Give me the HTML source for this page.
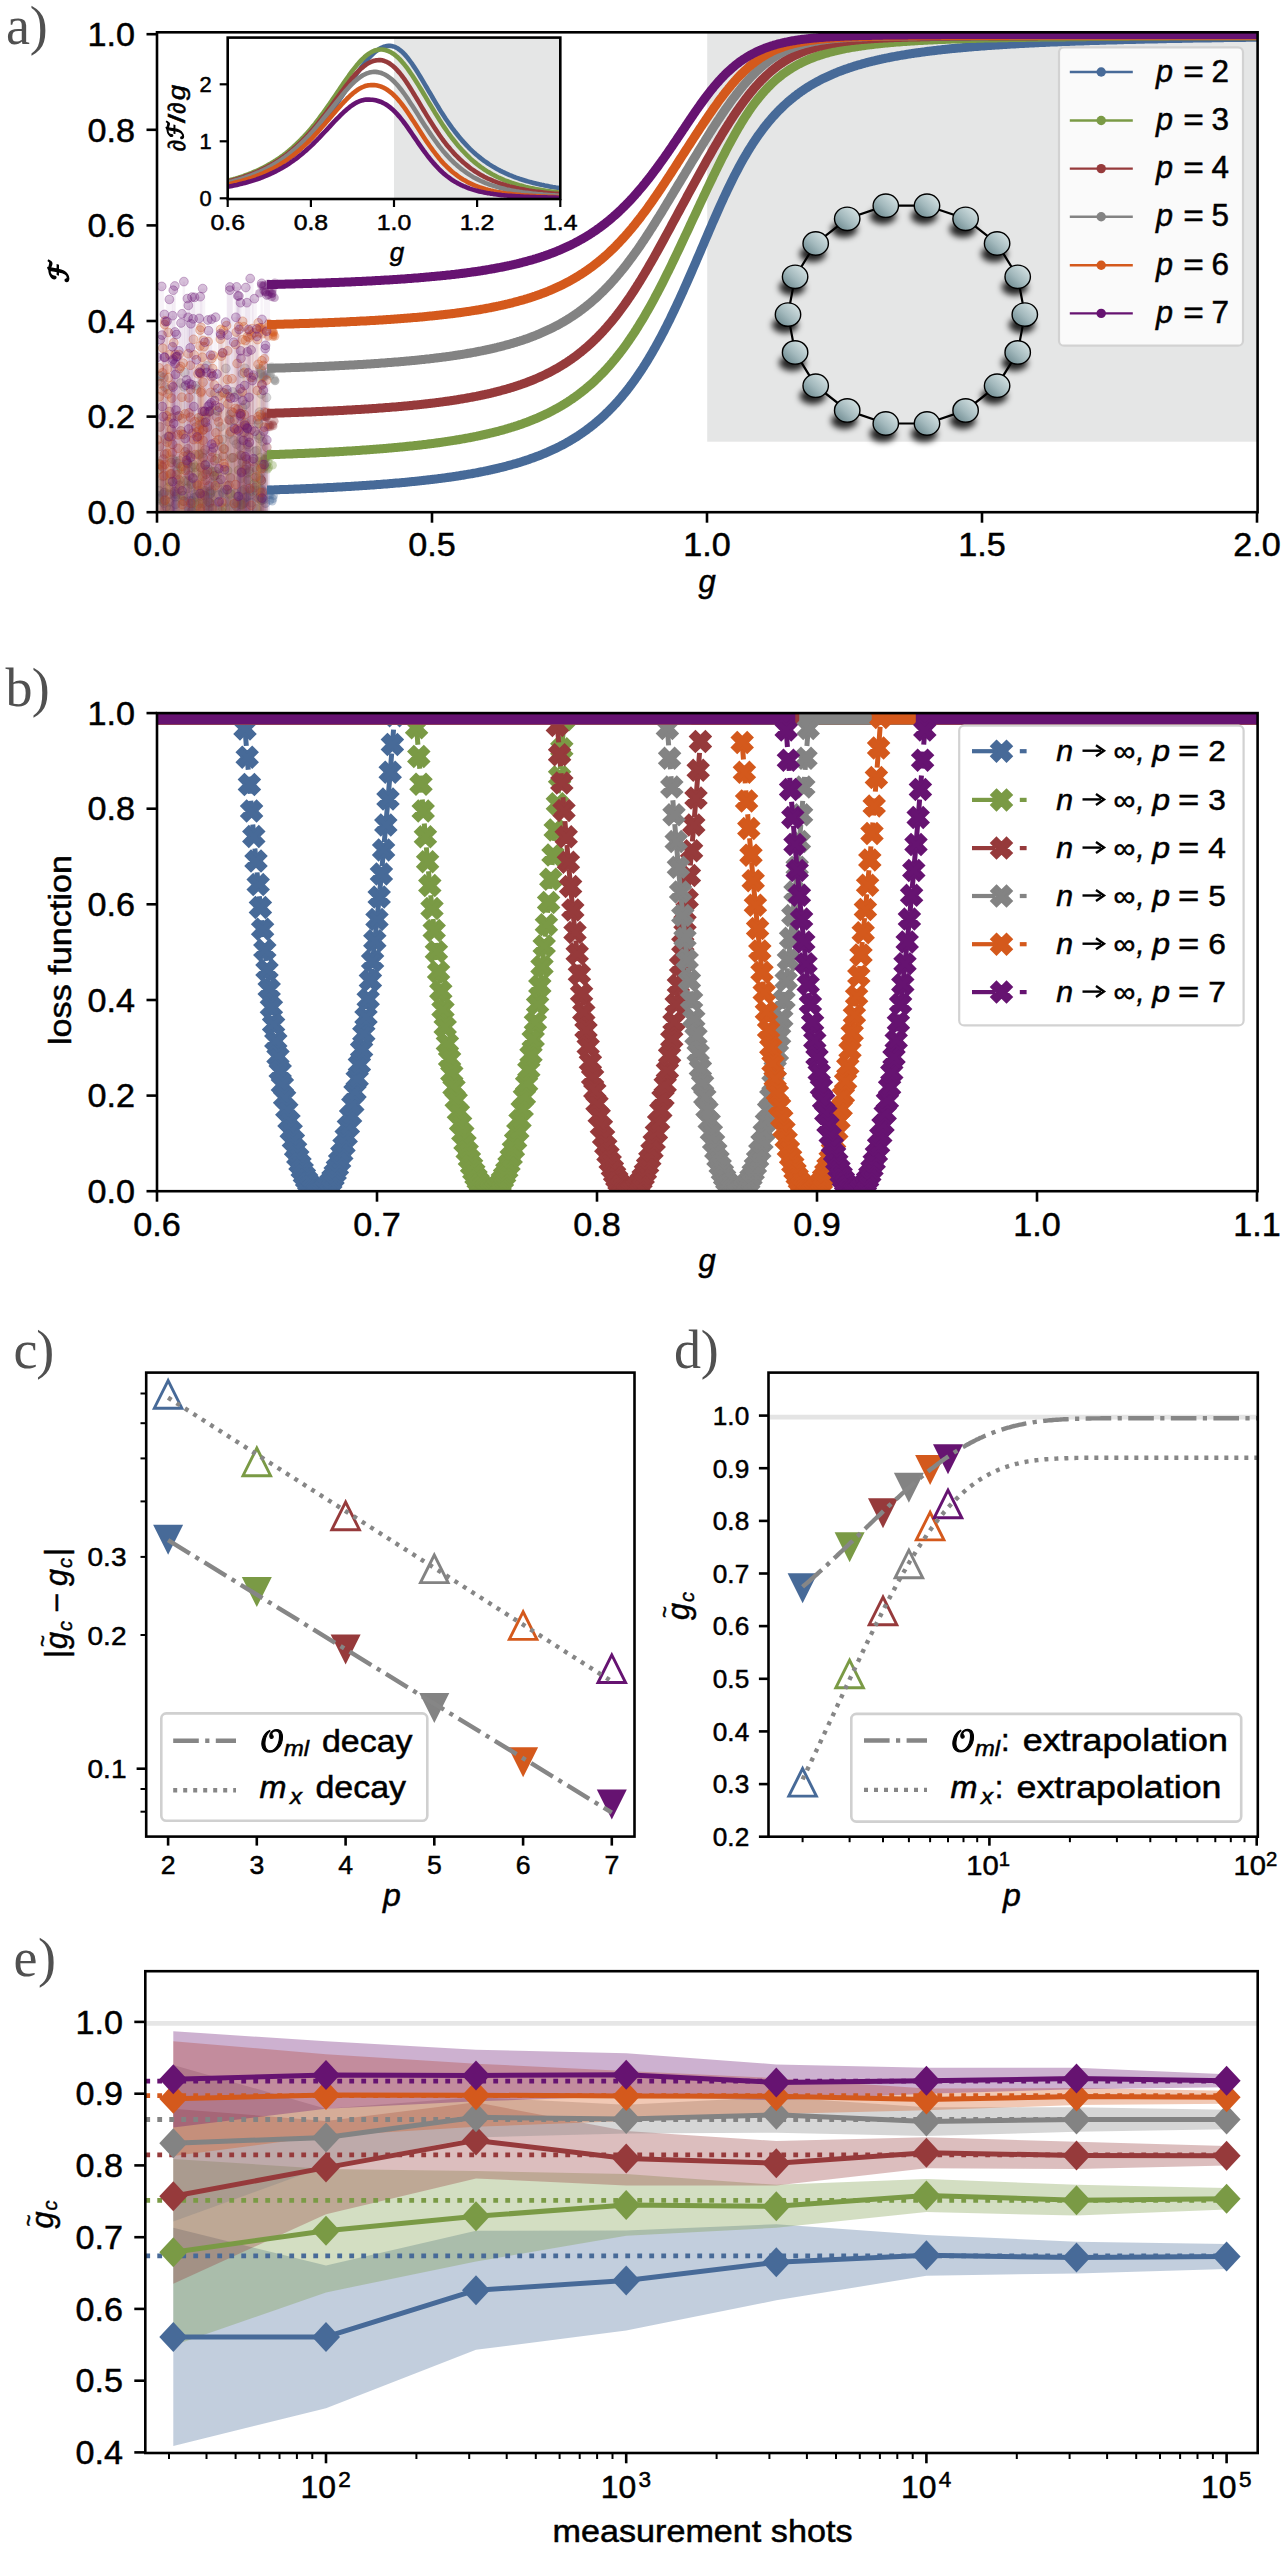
<!DOCTYPE html><html><head><meta charset="utf-8"><title>Figure</title><style>html,body{margin:0;padding:0;background:#fff;}svg{display:block;}</style></head><body><svg xmlns="http://www.w3.org/2000/svg" width="1288" height="2550" viewBox="0 0 1288 2550"><defs><clipPath id="clipA"><rect x="157" y="32.3" width="1100.6" height="479.9"/></clipPath><clipPath id="clipI"><rect x="227.7" y="37.6" width="332.6" height="161.4"/></clipPath><clipPath id="clipB"><rect x="157" y="713.1" width="1100.6" height="478.1"/></clipPath><clipPath id="clipC"><rect x="146" y="1372.6" width="488.5" height="463.9"/></clipPath><clipPath id="clipD"><rect x="768.5" y="1372.6" width="489.3" height="464.1"/></clipPath><clipPath id="clipE"><rect x="145" y="1971.2" width="1112.7" height="481.6"/></clipPath></defs><g id="panel-a"><rect x="707.2" y="32.3" width="550.4" height="409.4" fill="#e5e6e6" /><g clip-path="url(#clipA)"><rect x="174.5" y="494.4" width="4.6" height="18.6" fill="#476a98" fill-opacity="0.05"/><rect x="155.8" y="490.7" width="6.6" height="22.3" fill="#476a98" fill-opacity="0.05"/><rect x="205.1" y="501.3" width="5.6" height="11.7" fill="#476a98" fill-opacity="0.05"/><rect x="234.5" y="502.2" width="4.5" height="10.8" fill="#476a98" fill-opacity="0.05"/><rect x="201" y="493" width="4.5" height="20" fill="#476a98" fill-opacity="0.05"/><rect x="207.8" y="493.8" width="5.2" height="19.2" fill="#476a98" fill-opacity="0.05"/><rect x="156.3" y="496" width="4.2" height="17" fill="#476a98" fill-opacity="0.05"/><rect x="208.2" y="492.9" width="4.8" height="20.1" fill="#476a98" fill-opacity="0.05"/><rect x="257.2" y="496.2" width="6.9" height="16.8" fill="#476a98" fill-opacity="0.05"/><rect x="247.3" y="490.2" width="6.7" height="22.8" fill="#476a98" fill-opacity="0.05"/><rect x="234.2" y="502.7" width="6.2" height="10.3" fill="#476a98" fill-opacity="0.05"/><rect x="167.6" y="494.3" width="2.6" height="18.7" fill="#476a98" fill-opacity="0.05"/><rect x="252.9" y="490.4" width="4.8" height="22.6" fill="#476a98" fill-opacity="0.05"/><rect x="249.4" y="502.7" width="3.8" height="10.3" fill="#476a98" fill-opacity="0.05"/><rect x="171.9" y="496.8" width="6.6" height="16.2" fill="#476a98" fill-opacity="0.05"/><rect x="224.8" y="502" width="3.6" height="11" fill="#476a98" fill-opacity="0.05"/><rect x="155.9" y="499.9" width="6.7" height="13.1" fill="#476a98" fill-opacity="0.05"/><rect x="168.2" y="509.3" width="3.2" height="3.7" fill="#476a98" fill-opacity="0.05"/><rect x="189.7" y="511.2" width="4.1" height="1.8" fill="#476a98" fill-opacity="0.05"/><rect x="171" y="493.9" width="6.8" height="19.1" fill="#476a98" fill-opacity="0.05"/><rect x="238" y="500.1" width="5" height="12.9" fill="#476a98" fill-opacity="0.05"/><rect x="243.7" y="496.6" width="6.7" height="16.4" fill="#476a98" fill-opacity="0.05"/><rect x="192.6" y="494.3" width="4.7" height="18.7" fill="#476a98" fill-opacity="0.05"/><rect x="190.5" y="500.9" width="3.1" height="12.1" fill="#476a98" fill-opacity="0.05"/><rect x="166.5" y="502" width="5.6" height="11" fill="#476a98" fill-opacity="0.05"/><rect x="163.9" y="506.7" width="4.6" height="6.3" fill="#476a98" fill-opacity="0.05"/><rect x="233.1" y="493.3" width="4.5" height="19.7" fill="#476a98" fill-opacity="0.05"/><rect x="221.6" y="492.5" width="2.7" height="20.5" fill="#476a98" fill-opacity="0.05"/><rect x="161.8" y="494.4" width="2.7" height="18.6" fill="#476a98" fill-opacity="0.05"/><rect x="206.5" y="491.7" width="6.6" height="21.3" fill="#476a98" fill-opacity="0.05"/><rect x="197.8" y="496.1" width="6.8" height="16.9" fill="#476a98" fill-opacity="0.05"/><rect x="246.9" y="495.2" width="6.8" height="17.8" fill="#476a98" fill-opacity="0.05"/><rect x="234.1" y="506.1" width="3.8" height="6.9" fill="#476a98" fill-opacity="0.05"/><rect x="222.1" y="493.8" width="2.2" height="19.2" fill="#476a98" fill-opacity="0.05"/><rect x="215.4" y="502.7" width="4.8" height="10.3" fill="#476a98" fill-opacity="0.05"/><rect x="258.6" y="500.4" width="5.7" height="12.6" fill="#476a98" fill-opacity="0.05"/><rect x="262.9" y="503.1" width="5.2" height="9.9" fill="#476a98" fill-opacity="0.05"/><rect x="193.1" y="497.7" width="2.3" height="15.3" fill="#476a98" fill-opacity="0.05"/><rect x="181.8" y="495.9" width="3.2" height="17.1" fill="#476a98" fill-opacity="0.05"/><rect x="241.8" y="497.6" width="5.5" height="15.4" fill="#476a98" fill-opacity="0.05"/><rect x="162.9" y="503.1" width="2.3" height="9.9" fill="#476a98" fill-opacity="0.05"/><rect x="194" y="505.5" width="6.2" height="7.5" fill="#476a98" fill-opacity="0.05"/><rect x="161.2" y="492.3" width="6.9" height="20.7" fill="#476a98" fill-opacity="0.05"/><rect x="190.5" y="503.5" width="3.2" height="9.5" fill="#476a98" fill-opacity="0.05"/><rect x="163.6" y="500.4" width="2.3" height="12.6" fill="#476a98" fill-opacity="0.05"/><rect x="185.5" y="508.8" width="6.9" height="4.2" fill="#476a98" fill-opacity="0.05"/><rect x="241" y="503.5" width="5.8" height="9.5" fill="#476a98" fill-opacity="0.05"/><rect x="254.5" y="509" width="4.3" height="4" fill="#476a98" fill-opacity="0.05"/><rect x="242" y="502.5" width="4.4" height="10.5" fill="#476a98" fill-opacity="0.05"/><rect x="215.5" y="494.9" width="6.6" height="18.1" fill="#476a98" fill-opacity="0.05"/><rect x="222.9" y="489.9" width="3.8" height="23.1" fill="#476a98" fill-opacity="0.05"/><rect x="195.6" y="496.6" width="2.3" height="16.4" fill="#476a98" fill-opacity="0.05"/><rect x="173" y="504.2" width="5.1" height="8.8" fill="#476a98" fill-opacity="0.05"/><rect x="203.2" y="495.9" width="3.6" height="17.1" fill="#476a98" fill-opacity="0.05"/><rect x="234.9" y="496.5" width="5.4" height="16.5" fill="#476a98" fill-opacity="0.05"/><rect x="160.5" y="492.7" width="6.7" height="20.3" fill="#476a98" fill-opacity="0.05"/><rect x="157.4" y="498.4" width="3.8" height="14.6" fill="#476a98" fill-opacity="0.05"/><rect x="240.1" y="491.1" width="3.2" height="21.9" fill="#476a98" fill-opacity="0.05"/><rect x="188.9" y="500.9" width="2.3" height="12.1" fill="#476a98" fill-opacity="0.05"/><rect x="231" y="503.8" width="6.2" height="9.2" fill="#476a98" fill-opacity="0.05"/><circle cx="176.8" cy="494.4" r="4.4" fill="#476a98" fill-opacity="0.27" stroke="#476a98" stroke-opacity="0.3" stroke-width="1"/><circle cx="159.1" cy="490.7" r="4.4" fill="#476a98" fill-opacity="0.27" stroke="#476a98" stroke-opacity="0.3" stroke-width="1"/><circle cx="208" cy="501.3" r="4.4" fill="#476a98" fill-opacity="0.27" stroke="#476a98" stroke-opacity="0.3" stroke-width="1"/><circle cx="236.7" cy="502.2" r="4.4" fill="#476a98" fill-opacity="0.27" stroke="#476a98" stroke-opacity="0.3" stroke-width="1"/><circle cx="203.2" cy="493" r="4.4" fill="#476a98" fill-opacity="0.27" stroke="#476a98" stroke-opacity="0.3" stroke-width="1"/><circle cx="210.4" cy="493.8" r="4.4" fill="#476a98" fill-opacity="0.27" stroke="#476a98" stroke-opacity="0.3" stroke-width="1"/><circle cx="158.4" cy="496" r="4.4" fill="#476a98" fill-opacity="0.27" stroke="#476a98" stroke-opacity="0.3" stroke-width="1"/><circle cx="210.6" cy="492.9" r="4.4" fill="#476a98" fill-opacity="0.27" stroke="#476a98" stroke-opacity="0.3" stroke-width="1"/><circle cx="260.6" cy="496.2" r="4.4" fill="#476a98" fill-opacity="0.27" stroke="#476a98" stroke-opacity="0.3" stroke-width="1"/><circle cx="250.6" cy="490.2" r="4.4" fill="#476a98" fill-opacity="0.27" stroke="#476a98" stroke-opacity="0.3" stroke-width="1"/><circle cx="237.3" cy="502.7" r="4.4" fill="#476a98" fill-opacity="0.27" stroke="#476a98" stroke-opacity="0.3" stroke-width="1"/><circle cx="169" cy="494.3" r="4.4" fill="#476a98" fill-opacity="0.27" stroke="#476a98" stroke-opacity="0.3" stroke-width="1"/><circle cx="255.3" cy="490.4" r="4.4" fill="#476a98" fill-opacity="0.27" stroke="#476a98" stroke-opacity="0.3" stroke-width="1"/><circle cx="251.3" cy="502.7" r="4.4" fill="#476a98" fill-opacity="0.27" stroke="#476a98" stroke-opacity="0.3" stroke-width="1"/><circle cx="175.2" cy="496.8" r="4.4" fill="#476a98" fill-opacity="0.27" stroke="#476a98" stroke-opacity="0.3" stroke-width="1"/><circle cx="226.6" cy="502" r="4.4" fill="#476a98" fill-opacity="0.27" stroke="#476a98" stroke-opacity="0.3" stroke-width="1"/><circle cx="159.3" cy="499.9" r="4.4" fill="#476a98" fill-opacity="0.27" stroke="#476a98" stroke-opacity="0.3" stroke-width="1"/><circle cx="169.8" cy="509.3" r="4.4" fill="#476a98" fill-opacity="0.27" stroke="#476a98" stroke-opacity="0.3" stroke-width="1"/><circle cx="191.8" cy="511.2" r="4.4" fill="#476a98" fill-opacity="0.27" stroke="#476a98" stroke-opacity="0.3" stroke-width="1"/><circle cx="174.4" cy="493.9" r="4.4" fill="#476a98" fill-opacity="0.27" stroke="#476a98" stroke-opacity="0.3" stroke-width="1"/><circle cx="240.5" cy="500.1" r="4.4" fill="#476a98" fill-opacity="0.27" stroke="#476a98" stroke-opacity="0.3" stroke-width="1"/><circle cx="247" cy="496.6" r="4.4" fill="#476a98" fill-opacity="0.27" stroke="#476a98" stroke-opacity="0.3" stroke-width="1"/><circle cx="194.9" cy="494.3" r="4.4" fill="#476a98" fill-opacity="0.27" stroke="#476a98" stroke-opacity="0.3" stroke-width="1"/><circle cx="192.1" cy="500.9" r="4.4" fill="#476a98" fill-opacity="0.27" stroke="#476a98" stroke-opacity="0.3" stroke-width="1"/><circle cx="169.3" cy="502" r="4.4" fill="#476a98" fill-opacity="0.27" stroke="#476a98" stroke-opacity="0.3" stroke-width="1"/><circle cx="166.2" cy="506.7" r="4.4" fill="#476a98" fill-opacity="0.27" stroke="#476a98" stroke-opacity="0.3" stroke-width="1"/><circle cx="235.4" cy="493.3" r="4.4" fill="#476a98" fill-opacity="0.27" stroke="#476a98" stroke-opacity="0.3" stroke-width="1"/><circle cx="222.9" cy="492.5" r="4.4" fill="#476a98" fill-opacity="0.27" stroke="#476a98" stroke-opacity="0.3" stroke-width="1"/><circle cx="163.1" cy="494.4" r="4.4" fill="#476a98" fill-opacity="0.27" stroke="#476a98" stroke-opacity="0.3" stroke-width="1"/><circle cx="209.8" cy="491.7" r="4.4" fill="#476a98" fill-opacity="0.27" stroke="#476a98" stroke-opacity="0.3" stroke-width="1"/><circle cx="201.2" cy="496.1" r="4.4" fill="#476a98" fill-opacity="0.27" stroke="#476a98" stroke-opacity="0.3" stroke-width="1"/><circle cx="250.3" cy="495.2" r="4.4" fill="#476a98" fill-opacity="0.27" stroke="#476a98" stroke-opacity="0.3" stroke-width="1"/><circle cx="236" cy="506.1" r="4.4" fill="#476a98" fill-opacity="0.27" stroke="#476a98" stroke-opacity="0.3" stroke-width="1"/><circle cx="223.2" cy="493.8" r="4.4" fill="#476a98" fill-opacity="0.27" stroke="#476a98" stroke-opacity="0.3" stroke-width="1"/><circle cx="217.8" cy="502.7" r="4.4" fill="#476a98" fill-opacity="0.27" stroke="#476a98" stroke-opacity="0.3" stroke-width="1"/><circle cx="261.4" cy="500.4" r="4.4" fill="#476a98" fill-opacity="0.27" stroke="#476a98" stroke-opacity="0.3" stroke-width="1"/><circle cx="265.5" cy="503.1" r="4.4" fill="#476a98" fill-opacity="0.27" stroke="#476a98" stroke-opacity="0.3" stroke-width="1"/><circle cx="194.2" cy="497.7" r="4.4" fill="#476a98" fill-opacity="0.27" stroke="#476a98" stroke-opacity="0.3" stroke-width="1"/><circle cx="183.4" cy="495.9" r="4.4" fill="#476a98" fill-opacity="0.27" stroke="#476a98" stroke-opacity="0.3" stroke-width="1"/><circle cx="244.6" cy="497.6" r="4.4" fill="#476a98" fill-opacity="0.27" stroke="#476a98" stroke-opacity="0.3" stroke-width="1"/><circle cx="164" cy="503.1" r="4.4" fill="#476a98" fill-opacity="0.27" stroke="#476a98" stroke-opacity="0.3" stroke-width="1"/><circle cx="197.1" cy="505.5" r="4.4" fill="#476a98" fill-opacity="0.27" stroke="#476a98" stroke-opacity="0.3" stroke-width="1"/><circle cx="164.7" cy="492.3" r="4.4" fill="#476a98" fill-opacity="0.27" stroke="#476a98" stroke-opacity="0.3" stroke-width="1"/><circle cx="192.1" cy="503.5" r="4.4" fill="#476a98" fill-opacity="0.27" stroke="#476a98" stroke-opacity="0.3" stroke-width="1"/><circle cx="164.7" cy="500.4" r="4.4" fill="#476a98" fill-opacity="0.27" stroke="#476a98" stroke-opacity="0.3" stroke-width="1"/><circle cx="188.9" cy="508.8" r="4.4" fill="#476a98" fill-opacity="0.27" stroke="#476a98" stroke-opacity="0.3" stroke-width="1"/><circle cx="243.9" cy="503.5" r="4.4" fill="#476a98" fill-opacity="0.27" stroke="#476a98" stroke-opacity="0.3" stroke-width="1"/><circle cx="256.6" cy="509" r="4.4" fill="#476a98" fill-opacity="0.27" stroke="#476a98" stroke-opacity="0.3" stroke-width="1"/><circle cx="244.2" cy="502.5" r="4.4" fill="#476a98" fill-opacity="0.27" stroke="#476a98" stroke-opacity="0.3" stroke-width="1"/><circle cx="218.8" cy="494.9" r="4.4" fill="#476a98" fill-opacity="0.27" stroke="#476a98" stroke-opacity="0.3" stroke-width="1"/><circle cx="224.8" cy="489.9" r="4.4" fill="#476a98" fill-opacity="0.27" stroke="#476a98" stroke-opacity="0.3" stroke-width="1"/><circle cx="196.8" cy="496.6" r="4.4" fill="#476a98" fill-opacity="0.27" stroke="#476a98" stroke-opacity="0.3" stroke-width="1"/><circle cx="175.6" cy="504.2" r="4.4" fill="#476a98" fill-opacity="0.27" stroke="#476a98" stroke-opacity="0.3" stroke-width="1"/><circle cx="205" cy="495.9" r="4.4" fill="#476a98" fill-opacity="0.27" stroke="#476a98" stroke-opacity="0.3" stroke-width="1"/><circle cx="237.6" cy="496.5" r="4.4" fill="#476a98" fill-opacity="0.27" stroke="#476a98" stroke-opacity="0.3" stroke-width="1"/><circle cx="163.9" cy="492.7" r="4.4" fill="#476a98" fill-opacity="0.27" stroke="#476a98" stroke-opacity="0.3" stroke-width="1"/><circle cx="159.3" cy="498.4" r="4.4" fill="#476a98" fill-opacity="0.27" stroke="#476a98" stroke-opacity="0.3" stroke-width="1"/><circle cx="241.8" cy="491.1" r="4.4" fill="#476a98" fill-opacity="0.27" stroke="#476a98" stroke-opacity="0.3" stroke-width="1"/><circle cx="190" cy="500.9" r="4.4" fill="#476a98" fill-opacity="0.27" stroke="#476a98" stroke-opacity="0.3" stroke-width="1"/><circle cx="234.1" cy="503.8" r="4.4" fill="#476a98" fill-opacity="0.27" stroke="#476a98" stroke-opacity="0.3" stroke-width="1"/><circle cx="260" cy="489" r="4.3" fill="#476a98" fill-opacity="0.35"/><circle cx="270.4" cy="489.6" r="4.3" fill="#476a98" fill-opacity="0.35"/><circle cx="272.2" cy="501.3" r="4.3" fill="#476a98" fill-opacity="0.35"/><circle cx="261.7" cy="488.8" r="4.3" fill="#476a98" fill-opacity="0.35"/><circle cx="263.6" cy="491.6" r="4.3" fill="#476a98" fill-opacity="0.35"/><circle cx="261.6" cy="499.6" r="4.3" fill="#476a98" fill-opacity="0.35"/><circle cx="269.9" cy="500.4" r="4.3" fill="#476a98" fill-opacity="0.35"/><circle cx="271.2" cy="490.2" r="4.3" fill="#476a98" fill-opacity="0.35"/><circle cx="264" cy="499.6" r="4.3" fill="#476a98" fill-opacity="0.35"/><circle cx="259.2" cy="497.6" r="4.3" fill="#476a98" fill-opacity="0.35"/><circle cx="259.8" cy="495.1" r="4.3" fill="#476a98" fill-opacity="0.35"/><circle cx="270.1" cy="495.2" r="4.3" fill="#476a98" fill-opacity="0.35"/><circle cx="268.7" cy="494.7" r="4.3" fill="#476a98" fill-opacity="0.35"/><circle cx="273.6" cy="495.8" r="4.3" fill="#476a98" fill-opacity="0.35"/><circle cx="273" cy="498.7" r="4.3" fill="#476a98" fill-opacity="0.35"/><circle cx="261.1" cy="500.8" r="4.3" fill="#476a98" fill-opacity="0.35"/><rect x="242" y="489.5" width="4.6" height="23.5" fill="#7a9a45" fill-opacity="0.05"/><rect x="180.1" y="495.3" width="4.3" height="17.7" fill="#7a9a45" fill-opacity="0.05"/><rect x="240.7" y="504.9" width="2.6" height="8.1" fill="#7a9a45" fill-opacity="0.05"/><rect x="253" y="485.1" width="6.7" height="27.9" fill="#7a9a45" fill-opacity="0.05"/><rect x="215.6" y="474.9" width="2.6" height="38.1" fill="#7a9a45" fill-opacity="0.05"/><rect x="169.3" y="459.2" width="6.8" height="53.8" fill="#7a9a45" fill-opacity="0.05"/><rect x="223.8" y="508.3" width="3.6" height="4.7" fill="#7a9a45" fill-opacity="0.05"/><rect x="197" y="503.6" width="3.4" height="9.4" fill="#7a9a45" fill-opacity="0.05"/><rect x="253.6" y="470.2" width="6.7" height="42.8" fill="#7a9a45" fill-opacity="0.05"/><rect x="178.2" y="469.2" width="6.8" height="43.8" fill="#7a9a45" fill-opacity="0.05"/><rect x="180" y="501.1" width="5.5" height="11.9" fill="#7a9a45" fill-opacity="0.05"/><rect x="206.7" y="503.1" width="6.8" height="9.9" fill="#7a9a45" fill-opacity="0.05"/><rect x="209.9" y="508.8" width="2.9" height="4.2" fill="#7a9a45" fill-opacity="0.05"/><rect x="174.5" y="470.4" width="6.3" height="42.6" fill="#7a9a45" fill-opacity="0.05"/><rect x="195.6" y="490.9" width="5.1" height="22.1" fill="#7a9a45" fill-opacity="0.05"/><rect x="228.8" y="493.3" width="3.5" height="19.7" fill="#7a9a45" fill-opacity="0.05"/><rect x="206.3" y="469.6" width="5" height="43.4" fill="#7a9a45" fill-opacity="0.05"/><rect x="162.3" y="501.3" width="2.5" height="11.7" fill="#7a9a45" fill-opacity="0.05"/><rect x="199.7" y="476.3" width="6" height="36.7" fill="#7a9a45" fill-opacity="0.05"/><rect x="200.1" y="503.5" width="5.2" height="9.5" fill="#7a9a45" fill-opacity="0.05"/><rect x="205" y="505.5" width="2.5" height="7.5" fill="#7a9a45" fill-opacity="0.05"/><rect x="158.1" y="469.4" width="3.1" height="43.6" fill="#7a9a45" fill-opacity="0.05"/><rect x="185.4" y="463.2" width="3.5" height="49.8" fill="#7a9a45" fill-opacity="0.05"/><rect x="259.4" y="480.3" width="4.4" height="32.7" fill="#7a9a45" fill-opacity="0.05"/><rect x="252.6" y="483.7" width="3.2" height="29.3" fill="#7a9a45" fill-opacity="0.05"/><rect x="258.7" y="467.7" width="3.5" height="45.3" fill="#7a9a45" fill-opacity="0.05"/><rect x="238.1" y="504.7" width="4.8" height="8.3" fill="#7a9a45" fill-opacity="0.05"/><rect x="203.4" y="491" width="2.7" height="22" fill="#7a9a45" fill-opacity="0.05"/><rect x="257.2" y="457.6" width="5.8" height="55.4" fill="#7a9a45" fill-opacity="0.05"/><rect x="187.9" y="455.5" width="4.3" height="57.5" fill="#7a9a45" fill-opacity="0.05"/><rect x="220.2" y="507.8" width="4" height="5.2" fill="#7a9a45" fill-opacity="0.05"/><rect x="219.2" y="511.6" width="4.9" height="1.4" fill="#7a9a45" fill-opacity="0.05"/><rect x="204.1" y="464.3" width="2.8" height="48.7" fill="#7a9a45" fill-opacity="0.05"/><rect x="181.3" y="480.9" width="6.5" height="32.1" fill="#7a9a45" fill-opacity="0.05"/><rect x="192.1" y="464.6" width="2.6" height="48.4" fill="#7a9a45" fill-opacity="0.05"/><rect x="225.4" y="470.7" width="4.7" height="42.3" fill="#7a9a45" fill-opacity="0.05"/><rect x="184.8" y="481.1" width="6.8" height="31.9" fill="#7a9a45" fill-opacity="0.05"/><rect x="193.7" y="467.2" width="2.7" height="45.8" fill="#7a9a45" fill-opacity="0.05"/><rect x="193.2" y="472.7" width="5.5" height="40.3" fill="#7a9a45" fill-opacity="0.05"/><rect x="189.3" y="510.1" width="6.9" height="2.9" fill="#7a9a45" fill-opacity="0.05"/><rect x="244.6" y="480.1" width="7" height="32.9" fill="#7a9a45" fill-opacity="0.05"/><rect x="215.2" y="458.7" width="3.7" height="54.3" fill="#7a9a45" fill-opacity="0.05"/><rect x="156.5" y="463.7" width="5.1" height="49.3" fill="#7a9a45" fill-opacity="0.05"/><rect x="235.2" y="470.1" width="6.7" height="42.9" fill="#7a9a45" fill-opacity="0.05"/><rect x="209.7" y="471.8" width="5.1" height="41.2" fill="#7a9a45" fill-opacity="0.05"/><rect x="239.5" y="461.9" width="6.4" height="51.1" fill="#7a9a45" fill-opacity="0.05"/><rect x="208.7" y="490.2" width="5.5" height="22.8" fill="#7a9a45" fill-opacity="0.05"/><rect x="190.1" y="484.1" width="2.2" height="28.9" fill="#7a9a45" fill-opacity="0.05"/><rect x="247.5" y="471.3" width="3.7" height="41.7" fill="#7a9a45" fill-opacity="0.05"/><rect x="172.8" y="461.7" width="6.5" height="51.3" fill="#7a9a45" fill-opacity="0.05"/><rect x="185.4" y="488.4" width="4.3" height="24.6" fill="#7a9a45" fill-opacity="0.05"/><rect x="208.2" y="498" width="4.2" height="15" fill="#7a9a45" fill-opacity="0.05"/><rect x="249.8" y="491.3" width="3.5" height="21.7" fill="#7a9a45" fill-opacity="0.05"/><rect x="168.3" y="481.6" width="2.8" height="31.4" fill="#7a9a45" fill-opacity="0.05"/><rect x="191.6" y="502.9" width="5.3" height="10.1" fill="#7a9a45" fill-opacity="0.05"/><rect x="213.6" y="471.4" width="4" height="41.6" fill="#7a9a45" fill-opacity="0.05"/><rect x="228.4" y="458" width="6.4" height="55" fill="#7a9a45" fill-opacity="0.05"/><rect x="167.5" y="487.1" width="2.2" height="25.9" fill="#7a9a45" fill-opacity="0.05"/><rect x="236.9" y="455.2" width="6.4" height="57.8" fill="#7a9a45" fill-opacity="0.05"/><rect x="217" y="482.7" width="2.5" height="30.3" fill="#7a9a45" fill-opacity="0.05"/><rect x="210.8" y="476.3" width="6.1" height="36.7" fill="#7a9a45" fill-opacity="0.05"/><rect x="196.8" y="454.2" width="4.3" height="58.8" fill="#7a9a45" fill-opacity="0.05"/><rect x="188.8" y="467.2" width="5.7" height="45.8" fill="#7a9a45" fill-opacity="0.05"/><rect x="252.8" y="477.9" width="4.3" height="35.1" fill="#7a9a45" fill-opacity="0.05"/><rect x="264.9" y="465" width="2.8" height="48" fill="#7a9a45" fill-opacity="0.05"/><rect x="172.9" y="479.7" width="6.7" height="33.3" fill="#7a9a45" fill-opacity="0.05"/><rect x="177.7" y="466.7" width="5.2" height="46.3" fill="#7a9a45" fill-opacity="0.05"/><rect x="228.8" y="494.4" width="3.1" height="18.6" fill="#7a9a45" fill-opacity="0.05"/><rect x="238.6" y="504.6" width="5" height="8.4" fill="#7a9a45" fill-opacity="0.05"/><rect x="246" y="473" width="3" height="40" fill="#7a9a45" fill-opacity="0.05"/><circle cx="244.3" cy="489.5" r="4.4" fill="#7a9a45" fill-opacity="0.27" stroke="#7a9a45" stroke-opacity="0.3" stroke-width="1"/><circle cx="182.3" cy="495.3" r="4.4" fill="#7a9a45" fill-opacity="0.27" stroke="#7a9a45" stroke-opacity="0.3" stroke-width="1"/><circle cx="242" cy="504.9" r="4.4" fill="#7a9a45" fill-opacity="0.27" stroke="#7a9a45" stroke-opacity="0.3" stroke-width="1"/><circle cx="256.3" cy="485.1" r="4.4" fill="#7a9a45" fill-opacity="0.27" stroke="#7a9a45" stroke-opacity="0.3" stroke-width="1"/><circle cx="216.9" cy="474.9" r="4.4" fill="#7a9a45" fill-opacity="0.27" stroke="#7a9a45" stroke-opacity="0.3" stroke-width="1"/><circle cx="172.8" cy="459.2" r="4.4" fill="#7a9a45" fill-opacity="0.27" stroke="#7a9a45" stroke-opacity="0.3" stroke-width="1"/><circle cx="225.6" cy="508.3" r="4.4" fill="#7a9a45" fill-opacity="0.27" stroke="#7a9a45" stroke-opacity="0.3" stroke-width="1"/><circle cx="198.7" cy="503.6" r="4.4" fill="#7a9a45" fill-opacity="0.27" stroke="#7a9a45" stroke-opacity="0.3" stroke-width="1"/><circle cx="256.9" cy="470.2" r="4.4" fill="#7a9a45" fill-opacity="0.27" stroke="#7a9a45" stroke-opacity="0.3" stroke-width="1"/><circle cx="181.6" cy="469.2" r="4.4" fill="#7a9a45" fill-opacity="0.27" stroke="#7a9a45" stroke-opacity="0.3" stroke-width="1"/><circle cx="182.8" cy="501.1" r="4.4" fill="#7a9a45" fill-opacity="0.27" stroke="#7a9a45" stroke-opacity="0.3" stroke-width="1"/><circle cx="210.1" cy="503.1" r="4.4" fill="#7a9a45" fill-opacity="0.27" stroke="#7a9a45" stroke-opacity="0.3" stroke-width="1"/><circle cx="211.3" cy="508.8" r="4.4" fill="#7a9a45" fill-opacity="0.27" stroke="#7a9a45" stroke-opacity="0.3" stroke-width="1"/><circle cx="177.7" cy="470.4" r="4.4" fill="#7a9a45" fill-opacity="0.27" stroke="#7a9a45" stroke-opacity="0.3" stroke-width="1"/><circle cx="198.2" cy="490.9" r="4.4" fill="#7a9a45" fill-opacity="0.27" stroke="#7a9a45" stroke-opacity="0.3" stroke-width="1"/><circle cx="230.5" cy="493.3" r="4.4" fill="#7a9a45" fill-opacity="0.27" stroke="#7a9a45" stroke-opacity="0.3" stroke-width="1"/><circle cx="208.8" cy="469.6" r="4.4" fill="#7a9a45" fill-opacity="0.27" stroke="#7a9a45" stroke-opacity="0.3" stroke-width="1"/><circle cx="163.6" cy="501.3" r="4.4" fill="#7a9a45" fill-opacity="0.27" stroke="#7a9a45" stroke-opacity="0.3" stroke-width="1"/><circle cx="202.7" cy="476.3" r="4.4" fill="#7a9a45" fill-opacity="0.27" stroke="#7a9a45" stroke-opacity="0.3" stroke-width="1"/><circle cx="202.7" cy="503.5" r="4.4" fill="#7a9a45" fill-opacity="0.27" stroke="#7a9a45" stroke-opacity="0.3" stroke-width="1"/><circle cx="206.2" cy="505.5" r="4.4" fill="#7a9a45" fill-opacity="0.27" stroke="#7a9a45" stroke-opacity="0.3" stroke-width="1"/><circle cx="159.6" cy="469.4" r="4.4" fill="#7a9a45" fill-opacity="0.27" stroke="#7a9a45" stroke-opacity="0.3" stroke-width="1"/><circle cx="187.1" cy="463.2" r="4.4" fill="#7a9a45" fill-opacity="0.27" stroke="#7a9a45" stroke-opacity="0.3" stroke-width="1"/><circle cx="261.5" cy="480.3" r="4.4" fill="#7a9a45" fill-opacity="0.27" stroke="#7a9a45" stroke-opacity="0.3" stroke-width="1"/><circle cx="254.1" cy="483.7" r="4.4" fill="#7a9a45" fill-opacity="0.27" stroke="#7a9a45" stroke-opacity="0.3" stroke-width="1"/><circle cx="260.5" cy="467.7" r="4.4" fill="#7a9a45" fill-opacity="0.27" stroke="#7a9a45" stroke-opacity="0.3" stroke-width="1"/><circle cx="240.5" cy="504.7" r="4.4" fill="#7a9a45" fill-opacity="0.27" stroke="#7a9a45" stroke-opacity="0.3" stroke-width="1"/><circle cx="204.7" cy="491" r="4.4" fill="#7a9a45" fill-opacity="0.27" stroke="#7a9a45" stroke-opacity="0.3" stroke-width="1"/><circle cx="260.1" cy="457.6" r="4.4" fill="#7a9a45" fill-opacity="0.27" stroke="#7a9a45" stroke-opacity="0.3" stroke-width="1"/><circle cx="190.1" cy="455.5" r="4.4" fill="#7a9a45" fill-opacity="0.27" stroke="#7a9a45" stroke-opacity="0.3" stroke-width="1"/><circle cx="222.3" cy="507.8" r="4.4" fill="#7a9a45" fill-opacity="0.27" stroke="#7a9a45" stroke-opacity="0.3" stroke-width="1"/><circle cx="221.6" cy="511.6" r="4.4" fill="#7a9a45" fill-opacity="0.27" stroke="#7a9a45" stroke-opacity="0.3" stroke-width="1"/><circle cx="205.5" cy="464.3" r="4.4" fill="#7a9a45" fill-opacity="0.27" stroke="#7a9a45" stroke-opacity="0.3" stroke-width="1"/><circle cx="184.5" cy="480.9" r="4.4" fill="#7a9a45" fill-opacity="0.27" stroke="#7a9a45" stroke-opacity="0.3" stroke-width="1"/><circle cx="193.4" cy="464.6" r="4.4" fill="#7a9a45" fill-opacity="0.27" stroke="#7a9a45" stroke-opacity="0.3" stroke-width="1"/><circle cx="227.7" cy="470.7" r="4.4" fill="#7a9a45" fill-opacity="0.27" stroke="#7a9a45" stroke-opacity="0.3" stroke-width="1"/><circle cx="188.2" cy="481.1" r="4.4" fill="#7a9a45" fill-opacity="0.27" stroke="#7a9a45" stroke-opacity="0.3" stroke-width="1"/><circle cx="195.1" cy="467.2" r="4.4" fill="#7a9a45" fill-opacity="0.27" stroke="#7a9a45" stroke-opacity="0.3" stroke-width="1"/><circle cx="196" cy="472.7" r="4.4" fill="#7a9a45" fill-opacity="0.27" stroke="#7a9a45" stroke-opacity="0.3" stroke-width="1"/><circle cx="192.7" cy="510.1" r="4.4" fill="#7a9a45" fill-opacity="0.27" stroke="#7a9a45" stroke-opacity="0.3" stroke-width="1"/><circle cx="248.1" cy="480.1" r="4.4" fill="#7a9a45" fill-opacity="0.27" stroke="#7a9a45" stroke-opacity="0.3" stroke-width="1"/><circle cx="217" cy="458.7" r="4.4" fill="#7a9a45" fill-opacity="0.27" stroke="#7a9a45" stroke-opacity="0.3" stroke-width="1"/><circle cx="159" cy="463.7" r="4.4" fill="#7a9a45" fill-opacity="0.27" stroke="#7a9a45" stroke-opacity="0.3" stroke-width="1"/><circle cx="238.6" cy="470.1" r="4.4" fill="#7a9a45" fill-opacity="0.27" stroke="#7a9a45" stroke-opacity="0.3" stroke-width="1"/><circle cx="212.2" cy="471.8" r="4.4" fill="#7a9a45" fill-opacity="0.27" stroke="#7a9a45" stroke-opacity="0.3" stroke-width="1"/><circle cx="242.7" cy="461.9" r="4.4" fill="#7a9a45" fill-opacity="0.27" stroke="#7a9a45" stroke-opacity="0.3" stroke-width="1"/><circle cx="211.4" cy="490.2" r="4.4" fill="#7a9a45" fill-opacity="0.27" stroke="#7a9a45" stroke-opacity="0.3" stroke-width="1"/><circle cx="191.2" cy="484.1" r="4.4" fill="#7a9a45" fill-opacity="0.27" stroke="#7a9a45" stroke-opacity="0.3" stroke-width="1"/><circle cx="249.3" cy="471.3" r="4.4" fill="#7a9a45" fill-opacity="0.27" stroke="#7a9a45" stroke-opacity="0.3" stroke-width="1"/><circle cx="176.1" cy="461.7" r="4.4" fill="#7a9a45" fill-opacity="0.27" stroke="#7a9a45" stroke-opacity="0.3" stroke-width="1"/><circle cx="187.6" cy="488.4" r="4.4" fill="#7a9a45" fill-opacity="0.27" stroke="#7a9a45" stroke-opacity="0.3" stroke-width="1"/><circle cx="210.3" cy="498" r="4.4" fill="#7a9a45" fill-opacity="0.27" stroke="#7a9a45" stroke-opacity="0.3" stroke-width="1"/><circle cx="251.6" cy="491.3" r="4.4" fill="#7a9a45" fill-opacity="0.27" stroke="#7a9a45" stroke-opacity="0.3" stroke-width="1"/><circle cx="169.7" cy="481.6" r="4.4" fill="#7a9a45" fill-opacity="0.27" stroke="#7a9a45" stroke-opacity="0.3" stroke-width="1"/><circle cx="194.3" cy="502.9" r="4.4" fill="#7a9a45" fill-opacity="0.27" stroke="#7a9a45" stroke-opacity="0.3" stroke-width="1"/><circle cx="215.5" cy="471.4" r="4.4" fill="#7a9a45" fill-opacity="0.27" stroke="#7a9a45" stroke-opacity="0.3" stroke-width="1"/><circle cx="231.6" cy="458" r="4.4" fill="#7a9a45" fill-opacity="0.27" stroke="#7a9a45" stroke-opacity="0.3" stroke-width="1"/><circle cx="168.6" cy="487.1" r="4.4" fill="#7a9a45" fill-opacity="0.27" stroke="#7a9a45" stroke-opacity="0.3" stroke-width="1"/><circle cx="240.1" cy="455.2" r="4.4" fill="#7a9a45" fill-opacity="0.27" stroke="#7a9a45" stroke-opacity="0.3" stroke-width="1"/><circle cx="218.3" cy="482.7" r="4.4" fill="#7a9a45" fill-opacity="0.27" stroke="#7a9a45" stroke-opacity="0.3" stroke-width="1"/><circle cx="213.9" cy="476.3" r="4.4" fill="#7a9a45" fill-opacity="0.27" stroke="#7a9a45" stroke-opacity="0.3" stroke-width="1"/><circle cx="198.9" cy="454.2" r="4.4" fill="#7a9a45" fill-opacity="0.27" stroke="#7a9a45" stroke-opacity="0.3" stroke-width="1"/><circle cx="191.6" cy="467.2" r="4.4" fill="#7a9a45" fill-opacity="0.27" stroke="#7a9a45" stroke-opacity="0.3" stroke-width="1"/><circle cx="255" cy="477.9" r="4.4" fill="#7a9a45" fill-opacity="0.27" stroke="#7a9a45" stroke-opacity="0.3" stroke-width="1"/><circle cx="266.3" cy="465" r="4.4" fill="#7a9a45" fill-opacity="0.27" stroke="#7a9a45" stroke-opacity="0.3" stroke-width="1"/><circle cx="176.3" cy="479.7" r="4.4" fill="#7a9a45" fill-opacity="0.27" stroke="#7a9a45" stroke-opacity="0.3" stroke-width="1"/><circle cx="180.3" cy="466.7" r="4.4" fill="#7a9a45" fill-opacity="0.27" stroke="#7a9a45" stroke-opacity="0.3" stroke-width="1"/><circle cx="230.4" cy="494.4" r="4.4" fill="#7a9a45" fill-opacity="0.27" stroke="#7a9a45" stroke-opacity="0.3" stroke-width="1"/><circle cx="241.1" cy="504.6" r="4.4" fill="#7a9a45" fill-opacity="0.27" stroke="#7a9a45" stroke-opacity="0.3" stroke-width="1"/><circle cx="247.5" cy="473" r="4.4" fill="#7a9a45" fill-opacity="0.27" stroke="#7a9a45" stroke-opacity="0.3" stroke-width="1"/><circle cx="265.4" cy="459.5" r="4.3" fill="#7a9a45" fill-opacity="0.35"/><circle cx="268.8" cy="467.4" r="4.3" fill="#7a9a45" fill-opacity="0.35"/><circle cx="261.9" cy="461.7" r="4.3" fill="#7a9a45" fill-opacity="0.35"/><circle cx="267.3" cy="455.2" r="4.3" fill="#7a9a45" fill-opacity="0.35"/><circle cx="268.3" cy="456" r="4.3" fill="#7a9a45" fill-opacity="0.35"/><circle cx="264.9" cy="466.1" r="4.3" fill="#7a9a45" fill-opacity="0.35"/><circle cx="263.4" cy="468.7" r="4.3" fill="#7a9a45" fill-opacity="0.35"/><circle cx="264.8" cy="458.8" r="4.3" fill="#7a9a45" fill-opacity="0.35"/><circle cx="272.6" cy="465.3" r="4.3" fill="#7a9a45" fill-opacity="0.35"/><circle cx="270.4" cy="456.9" r="4.3" fill="#7a9a45" fill-opacity="0.35"/><circle cx="270.2" cy="453.5" r="4.3" fill="#7a9a45" fill-opacity="0.35"/><circle cx="268.3" cy="461.9" r="4.3" fill="#7a9a45" fill-opacity="0.35"/><circle cx="267.6" cy="469.1" r="4.3" fill="#7a9a45" fill-opacity="0.35"/><circle cx="258.9" cy="461.1" r="4.3" fill="#7a9a45" fill-opacity="0.35"/><circle cx="265" cy="466.9" r="4.3" fill="#7a9a45" fill-opacity="0.35"/><circle cx="264.6" cy="458.7" r="4.3" fill="#7a9a45" fill-opacity="0.35"/><rect x="211" y="460.7" width="6.9" height="52.3" fill="#963a3b" fill-opacity="0.05"/><rect x="197.6" y="467.4" width="6" height="45.6" fill="#963a3b" fill-opacity="0.05"/><rect x="238.5" y="471.7" width="6.4" height="41.3" fill="#963a3b" fill-opacity="0.05"/><rect x="159.5" y="476.5" width="6.7" height="36.5" fill="#963a3b" fill-opacity="0.05"/><rect x="252" y="467.2" width="5" height="45.8" fill="#963a3b" fill-opacity="0.05"/><rect x="228.7" y="411.9" width="6.1" height="101.1" fill="#963a3b" fill-opacity="0.05"/><rect x="199.7" y="457.7" width="6.9" height="55.3" fill="#963a3b" fill-opacity="0.05"/><rect x="230.9" y="457.7" width="4.4" height="55.3" fill="#963a3b" fill-opacity="0.05"/><rect x="258.8" y="478.6" width="3.1" height="34.4" fill="#963a3b" fill-opacity="0.05"/><rect x="226.4" y="485.3" width="5.3" height="27.7" fill="#963a3b" fill-opacity="0.05"/><rect x="229.4" y="477.8" width="2.3" height="35.2" fill="#963a3b" fill-opacity="0.05"/><rect x="232.5" y="419.9" width="3.5" height="93.1" fill="#963a3b" fill-opacity="0.05"/><rect x="255.8" y="419.8" width="3.9" height="93.2" fill="#963a3b" fill-opacity="0.05"/><rect x="251.8" y="487.5" width="6" height="25.5" fill="#963a3b" fill-opacity="0.05"/><rect x="186.7" y="463.6" width="2.1" height="49.4" fill="#963a3b" fill-opacity="0.05"/><rect x="157.7" y="446.3" width="3.6" height="66.7" fill="#963a3b" fill-opacity="0.05"/><rect x="185.8" y="448.8" width="3.5" height="64.2" fill="#963a3b" fill-opacity="0.05"/><rect x="194.4" y="484" width="5.3" height="29" fill="#963a3b" fill-opacity="0.05"/><rect x="181" y="501.2" width="6.4" height="11.8" fill="#963a3b" fill-opacity="0.05"/><rect x="205.1" y="427.4" width="4.4" height="85.6" fill="#963a3b" fill-opacity="0.05"/><rect x="257.1" y="492.3" width="6.2" height="20.7" fill="#963a3b" fill-opacity="0.05"/><rect x="175.8" y="463.6" width="4.1" height="49.4" fill="#963a3b" fill-opacity="0.05"/><rect x="196.7" y="430.3" width="4.5" height="82.7" fill="#963a3b" fill-opacity="0.05"/><rect x="246.8" y="437" width="3.6" height="76" fill="#963a3b" fill-opacity="0.05"/><rect x="169.9" y="462.5" width="3" height="50.5" fill="#963a3b" fill-opacity="0.05"/><rect x="192.5" y="427.1" width="6.5" height="85.9" fill="#963a3b" fill-opacity="0.05"/><rect x="215.1" y="411" width="5" height="102" fill="#963a3b" fill-opacity="0.05"/><rect x="240" y="455.6" width="3.3" height="57.4" fill="#963a3b" fill-opacity="0.05"/><rect x="249.5" y="419.9" width="4.7" height="93.1" fill="#963a3b" fill-opacity="0.05"/><rect x="183.1" y="451.8" width="4" height="61.2" fill="#963a3b" fill-opacity="0.05"/><rect x="260.7" y="464.5" width="2.2" height="48.5" fill="#963a3b" fill-opacity="0.05"/><rect x="202.1" y="411.3" width="5.5" height="101.7" fill="#963a3b" fill-opacity="0.05"/><rect x="168.2" y="429.5" width="6.3" height="83.5" fill="#963a3b" fill-opacity="0.05"/><rect x="172" y="491.6" width="5" height="21.4" fill="#963a3b" fill-opacity="0.05"/><rect x="203.7" y="449.9" width="2.7" height="63.1" fill="#963a3b" fill-opacity="0.05"/><rect x="244.3" y="465.4" width="4.1" height="47.6" fill="#963a3b" fill-opacity="0.05"/><rect x="163.1" y="454.2" width="3" height="58.8" fill="#963a3b" fill-opacity="0.05"/><rect x="179.5" y="430.9" width="2.9" height="82.1" fill="#963a3b" fill-opacity="0.05"/><rect x="243.5" y="469.5" width="3.5" height="43.5" fill="#963a3b" fill-opacity="0.05"/><rect x="244.3" y="444.5" width="6.5" height="68.5" fill="#963a3b" fill-opacity="0.05"/><rect x="175.9" y="479.9" width="6.2" height="33.1" fill="#963a3b" fill-opacity="0.05"/><rect x="160.2" y="459.1" width="6" height="53.9" fill="#963a3b" fill-opacity="0.05"/><rect x="225.6" y="419.6" width="6.6" height="93.4" fill="#963a3b" fill-opacity="0.05"/><rect x="243.1" y="432.5" width="2.5" height="80.5" fill="#963a3b" fill-opacity="0.05"/><rect x="160.9" y="467" width="3.1" height="46" fill="#963a3b" fill-opacity="0.05"/><rect x="213.4" y="475.6" width="2.2" height="37.4" fill="#963a3b" fill-opacity="0.05"/><rect x="171.6" y="444.3" width="2" height="68.7" fill="#963a3b" fill-opacity="0.05"/><rect x="220.5" y="456.1" width="5.2" height="56.9" fill="#963a3b" fill-opacity="0.05"/><rect x="167.3" y="411.5" width="4" height="101.5" fill="#963a3b" fill-opacity="0.05"/><rect x="169.1" y="473.8" width="4.8" height="39.2" fill="#963a3b" fill-opacity="0.05"/><rect x="213.3" y="416.9" width="6.3" height="96.1" fill="#963a3b" fill-opacity="0.05"/><rect x="259.5" y="480.3" width="3.4" height="32.7" fill="#963a3b" fill-opacity="0.05"/><rect x="158.5" y="427" width="3.2" height="86" fill="#963a3b" fill-opacity="0.05"/><rect x="164.9" y="421.6" width="6.1" height="91.4" fill="#963a3b" fill-opacity="0.05"/><rect x="178.2" y="485.4" width="2.1" height="27.6" fill="#963a3b" fill-opacity="0.05"/><rect x="243.3" y="459.1" width="6.6" height="53.9" fill="#963a3b" fill-opacity="0.05"/><rect x="181.6" y="434.7" width="3.7" height="78.3" fill="#963a3b" fill-opacity="0.05"/><rect x="185.8" y="462.1" width="2.2" height="50.9" fill="#963a3b" fill-opacity="0.05"/><rect x="202.7" y="495.1" width="3.1" height="17.9" fill="#963a3b" fill-opacity="0.05"/><rect x="250" y="429.8" width="2.4" height="83.2" fill="#963a3b" fill-opacity="0.05"/><rect x="184.7" y="455" width="6.2" height="58" fill="#963a3b" fill-opacity="0.05"/><rect x="207.8" y="485.9" width="2.3" height="27.1" fill="#963a3b" fill-opacity="0.05"/><rect x="208.1" y="502.7" width="2.3" height="10.3" fill="#963a3b" fill-opacity="0.05"/><rect x="209.4" y="451.8" width="5.1" height="61.2" fill="#963a3b" fill-opacity="0.05"/><rect x="204.5" y="474.2" width="3" height="38.8" fill="#963a3b" fill-opacity="0.05"/><rect x="243.7" y="425.9" width="3.7" height="87.1" fill="#963a3b" fill-opacity="0.05"/><rect x="176" y="489" width="5.9" height="24" fill="#963a3b" fill-opacity="0.05"/><rect x="210.4" y="508.4" width="4.1" height="4.6" fill="#963a3b" fill-opacity="0.05"/><rect x="168.6" y="418" width="5.6" height="95" fill="#963a3b" fill-opacity="0.05"/><rect x="251.1" y="461.6" width="3.4" height="51.4" fill="#963a3b" fill-opacity="0.05"/><rect x="202.4" y="422.5" width="2.7" height="90.5" fill="#963a3b" fill-opacity="0.05"/><rect x="265.6" y="447.3" width="2.3" height="65.7" fill="#963a3b" fill-opacity="0.05"/><rect x="226.9" y="420.3" width="6.2" height="92.7" fill="#963a3b" fill-opacity="0.05"/><rect x="178.1" y="415.5" width="2.6" height="97.5" fill="#963a3b" fill-opacity="0.05"/><rect x="257.5" y="498.1" width="2.4" height="14.9" fill="#963a3b" fill-opacity="0.05"/><rect x="187.9" y="475.5" width="2.8" height="37.5" fill="#963a3b" fill-opacity="0.05"/><rect x="224.9" y="486" width="4.6" height="27" fill="#963a3b" fill-opacity="0.05"/><rect x="238.4" y="414" width="5.4" height="99" fill="#963a3b" fill-opacity="0.05"/><rect x="166.1" y="436.2" width="4.5" height="76.8" fill="#963a3b" fill-opacity="0.05"/><rect x="174.7" y="416.5" width="5.1" height="96.5" fill="#963a3b" fill-opacity="0.05"/><circle cx="214.5" cy="460.7" r="4.4" fill="#963a3b" fill-opacity="0.27" stroke="#963a3b" stroke-opacity="0.3" stroke-width="1"/><circle cx="200.6" cy="467.4" r="4.4" fill="#963a3b" fill-opacity="0.27" stroke="#963a3b" stroke-opacity="0.3" stroke-width="1"/><circle cx="241.7" cy="471.7" r="4.4" fill="#963a3b" fill-opacity="0.27" stroke="#963a3b" stroke-opacity="0.3" stroke-width="1"/><circle cx="162.9" cy="476.5" r="4.4" fill="#963a3b" fill-opacity="0.27" stroke="#963a3b" stroke-opacity="0.3" stroke-width="1"/><circle cx="254.5" cy="467.2" r="4.4" fill="#963a3b" fill-opacity="0.27" stroke="#963a3b" stroke-opacity="0.3" stroke-width="1"/><circle cx="231.7" cy="411.9" r="4.4" fill="#963a3b" fill-opacity="0.27" stroke="#963a3b" stroke-opacity="0.3" stroke-width="1"/><circle cx="203.1" cy="457.7" r="4.4" fill="#963a3b" fill-opacity="0.27" stroke="#963a3b" stroke-opacity="0.3" stroke-width="1"/><circle cx="233.1" cy="457.7" r="4.4" fill="#963a3b" fill-opacity="0.27" stroke="#963a3b" stroke-opacity="0.3" stroke-width="1"/><circle cx="260.3" cy="478.6" r="4.4" fill="#963a3b" fill-opacity="0.27" stroke="#963a3b" stroke-opacity="0.3" stroke-width="1"/><circle cx="229" cy="485.3" r="4.4" fill="#963a3b" fill-opacity="0.27" stroke="#963a3b" stroke-opacity="0.3" stroke-width="1"/><circle cx="230.5" cy="477.8" r="4.4" fill="#963a3b" fill-opacity="0.27" stroke="#963a3b" stroke-opacity="0.3" stroke-width="1"/><circle cx="234.2" cy="419.9" r="4.4" fill="#963a3b" fill-opacity="0.27" stroke="#963a3b" stroke-opacity="0.3" stroke-width="1"/><circle cx="257.7" cy="419.8" r="4.4" fill="#963a3b" fill-opacity="0.27" stroke="#963a3b" stroke-opacity="0.3" stroke-width="1"/><circle cx="254.8" cy="487.5" r="4.4" fill="#963a3b" fill-opacity="0.27" stroke="#963a3b" stroke-opacity="0.3" stroke-width="1"/><circle cx="187.7" cy="463.6" r="4.4" fill="#963a3b" fill-opacity="0.27" stroke="#963a3b" stroke-opacity="0.3" stroke-width="1"/><circle cx="159.5" cy="446.3" r="4.4" fill="#963a3b" fill-opacity="0.27" stroke="#963a3b" stroke-opacity="0.3" stroke-width="1"/><circle cx="187.6" cy="448.8" r="4.4" fill="#963a3b" fill-opacity="0.27" stroke="#963a3b" stroke-opacity="0.3" stroke-width="1"/><circle cx="197" cy="484" r="4.4" fill="#963a3b" fill-opacity="0.27" stroke="#963a3b" stroke-opacity="0.3" stroke-width="1"/><circle cx="184.2" cy="501.2" r="4.4" fill="#963a3b" fill-opacity="0.27" stroke="#963a3b" stroke-opacity="0.3" stroke-width="1"/><circle cx="207.3" cy="427.4" r="4.4" fill="#963a3b" fill-opacity="0.27" stroke="#963a3b" stroke-opacity="0.3" stroke-width="1"/><circle cx="260.2" cy="492.3" r="4.4" fill="#963a3b" fill-opacity="0.27" stroke="#963a3b" stroke-opacity="0.3" stroke-width="1"/><circle cx="177.8" cy="463.6" r="4.4" fill="#963a3b" fill-opacity="0.27" stroke="#963a3b" stroke-opacity="0.3" stroke-width="1"/><circle cx="199" cy="430.3" r="4.4" fill="#963a3b" fill-opacity="0.27" stroke="#963a3b" stroke-opacity="0.3" stroke-width="1"/><circle cx="248.6" cy="437" r="4.4" fill="#963a3b" fill-opacity="0.27" stroke="#963a3b" stroke-opacity="0.3" stroke-width="1"/><circle cx="171.4" cy="462.5" r="4.4" fill="#963a3b" fill-opacity="0.27" stroke="#963a3b" stroke-opacity="0.3" stroke-width="1"/><circle cx="195.8" cy="427.1" r="4.4" fill="#963a3b" fill-opacity="0.27" stroke="#963a3b" stroke-opacity="0.3" stroke-width="1"/><circle cx="217.6" cy="411" r="4.4" fill="#963a3b" fill-opacity="0.27" stroke="#963a3b" stroke-opacity="0.3" stroke-width="1"/><circle cx="241.6" cy="455.6" r="4.4" fill="#963a3b" fill-opacity="0.27" stroke="#963a3b" stroke-opacity="0.3" stroke-width="1"/><circle cx="251.8" cy="419.9" r="4.4" fill="#963a3b" fill-opacity="0.27" stroke="#963a3b" stroke-opacity="0.3" stroke-width="1"/><circle cx="185.2" cy="451.8" r="4.4" fill="#963a3b" fill-opacity="0.27" stroke="#963a3b" stroke-opacity="0.3" stroke-width="1"/><circle cx="261.8" cy="464.5" r="4.4" fill="#963a3b" fill-opacity="0.27" stroke="#963a3b" stroke-opacity="0.3" stroke-width="1"/><circle cx="204.8" cy="411.3" r="4.4" fill="#963a3b" fill-opacity="0.27" stroke="#963a3b" stroke-opacity="0.3" stroke-width="1"/><circle cx="171.4" cy="429.5" r="4.4" fill="#963a3b" fill-opacity="0.27" stroke="#963a3b" stroke-opacity="0.3" stroke-width="1"/><circle cx="174.5" cy="491.6" r="4.4" fill="#963a3b" fill-opacity="0.27" stroke="#963a3b" stroke-opacity="0.3" stroke-width="1"/><circle cx="205.1" cy="449.9" r="4.4" fill="#963a3b" fill-opacity="0.27" stroke="#963a3b" stroke-opacity="0.3" stroke-width="1"/><circle cx="246.3" cy="465.4" r="4.4" fill="#963a3b" fill-opacity="0.27" stroke="#963a3b" stroke-opacity="0.3" stroke-width="1"/><circle cx="164.6" cy="454.2" r="4.4" fill="#963a3b" fill-opacity="0.27" stroke="#963a3b" stroke-opacity="0.3" stroke-width="1"/><circle cx="180.9" cy="430.9" r="4.4" fill="#963a3b" fill-opacity="0.27" stroke="#963a3b" stroke-opacity="0.3" stroke-width="1"/><circle cx="245.2" cy="469.5" r="4.4" fill="#963a3b" fill-opacity="0.27" stroke="#963a3b" stroke-opacity="0.3" stroke-width="1"/><circle cx="247.6" cy="444.5" r="4.4" fill="#963a3b" fill-opacity="0.27" stroke="#963a3b" stroke-opacity="0.3" stroke-width="1"/><circle cx="179" cy="479.9" r="4.4" fill="#963a3b" fill-opacity="0.27" stroke="#963a3b" stroke-opacity="0.3" stroke-width="1"/><circle cx="163.2" cy="459.1" r="4.4" fill="#963a3b" fill-opacity="0.27" stroke="#963a3b" stroke-opacity="0.3" stroke-width="1"/><circle cx="228.9" cy="419.6" r="4.4" fill="#963a3b" fill-opacity="0.27" stroke="#963a3b" stroke-opacity="0.3" stroke-width="1"/><circle cx="244.3" cy="432.5" r="4.4" fill="#963a3b" fill-opacity="0.27" stroke="#963a3b" stroke-opacity="0.3" stroke-width="1"/><circle cx="162.5" cy="467" r="4.4" fill="#963a3b" fill-opacity="0.27" stroke="#963a3b" stroke-opacity="0.3" stroke-width="1"/><circle cx="214.5" cy="475.6" r="4.4" fill="#963a3b" fill-opacity="0.27" stroke="#963a3b" stroke-opacity="0.3" stroke-width="1"/><circle cx="172.6" cy="444.3" r="4.4" fill="#963a3b" fill-opacity="0.27" stroke="#963a3b" stroke-opacity="0.3" stroke-width="1"/><circle cx="223.1" cy="456.1" r="4.4" fill="#963a3b" fill-opacity="0.27" stroke="#963a3b" stroke-opacity="0.3" stroke-width="1"/><circle cx="169.4" cy="411.5" r="4.4" fill="#963a3b" fill-opacity="0.27" stroke="#963a3b" stroke-opacity="0.3" stroke-width="1"/><circle cx="171.5" cy="473.8" r="4.4" fill="#963a3b" fill-opacity="0.27" stroke="#963a3b" stroke-opacity="0.3" stroke-width="1"/><circle cx="216.5" cy="416.9" r="4.4" fill="#963a3b" fill-opacity="0.27" stroke="#963a3b" stroke-opacity="0.3" stroke-width="1"/><circle cx="261.2" cy="480.3" r="4.4" fill="#963a3b" fill-opacity="0.27" stroke="#963a3b" stroke-opacity="0.3" stroke-width="1"/><circle cx="160.1" cy="427" r="4.4" fill="#963a3b" fill-opacity="0.27" stroke="#963a3b" stroke-opacity="0.3" stroke-width="1"/><circle cx="167.9" cy="421.6" r="4.4" fill="#963a3b" fill-opacity="0.27" stroke="#963a3b" stroke-opacity="0.3" stroke-width="1"/><circle cx="179.2" cy="485.4" r="4.4" fill="#963a3b" fill-opacity="0.27" stroke="#963a3b" stroke-opacity="0.3" stroke-width="1"/><circle cx="246.6" cy="459.1" r="4.4" fill="#963a3b" fill-opacity="0.27" stroke="#963a3b" stroke-opacity="0.3" stroke-width="1"/><circle cx="183.4" cy="434.7" r="4.4" fill="#963a3b" fill-opacity="0.27" stroke="#963a3b" stroke-opacity="0.3" stroke-width="1"/><circle cx="186.9" cy="462.1" r="4.4" fill="#963a3b" fill-opacity="0.27" stroke="#963a3b" stroke-opacity="0.3" stroke-width="1"/><circle cx="204.2" cy="495.1" r="4.4" fill="#963a3b" fill-opacity="0.27" stroke="#963a3b" stroke-opacity="0.3" stroke-width="1"/><circle cx="251.2" cy="429.8" r="4.4" fill="#963a3b" fill-opacity="0.27" stroke="#963a3b" stroke-opacity="0.3" stroke-width="1"/><circle cx="187.8" cy="455" r="4.4" fill="#963a3b" fill-opacity="0.27" stroke="#963a3b" stroke-opacity="0.3" stroke-width="1"/><circle cx="208.9" cy="485.9" r="4.4" fill="#963a3b" fill-opacity="0.27" stroke="#963a3b" stroke-opacity="0.3" stroke-width="1"/><circle cx="209.2" cy="502.7" r="4.4" fill="#963a3b" fill-opacity="0.27" stroke="#963a3b" stroke-opacity="0.3" stroke-width="1"/><circle cx="212" cy="451.8" r="4.4" fill="#963a3b" fill-opacity="0.27" stroke="#963a3b" stroke-opacity="0.3" stroke-width="1"/><circle cx="206" cy="474.2" r="4.4" fill="#963a3b" fill-opacity="0.27" stroke="#963a3b" stroke-opacity="0.3" stroke-width="1"/><circle cx="245.6" cy="425.9" r="4.4" fill="#963a3b" fill-opacity="0.27" stroke="#963a3b" stroke-opacity="0.3" stroke-width="1"/><circle cx="179" cy="489" r="4.4" fill="#963a3b" fill-opacity="0.27" stroke="#963a3b" stroke-opacity="0.3" stroke-width="1"/><circle cx="212.5" cy="508.4" r="4.4" fill="#963a3b" fill-opacity="0.27" stroke="#963a3b" stroke-opacity="0.3" stroke-width="1"/><circle cx="171.4" cy="418" r="4.4" fill="#963a3b" fill-opacity="0.27" stroke="#963a3b" stroke-opacity="0.3" stroke-width="1"/><circle cx="252.8" cy="461.6" r="4.4" fill="#963a3b" fill-opacity="0.27" stroke="#963a3b" stroke-opacity="0.3" stroke-width="1"/><circle cx="203.7" cy="422.5" r="4.4" fill="#963a3b" fill-opacity="0.27" stroke="#963a3b" stroke-opacity="0.3" stroke-width="1"/><circle cx="266.8" cy="447.3" r="4.4" fill="#963a3b" fill-opacity="0.27" stroke="#963a3b" stroke-opacity="0.3" stroke-width="1"/><circle cx="230" cy="420.3" r="4.4" fill="#963a3b" fill-opacity="0.27" stroke="#963a3b" stroke-opacity="0.3" stroke-width="1"/><circle cx="179.4" cy="415.5" r="4.4" fill="#963a3b" fill-opacity="0.27" stroke="#963a3b" stroke-opacity="0.3" stroke-width="1"/><circle cx="258.7" cy="498.1" r="4.4" fill="#963a3b" fill-opacity="0.27" stroke="#963a3b" stroke-opacity="0.3" stroke-width="1"/><circle cx="189.3" cy="475.5" r="4.4" fill="#963a3b" fill-opacity="0.27" stroke="#963a3b" stroke-opacity="0.3" stroke-width="1"/><circle cx="227.2" cy="486" r="4.4" fill="#963a3b" fill-opacity="0.27" stroke="#963a3b" stroke-opacity="0.3" stroke-width="1"/><circle cx="241.2" cy="414" r="4.4" fill="#963a3b" fill-opacity="0.27" stroke="#963a3b" stroke-opacity="0.3" stroke-width="1"/><circle cx="168.4" cy="436.2" r="4.4" fill="#963a3b" fill-opacity="0.27" stroke="#963a3b" stroke-opacity="0.3" stroke-width="1"/><circle cx="177.3" cy="416.5" r="4.4" fill="#963a3b" fill-opacity="0.27" stroke="#963a3b" stroke-opacity="0.3" stroke-width="1"/><circle cx="267" cy="415.6" r="4.3" fill="#963a3b" fill-opacity="0.35"/><circle cx="268.7" cy="424.9" r="4.3" fill="#963a3b" fill-opacity="0.35"/><circle cx="264.3" cy="411.6" r="4.3" fill="#963a3b" fill-opacity="0.35"/><circle cx="266.2" cy="416.7" r="4.3" fill="#963a3b" fill-opacity="0.35"/><circle cx="261.6" cy="416.8" r="4.3" fill="#963a3b" fill-opacity="0.35"/><circle cx="270.3" cy="425.1" r="4.3" fill="#963a3b" fill-opacity="0.35"/><circle cx="274.3" cy="421.3" r="4.3" fill="#963a3b" fill-opacity="0.35"/><circle cx="264.5" cy="416.7" r="4.3" fill="#963a3b" fill-opacity="0.35"/><circle cx="273.9" cy="414.1" r="4.3" fill="#963a3b" fill-opacity="0.35"/><circle cx="268" cy="426.9" r="4.3" fill="#963a3b" fill-opacity="0.35"/><circle cx="266.8" cy="417.7" r="4.3" fill="#963a3b" fill-opacity="0.35"/><circle cx="272.6" cy="424.5" r="4.3" fill="#963a3b" fill-opacity="0.35"/><circle cx="266.4" cy="417.3" r="4.3" fill="#963a3b" fill-opacity="0.35"/><circle cx="270.1" cy="427" r="4.3" fill="#963a3b" fill-opacity="0.35"/><circle cx="273.2" cy="425.9" r="4.3" fill="#963a3b" fill-opacity="0.35"/><circle cx="272.8" cy="413.7" r="4.3" fill="#963a3b" fill-opacity="0.35"/><rect x="222.1" y="449.1" width="4.6" height="63.9" fill="#838383" fill-opacity="0.05"/><rect x="214" y="410.2" width="5.1" height="102.8" fill="#838383" fill-opacity="0.05"/><rect x="192.6" y="385.7" width="5.7" height="127.3" fill="#838383" fill-opacity="0.05"/><rect x="198.6" y="372.4" width="2.3" height="140.6" fill="#838383" fill-opacity="0.05"/><rect x="255" y="423.5" width="6.7" height="89.5" fill="#838383" fill-opacity="0.05"/><rect x="226.2" y="434.2" width="6.4" height="78.8" fill="#838383" fill-opacity="0.05"/><rect x="206" y="508.6" width="4.3" height="4.4" fill="#838383" fill-opacity="0.05"/><rect x="194.6" y="486.3" width="3.7" height="26.7" fill="#838383" fill-opacity="0.05"/><rect x="264.1" y="397.5" width="4.7" height="115.5" fill="#838383" fill-opacity="0.05"/><rect x="257.7" y="474.1" width="4.5" height="38.9" fill="#838383" fill-opacity="0.05"/><rect x="256.9" y="423.5" width="3.6" height="89.5" fill="#838383" fill-opacity="0.05"/><rect x="257.5" y="476.9" width="2.6" height="36.1" fill="#838383" fill-opacity="0.05"/><rect x="193.4" y="389.1" width="5.6" height="123.9" fill="#838383" fill-opacity="0.05"/><rect x="245.5" y="469.7" width="6.4" height="43.3" fill="#838383" fill-opacity="0.05"/><rect x="230.1" y="391.9" width="5.3" height="121.1" fill="#838383" fill-opacity="0.05"/><rect x="255.7" y="434.8" width="3.5" height="78.2" fill="#838383" fill-opacity="0.05"/><rect x="235.8" y="394.6" width="4.2" height="118.4" fill="#838383" fill-opacity="0.05"/><rect x="247.2" y="446.9" width="2.9" height="66.1" fill="#838383" fill-opacity="0.05"/><rect x="241.7" y="368.3" width="6.7" height="144.7" fill="#838383" fill-opacity="0.05"/><rect x="219" y="426.8" width="3.3" height="86.2" fill="#838383" fill-opacity="0.05"/><rect x="231.7" y="440.2" width="3.8" height="72.8" fill="#838383" fill-opacity="0.05"/><rect x="162.7" y="438.9" width="5.2" height="74.1" fill="#838383" fill-opacity="0.05"/><rect x="196.5" y="455" width="5.7" height="58" fill="#838383" fill-opacity="0.05"/><rect x="243.4" y="404.4" width="4.3" height="108.6" fill="#838383" fill-opacity="0.05"/><rect x="165.9" y="475.7" width="2.7" height="37.3" fill="#838383" fill-opacity="0.05"/><rect x="191.3" y="479" width="4" height="34" fill="#838383" fill-opacity="0.05"/><rect x="222.9" y="368.4" width="6.1" height="144.6" fill="#838383" fill-opacity="0.05"/><rect x="204.8" y="469.7" width="3.4" height="43.3" fill="#838383" fill-opacity="0.05"/><rect x="162.9" y="387" width="4" height="126" fill="#838383" fill-opacity="0.05"/><rect x="174.1" y="492" width="3.4" height="21" fill="#838383" fill-opacity="0.05"/><rect x="228.3" y="414.5" width="3.8" height="98.5" fill="#838383" fill-opacity="0.05"/><rect x="215.4" y="487.7" width="3.7" height="25.3" fill="#838383" fill-opacity="0.05"/><rect x="219.5" y="446.7" width="4.4" height="66.3" fill="#838383" fill-opacity="0.05"/><rect x="253.7" y="450.5" width="6.1" height="62.5" fill="#838383" fill-opacity="0.05"/><rect x="256.6" y="412.1" width="6.1" height="100.9" fill="#838383" fill-opacity="0.05"/><rect x="187.9" y="510.4" width="2.9" height="2.6" fill="#838383" fill-opacity="0.05"/><rect x="252.8" y="459.2" width="3.2" height="53.8" fill="#838383" fill-opacity="0.05"/><rect x="212.7" y="393.1" width="3.7" height="119.9" fill="#838383" fill-opacity="0.05"/><rect x="225" y="393.4" width="5.4" height="119.6" fill="#838383" fill-opacity="0.05"/><rect x="165.3" y="389.6" width="5.7" height="123.4" fill="#838383" fill-opacity="0.05"/><rect x="198.3" y="416.8" width="5.7" height="96.2" fill="#838383" fill-opacity="0.05"/><rect x="259.8" y="394" width="3.1" height="119" fill="#838383" fill-opacity="0.05"/><rect x="258.8" y="436.1" width="3.1" height="76.9" fill="#838383" fill-opacity="0.05"/><rect x="199.2" y="453.4" width="6.9" height="59.6" fill="#838383" fill-opacity="0.05"/><rect x="181.6" y="386.8" width="4.9" height="126.2" fill="#838383" fill-opacity="0.05"/><rect x="259.7" y="441.5" width="5.8" height="71.5" fill="#838383" fill-opacity="0.05"/><rect x="210.7" y="482.8" width="3" height="30.2" fill="#838383" fill-opacity="0.05"/><rect x="258.7" y="369.4" width="5.1" height="143.6" fill="#838383" fill-opacity="0.05"/><rect x="159.1" y="483.5" width="3.5" height="29.5" fill="#838383" fill-opacity="0.05"/><rect x="220.1" y="392.4" width="4.4" height="120.6" fill="#838383" fill-opacity="0.05"/><rect x="185.9" y="469.9" width="4.2" height="43.1" fill="#838383" fill-opacity="0.05"/><rect x="154.3" y="381.1" width="6.3" height="131.9" fill="#838383" fill-opacity="0.05"/><rect x="208.8" y="410.6" width="3.8" height="102.4" fill="#838383" fill-opacity="0.05"/><rect x="258.5" y="370.8" width="5.7" height="142.2" fill="#838383" fill-opacity="0.05"/><rect x="205.7" y="413.3" width="3.5" height="99.7" fill="#838383" fill-opacity="0.05"/><rect x="178" y="383.1" width="5" height="129.9" fill="#838383" fill-opacity="0.05"/><rect x="230.8" y="427.7" width="6.3" height="85.3" fill="#838383" fill-opacity="0.05"/><rect x="251.7" y="377.2" width="3.2" height="135.8" fill="#838383" fill-opacity="0.05"/><rect x="238.5" y="439.8" width="4.1" height="73.2" fill="#838383" fill-opacity="0.05"/><rect x="181.1" y="372.6" width="6.9" height="140.4" fill="#838383" fill-opacity="0.05"/><rect x="239.5" y="407.7" width="6.1" height="105.3" fill="#838383" fill-opacity="0.05"/><rect x="239.3" y="373.6" width="6.4" height="139.4" fill="#838383" fill-opacity="0.05"/><rect x="205.1" y="500.3" width="5" height="12.7" fill="#838383" fill-opacity="0.05"/><rect x="238.1" y="446.1" width="3.9" height="66.9" fill="#838383" fill-opacity="0.05"/><rect x="159.7" y="375.9" width="2.7" height="137.1" fill="#838383" fill-opacity="0.05"/><rect x="176.4" y="460.6" width="6.3" height="52.4" fill="#838383" fill-opacity="0.05"/><rect x="198.3" y="421.2" width="2.6" height="91.8" fill="#838383" fill-opacity="0.05"/><rect x="255.6" y="438.3" width="6.7" height="74.7" fill="#838383" fill-opacity="0.05"/><rect x="230.2" y="508.5" width="6.6" height="4.5" fill="#838383" fill-opacity="0.05"/><rect x="227.2" y="500.6" width="6.7" height="12.4" fill="#838383" fill-opacity="0.05"/><rect x="244.6" y="428.5" width="5.9" height="84.5" fill="#838383" fill-opacity="0.05"/><rect x="233.8" y="444.1" width="5.3" height="68.9" fill="#838383" fill-opacity="0.05"/><rect x="161.9" y="377.6" width="3.9" height="135.4" fill="#838383" fill-opacity="0.05"/><rect x="252.1" y="451.6" width="6.2" height="61.4" fill="#838383" fill-opacity="0.05"/><rect x="238.4" y="478.4" width="4.9" height="34.6" fill="#838383" fill-opacity="0.05"/><rect x="178.4" y="485.1" width="4.6" height="27.9" fill="#838383" fill-opacity="0.05"/><rect x="221.1" y="439.4" width="2.7" height="73.6" fill="#838383" fill-opacity="0.05"/><rect x="205.4" y="365.9" width="2.6" height="147.1" fill="#838383" fill-opacity="0.05"/><rect x="157.5" y="376.4" width="5.4" height="136.6" fill="#838383" fill-opacity="0.05"/><rect x="243.9" y="422.4" width="2.7" height="90.6" fill="#838383" fill-opacity="0.05"/><circle cx="224.4" cy="449.1" r="4.4" fill="#838383" fill-opacity="0.27" stroke="#838383" stroke-opacity="0.3" stroke-width="1"/><circle cx="216.5" cy="410.2" r="4.4" fill="#838383" fill-opacity="0.27" stroke="#838383" stroke-opacity="0.3" stroke-width="1"/><circle cx="195.5" cy="385.7" r="4.4" fill="#838383" fill-opacity="0.27" stroke="#838383" stroke-opacity="0.3" stroke-width="1"/><circle cx="199.8" cy="372.4" r="4.4" fill="#838383" fill-opacity="0.27" stroke="#838383" stroke-opacity="0.3" stroke-width="1"/><circle cx="258.4" cy="423.5" r="4.4" fill="#838383" fill-opacity="0.27" stroke="#838383" stroke-opacity="0.3" stroke-width="1"/><circle cx="229.4" cy="434.2" r="4.4" fill="#838383" fill-opacity="0.27" stroke="#838383" stroke-opacity="0.3" stroke-width="1"/><circle cx="208.1" cy="508.6" r="4.4" fill="#838383" fill-opacity="0.27" stroke="#838383" stroke-opacity="0.3" stroke-width="1"/><circle cx="196.5" cy="486.3" r="4.4" fill="#838383" fill-opacity="0.27" stroke="#838383" stroke-opacity="0.3" stroke-width="1"/><circle cx="266.5" cy="397.5" r="4.4" fill="#838383" fill-opacity="0.27" stroke="#838383" stroke-opacity="0.3" stroke-width="1"/><circle cx="259.9" cy="474.1" r="4.4" fill="#838383" fill-opacity="0.27" stroke="#838383" stroke-opacity="0.3" stroke-width="1"/><circle cx="258.6" cy="423.5" r="4.4" fill="#838383" fill-opacity="0.27" stroke="#838383" stroke-opacity="0.3" stroke-width="1"/><circle cx="258.8" cy="476.9" r="4.4" fill="#838383" fill-opacity="0.27" stroke="#838383" stroke-opacity="0.3" stroke-width="1"/><circle cx="196.2" cy="389.1" r="4.4" fill="#838383" fill-opacity="0.27" stroke="#838383" stroke-opacity="0.3" stroke-width="1"/><circle cx="248.7" cy="469.7" r="4.4" fill="#838383" fill-opacity="0.27" stroke="#838383" stroke-opacity="0.3" stroke-width="1"/><circle cx="232.7" cy="391.9" r="4.4" fill="#838383" fill-opacity="0.27" stroke="#838383" stroke-opacity="0.3" stroke-width="1"/><circle cx="257.4" cy="434.8" r="4.4" fill="#838383" fill-opacity="0.27" stroke="#838383" stroke-opacity="0.3" stroke-width="1"/><circle cx="237.9" cy="394.6" r="4.4" fill="#838383" fill-opacity="0.27" stroke="#838383" stroke-opacity="0.3" stroke-width="1"/><circle cx="248.6" cy="446.9" r="4.4" fill="#838383" fill-opacity="0.27" stroke="#838383" stroke-opacity="0.3" stroke-width="1"/><circle cx="245" cy="368.3" r="4.4" fill="#838383" fill-opacity="0.27" stroke="#838383" stroke-opacity="0.3" stroke-width="1"/><circle cx="220.6" cy="426.8" r="4.4" fill="#838383" fill-opacity="0.27" stroke="#838383" stroke-opacity="0.3" stroke-width="1"/><circle cx="233.6" cy="440.2" r="4.4" fill="#838383" fill-opacity="0.27" stroke="#838383" stroke-opacity="0.3" stroke-width="1"/><circle cx="165.3" cy="438.9" r="4.4" fill="#838383" fill-opacity="0.27" stroke="#838383" stroke-opacity="0.3" stroke-width="1"/><circle cx="199.3" cy="455" r="4.4" fill="#838383" fill-opacity="0.27" stroke="#838383" stroke-opacity="0.3" stroke-width="1"/><circle cx="245.5" cy="404.4" r="4.4" fill="#838383" fill-opacity="0.27" stroke="#838383" stroke-opacity="0.3" stroke-width="1"/><circle cx="167.2" cy="475.7" r="4.4" fill="#838383" fill-opacity="0.27" stroke="#838383" stroke-opacity="0.3" stroke-width="1"/><circle cx="193.3" cy="479" r="4.4" fill="#838383" fill-opacity="0.27" stroke="#838383" stroke-opacity="0.3" stroke-width="1"/><circle cx="225.9" cy="368.4" r="4.4" fill="#838383" fill-opacity="0.27" stroke="#838383" stroke-opacity="0.3" stroke-width="1"/><circle cx="206.5" cy="469.7" r="4.4" fill="#838383" fill-opacity="0.27" stroke="#838383" stroke-opacity="0.3" stroke-width="1"/><circle cx="165" cy="387" r="4.4" fill="#838383" fill-opacity="0.27" stroke="#838383" stroke-opacity="0.3" stroke-width="1"/><circle cx="175.8" cy="492" r="4.4" fill="#838383" fill-opacity="0.27" stroke="#838383" stroke-opacity="0.3" stroke-width="1"/><circle cx="230.3" cy="414.5" r="4.4" fill="#838383" fill-opacity="0.27" stroke="#838383" stroke-opacity="0.3" stroke-width="1"/><circle cx="217.3" cy="487.7" r="4.4" fill="#838383" fill-opacity="0.27" stroke="#838383" stroke-opacity="0.3" stroke-width="1"/><circle cx="221.7" cy="446.7" r="4.4" fill="#838383" fill-opacity="0.27" stroke="#838383" stroke-opacity="0.3" stroke-width="1"/><circle cx="256.7" cy="450.5" r="4.4" fill="#838383" fill-opacity="0.27" stroke="#838383" stroke-opacity="0.3" stroke-width="1"/><circle cx="259.6" cy="412.1" r="4.4" fill="#838383" fill-opacity="0.27" stroke="#838383" stroke-opacity="0.3" stroke-width="1"/><circle cx="189.3" cy="510.4" r="4.4" fill="#838383" fill-opacity="0.27" stroke="#838383" stroke-opacity="0.3" stroke-width="1"/><circle cx="254.3" cy="459.2" r="4.4" fill="#838383" fill-opacity="0.27" stroke="#838383" stroke-opacity="0.3" stroke-width="1"/><circle cx="214.6" cy="393.1" r="4.4" fill="#838383" fill-opacity="0.27" stroke="#838383" stroke-opacity="0.3" stroke-width="1"/><circle cx="227.7" cy="393.4" r="4.4" fill="#838383" fill-opacity="0.27" stroke="#838383" stroke-opacity="0.3" stroke-width="1"/><circle cx="168.1" cy="389.6" r="4.4" fill="#838383" fill-opacity="0.27" stroke="#838383" stroke-opacity="0.3" stroke-width="1"/><circle cx="201.2" cy="416.8" r="4.4" fill="#838383" fill-opacity="0.27" stroke="#838383" stroke-opacity="0.3" stroke-width="1"/><circle cx="261.4" cy="394" r="4.4" fill="#838383" fill-opacity="0.27" stroke="#838383" stroke-opacity="0.3" stroke-width="1"/><circle cx="260.3" cy="436.1" r="4.4" fill="#838383" fill-opacity="0.27" stroke="#838383" stroke-opacity="0.3" stroke-width="1"/><circle cx="202.7" cy="453.4" r="4.4" fill="#838383" fill-opacity="0.27" stroke="#838383" stroke-opacity="0.3" stroke-width="1"/><circle cx="184.1" cy="386.8" r="4.4" fill="#838383" fill-opacity="0.27" stroke="#838383" stroke-opacity="0.3" stroke-width="1"/><circle cx="262.6" cy="441.5" r="4.4" fill="#838383" fill-opacity="0.27" stroke="#838383" stroke-opacity="0.3" stroke-width="1"/><circle cx="212.2" cy="482.8" r="4.4" fill="#838383" fill-opacity="0.27" stroke="#838383" stroke-opacity="0.3" stroke-width="1"/><circle cx="261.2" cy="369.4" r="4.4" fill="#838383" fill-opacity="0.27" stroke="#838383" stroke-opacity="0.3" stroke-width="1"/><circle cx="160.9" cy="483.5" r="4.4" fill="#838383" fill-opacity="0.27" stroke="#838383" stroke-opacity="0.3" stroke-width="1"/><circle cx="222.4" cy="392.4" r="4.4" fill="#838383" fill-opacity="0.27" stroke="#838383" stroke-opacity="0.3" stroke-width="1"/><circle cx="188" cy="469.9" r="4.4" fill="#838383" fill-opacity="0.27" stroke="#838383" stroke-opacity="0.3" stroke-width="1"/><circle cx="157.4" cy="381.1" r="4.4" fill="#838383" fill-opacity="0.27" stroke="#838383" stroke-opacity="0.3" stroke-width="1"/><circle cx="210.7" cy="410.6" r="4.4" fill="#838383" fill-opacity="0.27" stroke="#838383" stroke-opacity="0.3" stroke-width="1"/><circle cx="261.3" cy="370.8" r="4.4" fill="#838383" fill-opacity="0.27" stroke="#838383" stroke-opacity="0.3" stroke-width="1"/><circle cx="207.5" cy="413.3" r="4.4" fill="#838383" fill-opacity="0.27" stroke="#838383" stroke-opacity="0.3" stroke-width="1"/><circle cx="180.5" cy="383.1" r="4.4" fill="#838383" fill-opacity="0.27" stroke="#838383" stroke-opacity="0.3" stroke-width="1"/><circle cx="233.9" cy="427.7" r="4.4" fill="#838383" fill-opacity="0.27" stroke="#838383" stroke-opacity="0.3" stroke-width="1"/><circle cx="253.3" cy="377.2" r="4.4" fill="#838383" fill-opacity="0.27" stroke="#838383" stroke-opacity="0.3" stroke-width="1"/><circle cx="240.6" cy="439.8" r="4.4" fill="#838383" fill-opacity="0.27" stroke="#838383" stroke-opacity="0.3" stroke-width="1"/><circle cx="184.5" cy="372.6" r="4.4" fill="#838383" fill-opacity="0.27" stroke="#838383" stroke-opacity="0.3" stroke-width="1"/><circle cx="242.6" cy="407.7" r="4.4" fill="#838383" fill-opacity="0.27" stroke="#838383" stroke-opacity="0.3" stroke-width="1"/><circle cx="242.5" cy="373.6" r="4.4" fill="#838383" fill-opacity="0.27" stroke="#838383" stroke-opacity="0.3" stroke-width="1"/><circle cx="207.6" cy="500.3" r="4.4" fill="#838383" fill-opacity="0.27" stroke="#838383" stroke-opacity="0.3" stroke-width="1"/><circle cx="240" cy="446.1" r="4.4" fill="#838383" fill-opacity="0.27" stroke="#838383" stroke-opacity="0.3" stroke-width="1"/><circle cx="161" cy="375.9" r="4.4" fill="#838383" fill-opacity="0.27" stroke="#838383" stroke-opacity="0.3" stroke-width="1"/><circle cx="179.6" cy="460.6" r="4.4" fill="#838383" fill-opacity="0.27" stroke="#838383" stroke-opacity="0.3" stroke-width="1"/><circle cx="199.6" cy="421.2" r="4.4" fill="#838383" fill-opacity="0.27" stroke="#838383" stroke-opacity="0.3" stroke-width="1"/><circle cx="259" cy="438.3" r="4.4" fill="#838383" fill-opacity="0.27" stroke="#838383" stroke-opacity="0.3" stroke-width="1"/><circle cx="233.5" cy="508.5" r="4.4" fill="#838383" fill-opacity="0.27" stroke="#838383" stroke-opacity="0.3" stroke-width="1"/><circle cx="230.5" cy="500.6" r="4.4" fill="#838383" fill-opacity="0.27" stroke="#838383" stroke-opacity="0.3" stroke-width="1"/><circle cx="247.5" cy="428.5" r="4.4" fill="#838383" fill-opacity="0.27" stroke="#838383" stroke-opacity="0.3" stroke-width="1"/><circle cx="236.5" cy="444.1" r="4.4" fill="#838383" fill-opacity="0.27" stroke="#838383" stroke-opacity="0.3" stroke-width="1"/><circle cx="163.9" cy="377.6" r="4.4" fill="#838383" fill-opacity="0.27" stroke="#838383" stroke-opacity="0.3" stroke-width="1"/><circle cx="255.1" cy="451.6" r="4.4" fill="#838383" fill-opacity="0.27" stroke="#838383" stroke-opacity="0.3" stroke-width="1"/><circle cx="240.9" cy="478.4" r="4.4" fill="#838383" fill-opacity="0.27" stroke="#838383" stroke-opacity="0.3" stroke-width="1"/><circle cx="180.7" cy="485.1" r="4.4" fill="#838383" fill-opacity="0.27" stroke="#838383" stroke-opacity="0.3" stroke-width="1"/><circle cx="222.4" cy="439.4" r="4.4" fill="#838383" fill-opacity="0.27" stroke="#838383" stroke-opacity="0.3" stroke-width="1"/><circle cx="206.7" cy="365.9" r="4.4" fill="#838383" fill-opacity="0.27" stroke="#838383" stroke-opacity="0.3" stroke-width="1"/><circle cx="160.2" cy="376.4" r="4.4" fill="#838383" fill-opacity="0.27" stroke="#838383" stroke-opacity="0.3" stroke-width="1"/><circle cx="245.2" cy="422.4" r="4.4" fill="#838383" fill-opacity="0.27" stroke="#838383" stroke-opacity="0.3" stroke-width="1"/><circle cx="270.3" cy="375.7" r="4.3" fill="#838383" fill-opacity="0.35"/><circle cx="260.9" cy="373.6" r="4.3" fill="#838383" fill-opacity="0.35"/><circle cx="271.8" cy="366.7" r="4.3" fill="#838383" fill-opacity="0.35"/><circle cx="262.8" cy="376.4" r="4.3" fill="#838383" fill-opacity="0.35"/><circle cx="266.7" cy="374.8" r="4.3" fill="#838383" fill-opacity="0.35"/><circle cx="262.6" cy="377.4" r="4.3" fill="#838383" fill-opacity="0.35"/><circle cx="260.2" cy="373.4" r="4.3" fill="#838383" fill-opacity="0.35"/><circle cx="275.2" cy="380.7" r="4.3" fill="#838383" fill-opacity="0.35"/><circle cx="270.6" cy="374.2" r="4.3" fill="#838383" fill-opacity="0.35"/><circle cx="264.2" cy="377.3" r="4.3" fill="#838383" fill-opacity="0.35"/><circle cx="275" cy="381" r="4.3" fill="#838383" fill-opacity="0.35"/><circle cx="268.5" cy="374" r="4.3" fill="#838383" fill-opacity="0.35"/><circle cx="274.3" cy="379.4" r="4.3" fill="#838383" fill-opacity="0.35"/><circle cx="259.2" cy="368.3" r="4.3" fill="#838383" fill-opacity="0.35"/><circle cx="264.1" cy="376.1" r="4.3" fill="#838383" fill-opacity="0.35"/><circle cx="260.7" cy="379.1" r="4.3" fill="#838383" fill-opacity="0.35"/><rect x="178.7" y="397.2" width="6.4" height="115.8" fill="#d4591c" fill-opacity="0.05"/><rect x="229.4" y="378.8" width="5.1" height="134.2" fill="#d4591c" fill-opacity="0.05"/><rect x="169.9" y="398.2" width="3.8" height="114.8" fill="#d4591c" fill-opacity="0.05"/><rect x="175.5" y="448.3" width="4.9" height="64.7" fill="#d4591c" fill-opacity="0.05"/><rect x="199.6" y="391.2" width="3.2" height="121.8" fill="#d4591c" fill-opacity="0.05"/><rect x="199.9" y="327.4" width="2.6" height="185.6" fill="#d4591c" fill-opacity="0.05"/><rect x="161.3" y="391" width="2.1" height="122" fill="#d4591c" fill-opacity="0.05"/><rect x="265.7" y="412.5" width="2.2" height="100.5" fill="#d4591c" fill-opacity="0.05"/><rect x="246.3" y="488.5" width="6.6" height="24.5" fill="#d4591c" fill-opacity="0.05"/><rect x="240.2" y="321.3" width="4.9" height="191.7" fill="#d4591c" fill-opacity="0.05"/><rect x="232.2" y="503.3" width="4" height="9.7" fill="#d4591c" fill-opacity="0.05"/><rect x="197.6" y="508.5" width="6.1" height="4.5" fill="#d4591c" fill-opacity="0.05"/><rect x="228" y="431.8" width="4.9" height="81.2" fill="#d4591c" fill-opacity="0.05"/><rect x="248.1" y="331.1" width="2.7" height="181.9" fill="#d4591c" fill-opacity="0.05"/><rect x="233.3" y="429.7" width="5.5" height="83.3" fill="#d4591c" fill-opacity="0.05"/><rect x="252.1" y="332.7" width="4.2" height="180.3" fill="#d4591c" fill-opacity="0.05"/><rect x="240" y="339.7" width="5.1" height="173.3" fill="#d4591c" fill-opacity="0.05"/><rect x="234.1" y="428.8" width="6.8" height="84.2" fill="#d4591c" fill-opacity="0.05"/><rect x="256.1" y="390.5" width="2.3" height="122.5" fill="#d4591c" fill-opacity="0.05"/><rect x="241.1" y="423.8" width="6.7" height="89.2" fill="#d4591c" fill-opacity="0.05"/><rect x="192.1" y="339.3" width="2.9" height="173.7" fill="#d4591c" fill-opacity="0.05"/><rect x="211.3" y="368.5" width="2.5" height="144.5" fill="#d4591c" fill-opacity="0.05"/><rect x="165.5" y="369" width="3.6" height="144" fill="#d4591c" fill-opacity="0.05"/><rect x="200.1" y="382.2" width="6" height="130.8" fill="#d4591c" fill-opacity="0.05"/><rect x="225.6" y="379.5" width="3.6" height="133.5" fill="#d4591c" fill-opacity="0.05"/><rect x="179.7" y="366.4" width="2.3" height="146.6" fill="#d4591c" fill-opacity="0.05"/><rect x="217.6" y="339.1" width="5.7" height="173.9" fill="#d4591c" fill-opacity="0.05"/><rect x="191.1" y="439.6" width="5.1" height="73.4" fill="#d4591c" fill-opacity="0.05"/><rect x="179.7" y="466.5" width="5.7" height="46.5" fill="#d4591c" fill-opacity="0.05"/><rect x="193.7" y="432" width="5.8" height="81" fill="#d4591c" fill-opacity="0.05"/><rect x="219" y="353.2" width="6.7" height="159.8" fill="#d4591c" fill-opacity="0.05"/><rect x="206.3" y="341.5" width="3.6" height="171.5" fill="#d4591c" fill-opacity="0.05"/><rect x="202.9" y="418" width="6.2" height="95" fill="#d4591c" fill-opacity="0.05"/><rect x="240.1" y="391.9" width="4.3" height="121.1" fill="#d4591c" fill-opacity="0.05"/><rect x="225.4" y="350.8" width="4.4" height="162.2" fill="#d4591c" fill-opacity="0.05"/><rect x="220.3" y="356.1" width="2.2" height="156.9" fill="#d4591c" fill-opacity="0.05"/><rect x="166.4" y="354.6" width="6.4" height="158.4" fill="#d4591c" fill-opacity="0.05"/><rect x="156.6" y="396.8" width="5.2" height="116.2" fill="#d4591c" fill-opacity="0.05"/><rect x="196" y="373.7" width="3.9" height="139.3" fill="#d4591c" fill-opacity="0.05"/><rect x="169.2" y="474" width="2.4" height="39" fill="#d4591c" fill-opacity="0.05"/><rect x="227.2" y="396.8" width="3.3" height="116.2" fill="#d4591c" fill-opacity="0.05"/><rect x="249.3" y="505.3" width="3.8" height="7.7" fill="#d4591c" fill-opacity="0.05"/><rect x="235.5" y="409.2" width="5.2" height="103.8" fill="#d4591c" fill-opacity="0.05"/><rect x="202.8" y="480.3" width="6" height="32.7" fill="#d4591c" fill-opacity="0.05"/><rect x="247.1" y="337.5" width="3.9" height="175.5" fill="#d4591c" fill-opacity="0.05"/><rect x="233.9" y="344.5" width="3.5" height="168.5" fill="#d4591c" fill-opacity="0.05"/><rect x="213.2" y="384.9" width="2.3" height="128.1" fill="#d4591c" fill-opacity="0.05"/><rect x="220.4" y="330.5" width="6.3" height="182.5" fill="#d4591c" fill-opacity="0.05"/><rect x="175.4" y="474.8" width="3.1" height="38.2" fill="#d4591c" fill-opacity="0.05"/><rect x="156.2" y="367.8" width="6.1" height="145.2" fill="#d4591c" fill-opacity="0.05"/><rect x="255.4" y="416.6" width="5.5" height="96.4" fill="#d4591c" fill-opacity="0.05"/><rect x="261.5" y="365.4" width="3.7" height="147.6" fill="#d4591c" fill-opacity="0.05"/><rect x="211.4" y="355.4" width="3.1" height="157.6" fill="#d4591c" fill-opacity="0.05"/><rect x="219.4" y="329.4" width="2.6" height="183.6" fill="#d4591c" fill-opacity="0.05"/><rect x="242.4" y="326.8" width="3" height="186.2" fill="#d4591c" fill-opacity="0.05"/><rect x="165" y="393.9" width="5.9" height="119.1" fill="#d4591c" fill-opacity="0.05"/><rect x="232.9" y="332.1" width="6.8" height="180.9" fill="#d4591c" fill-opacity="0.05"/><rect x="241.8" y="414.7" width="5.3" height="98.3" fill="#d4591c" fill-opacity="0.05"/><rect x="181.5" y="363.1" width="3.2" height="149.9" fill="#d4591c" fill-opacity="0.05"/><rect x="216.1" y="396" width="5.9" height="117" fill="#d4591c" fill-opacity="0.05"/><rect x="242.9" y="340.5" width="5.1" height="172.5" fill="#d4591c" fill-opacity="0.05"/><rect x="258.2" y="468.8" width="6.2" height="44.2" fill="#d4591c" fill-opacity="0.05"/><rect x="200.1" y="357.2" width="4.6" height="155.8" fill="#d4591c" fill-opacity="0.05"/><rect x="171" y="342.7" width="5.5" height="170.3" fill="#d4591c" fill-opacity="0.05"/><rect x="235.6" y="363.5" width="2.9" height="149.5" fill="#d4591c" fill-opacity="0.05"/><rect x="223.1" y="466.8" width="2.9" height="46.2" fill="#d4591c" fill-opacity="0.05"/><rect x="210" y="376.5" width="2.4" height="136.5" fill="#d4591c" fill-opacity="0.05"/><rect x="196.9" y="346" width="6.4" height="167" fill="#d4591c" fill-opacity="0.05"/><rect x="157.8" y="464.4" width="4.6" height="48.6" fill="#d4591c" fill-opacity="0.05"/><rect x="256.9" y="322.8" width="2.7" height="190.2" fill="#d4591c" fill-opacity="0.05"/><rect x="195.7" y="436.3" width="6.5" height="76.7" fill="#d4591c" fill-opacity="0.05"/><rect x="159.7" y="465.6" width="4.4" height="47.4" fill="#d4591c" fill-opacity="0.05"/><rect x="166.9" y="377.7" width="2.9" height="135.3" fill="#d4591c" fill-opacity="0.05"/><rect x="220.7" y="502.3" width="2.3" height="10.7" fill="#d4591c" fill-opacity="0.05"/><rect x="159.7" y="383.7" width="2.4" height="129.3" fill="#d4591c" fill-opacity="0.05"/><rect x="238.6" y="414" width="4.8" height="99" fill="#d4591c" fill-opacity="0.05"/><rect x="236.8" y="326.5" width="3.8" height="186.5" fill="#d4591c" fill-opacity="0.05"/><rect x="154.4" y="439.9" width="6.2" height="73.1" fill="#d4591c" fill-opacity="0.05"/><rect x="224.9" y="403.9" width="5.9" height="109.1" fill="#d4591c" fill-opacity="0.05"/><rect x="188.3" y="503.3" width="4.8" height="9.7" fill="#d4591c" fill-opacity="0.05"/><rect x="187.1" y="412.9" width="3.8" height="100.1" fill="#d4591c" fill-opacity="0.05"/><rect x="248.3" y="377.4" width="5.8" height="135.6" fill="#d4591c" fill-opacity="0.05"/><rect x="161.8" y="464.3" width="6.1" height="48.7" fill="#d4591c" fill-opacity="0.05"/><rect x="200.7" y="430.4" width="4.4" height="82.6" fill="#d4591c" fill-opacity="0.05"/><rect x="259.3" y="360.7" width="5.4" height="152.3" fill="#d4591c" fill-opacity="0.05"/><rect x="163.5" y="415.8" width="6.1" height="97.2" fill="#d4591c" fill-opacity="0.05"/><rect x="221.9" y="449" width="3.9" height="64" fill="#d4591c" fill-opacity="0.05"/><rect x="183" y="470.3" width="4.7" height="42.7" fill="#d4591c" fill-opacity="0.05"/><rect x="180.7" y="504.5" width="3.1" height="8.5" fill="#d4591c" fill-opacity="0.05"/><rect x="192" y="354.9" width="4.2" height="158.1" fill="#d4591c" fill-opacity="0.05"/><rect x="233.7" y="408.4" width="3.4" height="104.6" fill="#d4591c" fill-opacity="0.05"/><rect x="201.7" y="440.5" width="2.6" height="72.5" fill="#d4591c" fill-opacity="0.05"/><rect x="232.6" y="484.6" width="6.1" height="28.4" fill="#d4591c" fill-opacity="0.05"/><rect x="255.5" y="364.3" width="5.1" height="148.7" fill="#d4591c" fill-opacity="0.05"/><rect x="254.8" y="339.6" width="5.2" height="173.4" fill="#d4591c" fill-opacity="0.05"/><rect x="212.7" y="432.8" width="6.5" height="80.2" fill="#d4591c" fill-opacity="0.05"/><rect x="182.2" y="413.9" width="6.1" height="99.1" fill="#d4591c" fill-opacity="0.05"/><rect x="224.5" y="325.6" width="4" height="187.4" fill="#d4591c" fill-opacity="0.05"/><rect x="165.5" y="442.1" width="3.4" height="70.9" fill="#d4591c" fill-opacity="0.05"/><rect x="192.3" y="421.7" width="4.6" height="91.3" fill="#d4591c" fill-opacity="0.05"/><rect x="187.1" y="417.2" width="6.4" height="95.8" fill="#d4591c" fill-opacity="0.05"/><rect x="258.5" y="384" width="6.8" height="129" fill="#d4591c" fill-opacity="0.05"/><rect x="215.2" y="421.9" width="6.8" height="91.1" fill="#d4591c" fill-opacity="0.05"/><rect x="198.1" y="330.1" width="4" height="182.9" fill="#d4591c" fill-opacity="0.05"/><rect x="185.7" y="353.7" width="4.8" height="159.3" fill="#d4591c" fill-opacity="0.05"/><rect x="213.9" y="442.6" width="2.6" height="70.4" fill="#d4591c" fill-opacity="0.05"/><rect x="213.3" y="485.7" width="4.2" height="27.3" fill="#d4591c" fill-opacity="0.05"/><rect x="248.5" y="335" width="5.9" height="178" fill="#d4591c" fill-opacity="0.05"/><rect x="210.5" y="358.4" width="2.8" height="154.6" fill="#d4591c" fill-opacity="0.05"/><rect x="262.9" y="427.1" width="2.7" height="85.9" fill="#d4591c" fill-opacity="0.05"/><rect x="160.8" y="372.8" width="3.7" height="140.2" fill="#d4591c" fill-opacity="0.05"/><rect x="222.4" y="463.6" width="2.9" height="49.4" fill="#d4591c" fill-opacity="0.05"/><rect x="202.2" y="429.3" width="2.9" height="83.7" fill="#d4591c" fill-opacity="0.05"/><rect x="189.2" y="365.3" width="2.5" height="147.7" fill="#d4591c" fill-opacity="0.05"/><rect x="208.7" y="392.4" width="3.9" height="120.6" fill="#d4591c" fill-opacity="0.05"/><rect x="265.3" y="380.1" width="2.8" height="132.9" fill="#d4591c" fill-opacity="0.05"/><rect x="197.5" y="392.7" width="6.6" height="120.3" fill="#d4591c" fill-opacity="0.05"/><rect x="259.4" y="414.8" width="2.1" height="98.2" fill="#d4591c" fill-opacity="0.05"/><rect x="214.5" y="405.4" width="2.1" height="107.6" fill="#d4591c" fill-opacity="0.05"/><rect x="198.5" y="368.6" width="3.3" height="144.4" fill="#d4591c" fill-opacity="0.05"/><rect x="161.8" y="320.9" width="6.4" height="192.1" fill="#d4591c" fill-opacity="0.05"/><rect x="163.6" y="453.6" width="6.3" height="59.4" fill="#d4591c" fill-opacity="0.05"/><rect x="250.5" y="328.6" width="3.3" height="184.4" fill="#d4591c" fill-opacity="0.05"/><rect x="170.5" y="436.2" width="2.3" height="76.8" fill="#d4591c" fill-opacity="0.05"/><rect x="185.9" y="397.8" width="5.7" height="115.2" fill="#d4591c" fill-opacity="0.05"/><rect x="196" y="439" width="3.3" height="74" fill="#d4591c" fill-opacity="0.05"/><rect x="161.5" y="324.5" width="6.6" height="188.5" fill="#d4591c" fill-opacity="0.05"/><rect x="177.5" y="368.6" width="4" height="144.4" fill="#d4591c" fill-opacity="0.05"/><rect x="179.5" y="434.2" width="4.4" height="78.8" fill="#d4591c" fill-opacity="0.05"/><rect x="202.5" y="346.7" width="2.9" height="166.3" fill="#d4591c" fill-opacity="0.05"/><rect x="169.1" y="385.3" width="6" height="127.7" fill="#d4591c" fill-opacity="0.05"/><rect x="220.8" y="393" width="6.6" height="120" fill="#d4591c" fill-opacity="0.05"/><rect x="205.4" y="411.7" width="6.2" height="101.3" fill="#d4591c" fill-opacity="0.05"/><rect x="230.3" y="412.6" width="5.8" height="100.4" fill="#d4591c" fill-opacity="0.05"/><rect x="177.2" y="354.6" width="4" height="158.4" fill="#d4591c" fill-opacity="0.05"/><rect x="182.4" y="456.4" width="2.4" height="56.6" fill="#d4591c" fill-opacity="0.05"/><rect x="206.3" y="471.4" width="2.1" height="41.6" fill="#d4591c" fill-opacity="0.05"/><rect x="198.6" y="373.5" width="4.7" height="139.5" fill="#d4591c" fill-opacity="0.05"/><rect x="189.7" y="433.2" width="6" height="79.8" fill="#d4591c" fill-opacity="0.05"/><rect x="170.9" y="452.7" width="2.8" height="60.3" fill="#d4591c" fill-opacity="0.05"/><rect x="209.8" y="457.5" width="3.9" height="55.5" fill="#d4591c" fill-opacity="0.05"/><rect x="195.9" y="485.4" width="4.1" height="27.6" fill="#d4591c" fill-opacity="0.05"/><rect x="196" y="417.7" width="5.3" height="95.3" fill="#d4591c" fill-opacity="0.05"/><rect x="243.3" y="372.4" width="2.4" height="140.6" fill="#d4591c" fill-opacity="0.05"/><rect x="161.7" y="348.2" width="2.3" height="164.8" fill="#d4591c" fill-opacity="0.05"/><rect x="176.6" y="434.8" width="2.9" height="78.2" fill="#d4591c" fill-opacity="0.05"/><rect x="259.9" y="492.5" width="4.7" height="20.5" fill="#d4591c" fill-opacity="0.05"/><rect x="193.1" y="454.6" width="4.1" height="58.4" fill="#d4591c" fill-opacity="0.05"/><rect x="160.5" y="475.6" width="6.8" height="37.4" fill="#d4591c" fill-opacity="0.05"/><rect x="180" y="418.7" width="4.6" height="94.3" fill="#d4591c" fill-opacity="0.05"/><rect x="162" y="500.1" width="6.4" height="12.9" fill="#d4591c" fill-opacity="0.05"/><rect x="262.9" y="358.8" width="2.9" height="154.2" fill="#d4591c" fill-opacity="0.05"/><rect x="189.7" y="389.4" width="2.1" height="123.6" fill="#d4591c" fill-opacity="0.05"/><rect x="172.2" y="354.5" width="6.2" height="158.5" fill="#d4591c" fill-opacity="0.05"/><rect x="166" y="332.4" width="4.3" height="180.6" fill="#d4591c" fill-opacity="0.05"/><rect x="246.2" y="336.5" width="2.5" height="176.5" fill="#d4591c" fill-opacity="0.05"/><rect x="216.1" y="439.7" width="4.9" height="73.3" fill="#d4591c" fill-opacity="0.05"/><rect x="253.6" y="476.8" width="4.9" height="36.2" fill="#d4591c" fill-opacity="0.05"/><rect x="198.1" y="424.8" width="3.3" height="88.2" fill="#d4591c" fill-opacity="0.05"/><rect x="200.2" y="340.4" width="6.4" height="172.6" fill="#d4591c" fill-opacity="0.05"/><circle cx="181.9" cy="397.2" r="4.4" fill="#d4591c" fill-opacity="0.27" stroke="#d4591c" stroke-opacity="0.3" stroke-width="1"/><circle cx="232" cy="378.8" r="4.4" fill="#d4591c" fill-opacity="0.27" stroke="#d4591c" stroke-opacity="0.3" stroke-width="1"/><circle cx="171.8" cy="398.2" r="4.4" fill="#d4591c" fill-opacity="0.27" stroke="#d4591c" stroke-opacity="0.3" stroke-width="1"/><circle cx="178" cy="448.3" r="4.4" fill="#d4591c" fill-opacity="0.27" stroke="#d4591c" stroke-opacity="0.3" stroke-width="1"/><circle cx="201.2" cy="391.2" r="4.4" fill="#d4591c" fill-opacity="0.27" stroke="#d4591c" stroke-opacity="0.3" stroke-width="1"/><circle cx="201.1" cy="327.4" r="4.4" fill="#d4591c" fill-opacity="0.27" stroke="#d4591c" stroke-opacity="0.3" stroke-width="1"/><circle cx="162.4" cy="391" r="4.4" fill="#d4591c" fill-opacity="0.27" stroke="#d4591c" stroke-opacity="0.3" stroke-width="1"/><circle cx="266.8" cy="412.5" r="4.4" fill="#d4591c" fill-opacity="0.27" stroke="#d4591c" stroke-opacity="0.3" stroke-width="1"/><circle cx="249.6" cy="488.5" r="4.4" fill="#d4591c" fill-opacity="0.27" stroke="#d4591c" stroke-opacity="0.3" stroke-width="1"/><circle cx="242.6" cy="321.3" r="4.4" fill="#d4591c" fill-opacity="0.27" stroke="#d4591c" stroke-opacity="0.3" stroke-width="1"/><circle cx="234.2" cy="503.3" r="4.4" fill="#d4591c" fill-opacity="0.27" stroke="#d4591c" stroke-opacity="0.3" stroke-width="1"/><circle cx="200.6" cy="508.5" r="4.4" fill="#d4591c" fill-opacity="0.27" stroke="#d4591c" stroke-opacity="0.3" stroke-width="1"/><circle cx="230.5" cy="431.8" r="4.4" fill="#d4591c" fill-opacity="0.27" stroke="#d4591c" stroke-opacity="0.3" stroke-width="1"/><circle cx="249.4" cy="331.1" r="4.4" fill="#d4591c" fill-opacity="0.27" stroke="#d4591c" stroke-opacity="0.3" stroke-width="1"/><circle cx="236" cy="429.7" r="4.4" fill="#d4591c" fill-opacity="0.27" stroke="#d4591c" stroke-opacity="0.3" stroke-width="1"/><circle cx="254.2" cy="332.7" r="4.4" fill="#d4591c" fill-opacity="0.27" stroke="#d4591c" stroke-opacity="0.3" stroke-width="1"/><circle cx="242.6" cy="339.7" r="4.4" fill="#d4591c" fill-opacity="0.27" stroke="#d4591c" stroke-opacity="0.3" stroke-width="1"/><circle cx="237.5" cy="428.8" r="4.4" fill="#d4591c" fill-opacity="0.27" stroke="#d4591c" stroke-opacity="0.3" stroke-width="1"/><circle cx="257.3" cy="390.5" r="4.4" fill="#d4591c" fill-opacity="0.27" stroke="#d4591c" stroke-opacity="0.3" stroke-width="1"/><circle cx="244.4" cy="423.8" r="4.4" fill="#d4591c" fill-opacity="0.27" stroke="#d4591c" stroke-opacity="0.3" stroke-width="1"/><circle cx="193.5" cy="339.3" r="4.4" fill="#d4591c" fill-opacity="0.27" stroke="#d4591c" stroke-opacity="0.3" stroke-width="1"/><circle cx="212.6" cy="368.5" r="4.4" fill="#d4591c" fill-opacity="0.27" stroke="#d4591c" stroke-opacity="0.3" stroke-width="1"/><circle cx="167.3" cy="369" r="4.4" fill="#d4591c" fill-opacity="0.27" stroke="#d4591c" stroke-opacity="0.3" stroke-width="1"/><circle cx="203.1" cy="382.2" r="4.4" fill="#d4591c" fill-opacity="0.27" stroke="#d4591c" stroke-opacity="0.3" stroke-width="1"/><circle cx="227.4" cy="379.5" r="4.4" fill="#d4591c" fill-opacity="0.27" stroke="#d4591c" stroke-opacity="0.3" stroke-width="1"/><circle cx="180.8" cy="366.4" r="4.4" fill="#d4591c" fill-opacity="0.27" stroke="#d4591c" stroke-opacity="0.3" stroke-width="1"/><circle cx="220.4" cy="339.1" r="4.4" fill="#d4591c" fill-opacity="0.27" stroke="#d4591c" stroke-opacity="0.3" stroke-width="1"/><circle cx="193.7" cy="439.6" r="4.4" fill="#d4591c" fill-opacity="0.27" stroke="#d4591c" stroke-opacity="0.3" stroke-width="1"/><circle cx="182.5" cy="466.5" r="4.4" fill="#d4591c" fill-opacity="0.27" stroke="#d4591c" stroke-opacity="0.3" stroke-width="1"/><circle cx="196.6" cy="432" r="4.4" fill="#d4591c" fill-opacity="0.27" stroke="#d4591c" stroke-opacity="0.3" stroke-width="1"/><circle cx="222.4" cy="353.2" r="4.4" fill="#d4591c" fill-opacity="0.27" stroke="#d4591c" stroke-opacity="0.3" stroke-width="1"/><circle cx="208.1" cy="341.5" r="4.4" fill="#d4591c" fill-opacity="0.27" stroke="#d4591c" stroke-opacity="0.3" stroke-width="1"/><circle cx="206" cy="418" r="4.4" fill="#d4591c" fill-opacity="0.27" stroke="#d4591c" stroke-opacity="0.3" stroke-width="1"/><circle cx="242.3" cy="391.9" r="4.4" fill="#d4591c" fill-opacity="0.27" stroke="#d4591c" stroke-opacity="0.3" stroke-width="1"/><circle cx="227.7" cy="350.8" r="4.4" fill="#d4591c" fill-opacity="0.27" stroke="#d4591c" stroke-opacity="0.3" stroke-width="1"/><circle cx="221.4" cy="356.1" r="4.4" fill="#d4591c" fill-opacity="0.27" stroke="#d4591c" stroke-opacity="0.3" stroke-width="1"/><circle cx="169.6" cy="354.6" r="4.4" fill="#d4591c" fill-opacity="0.27" stroke="#d4591c" stroke-opacity="0.3" stroke-width="1"/><circle cx="159.2" cy="396.8" r="4.4" fill="#d4591c" fill-opacity="0.27" stroke="#d4591c" stroke-opacity="0.3" stroke-width="1"/><circle cx="198" cy="373.7" r="4.4" fill="#d4591c" fill-opacity="0.27" stroke="#d4591c" stroke-opacity="0.3" stroke-width="1"/><circle cx="170.3" cy="474" r="4.4" fill="#d4591c" fill-opacity="0.27" stroke="#d4591c" stroke-opacity="0.3" stroke-width="1"/><circle cx="228.9" cy="396.8" r="4.4" fill="#d4591c" fill-opacity="0.27" stroke="#d4591c" stroke-opacity="0.3" stroke-width="1"/><circle cx="251.1" cy="505.3" r="4.4" fill="#d4591c" fill-opacity="0.27" stroke="#d4591c" stroke-opacity="0.3" stroke-width="1"/><circle cx="238.1" cy="409.2" r="4.4" fill="#d4591c" fill-opacity="0.27" stroke="#d4591c" stroke-opacity="0.3" stroke-width="1"/><circle cx="205.8" cy="480.3" r="4.4" fill="#d4591c" fill-opacity="0.27" stroke="#d4591c" stroke-opacity="0.3" stroke-width="1"/><circle cx="249" cy="337.5" r="4.4" fill="#d4591c" fill-opacity="0.27" stroke="#d4591c" stroke-opacity="0.3" stroke-width="1"/><circle cx="235.6" cy="344.5" r="4.4" fill="#d4591c" fill-opacity="0.27" stroke="#d4591c" stroke-opacity="0.3" stroke-width="1"/><circle cx="214.3" cy="384.9" r="4.4" fill="#d4591c" fill-opacity="0.27" stroke="#d4591c" stroke-opacity="0.3" stroke-width="1"/><circle cx="223.6" cy="330.5" r="4.4" fill="#d4591c" fill-opacity="0.27" stroke="#d4591c" stroke-opacity="0.3" stroke-width="1"/><circle cx="177" cy="474.8" r="4.4" fill="#d4591c" fill-opacity="0.27" stroke="#d4591c" stroke-opacity="0.3" stroke-width="1"/><circle cx="159.2" cy="367.8" r="4.4" fill="#d4591c" fill-opacity="0.27" stroke="#d4591c" stroke-opacity="0.3" stroke-width="1"/><circle cx="258.1" cy="416.6" r="4.4" fill="#d4591c" fill-opacity="0.27" stroke="#d4591c" stroke-opacity="0.3" stroke-width="1"/><circle cx="263.4" cy="365.4" r="4.4" fill="#d4591c" fill-opacity="0.27" stroke="#d4591c" stroke-opacity="0.3" stroke-width="1"/><circle cx="213" cy="355.4" r="4.4" fill="#d4591c" fill-opacity="0.27" stroke="#d4591c" stroke-opacity="0.3" stroke-width="1"/><circle cx="220.7" cy="329.4" r="4.4" fill="#d4591c" fill-opacity="0.27" stroke="#d4591c" stroke-opacity="0.3" stroke-width="1"/><circle cx="243.9" cy="326.8" r="4.4" fill="#d4591c" fill-opacity="0.27" stroke="#d4591c" stroke-opacity="0.3" stroke-width="1"/><circle cx="167.9" cy="393.9" r="4.4" fill="#d4591c" fill-opacity="0.27" stroke="#d4591c" stroke-opacity="0.3" stroke-width="1"/><circle cx="236.3" cy="332.1" r="4.4" fill="#d4591c" fill-opacity="0.27" stroke="#d4591c" stroke-opacity="0.3" stroke-width="1"/><circle cx="244.4" cy="414.7" r="4.4" fill="#d4591c" fill-opacity="0.27" stroke="#d4591c" stroke-opacity="0.3" stroke-width="1"/><circle cx="183.1" cy="363.1" r="4.4" fill="#d4591c" fill-opacity="0.27" stroke="#d4591c" stroke-opacity="0.3" stroke-width="1"/><circle cx="219.1" cy="396" r="4.4" fill="#d4591c" fill-opacity="0.27" stroke="#d4591c" stroke-opacity="0.3" stroke-width="1"/><circle cx="245.5" cy="340.5" r="4.4" fill="#d4591c" fill-opacity="0.27" stroke="#d4591c" stroke-opacity="0.3" stroke-width="1"/><circle cx="261.2" cy="468.8" r="4.4" fill="#d4591c" fill-opacity="0.27" stroke="#d4591c" stroke-opacity="0.3" stroke-width="1"/><circle cx="202.4" cy="357.2" r="4.4" fill="#d4591c" fill-opacity="0.27" stroke="#d4591c" stroke-opacity="0.3" stroke-width="1"/><circle cx="173.8" cy="342.7" r="4.4" fill="#d4591c" fill-opacity="0.27" stroke="#d4591c" stroke-opacity="0.3" stroke-width="1"/><circle cx="237.1" cy="363.5" r="4.4" fill="#d4591c" fill-opacity="0.27" stroke="#d4591c" stroke-opacity="0.3" stroke-width="1"/><circle cx="224.6" cy="466.8" r="4.4" fill="#d4591c" fill-opacity="0.27" stroke="#d4591c" stroke-opacity="0.3" stroke-width="1"/><circle cx="211.2" cy="376.5" r="4.4" fill="#d4591c" fill-opacity="0.27" stroke="#d4591c" stroke-opacity="0.3" stroke-width="1"/><circle cx="200" cy="346" r="4.4" fill="#d4591c" fill-opacity="0.27" stroke="#d4591c" stroke-opacity="0.3" stroke-width="1"/><circle cx="160.1" cy="464.4" r="4.4" fill="#d4591c" fill-opacity="0.27" stroke="#d4591c" stroke-opacity="0.3" stroke-width="1"/><circle cx="258.3" cy="322.8" r="4.4" fill="#d4591c" fill-opacity="0.27" stroke="#d4591c" stroke-opacity="0.3" stroke-width="1"/><circle cx="199" cy="436.3" r="4.4" fill="#d4591c" fill-opacity="0.27" stroke="#d4591c" stroke-opacity="0.3" stroke-width="1"/><circle cx="162" cy="465.6" r="4.4" fill="#d4591c" fill-opacity="0.27" stroke="#d4591c" stroke-opacity="0.3" stroke-width="1"/><circle cx="168.4" cy="377.7" r="4.4" fill="#d4591c" fill-opacity="0.27" stroke="#d4591c" stroke-opacity="0.3" stroke-width="1"/><circle cx="221.9" cy="502.3" r="4.4" fill="#d4591c" fill-opacity="0.27" stroke="#d4591c" stroke-opacity="0.3" stroke-width="1"/><circle cx="160.9" cy="383.7" r="4.4" fill="#d4591c" fill-opacity="0.27" stroke="#d4591c" stroke-opacity="0.3" stroke-width="1"/><circle cx="241" cy="414" r="4.4" fill="#d4591c" fill-opacity="0.27" stroke="#d4591c" stroke-opacity="0.3" stroke-width="1"/><circle cx="238.7" cy="326.5" r="4.4" fill="#d4591c" fill-opacity="0.27" stroke="#d4591c" stroke-opacity="0.3" stroke-width="1"/><circle cx="157.5" cy="439.9" r="4.4" fill="#d4591c" fill-opacity="0.27" stroke="#d4591c" stroke-opacity="0.3" stroke-width="1"/><circle cx="227.9" cy="403.9" r="4.4" fill="#d4591c" fill-opacity="0.27" stroke="#d4591c" stroke-opacity="0.3" stroke-width="1"/><circle cx="190.7" cy="503.3" r="4.4" fill="#d4591c" fill-opacity="0.27" stroke="#d4591c" stroke-opacity="0.3" stroke-width="1"/><circle cx="189" cy="412.9" r="4.4" fill="#d4591c" fill-opacity="0.27" stroke="#d4591c" stroke-opacity="0.3" stroke-width="1"/><circle cx="251.2" cy="377.4" r="4.4" fill="#d4591c" fill-opacity="0.27" stroke="#d4591c" stroke-opacity="0.3" stroke-width="1"/><circle cx="164.9" cy="464.3" r="4.4" fill="#d4591c" fill-opacity="0.27" stroke="#d4591c" stroke-opacity="0.3" stroke-width="1"/><circle cx="202.9" cy="430.4" r="4.4" fill="#d4591c" fill-opacity="0.27" stroke="#d4591c" stroke-opacity="0.3" stroke-width="1"/><circle cx="262" cy="360.7" r="4.4" fill="#d4591c" fill-opacity="0.27" stroke="#d4591c" stroke-opacity="0.3" stroke-width="1"/><circle cx="166.5" cy="415.8" r="4.4" fill="#d4591c" fill-opacity="0.27" stroke="#d4591c" stroke-opacity="0.3" stroke-width="1"/><circle cx="223.8" cy="449" r="4.4" fill="#d4591c" fill-opacity="0.27" stroke="#d4591c" stroke-opacity="0.3" stroke-width="1"/><circle cx="185.4" cy="470.3" r="4.4" fill="#d4591c" fill-opacity="0.27" stroke="#d4591c" stroke-opacity="0.3" stroke-width="1"/><circle cx="182.3" cy="504.5" r="4.4" fill="#d4591c" fill-opacity="0.27" stroke="#d4591c" stroke-opacity="0.3" stroke-width="1"/><circle cx="194.1" cy="354.9" r="4.4" fill="#d4591c" fill-opacity="0.27" stroke="#d4591c" stroke-opacity="0.3" stroke-width="1"/><circle cx="235.4" cy="408.4" r="4.4" fill="#d4591c" fill-opacity="0.27" stroke="#d4591c" stroke-opacity="0.3" stroke-width="1"/><circle cx="203.1" cy="440.5" r="4.4" fill="#d4591c" fill-opacity="0.27" stroke="#d4591c" stroke-opacity="0.3" stroke-width="1"/><circle cx="235.6" cy="484.6" r="4.4" fill="#d4591c" fill-opacity="0.27" stroke="#d4591c" stroke-opacity="0.3" stroke-width="1"/><circle cx="258.1" cy="364.3" r="4.4" fill="#d4591c" fill-opacity="0.27" stroke="#d4591c" stroke-opacity="0.3" stroke-width="1"/><circle cx="257.4" cy="339.6" r="4.4" fill="#d4591c" fill-opacity="0.27" stroke="#d4591c" stroke-opacity="0.3" stroke-width="1"/><circle cx="215.9" cy="432.8" r="4.4" fill="#d4591c" fill-opacity="0.27" stroke="#d4591c" stroke-opacity="0.3" stroke-width="1"/><circle cx="185.2" cy="413.9" r="4.4" fill="#d4591c" fill-opacity="0.27" stroke="#d4591c" stroke-opacity="0.3" stroke-width="1"/><circle cx="226.5" cy="325.6" r="4.4" fill="#d4591c" fill-opacity="0.27" stroke="#d4591c" stroke-opacity="0.3" stroke-width="1"/><circle cx="167.2" cy="442.1" r="4.4" fill="#d4591c" fill-opacity="0.27" stroke="#d4591c" stroke-opacity="0.3" stroke-width="1"/><circle cx="194.7" cy="421.7" r="4.4" fill="#d4591c" fill-opacity="0.27" stroke="#d4591c" stroke-opacity="0.3" stroke-width="1"/><circle cx="190.3" cy="417.2" r="4.4" fill="#d4591c" fill-opacity="0.27" stroke="#d4591c" stroke-opacity="0.3" stroke-width="1"/><circle cx="261.9" cy="384" r="4.4" fill="#d4591c" fill-opacity="0.27" stroke="#d4591c" stroke-opacity="0.3" stroke-width="1"/><circle cx="218.6" cy="421.9" r="4.4" fill="#d4591c" fill-opacity="0.27" stroke="#d4591c" stroke-opacity="0.3" stroke-width="1"/><circle cx="200.1" cy="330.1" r="4.4" fill="#d4591c" fill-opacity="0.27" stroke="#d4591c" stroke-opacity="0.3" stroke-width="1"/><circle cx="188.1" cy="353.7" r="4.4" fill="#d4591c" fill-opacity="0.27" stroke="#d4591c" stroke-opacity="0.3" stroke-width="1"/><circle cx="215.2" cy="442.6" r="4.4" fill="#d4591c" fill-opacity="0.27" stroke="#d4591c" stroke-opacity="0.3" stroke-width="1"/><circle cx="215.4" cy="485.7" r="4.4" fill="#d4591c" fill-opacity="0.27" stroke="#d4591c" stroke-opacity="0.3" stroke-width="1"/><circle cx="251.5" cy="335" r="4.4" fill="#d4591c" fill-opacity="0.27" stroke="#d4591c" stroke-opacity="0.3" stroke-width="1"/><circle cx="211.9" cy="358.4" r="4.4" fill="#d4591c" fill-opacity="0.27" stroke="#d4591c" stroke-opacity="0.3" stroke-width="1"/><circle cx="264.3" cy="427.1" r="4.4" fill="#d4591c" fill-opacity="0.27" stroke="#d4591c" stroke-opacity="0.3" stroke-width="1"/><circle cx="162.6" cy="372.8" r="4.4" fill="#d4591c" fill-opacity="0.27" stroke="#d4591c" stroke-opacity="0.3" stroke-width="1"/><circle cx="223.8" cy="463.6" r="4.4" fill="#d4591c" fill-opacity="0.27" stroke="#d4591c" stroke-opacity="0.3" stroke-width="1"/><circle cx="203.7" cy="429.3" r="4.4" fill="#d4591c" fill-opacity="0.27" stroke="#d4591c" stroke-opacity="0.3" stroke-width="1"/><circle cx="190.4" cy="365.3" r="4.4" fill="#d4591c" fill-opacity="0.27" stroke="#d4591c" stroke-opacity="0.3" stroke-width="1"/><circle cx="210.6" cy="392.4" r="4.4" fill="#d4591c" fill-opacity="0.27" stroke="#d4591c" stroke-opacity="0.3" stroke-width="1"/><circle cx="266.7" cy="380.1" r="4.4" fill="#d4591c" fill-opacity="0.27" stroke="#d4591c" stroke-opacity="0.3" stroke-width="1"/><circle cx="200.8" cy="392.7" r="4.4" fill="#d4591c" fill-opacity="0.27" stroke="#d4591c" stroke-opacity="0.3" stroke-width="1"/><circle cx="260.4" cy="414.8" r="4.4" fill="#d4591c" fill-opacity="0.27" stroke="#d4591c" stroke-opacity="0.3" stroke-width="1"/><circle cx="215.5" cy="405.4" r="4.4" fill="#d4591c" fill-opacity="0.27" stroke="#d4591c" stroke-opacity="0.3" stroke-width="1"/><circle cx="200.1" cy="368.6" r="4.4" fill="#d4591c" fill-opacity="0.27" stroke="#d4591c" stroke-opacity="0.3" stroke-width="1"/><circle cx="165" cy="320.9" r="4.4" fill="#d4591c" fill-opacity="0.27" stroke="#d4591c" stroke-opacity="0.3" stroke-width="1"/><circle cx="166.8" cy="453.6" r="4.4" fill="#d4591c" fill-opacity="0.27" stroke="#d4591c" stroke-opacity="0.3" stroke-width="1"/><circle cx="252.2" cy="328.6" r="4.4" fill="#d4591c" fill-opacity="0.27" stroke="#d4591c" stroke-opacity="0.3" stroke-width="1"/><circle cx="171.7" cy="436.2" r="4.4" fill="#d4591c" fill-opacity="0.27" stroke="#d4591c" stroke-opacity="0.3" stroke-width="1"/><circle cx="188.8" cy="397.8" r="4.4" fill="#d4591c" fill-opacity="0.27" stroke="#d4591c" stroke-opacity="0.3" stroke-width="1"/><circle cx="197.7" cy="439" r="4.4" fill="#d4591c" fill-opacity="0.27" stroke="#d4591c" stroke-opacity="0.3" stroke-width="1"/><circle cx="164.7" cy="324.5" r="4.4" fill="#d4591c" fill-opacity="0.27" stroke="#d4591c" stroke-opacity="0.3" stroke-width="1"/><circle cx="179.5" cy="368.6" r="4.4" fill="#d4591c" fill-opacity="0.27" stroke="#d4591c" stroke-opacity="0.3" stroke-width="1"/><circle cx="181.7" cy="434.2" r="4.4" fill="#d4591c" fill-opacity="0.27" stroke="#d4591c" stroke-opacity="0.3" stroke-width="1"/><circle cx="204" cy="346.7" r="4.4" fill="#d4591c" fill-opacity="0.27" stroke="#d4591c" stroke-opacity="0.3" stroke-width="1"/><circle cx="172.1" cy="385.3" r="4.4" fill="#d4591c" fill-opacity="0.27" stroke="#d4591c" stroke-opacity="0.3" stroke-width="1"/><circle cx="224.1" cy="393" r="4.4" fill="#d4591c" fill-opacity="0.27" stroke="#d4591c" stroke-opacity="0.3" stroke-width="1"/><circle cx="208.4" cy="411.7" r="4.4" fill="#d4591c" fill-opacity="0.27" stroke="#d4591c" stroke-opacity="0.3" stroke-width="1"/><circle cx="233.2" cy="412.6" r="4.4" fill="#d4591c" fill-opacity="0.27" stroke="#d4591c" stroke-opacity="0.3" stroke-width="1"/><circle cx="179.1" cy="354.6" r="4.4" fill="#d4591c" fill-opacity="0.27" stroke="#d4591c" stroke-opacity="0.3" stroke-width="1"/><circle cx="183.6" cy="456.4" r="4.4" fill="#d4591c" fill-opacity="0.27" stroke="#d4591c" stroke-opacity="0.3" stroke-width="1"/><circle cx="207.3" cy="471.4" r="4.4" fill="#d4591c" fill-opacity="0.27" stroke="#d4591c" stroke-opacity="0.3" stroke-width="1"/><circle cx="200.9" cy="373.5" r="4.4" fill="#d4591c" fill-opacity="0.27" stroke="#d4591c" stroke-opacity="0.3" stroke-width="1"/><circle cx="192.7" cy="433.2" r="4.4" fill="#d4591c" fill-opacity="0.27" stroke="#d4591c" stroke-opacity="0.3" stroke-width="1"/><circle cx="172.3" cy="452.7" r="4.4" fill="#d4591c" fill-opacity="0.27" stroke="#d4591c" stroke-opacity="0.3" stroke-width="1"/><circle cx="211.8" cy="457.5" r="4.4" fill="#d4591c" fill-opacity="0.27" stroke="#d4591c" stroke-opacity="0.3" stroke-width="1"/><circle cx="197.9" cy="485.4" r="4.4" fill="#d4591c" fill-opacity="0.27" stroke="#d4591c" stroke-opacity="0.3" stroke-width="1"/><circle cx="198.7" cy="417.7" r="4.4" fill="#d4591c" fill-opacity="0.27" stroke="#d4591c" stroke-opacity="0.3" stroke-width="1"/><circle cx="244.5" cy="372.4" r="4.4" fill="#d4591c" fill-opacity="0.27" stroke="#d4591c" stroke-opacity="0.3" stroke-width="1"/><circle cx="162.8" cy="348.2" r="4.4" fill="#d4591c" fill-opacity="0.27" stroke="#d4591c" stroke-opacity="0.3" stroke-width="1"/><circle cx="178" cy="434.8" r="4.4" fill="#d4591c" fill-opacity="0.27" stroke="#d4591c" stroke-opacity="0.3" stroke-width="1"/><circle cx="262.2" cy="492.5" r="4.4" fill="#d4591c" fill-opacity="0.27" stroke="#d4591c" stroke-opacity="0.3" stroke-width="1"/><circle cx="195.1" cy="454.6" r="4.4" fill="#d4591c" fill-opacity="0.27" stroke="#d4591c" stroke-opacity="0.3" stroke-width="1"/><circle cx="163.9" cy="475.6" r="4.4" fill="#d4591c" fill-opacity="0.27" stroke="#d4591c" stroke-opacity="0.3" stroke-width="1"/><circle cx="182.3" cy="418.7" r="4.4" fill="#d4591c" fill-opacity="0.27" stroke="#d4591c" stroke-opacity="0.3" stroke-width="1"/><circle cx="165.2" cy="500.1" r="4.4" fill="#d4591c" fill-opacity="0.27" stroke="#d4591c" stroke-opacity="0.3" stroke-width="1"/><circle cx="264.4" cy="358.8" r="4.4" fill="#d4591c" fill-opacity="0.27" stroke="#d4591c" stroke-opacity="0.3" stroke-width="1"/><circle cx="190.7" cy="389.4" r="4.4" fill="#d4591c" fill-opacity="0.27" stroke="#d4591c" stroke-opacity="0.3" stroke-width="1"/><circle cx="175.3" cy="354.5" r="4.4" fill="#d4591c" fill-opacity="0.27" stroke="#d4591c" stroke-opacity="0.3" stroke-width="1"/><circle cx="168.2" cy="332.4" r="4.4" fill="#d4591c" fill-opacity="0.27" stroke="#d4591c" stroke-opacity="0.3" stroke-width="1"/><circle cx="247.5" cy="336.5" r="4.4" fill="#d4591c" fill-opacity="0.27" stroke="#d4591c" stroke-opacity="0.3" stroke-width="1"/><circle cx="218.5" cy="439.7" r="4.4" fill="#d4591c" fill-opacity="0.27" stroke="#d4591c" stroke-opacity="0.3" stroke-width="1"/><circle cx="256" cy="476.8" r="4.4" fill="#d4591c" fill-opacity="0.27" stroke="#d4591c" stroke-opacity="0.3" stroke-width="1"/><circle cx="199.7" cy="424.8" r="4.4" fill="#d4591c" fill-opacity="0.27" stroke="#d4591c" stroke-opacity="0.3" stroke-width="1"/><circle cx="203.4" cy="340.4" r="4.4" fill="#d4591c" fill-opacity="0.27" stroke="#d4591c" stroke-opacity="0.3" stroke-width="1"/><circle cx="272.4" cy="331.5" r="4.3" fill="#d4591c" fill-opacity="0.35"/><circle cx="262.6" cy="334.1" r="4.3" fill="#d4591c" fill-opacity="0.35"/><circle cx="273.6" cy="332.4" r="4.3" fill="#d4591c" fill-opacity="0.35"/><circle cx="268.4" cy="336.4" r="4.3" fill="#d4591c" fill-opacity="0.35"/><circle cx="268.6" cy="323" r="4.3" fill="#d4591c" fill-opacity="0.35"/><circle cx="273.5" cy="332.5" r="4.3" fill="#d4591c" fill-opacity="0.35"/><circle cx="263" cy="329.5" r="4.3" fill="#d4591c" fill-opacity="0.35"/><circle cx="268" cy="326.6" r="4.3" fill="#d4591c" fill-opacity="0.35"/><circle cx="260.1" cy="327.4" r="4.3" fill="#d4591c" fill-opacity="0.35"/><circle cx="275.1" cy="336.1" r="4.3" fill="#d4591c" fill-opacity="0.35"/><circle cx="265.6" cy="331" r="4.3" fill="#d4591c" fill-opacity="0.35"/><circle cx="273.1" cy="336.7" r="4.3" fill="#d4591c" fill-opacity="0.35"/><circle cx="259.1" cy="333.5" r="4.3" fill="#d4591c" fill-opacity="0.35"/><circle cx="273.2" cy="335" r="4.3" fill="#d4591c" fill-opacity="0.35"/><circle cx="261.5" cy="327.3" r="4.3" fill="#d4591c" fill-opacity="0.35"/><circle cx="259.3" cy="327.6" r="4.3" fill="#d4591c" fill-opacity="0.35"/><rect x="205.1" y="330.7" width="6.9" height="182.3" fill="#661371" fill-opacity="0.05"/><rect x="202.5" y="465.1" width="5.2" height="47.9" fill="#661371" fill-opacity="0.05"/><rect x="244" y="427.7" width="5.8" height="85.3" fill="#661371" fill-opacity="0.05"/><rect x="198.1" y="318.4" width="2.3" height="194.6" fill="#661371" fill-opacity="0.05"/><rect x="207.6" y="355.1" width="6" height="157.9" fill="#661371" fill-opacity="0.05"/><rect x="183.7" y="379.9" width="5.8" height="133.1" fill="#661371" fill-opacity="0.05"/><rect x="245.4" y="428.7" width="4.2" height="84.3" fill="#661371" fill-opacity="0.05"/><rect x="243.8" y="456.5" width="2.8" height="56.5" fill="#661371" fill-opacity="0.05"/><rect x="239.1" y="415.9" width="2.6" height="97.1" fill="#661371" fill-opacity="0.05"/><rect x="160.5" y="406.5" width="3.4" height="106.5" fill="#661371" fill-opacity="0.05"/><rect x="202.8" y="422.2" width="5.6" height="90.8" fill="#661371" fill-opacity="0.05"/><rect x="209.3" y="319.2" width="4.5" height="193.8" fill="#661371" fill-opacity="0.05"/><rect x="211.2" y="447.9" width="4.7" height="65.1" fill="#661371" fill-opacity="0.05"/><rect x="260.5" y="431.1" width="6.5" height="81.9" fill="#661371" fill-opacity="0.05"/><rect x="172.4" y="374.4" width="5.9" height="138.6" fill="#661371" fill-opacity="0.05"/><rect x="224.4" y="389.6" width="4.8" height="123.4" fill="#661371" fill-opacity="0.05"/><rect x="239.1" y="388.8" width="2.1" height="124.2" fill="#661371" fill-opacity="0.05"/><rect x="199" y="493.5" width="2.3" height="19.5" fill="#661371" fill-opacity="0.05"/><rect x="183.3" y="385.3" width="5" height="127.7" fill="#661371" fill-opacity="0.05"/><rect x="162.9" y="314.4" width="2.9" height="198.6" fill="#661371" fill-opacity="0.05"/><rect x="236.5" y="295.9" width="4.9" height="217.1" fill="#661371" fill-opacity="0.05"/><rect x="190.7" y="318.9" width="4.9" height="194.1" fill="#661371" fill-opacity="0.05"/><rect x="201.6" y="411.4" width="5.5" height="101.6" fill="#661371" fill-opacity="0.05"/><rect x="187.1" y="347.9" width="6.1" height="165.1" fill="#661371" fill-opacity="0.05"/><rect x="191.8" y="406.6" width="4.2" height="106.4" fill="#661371" fill-opacity="0.05"/><rect x="260.2" y="385" width="3.6" height="128" fill="#661371" fill-opacity="0.05"/><rect x="226.5" y="287" width="6.9" height="226" fill="#661371" fill-opacity="0.05"/><rect x="251.6" y="375.1" width="4.1" height="137.9" fill="#661371" fill-opacity="0.05"/><rect x="202.9" y="342.2" width="3.9" height="170.8" fill="#661371" fill-opacity="0.05"/><rect x="242.3" y="385.5" width="4.6" height="127.5" fill="#661371" fill-opacity="0.05"/><rect x="248.3" y="350" width="5.4" height="163" fill="#661371" fill-opacity="0.05"/><rect x="173.8" y="363.6" width="2.4" height="149.4" fill="#661371" fill-opacity="0.05"/><rect x="260.1" y="498.1" width="3.9" height="14.9" fill="#661371" fill-opacity="0.05"/><rect x="167.7" y="436.7" width="2.5" height="76.3" fill="#661371" fill-opacity="0.05"/><rect x="217.7" y="333.6" width="5.7" height="179.4" fill="#661371" fill-opacity="0.05"/><rect x="197.1" y="373.2" width="6.5" height="139.8" fill="#661371" fill-opacity="0.05"/><rect x="232.6" y="317.3" width="6.6" height="195.7" fill="#661371" fill-opacity="0.05"/><rect x="188.1" y="457.3" width="5" height="55.7" fill="#661371" fill-opacity="0.05"/><rect x="225.1" y="489.7" width="4" height="23.3" fill="#661371" fill-opacity="0.05"/><rect x="230.6" y="342.2" width="6.2" height="170.8" fill="#661371" fill-opacity="0.05"/><rect x="162.8" y="357.5" width="3.6" height="155.5" fill="#661371" fill-opacity="0.05"/><rect x="221.2" y="352.7" width="3.1" height="160.3" fill="#661371" fill-opacity="0.05"/><rect x="214" y="317.2" width="3.1" height="195.8" fill="#661371" fill-opacity="0.05"/><rect x="196" y="436.9" width="2.3" height="76.1" fill="#661371" fill-opacity="0.05"/><rect x="171.9" y="290.2" width="2.7" height="222.8" fill="#661371" fill-opacity="0.05"/><rect x="166.2" y="299.4" width="6.5" height="213.6" fill="#661371" fill-opacity="0.05"/><rect x="235.7" y="296" width="4.2" height="217" fill="#661371" fill-opacity="0.05"/><rect x="206.7" y="320" width="2.2" height="193" fill="#661371" fill-opacity="0.05"/><rect x="252.7" y="431.2" width="4" height="81.8" fill="#661371" fill-opacity="0.05"/><rect x="186.6" y="305.4" width="3.4" height="207.6" fill="#661371" fill-opacity="0.05"/><rect x="244.8" y="287.5" width="2.1" height="225.5" fill="#661371" fill-opacity="0.05"/><rect x="173.6" y="286" width="2.4" height="227" fill="#661371" fill-opacity="0.05"/><rect x="184.4" y="298.6" width="6" height="214.4" fill="#661371" fill-opacity="0.05"/><rect x="163.6" y="321.8" width="4.2" height="191.2" fill="#661371" fill-opacity="0.05"/><rect x="246.1" y="442.4" width="6.5" height="70.6" fill="#661371" fill-opacity="0.05"/><rect x="252.1" y="458.7" width="2.7" height="54.3" fill="#661371" fill-opacity="0.05"/><rect x="203.4" y="368.4" width="3.8" height="144.6" fill="#661371" fill-opacity="0.05"/><rect x="191.3" y="297.3" width="6.7" height="215.7" fill="#661371" fill-opacity="0.05"/><rect x="245.8" y="372.9" width="4.9" height="140.1" fill="#661371" fill-opacity="0.05"/><rect x="203.4" y="372.4" width="6.5" height="140.6" fill="#661371" fill-opacity="0.05"/><rect x="173.3" y="334.5" width="6.3" height="178.5" fill="#661371" fill-opacity="0.05"/><rect x="216.4" y="468.7" width="4.9" height="44.3" fill="#661371" fill-opacity="0.05"/><rect x="215.1" y="388.5" width="5.5" height="124.5" fill="#661371" fill-opacity="0.05"/><rect x="236.7" y="413.4" width="6.7" height="99.6" fill="#661371" fill-opacity="0.05"/><rect x="237" y="430.8" width="3.2" height="82.2" fill="#661371" fill-opacity="0.05"/><rect x="263.8" y="440" width="6.1" height="73" fill="#661371" fill-opacity="0.05"/><rect x="178.8" y="313.8" width="6.3" height="199.2" fill="#661371" fill-opacity="0.05"/><rect x="260.5" y="283.3" width="2.3" height="229.7" fill="#661371" fill-opacity="0.05"/><rect x="189" y="323.8" width="3.7" height="189.2" fill="#661371" fill-opacity="0.05"/><rect x="234.3" y="286.9" width="4.5" height="226.1" fill="#661371" fill-opacity="0.05"/><rect x="208.5" y="373.3" width="5.8" height="139.7" fill="#661371" fill-opacity="0.05"/><rect x="207.2" y="411.7" width="4.1" height="101.3" fill="#661371" fill-opacity="0.05"/><rect x="159.4" y="286.4" width="4.5" height="226.6" fill="#661371" fill-opacity="0.05"/><rect x="187.6" y="429" width="2.1" height="84" fill="#661371" fill-opacity="0.05"/><rect x="219.5" y="479.3" width="2.8" height="33.7" fill="#661371" fill-opacity="0.05"/><rect x="170.4" y="361" width="3.8" height="152" fill="#661371" fill-opacity="0.05"/><rect x="198" y="296.7" width="4.4" height="216.3" fill="#661371" fill-opacity="0.05"/><rect x="188.4" y="384.7" width="6.9" height="128.3" fill="#661371" fill-opacity="0.05"/><rect x="212.8" y="400.7" width="3.5" height="112.3" fill="#661371" fill-opacity="0.05"/><rect x="176.1" y="350.8" width="5.7" height="162.2" fill="#661371" fill-opacity="0.05"/><rect x="233.2" y="397.5" width="2.1" height="115.5" fill="#661371" fill-opacity="0.05"/><rect x="193.9" y="359.8" width="4.7" height="153.2" fill="#661371" fill-opacity="0.05"/><rect x="160.1" y="416.7" width="6" height="96.3" fill="#661371" fill-opacity="0.05"/><rect x="262.3" y="464.5" width="3.7" height="48.5" fill="#661371" fill-opacity="0.05"/><rect x="239.5" y="358.4" width="3.2" height="154.6" fill="#661371" fill-opacity="0.05"/><rect x="237.5" y="329.5" width="3.1" height="183.5" fill="#661371" fill-opacity="0.05"/><rect x="246.5" y="329.5" width="4.5" height="183.5" fill="#661371" fill-opacity="0.05"/><rect x="170.6" y="359.2" width="5" height="153.8" fill="#661371" fill-opacity="0.05"/><rect x="169.3" y="481.6" width="6.6" height="31.4" fill="#661371" fill-opacity="0.05"/><rect x="160.2" y="335.1" width="3.6" height="177.9" fill="#661371" fill-opacity="0.05"/><rect x="182.6" y="438.6" width="5.1" height="74.4" fill="#661371" fill-opacity="0.05"/><rect x="237.1" y="496.4" width="2.7" height="16.6" fill="#661371" fill-opacity="0.05"/><rect x="171.1" y="387" width="3.9" height="126" fill="#661371" fill-opacity="0.05"/><rect x="260.5" y="319.4" width="2.9" height="193.6" fill="#661371" fill-opacity="0.05"/><rect x="206.4" y="404.8" width="5.8" height="108.2" fill="#661371" fill-opacity="0.05"/><rect x="247.1" y="397.4" width="3.9" height="115.6" fill="#661371" fill-opacity="0.05"/><rect x="218" y="335.1" width="5.4" height="177.9" fill="#661371" fill-opacity="0.05"/><rect x="214.5" y="374" width="4.8" height="139" fill="#661371" fill-opacity="0.05"/><rect x="197.5" y="372.2" width="4.1" height="140.8" fill="#661371" fill-opacity="0.05"/><rect x="227.1" y="290.2" width="5.5" height="222.8" fill="#661371" fill-opacity="0.05"/><rect x="201" y="411.3" width="3.1" height="101.7" fill="#661371" fill-opacity="0.05"/><rect x="244.4" y="351.8" width="6.2" height="161.2" fill="#661371" fill-opacity="0.05"/><rect x="183.7" y="460.4" width="5.9" height="52.6" fill="#661371" fill-opacity="0.05"/><rect x="165.1" y="321.3" width="3.8" height="191.7" fill="#661371" fill-opacity="0.05"/><rect x="217.1" y="407.5" width="4.6" height="105.5" fill="#661371" fill-opacity="0.05"/><rect x="172" y="332" width="6" height="181" fill="#661371" fill-opacity="0.05"/><rect x="174.1" y="356.4" width="6.1" height="156.6" fill="#661371" fill-opacity="0.05"/><rect x="263.7" y="295" width="6.3" height="218" fill="#661371" fill-opacity="0.05"/><rect x="238.3" y="472.7" width="6.2" height="40.3" fill="#661371" fill-opacity="0.05"/><rect x="189.9" y="478" width="6.1" height="35" fill="#661371" fill-opacity="0.05"/><rect x="199.9" y="288.6" width="5.4" height="224.4" fill="#661371" fill-opacity="0.05"/><rect x="211.6" y="375.9" width="3" height="137.1" fill="#661371" fill-opacity="0.05"/><rect x="184.7" y="317.3" width="7" height="195.7" fill="#661371" fill-opacity="0.05"/><rect x="188" y="383.6" width="2.5" height="129.4" fill="#661371" fill-opacity="0.05"/><rect x="180.6" y="490.8" width="3.1" height="22.2" fill="#661371" fill-opacity="0.05"/><rect x="179.1" y="323" width="3.7" height="190" fill="#661371" fill-opacity="0.05"/><rect x="175" y="410.1" width="2" height="102.9" fill="#661371" fill-opacity="0.05"/><rect x="250.6" y="380.6" width="3.3" height="132.4" fill="#661371" fill-opacity="0.05"/><rect x="237.3" y="350.8" width="6.7" height="162.2" fill="#661371" fill-opacity="0.05"/><rect x="263.4" y="348.6" width="3.4" height="164.4" fill="#661371" fill-opacity="0.05"/><rect x="223" y="322.1" width="5.3" height="190.9" fill="#661371" fill-opacity="0.05"/><rect x="173" y="356.9" width="6.3" height="156.1" fill="#661371" fill-opacity="0.05"/><rect x="210.6" y="444.1" width="2.5" height="68.9" fill="#661371" fill-opacity="0.05"/><rect x="254" y="328.9" width="5.4" height="184.1" fill="#661371" fill-opacity="0.05"/><rect x="221.7" y="469.8" width="5.6" height="43.2" fill="#661371" fill-opacity="0.05"/><rect x="243.6" y="302.7" width="6.6" height="210.3" fill="#661371" fill-opacity="0.05"/><rect x="182.6" y="281.6" width="2.5" height="231.4" fill="#661371" fill-opacity="0.05"/><rect x="169.9" y="315.7" width="5.3" height="197.3" fill="#661371" fill-opacity="0.05"/><rect x="260.8" y="390.3" width="4.9" height="122.7" fill="#661371" fill-opacity="0.05"/><rect x="208.4" y="402.9" width="5.5" height="110.1" fill="#661371" fill-opacity="0.05"/><rect x="252" y="298.7" width="4.8" height="214.3" fill="#661371" fill-opacity="0.05"/><rect x="215.7" y="501.7" width="6.7" height="11.3" fill="#661371" fill-opacity="0.05"/><rect x="188.7" y="297.1" width="6.4" height="215.9" fill="#661371" fill-opacity="0.05"/><rect x="232.5" y="428.7" width="3.9" height="84.3" fill="#661371" fill-opacity="0.05"/><rect x="206.2" y="406.3" width="4" height="106.7" fill="#661371" fill-opacity="0.05"/><rect x="172.1" y="423.4" width="3.1" height="89.6" fill="#661371" fill-opacity="0.05"/><rect x="239.6" y="400.5" width="6.5" height="112.5" fill="#661371" fill-opacity="0.05"/><rect x="264.9" y="331.3" width="3.5" height="181.7" fill="#661371" fill-opacity="0.05"/><rect x="246.7" y="278.5" width="6.9" height="234.5" fill="#661371" fill-opacity="0.05"/><rect x="229.8" y="398.1" width="2" height="114.9" fill="#661371" fill-opacity="0.05"/><rect x="239.7" y="440.5" width="7" height="72.5" fill="#661371" fill-opacity="0.05"/><rect x="242.9" y="425.1" width="3.5" height="87.9" fill="#661371" fill-opacity="0.05"/><rect x="155.7" y="357.3" width="3.1" height="155.7" fill="#661371" fill-opacity="0.05"/><rect x="255.8" y="336.4" width="2.3" height="176.6" fill="#661371" fill-opacity="0.05"/><rect x="157.4" y="339.8" width="5.9" height="173.2" fill="#661371" fill-opacity="0.05"/><rect x="162.4" y="357" width="4.2" height="156" fill="#661371" fill-opacity="0.05"/><rect x="224.9" y="335" width="4.9" height="178" fill="#661371" fill-opacity="0.05"/><rect x="170.4" y="346.8" width="4" height="166.2" fill="#661371" fill-opacity="0.05"/><rect x="237.3" y="302.7" width="6.4" height="210.3" fill="#661371" fill-opacity="0.05"/><rect x="263" y="345.3" width="5.1" height="167.7" fill="#661371" fill-opacity="0.05"/><circle cx="208.5" cy="330.7" r="4.4" fill="#661371" fill-opacity="0.27" stroke="#661371" stroke-opacity="0.3" stroke-width="1"/><circle cx="205.1" cy="465.1" r="4.4" fill="#661371" fill-opacity="0.27" stroke="#661371" stroke-opacity="0.3" stroke-width="1"/><circle cx="246.9" cy="427.7" r="4.4" fill="#661371" fill-opacity="0.27" stroke="#661371" stroke-opacity="0.3" stroke-width="1"/><circle cx="199.2" cy="318.4" r="4.4" fill="#661371" fill-opacity="0.27" stroke="#661371" stroke-opacity="0.3" stroke-width="1"/><circle cx="210.6" cy="355.1" r="4.4" fill="#661371" fill-opacity="0.27" stroke="#661371" stroke-opacity="0.3" stroke-width="1"/><circle cx="186.6" cy="379.9" r="4.4" fill="#661371" fill-opacity="0.27" stroke="#661371" stroke-opacity="0.3" stroke-width="1"/><circle cx="247.5" cy="428.7" r="4.4" fill="#661371" fill-opacity="0.27" stroke="#661371" stroke-opacity="0.3" stroke-width="1"/><circle cx="245.2" cy="456.5" r="4.4" fill="#661371" fill-opacity="0.27" stroke="#661371" stroke-opacity="0.3" stroke-width="1"/><circle cx="240.4" cy="415.9" r="4.4" fill="#661371" fill-opacity="0.27" stroke="#661371" stroke-opacity="0.3" stroke-width="1"/><circle cx="162.3" cy="406.5" r="4.4" fill="#661371" fill-opacity="0.27" stroke="#661371" stroke-opacity="0.3" stroke-width="1"/><circle cx="205.6" cy="422.2" r="4.4" fill="#661371" fill-opacity="0.27" stroke="#661371" stroke-opacity="0.3" stroke-width="1"/><circle cx="211.5" cy="319.2" r="4.4" fill="#661371" fill-opacity="0.27" stroke="#661371" stroke-opacity="0.3" stroke-width="1"/><circle cx="213.5" cy="447.9" r="4.4" fill="#661371" fill-opacity="0.27" stroke="#661371" stroke-opacity="0.3" stroke-width="1"/><circle cx="263.7" cy="431.1" r="4.4" fill="#661371" fill-opacity="0.27" stroke="#661371" stroke-opacity="0.3" stroke-width="1"/><circle cx="175.4" cy="374.4" r="4.4" fill="#661371" fill-opacity="0.27" stroke="#661371" stroke-opacity="0.3" stroke-width="1"/><circle cx="226.8" cy="389.6" r="4.4" fill="#661371" fill-opacity="0.27" stroke="#661371" stroke-opacity="0.3" stroke-width="1"/><circle cx="240.1" cy="388.8" r="4.4" fill="#661371" fill-opacity="0.27" stroke="#661371" stroke-opacity="0.3" stroke-width="1"/><circle cx="200.1" cy="493.5" r="4.4" fill="#661371" fill-opacity="0.27" stroke="#661371" stroke-opacity="0.3" stroke-width="1"/><circle cx="185.8" cy="385.3" r="4.4" fill="#661371" fill-opacity="0.27" stroke="#661371" stroke-opacity="0.3" stroke-width="1"/><circle cx="164.4" cy="314.4" r="4.4" fill="#661371" fill-opacity="0.27" stroke="#661371" stroke-opacity="0.3" stroke-width="1"/><circle cx="238.9" cy="295.9" r="4.4" fill="#661371" fill-opacity="0.27" stroke="#661371" stroke-opacity="0.3" stroke-width="1"/><circle cx="193.1" cy="318.9" r="4.4" fill="#661371" fill-opacity="0.27" stroke="#661371" stroke-opacity="0.3" stroke-width="1"/><circle cx="204.3" cy="411.4" r="4.4" fill="#661371" fill-opacity="0.27" stroke="#661371" stroke-opacity="0.3" stroke-width="1"/><circle cx="190.2" cy="347.9" r="4.4" fill="#661371" fill-opacity="0.27" stroke="#661371" stroke-opacity="0.3" stroke-width="1"/><circle cx="193.9" cy="406.6" r="4.4" fill="#661371" fill-opacity="0.27" stroke="#661371" stroke-opacity="0.3" stroke-width="1"/><circle cx="262" cy="385" r="4.4" fill="#661371" fill-opacity="0.27" stroke="#661371" stroke-opacity="0.3" stroke-width="1"/><circle cx="229.9" cy="287" r="4.4" fill="#661371" fill-opacity="0.27" stroke="#661371" stroke-opacity="0.3" stroke-width="1"/><circle cx="253.6" cy="375.1" r="4.4" fill="#661371" fill-opacity="0.27" stroke="#661371" stroke-opacity="0.3" stroke-width="1"/><circle cx="204.9" cy="342.2" r="4.4" fill="#661371" fill-opacity="0.27" stroke="#661371" stroke-opacity="0.3" stroke-width="1"/><circle cx="244.6" cy="385.5" r="4.4" fill="#661371" fill-opacity="0.27" stroke="#661371" stroke-opacity="0.3" stroke-width="1"/><circle cx="251.1" cy="350" r="4.4" fill="#661371" fill-opacity="0.27" stroke="#661371" stroke-opacity="0.3" stroke-width="1"/><circle cx="175" cy="363.6" r="4.4" fill="#661371" fill-opacity="0.27" stroke="#661371" stroke-opacity="0.3" stroke-width="1"/><circle cx="262" cy="498.1" r="4.4" fill="#661371" fill-opacity="0.27" stroke="#661371" stroke-opacity="0.3" stroke-width="1"/><circle cx="169" cy="436.7" r="4.4" fill="#661371" fill-opacity="0.27" stroke="#661371" stroke-opacity="0.3" stroke-width="1"/><circle cx="220.5" cy="333.6" r="4.4" fill="#661371" fill-opacity="0.27" stroke="#661371" stroke-opacity="0.3" stroke-width="1"/><circle cx="200.4" cy="373.2" r="4.4" fill="#661371" fill-opacity="0.27" stroke="#661371" stroke-opacity="0.3" stroke-width="1"/><circle cx="235.9" cy="317.3" r="4.4" fill="#661371" fill-opacity="0.27" stroke="#661371" stroke-opacity="0.3" stroke-width="1"/><circle cx="190.6" cy="457.3" r="4.4" fill="#661371" fill-opacity="0.27" stroke="#661371" stroke-opacity="0.3" stroke-width="1"/><circle cx="227.1" cy="489.7" r="4.4" fill="#661371" fill-opacity="0.27" stroke="#661371" stroke-opacity="0.3" stroke-width="1"/><circle cx="233.7" cy="342.2" r="4.4" fill="#661371" fill-opacity="0.27" stroke="#661371" stroke-opacity="0.3" stroke-width="1"/><circle cx="164.6" cy="357.5" r="4.4" fill="#661371" fill-opacity="0.27" stroke="#661371" stroke-opacity="0.3" stroke-width="1"/><circle cx="222.8" cy="352.7" r="4.4" fill="#661371" fill-opacity="0.27" stroke="#661371" stroke-opacity="0.3" stroke-width="1"/><circle cx="215.6" cy="317.2" r="4.4" fill="#661371" fill-opacity="0.27" stroke="#661371" stroke-opacity="0.3" stroke-width="1"/><circle cx="197.1" cy="436.9" r="4.4" fill="#661371" fill-opacity="0.27" stroke="#661371" stroke-opacity="0.3" stroke-width="1"/><circle cx="173.3" cy="290.2" r="4.4" fill="#661371" fill-opacity="0.27" stroke="#661371" stroke-opacity="0.3" stroke-width="1"/><circle cx="169.4" cy="299.4" r="4.4" fill="#661371" fill-opacity="0.27" stroke="#661371" stroke-opacity="0.3" stroke-width="1"/><circle cx="237.8" cy="296" r="4.4" fill="#661371" fill-opacity="0.27" stroke="#661371" stroke-opacity="0.3" stroke-width="1"/><circle cx="207.8" cy="320" r="4.4" fill="#661371" fill-opacity="0.27" stroke="#661371" stroke-opacity="0.3" stroke-width="1"/><circle cx="254.7" cy="431.2" r="4.4" fill="#661371" fill-opacity="0.27" stroke="#661371" stroke-opacity="0.3" stroke-width="1"/><circle cx="188.3" cy="305.4" r="4.4" fill="#661371" fill-opacity="0.27" stroke="#661371" stroke-opacity="0.3" stroke-width="1"/><circle cx="245.8" cy="287.5" r="4.4" fill="#661371" fill-opacity="0.27" stroke="#661371" stroke-opacity="0.3" stroke-width="1"/><circle cx="174.8" cy="286" r="4.4" fill="#661371" fill-opacity="0.27" stroke="#661371" stroke-opacity="0.3" stroke-width="1"/><circle cx="187.4" cy="298.6" r="4.4" fill="#661371" fill-opacity="0.27" stroke="#661371" stroke-opacity="0.3" stroke-width="1"/><circle cx="165.7" cy="321.8" r="4.4" fill="#661371" fill-opacity="0.27" stroke="#661371" stroke-opacity="0.3" stroke-width="1"/><circle cx="249.4" cy="442.4" r="4.4" fill="#661371" fill-opacity="0.27" stroke="#661371" stroke-opacity="0.3" stroke-width="1"/><circle cx="253.4" cy="458.7" r="4.4" fill="#661371" fill-opacity="0.27" stroke="#661371" stroke-opacity="0.3" stroke-width="1"/><circle cx="205.2" cy="368.4" r="4.4" fill="#661371" fill-opacity="0.27" stroke="#661371" stroke-opacity="0.3" stroke-width="1"/><circle cx="194.6" cy="297.3" r="4.4" fill="#661371" fill-opacity="0.27" stroke="#661371" stroke-opacity="0.3" stroke-width="1"/><circle cx="248.2" cy="372.9" r="4.4" fill="#661371" fill-opacity="0.27" stroke="#661371" stroke-opacity="0.3" stroke-width="1"/><circle cx="206.7" cy="372.4" r="4.4" fill="#661371" fill-opacity="0.27" stroke="#661371" stroke-opacity="0.3" stroke-width="1"/><circle cx="176.5" cy="334.5" r="4.4" fill="#661371" fill-opacity="0.27" stroke="#661371" stroke-opacity="0.3" stroke-width="1"/><circle cx="218.8" cy="468.7" r="4.4" fill="#661371" fill-opacity="0.27" stroke="#661371" stroke-opacity="0.3" stroke-width="1"/><circle cx="217.9" cy="388.5" r="4.4" fill="#661371" fill-opacity="0.27" stroke="#661371" stroke-opacity="0.3" stroke-width="1"/><circle cx="240.1" cy="413.4" r="4.4" fill="#661371" fill-opacity="0.27" stroke="#661371" stroke-opacity="0.3" stroke-width="1"/><circle cx="238.6" cy="430.8" r="4.4" fill="#661371" fill-opacity="0.27" stroke="#661371" stroke-opacity="0.3" stroke-width="1"/><circle cx="266.8" cy="440" r="4.4" fill="#661371" fill-opacity="0.27" stroke="#661371" stroke-opacity="0.3" stroke-width="1"/><circle cx="182" cy="313.8" r="4.4" fill="#661371" fill-opacity="0.27" stroke="#661371" stroke-opacity="0.3" stroke-width="1"/><circle cx="261.7" cy="283.3" r="4.4" fill="#661371" fill-opacity="0.27" stroke="#661371" stroke-opacity="0.3" stroke-width="1"/><circle cx="190.9" cy="323.8" r="4.4" fill="#661371" fill-opacity="0.27" stroke="#661371" stroke-opacity="0.3" stroke-width="1"/><circle cx="236.6" cy="286.9" r="4.4" fill="#661371" fill-opacity="0.27" stroke="#661371" stroke-opacity="0.3" stroke-width="1"/><circle cx="211.4" cy="373.3" r="4.4" fill="#661371" fill-opacity="0.27" stroke="#661371" stroke-opacity="0.3" stroke-width="1"/><circle cx="209.3" cy="411.7" r="4.4" fill="#661371" fill-opacity="0.27" stroke="#661371" stroke-opacity="0.3" stroke-width="1"/><circle cx="161.7" cy="286.4" r="4.4" fill="#661371" fill-opacity="0.27" stroke="#661371" stroke-opacity="0.3" stroke-width="1"/><circle cx="188.6" cy="429" r="4.4" fill="#661371" fill-opacity="0.27" stroke="#661371" stroke-opacity="0.3" stroke-width="1"/><circle cx="220.9" cy="479.3" r="4.4" fill="#661371" fill-opacity="0.27" stroke="#661371" stroke-opacity="0.3" stroke-width="1"/><circle cx="172.3" cy="361" r="4.4" fill="#661371" fill-opacity="0.27" stroke="#661371" stroke-opacity="0.3" stroke-width="1"/><circle cx="200.2" cy="296.7" r="4.4" fill="#661371" fill-opacity="0.27" stroke="#661371" stroke-opacity="0.3" stroke-width="1"/><circle cx="191.8" cy="384.7" r="4.4" fill="#661371" fill-opacity="0.27" stroke="#661371" stroke-opacity="0.3" stroke-width="1"/><circle cx="214.5" cy="400.7" r="4.4" fill="#661371" fill-opacity="0.27" stroke="#661371" stroke-opacity="0.3" stroke-width="1"/><circle cx="178.9" cy="350.8" r="4.4" fill="#661371" fill-opacity="0.27" stroke="#661371" stroke-opacity="0.3" stroke-width="1"/><circle cx="234.2" cy="397.5" r="4.4" fill="#661371" fill-opacity="0.27" stroke="#661371" stroke-opacity="0.3" stroke-width="1"/><circle cx="196.3" cy="359.8" r="4.4" fill="#661371" fill-opacity="0.27" stroke="#661371" stroke-opacity="0.3" stroke-width="1"/><circle cx="163.1" cy="416.7" r="4.4" fill="#661371" fill-opacity="0.27" stroke="#661371" stroke-opacity="0.3" stroke-width="1"/><circle cx="264.1" cy="464.5" r="4.4" fill="#661371" fill-opacity="0.27" stroke="#661371" stroke-opacity="0.3" stroke-width="1"/><circle cx="241" cy="358.4" r="4.4" fill="#661371" fill-opacity="0.27" stroke="#661371" stroke-opacity="0.3" stroke-width="1"/><circle cx="239.1" cy="329.5" r="4.4" fill="#661371" fill-opacity="0.27" stroke="#661371" stroke-opacity="0.3" stroke-width="1"/><circle cx="248.8" cy="329.5" r="4.4" fill="#661371" fill-opacity="0.27" stroke="#661371" stroke-opacity="0.3" stroke-width="1"/><circle cx="173.1" cy="359.2" r="4.4" fill="#661371" fill-opacity="0.27" stroke="#661371" stroke-opacity="0.3" stroke-width="1"/><circle cx="172.6" cy="481.6" r="4.4" fill="#661371" fill-opacity="0.27" stroke="#661371" stroke-opacity="0.3" stroke-width="1"/><circle cx="162" cy="335.1" r="4.4" fill="#661371" fill-opacity="0.27" stroke="#661371" stroke-opacity="0.3" stroke-width="1"/><circle cx="185.1" cy="438.6" r="4.4" fill="#661371" fill-opacity="0.27" stroke="#661371" stroke-opacity="0.3" stroke-width="1"/><circle cx="238.5" cy="496.4" r="4.4" fill="#661371" fill-opacity="0.27" stroke="#661371" stroke-opacity="0.3" stroke-width="1"/><circle cx="173" cy="387" r="4.4" fill="#661371" fill-opacity="0.27" stroke="#661371" stroke-opacity="0.3" stroke-width="1"/><circle cx="262" cy="319.4" r="4.4" fill="#661371" fill-opacity="0.27" stroke="#661371" stroke-opacity="0.3" stroke-width="1"/><circle cx="209.4" cy="404.8" r="4.4" fill="#661371" fill-opacity="0.27" stroke="#661371" stroke-opacity="0.3" stroke-width="1"/><circle cx="249" cy="397.4" r="4.4" fill="#661371" fill-opacity="0.27" stroke="#661371" stroke-opacity="0.3" stroke-width="1"/><circle cx="220.8" cy="335.1" r="4.4" fill="#661371" fill-opacity="0.27" stroke="#661371" stroke-opacity="0.3" stroke-width="1"/><circle cx="216.9" cy="374" r="4.4" fill="#661371" fill-opacity="0.27" stroke="#661371" stroke-opacity="0.3" stroke-width="1"/><circle cx="199.6" cy="372.2" r="4.4" fill="#661371" fill-opacity="0.27" stroke="#661371" stroke-opacity="0.3" stroke-width="1"/><circle cx="229.8" cy="290.2" r="4.4" fill="#661371" fill-opacity="0.27" stroke="#661371" stroke-opacity="0.3" stroke-width="1"/><circle cx="202.5" cy="411.3" r="4.4" fill="#661371" fill-opacity="0.27" stroke="#661371" stroke-opacity="0.3" stroke-width="1"/><circle cx="247.5" cy="351.8" r="4.4" fill="#661371" fill-opacity="0.27" stroke="#661371" stroke-opacity="0.3" stroke-width="1"/><circle cx="186.6" cy="460.4" r="4.4" fill="#661371" fill-opacity="0.27" stroke="#661371" stroke-opacity="0.3" stroke-width="1"/><circle cx="167" cy="321.3" r="4.4" fill="#661371" fill-opacity="0.27" stroke="#661371" stroke-opacity="0.3" stroke-width="1"/><circle cx="219.4" cy="407.5" r="4.4" fill="#661371" fill-opacity="0.27" stroke="#661371" stroke-opacity="0.3" stroke-width="1"/><circle cx="175" cy="332" r="4.4" fill="#661371" fill-opacity="0.27" stroke="#661371" stroke-opacity="0.3" stroke-width="1"/><circle cx="177.1" cy="356.4" r="4.4" fill="#661371" fill-opacity="0.27" stroke="#661371" stroke-opacity="0.3" stroke-width="1"/><circle cx="266.8" cy="295" r="4.4" fill="#661371" fill-opacity="0.27" stroke="#661371" stroke-opacity="0.3" stroke-width="1"/><circle cx="241.4" cy="472.7" r="4.4" fill="#661371" fill-opacity="0.27" stroke="#661371" stroke-opacity="0.3" stroke-width="1"/><circle cx="192.9" cy="478" r="4.4" fill="#661371" fill-opacity="0.27" stroke="#661371" stroke-opacity="0.3" stroke-width="1"/><circle cx="202.7" cy="288.6" r="4.4" fill="#661371" fill-opacity="0.27" stroke="#661371" stroke-opacity="0.3" stroke-width="1"/><circle cx="213.1" cy="375.9" r="4.4" fill="#661371" fill-opacity="0.27" stroke="#661371" stroke-opacity="0.3" stroke-width="1"/><circle cx="188.1" cy="317.3" r="4.4" fill="#661371" fill-opacity="0.27" stroke="#661371" stroke-opacity="0.3" stroke-width="1"/><circle cx="189.3" cy="383.6" r="4.4" fill="#661371" fill-opacity="0.27" stroke="#661371" stroke-opacity="0.3" stroke-width="1"/><circle cx="182.1" cy="490.8" r="4.4" fill="#661371" fill-opacity="0.27" stroke="#661371" stroke-opacity="0.3" stroke-width="1"/><circle cx="181" cy="323" r="4.4" fill="#661371" fill-opacity="0.27" stroke="#661371" stroke-opacity="0.3" stroke-width="1"/><circle cx="176" cy="410.1" r="4.4" fill="#661371" fill-opacity="0.27" stroke="#661371" stroke-opacity="0.3" stroke-width="1"/><circle cx="252.3" cy="380.6" r="4.4" fill="#661371" fill-opacity="0.27" stroke="#661371" stroke-opacity="0.3" stroke-width="1"/><circle cx="240.6" cy="350.8" r="4.4" fill="#661371" fill-opacity="0.27" stroke="#661371" stroke-opacity="0.3" stroke-width="1"/><circle cx="265.2" cy="348.6" r="4.4" fill="#661371" fill-opacity="0.27" stroke="#661371" stroke-opacity="0.3" stroke-width="1"/><circle cx="225.7" cy="322.1" r="4.4" fill="#661371" fill-opacity="0.27" stroke="#661371" stroke-opacity="0.3" stroke-width="1"/><circle cx="176.2" cy="356.9" r="4.4" fill="#661371" fill-opacity="0.27" stroke="#661371" stroke-opacity="0.3" stroke-width="1"/><circle cx="211.8" cy="444.1" r="4.4" fill="#661371" fill-opacity="0.27" stroke="#661371" stroke-opacity="0.3" stroke-width="1"/><circle cx="256.7" cy="328.9" r="4.4" fill="#661371" fill-opacity="0.27" stroke="#661371" stroke-opacity="0.3" stroke-width="1"/><circle cx="224.5" cy="469.8" r="4.4" fill="#661371" fill-opacity="0.27" stroke="#661371" stroke-opacity="0.3" stroke-width="1"/><circle cx="246.9" cy="302.7" r="4.4" fill="#661371" fill-opacity="0.27" stroke="#661371" stroke-opacity="0.3" stroke-width="1"/><circle cx="183.9" cy="281.6" r="4.4" fill="#661371" fill-opacity="0.27" stroke="#661371" stroke-opacity="0.3" stroke-width="1"/><circle cx="172.6" cy="315.7" r="4.4" fill="#661371" fill-opacity="0.27" stroke="#661371" stroke-opacity="0.3" stroke-width="1"/><circle cx="263.3" cy="390.3" r="4.4" fill="#661371" fill-opacity="0.27" stroke="#661371" stroke-opacity="0.3" stroke-width="1"/><circle cx="211.2" cy="402.9" r="4.4" fill="#661371" fill-opacity="0.27" stroke="#661371" stroke-opacity="0.3" stroke-width="1"/><circle cx="254.4" cy="298.7" r="4.4" fill="#661371" fill-opacity="0.27" stroke="#661371" stroke-opacity="0.3" stroke-width="1"/><circle cx="219" cy="501.7" r="4.4" fill="#661371" fill-opacity="0.27" stroke="#661371" stroke-opacity="0.3" stroke-width="1"/><circle cx="191.9" cy="297.1" r="4.4" fill="#661371" fill-opacity="0.27" stroke="#661371" stroke-opacity="0.3" stroke-width="1"/><circle cx="234.5" cy="428.7" r="4.4" fill="#661371" fill-opacity="0.27" stroke="#661371" stroke-opacity="0.3" stroke-width="1"/><circle cx="208.2" cy="406.3" r="4.4" fill="#661371" fill-opacity="0.27" stroke="#661371" stroke-opacity="0.3" stroke-width="1"/><circle cx="173.6" cy="423.4" r="4.4" fill="#661371" fill-opacity="0.27" stroke="#661371" stroke-opacity="0.3" stroke-width="1"/><circle cx="242.8" cy="400.5" r="4.4" fill="#661371" fill-opacity="0.27" stroke="#661371" stroke-opacity="0.3" stroke-width="1"/><circle cx="266.6" cy="331.3" r="4.4" fill="#661371" fill-opacity="0.27" stroke="#661371" stroke-opacity="0.3" stroke-width="1"/><circle cx="250.2" cy="278.5" r="4.4" fill="#661371" fill-opacity="0.27" stroke="#661371" stroke-opacity="0.3" stroke-width="1"/><circle cx="230.8" cy="398.1" r="4.4" fill="#661371" fill-opacity="0.27" stroke="#661371" stroke-opacity="0.3" stroke-width="1"/><circle cx="243.2" cy="440.5" r="4.4" fill="#661371" fill-opacity="0.27" stroke="#661371" stroke-opacity="0.3" stroke-width="1"/><circle cx="244.7" cy="425.1" r="4.4" fill="#661371" fill-opacity="0.27" stroke="#661371" stroke-opacity="0.3" stroke-width="1"/><circle cx="157.3" cy="357.3" r="4.4" fill="#661371" fill-opacity="0.27" stroke="#661371" stroke-opacity="0.3" stroke-width="1"/><circle cx="256.9" cy="336.4" r="4.4" fill="#661371" fill-opacity="0.27" stroke="#661371" stroke-opacity="0.3" stroke-width="1"/><circle cx="160.3" cy="339.8" r="4.4" fill="#661371" fill-opacity="0.27" stroke="#661371" stroke-opacity="0.3" stroke-width="1"/><circle cx="164.5" cy="357" r="4.4" fill="#661371" fill-opacity="0.27" stroke="#661371" stroke-opacity="0.3" stroke-width="1"/><circle cx="227.4" cy="335" r="4.4" fill="#661371" fill-opacity="0.27" stroke="#661371" stroke-opacity="0.3" stroke-width="1"/><circle cx="172.5" cy="346.8" r="4.4" fill="#661371" fill-opacity="0.27" stroke="#661371" stroke-opacity="0.3" stroke-width="1"/><circle cx="240.5" cy="302.7" r="4.4" fill="#661371" fill-opacity="0.27" stroke="#661371" stroke-opacity="0.3" stroke-width="1"/><circle cx="265.5" cy="345.3" r="4.4" fill="#661371" fill-opacity="0.27" stroke="#661371" stroke-opacity="0.3" stroke-width="1"/><circle cx="272.3" cy="293.4" r="4.3" fill="#661371" fill-opacity="0.35"/><circle cx="271.7" cy="297" r="4.3" fill="#661371" fill-opacity="0.35"/><circle cx="274.5" cy="297.8" r="4.3" fill="#661371" fill-opacity="0.35"/><circle cx="268.5" cy="294.9" r="4.3" fill="#661371" fill-opacity="0.35"/><circle cx="263.7" cy="290.6" r="4.3" fill="#661371" fill-opacity="0.35"/><circle cx="259.4" cy="293.3" r="4.3" fill="#661371" fill-opacity="0.35"/><circle cx="263" cy="286.1" r="4.3" fill="#661371" fill-opacity="0.35"/><circle cx="272.4" cy="290.1" r="4.3" fill="#661371" fill-opacity="0.35"/><circle cx="269.5" cy="292" r="4.3" fill="#661371" fill-opacity="0.35"/><circle cx="261.3" cy="285.2" r="4.3" fill="#661371" fill-opacity="0.35"/><circle cx="265.2" cy="292.2" r="4.3" fill="#661371" fill-opacity="0.35"/><circle cx="274.8" cy="282.9" r="4.3" fill="#661371" fill-opacity="0.35"/><circle cx="264.2" cy="285.3" r="4.3" fill="#661371" fill-opacity="0.35"/><circle cx="271.8" cy="293.7" r="4.3" fill="#661371" fill-opacity="0.35"/><circle cx="268.2" cy="283.7" r="4.3" fill="#661371" fill-opacity="0.35"/><circle cx="265.6" cy="291.9" r="4.3" fill="#661371" fill-opacity="0.35"/></g><path d="M267 490.1 L268.1 490.1 L269.2 490 L270.3 490 L271.4 490 L272.5 489.9 L273.6 489.9 L274.7 489.8 L275.8 489.8 L276.9 489.8 L278 489.7 L279.1 489.7 L280.2 489.6 L281.3 489.6 L282.4 489.6 L283.5 489.5 L284.6 489.5 L285.7 489.4 L286.8 489.4 L287.9 489.4 L289 489.3 L290.1 489.3 L291.2 489.2 L292.3 489.2 L293.4 489.2 L294.5 489.1 L295.6 489.1 L296.7 489 L297.8 489 L298.9 488.9 L300 488.9 L301.1 488.8 L302.2 488.8 L303.3 488.7 L304.4 488.7 L305.5 488.7 L306.6 488.6 L307.7 488.6 L308.8 488.5 L309.9 488.5 L311 488.4 L312.1 488.4 L313.2 488.3 L314.3 488.3 L315.4 488.2 L316.5 488.2 L317.6 488.1 L318.7 488.1 L319.8 488 L320.9 488 L322 487.9 L323.1 487.9 L324.2 487.8 L325.3 487.8 L326.4 487.7 L327.5 487.6 L328.6 487.6 L329.7 487.5 L330.8 487.5 L331.9 487.4 L333 487.4 L334.1 487.3 L335.2 487.2 L336.3 487.2 L337.4 487.1 L338.5 487.1 L339.6 487 L340.7 486.9 L341.8 486.9 L342.9 486.8 L344 486.8 L345.1 486.7 L346.2 486.6 L347.3 486.6 L348.4 486.5 L349.5 486.4 L350.6 486.4 L351.7 486.3 L352.8 486.3 L353.9 486.2 L355 486.1 L356.1 486 L357.2 486 L358.3 485.9 L359.4 485.8 L360.5 485.8 L361.6 485.7 L362.7 485.6 L363.8 485.6 L364.9 485.5 L366 485.4 L367.1 485.3 L368.2 485.3 L369.3 485.2 L370.4 485.1 L371.5 485 L372.6 485 L373.7 484.9 L374.8 484.8 L375.9 484.7 L377 484.6 L378.1 484.6 L379.2 484.5 L380.3 484.4 L381.4 484.3 L382.5 484.2 L383.6 484.1 L384.7 484.1 L385.8 484 L386.9 483.9 L388 483.8 L389.1 483.7 L390.2 483.6 L391.3 483.5 L392.4 483.4 L393.5 483.3 L394.6 483.2 L395.7 483.1 L396.8 483.1 L397.9 483 L399 482.9 L400.1 482.8 L401.2 482.7 L402.3 482.6 L403.4 482.5 L404.5 482.4 L405.6 482.3 L406.7 482.2 L407.8 482.1 L408.9 481.9 L410 481.8 L411.1 481.7 L412.2 481.6 L413.3 481.5 L414.4 481.4 L415.5 481.3 L416.6 481.2 L417.7 481.1 L418.8 480.9 L419.9 480.8 L421 480.7 L422.1 480.6 L423.2 480.5 L424.3 480.3 L425.4 480.2 L426.5 480.1 L427.6 480 L428.7 479.8 L429.8 479.7 L430.9 479.6 L432 479.5 L433.1 479.3 L434.2 479.2 L435.3 479.1 L436.4 478.9 L437.5 478.8 L438.6 478.6 L439.7 478.5 L440.8 478.4 L441.9 478.2 L443 478.1 L444.1 477.9 L445.2 477.8 L446.3 477.6 L447.4 477.5 L448.5 477.3 L449.6 477.2 L450.7 477 L451.8 476.9 L452.9 476.7 L454 476.5 L455.1 476.4 L456.2 476.2 L457.3 476 L458.4 475.9 L459.5 475.7 L460.6 475.5 L461.7 475.3 L462.8 475.2 L463.9 475 L465 474.8 L466.1 474.6 L467.2 474.4 L468.3 474.2 L469.4 474.1 L470.5 473.9 L471.6 473.7 L472.7 473.5 L473.8 473.3 L474.9 473.1 L476 472.9 L477.1 472.7 L478.2 472.5 L479.3 472.2 L480.4 472 L481.5 471.8 L482.6 471.6 L483.7 471.4 L484.8 471.1 L485.9 470.9 L487 470.7 L488.1 470.5 L489.2 470.2 L490.3 470 L491.4 469.7 L492.5 469.5 L493.6 469.2 L494.7 469 L495.8 468.7 L496.9 468.5 L498 468.2 L499.1 468 L500.2 467.7 L501.3 467.4 L502.4 467.2 L503.5 466.9 L504.6 466.6 L505.7 466.3 L506.8 466 L507.9 465.7 L509 465.4 L510.1 465.1 L511.2 464.8 L512.3 464.5 L513.4 464.2 L514.5 463.9 L515.6 463.6 L516.7 463.3 L517.8 462.9 L518.9 462.6 L520 462.3 L521.1 461.9 L522.2 461.6 L523.3 461.2 L524.4 460.9 L525.5 460.5 L526.6 460.1 L527.7 459.8 L528.8 459.4 L529.9 459 L531 458.6 L532.1 458.2 L533.2 457.9 L534.3 457.4 L535.4 457 L536.5 456.6 L537.6 456.2 L538.7 455.8 L539.8 455.4 L540.9 454.9 L542 454.5 L543.1 454 L544.2 453.6 L545.3 453.1 L546.4 452.6 L547.5 452.2 L548.6 451.7 L549.7 451.2 L550.8 450.7 L551.9 450.2 L553 449.7 L554.1 449.2 L555.2 448.7 L556.3 448.1 L557.4 447.6 L558.5 447 L559.6 446.5 L560.7 445.9 L561.8 445.3 L562.9 444.8 L564 444.2 L565.1 443.6 L566.2 443 L567.3 442.3 L568.4 441.7 L569.5 441.1 L570.6 440.4 L571.7 439.8 L572.8 439.1 L573.9 438.4 L575 437.8 L576.1 437.1 L577.2 436.4 L578.3 435.7 L579.4 434.9 L580.5 434.2 L581.6 433.4 L582.7 432.7 L583.8 431.9 L584.9 431.1 L586 430.3 L587.1 429.5 L588.2 428.7 L589.3 427.9 L590.4 427 L591.5 426.2 L592.6 425.3 L593.7 424.4 L594.8 423.5 L595.9 422.6 L597 421.7 L598.1 420.7 L599.2 419.8 L600.3 418.8 L601.4 417.8 L602.5 416.8 L603.6 415.8 L604.7 414.8 L605.8 413.7 L606.9 412.7 L608 411.6 L609.1 410.5 L610.2 409.4 L611.3 408.3 L612.4 407.1 L613.5 406 L614.6 404.8 L615.7 403.6 L616.8 402.4 L617.9 401.2 L619 399.9 L620.1 398.6 L621.2 397.3 L622.3 396 L623.4 394.7 L624.5 393.4 L625.6 392 L626.7 390.6 L627.8 389.2 L628.9 387.8 L630 386.3 L631.1 384.9 L632.2 383.4 L633.3 381.9 L634.4 380.4 L635.5 378.8 L636.6 377.2 L637.7 375.6 L638.8 374 L639.9 372.4 L641 370.7 L642.1 369.1 L643.2 367.4 L644.3 365.6 L645.4 363.9 L646.5 362.1 L647.6 360.3 L648.7 358.5 L649.8 356.7 L650.9 354.8 L652 352.9 L653.1 351 L654.2 349.1 L655.3 347.2 L656.4 345.2 L657.5 343.2 L658.6 341.2 L659.7 339.1 L660.8 337.1 L661.9 335 L663 332.9 L664.1 330.8 L665.2 328.6 L666.3 326.5 L667.4 324.3 L668.5 322.1 L669.6 319.9 L670.7 317.6 L671.8 315.3 L672.9 313.1 L674 310.8 L675.1 308.4 L676.2 306.1 L677.3 303.8 L678.4 301.4 L679.5 299 L680.6 296.6 L681.7 294.2 L682.8 291.8 L683.9 289.3 L685 286.8 L686.1 284.4 L687.2 281.9 L688.3 279.4 L689.4 276.9 L690.5 274.4 L691.6 271.9 L692.7 269.3 L693.8 266.8 L694.9 264.2 L696 261.7 L697.1 259.1 L698.2 256.5 L699.3 254 L700.4 251.4 L701.5 248.8 L702.6 246.3 L703.7 243.7 L704.8 241.1 L705.9 238.5 L707 235.9 L708.1 233.4 L709.2 230.8 L710.3 228.2 L711.4 225.7 L712.5 223.1 L713.6 220.6 L714.7 218.1 L715.8 215.6 L716.9 213.1 L718 210.6 L719.1 208.1 L720.2 205.7 L721.3 203.2 L722.4 200.8 L723.5 198.4 L724.6 196 L725.7 193.7 L726.8 191.3 L727.9 189 L729 186.7 L730.1 184.5 L731.2 182.2 L732.3 180 L733.4 177.8 L734.5 175.6 L735.6 173.5 L736.7 171.4 L737.8 169.3 L738.9 167.2 L740 165.2 L741.1 163.2 L742.2 161.2 L743.3 159.2 L744.4 157.3 L745.5 155.4 L746.6 153.6 L747.7 151.7 L748.8 149.9 L749.9 148.1 L751 146.4 L752.1 144.6 L753.2 142.9 L754.3 141.3 L755.4 139.6 L756.5 138 L757.6 136.4 L758.7 134.8 L759.8 133.3 L760.9 131.8 L762 130.3 L763.1 128.8 L764.2 127.4 L765.3 126 L766.4 124.6 L767.5 123.3 L768.6 121.9 L769.7 120.6 L770.8 119.3 L771.9 118 L773 116.8 L774.1 115.6 L775.2 114.4 L776.3 113.2 L777.4 112 L778.5 110.9 L779.6 109.8 L780.7 108.7 L781.8 107.6 L782.9 106.6 L784 105.5 L785.1 104.5 L786.2 103.5 L787.3 102.5 L788.4 101.6 L789.5 100.6 L790.6 99.7 L791.7 98.8 L792.8 97.9 L793.9 97 L795 96.1 L796.1 95.3 L797.2 94.5 L798.3 93.6 L799.4 92.8 L800.5 92 L801.6 91.3 L802.7 90.5 L803.8 89.8 L804.9 89 L806 88.3 L807.1 87.6 L808.2 86.9 L809.3 86.2 L810.4 85.5 L811.5 84.9 L812.6 84.2 L813.7 83.6 L814.8 83 L815.9 82.4 L817 81.8 L818.1 81.2 L819.2 80.6 L820.3 80 L821.4 79.4 L822.5 78.9 L823.6 78.3 L824.7 77.8 L825.8 77.3 L826.9 76.8 L828 76.3 L829.1 75.8 L830.2 75.3 L831.3 74.8 L832.4 74.3 L833.5 73.8 L834.6 73.4 L835.7 72.9 L836.8 72.5 L837.9 72 L839 71.6 L840.1 71.2 L841.2 70.8 L842.3 70.3 L843.4 69.9 L844.5 69.5 L845.6 69.1 L846.7 68.8 L847.8 68.4 L848.9 68 L850 67.6 L851.1 67.3 L852.2 66.9 L853.3 66.6 L854.4 66.2 L855.5 65.9 L856.6 65.5 L857.7 65.2 L858.8 64.9 L859.9 64.6 L861 64.3 L862.1 63.9 L863.2 63.6 L864.3 63.3 L865.4 63 L866.5 62.7 L867.6 62.5 L868.7 62.2 L869.8 61.9 L870.9 61.6 L872 61.3 L873.1 61.1 L874.2 60.8 L875.3 60.5 L876.4 60.3 L877.5 60 L878.6 59.8 L879.7 59.5 L880.8 59.3 L881.9 59 L883 58.8 L884.1 58.6 L885.2 58.3 L886.3 58.1 L887.4 57.9 L888.5 57.7 L889.6 57.5 L890.7 57.2 L891.8 57 L892.9 56.8 L894 56.6 L895.1 56.4 L896.2 56.2 L897.3 56 L898.4 55.8 L899.5 55.6 L900.6 55.4 L901.7 55.2 L902.8 55 L903.9 54.9 L905 54.7 L906.1 54.5 L907.2 54.3 L908.3 54.1 L909.4 54 L910.5 53.8 L911.6 53.6 L912.7 53.5 L913.8 53.3 L914.9 53.1 L916 53 L917.1 52.8 L918.2 52.7 L919.3 52.5 L920.4 52.4 L921.5 52.2 L922.6 52.1 L923.7 51.9 L924.8 51.8 L925.9 51.6 L927 51.5 L928.1 51.3 L929.2 51.2 L930.3 51.1 L931.4 50.9 L932.5 50.8 L933.6 50.7 L934.7 50.5 L935.8 50.4 L936.9 50.3 L938 50.1 L939.1 50 L940.2 49.9 L941.3 49.8 L942.4 49.6 L943.5 49.5 L944.6 49.4 L945.7 49.3 L946.8 49.2 L947.9 49.1 L949 48.9 L950.1 48.8 L951.2 48.7 L952.3 48.6 L953.4 48.5 L954.5 48.4 L955.6 48.3 L956.7 48.2 L957.8 48.1 L958.9 48 L960 47.9 L961.1 47.8 L962.2 47.7 L963.3 47.6 L964.4 47.5 L965.5 47.4 L966.6 47.3 L967.7 47.2 L968.8 47.1 L969.9 47 L971 46.9 L972.1 46.8 L973.2 46.7 L974.3 46.6 L975.4 46.5 L976.5 46.5 L977.6 46.4 L978.7 46.3 L979.8 46.2 L980.9 46.1 L982 46 L983.1 46 L984.2 45.9 L985.3 45.8 L986.4 45.7 L987.5 45.6 L988.6 45.6 L989.7 45.5 L990.8 45.4 L991.9 45.3 L993 45.2 L994.1 45.2 L995.2 45.1 L996.3 45 L997.4 45 L998.5 44.9 L999.6 44.8 L1000.7 44.7 L1001.8 44.7 L1002.9 44.6 L1004 44.5 L1005.1 44.5 L1006.2 44.4 L1007.3 44.3 L1008.4 44.3 L1009.5 44.2 L1010.6 44.1 L1011.7 44.1 L1012.8 44 L1013.9 43.9 L1015 43.9 L1016.1 43.8 L1017.2 43.8 L1018.3 43.7 L1019.4 43.6 L1020.5 43.6 L1021.6 43.5 L1022.7 43.5 L1023.8 43.4 L1024.9 43.3 L1026 43.3 L1027.1 43.2 L1028.2 43.2 L1029.3 43.1 L1030.4 43.1 L1031.5 43 L1032.6 42.9 L1033.7 42.9 L1034.8 42.8 L1035.9 42.8 L1037 42.7 L1038.1 42.7 L1039.2 42.6 L1040.3 42.6 L1041.4 42.5 L1042.5 42.5 L1043.6 42.4 L1044.7 42.4 L1045.8 42.3 L1046.9 42.3 L1048 42.2 L1049.1 42.2 L1050.2 42.1 L1051.3 42.1 L1052.4 42 L1053.5 42 L1054.6 41.9 L1055.7 41.9 L1056.8 41.9 L1057.9 41.8 L1059 41.8 L1060.1 41.7 L1061.2 41.7 L1062.3 41.6 L1063.4 41.6 L1064.5 41.5 L1065.6 41.5 L1066.7 41.5 L1067.8 41.4 L1068.9 41.4 L1070 41.3 L1071.1 41.3 L1072.2 41.3 L1073.3 41.2 L1074.4 41.2 L1075.5 41.1 L1076.6 41.1 L1077.7 41.1 L1078.8 41 L1079.9 41 L1081 40.9 L1082.1 40.9 L1083.2 40.9 L1084.3 40.8 L1085.4 40.8 L1086.5 40.8 L1087.6 40.7 L1088.7 40.7 L1089.8 40.6 L1090.9 40.6 L1092 40.6 L1093.1 40.5 L1094.2 40.5 L1095.3 40.5 L1096.4 40.4 L1097.5 40.4 L1098.6 40.4 L1099.7 40.3 L1100.8 40.3 L1101.9 40.3 L1103 40.2 L1104.1 40.2 L1105.2 40.2 L1106.3 40.1 L1107.4 40.1 L1108.5 40.1 L1109.6 40 L1110.7 40 L1111.8 40 L1112.9 39.9 L1114 39.9 L1115.1 39.9 L1116.2 39.9 L1117.3 39.8 L1118.4 39.8 L1119.5 39.8 L1120.6 39.7 L1121.7 39.7 L1122.8 39.7 L1123.9 39.6 L1125 39.6 L1126.1 39.6 L1127.2 39.6 L1128.3 39.5 L1129.4 39.5 L1130.5 39.5 L1131.6 39.4 L1132.7 39.4 L1133.8 39.4 L1134.9 39.4 L1136 39.3 L1137.1 39.3 L1138.2 39.3 L1139.3 39.3 L1140.4 39.2 L1141.5 39.2 L1142.6 39.2 L1143.7 39.2 L1144.8 39.1 L1145.9 39.1 L1147 39.1 L1148.1 39.1 L1149.2 39 L1150.3 39 L1151.4 39 L1152.5 39 L1153.6 38.9 L1154.7 38.9 L1155.8 38.9 L1156.9 38.9 L1158 38.8 L1159.1 38.8 L1160.2 38.8 L1161.3 38.8 L1162.4 38.7 L1163.5 38.7 L1164.6 38.7 L1165.7 38.7 L1166.8 38.6 L1167.9 38.6 L1169 38.6 L1170.1 38.6 L1171.2 38.6 L1172.3 38.5 L1173.4 38.5 L1174.5 38.5 L1175.6 38.5 L1176.7 38.5 L1177.8 38.4 L1178.9 38.4 L1180 38.4 L1181.1 38.4 L1182.2 38.3 L1183.3 38.3 L1184.4 38.3 L1185.5 38.3 L1186.6 38.3 L1187.7 38.2 L1188.8 38.2 L1189.9 38.2 L1191 38.2 L1192.1 38.2 L1193.2 38.1 L1194.3 38.1 L1195.4 38.1 L1196.5 38.1 L1197.6 38.1 L1198.7 38.1 L1199.8 38 L1200.9 38 L1202 38 L1203.1 38 L1204.2 38 L1205.3 37.9 L1206.4 37.9 L1207.5 37.9 L1208.6 37.9 L1209.7 37.9 L1210.8 37.9 L1211.9 37.8 L1213 37.8 L1214.1 37.8 L1215.2 37.8 L1216.3 37.8 L1217.4 37.7 L1218.5 37.7 L1219.6 37.7 L1220.7 37.7 L1221.8 37.7 L1222.9 37.7 L1224 37.6 L1225.1 37.6 L1226.2 37.6 L1227.3 37.6 L1228.4 37.6 L1229.5 37.6 L1230.6 37.6 L1231.7 37.5 L1232.8 37.5 L1233.9 37.5 L1235 37.5 L1236.1 37.5 L1237.2 37.5 L1238.3 37.4 L1239.4 37.4 L1240.5 37.4 L1241.6 37.4 L1242.7 37.4 L1243.8 37.4 L1244.9 37.4 L1246 37.3 L1247.1 37.3 L1248.2 37.3 L1249.3 37.3 L1250.4 37.3 L1251.5 37.3 L1252.6 37.2 L1253.7 37.2 L1254.8 37.2 L1255.9 37.2 L1257 37.2 L1258.1 37.2 L1259.2 37.2 L1260.3 37.1 L1261.4 37.1 L1262.5 37.1 L1263.6 37.1 L1264.7 37.1 L1265.8 37.1 L1266.9 37.1 L1268 37.1" fill="none" stroke="#476a98" stroke-width="9" stroke-linejoin="round" clip-path="url(#clipA)"/><path d="M267 454.8 L268.1 454.8 L269.2 454.7 L270.3 454.7 L271.4 454.6 L272.5 454.6 L273.6 454.6 L274.7 454.5 L275.8 454.5 L276.9 454.5 L278 454.4 L279.1 454.4 L280.2 454.3 L281.3 454.3 L282.4 454.2 L283.5 454.2 L284.6 454.2 L285.7 454.1 L286.8 454.1 L287.9 454 L289 454 L290.1 454 L291.2 453.9 L292.3 453.9 L293.4 453.8 L294.5 453.8 L295.6 453.7 L296.7 453.7 L297.8 453.6 L298.9 453.6 L300 453.5 L301.1 453.5 L302.2 453.5 L303.3 453.4 L304.4 453.4 L305.5 453.3 L306.6 453.3 L307.7 453.2 L308.8 453.2 L309.9 453.1 L311 453.1 L312.1 453 L313.2 453 L314.3 452.9 L315.4 452.9 L316.5 452.8 L317.6 452.7 L318.7 452.7 L319.8 452.6 L320.9 452.6 L322 452.5 L323.1 452.5 L324.2 452.4 L325.3 452.4 L326.4 452.3 L327.5 452.2 L328.6 452.2 L329.7 452.1 L330.8 452.1 L331.9 452 L333 452 L334.1 451.9 L335.2 451.8 L336.3 451.8 L337.4 451.7 L338.5 451.7 L339.6 451.6 L340.7 451.5 L341.8 451.5 L342.9 451.4 L344 451.3 L345.1 451.3 L346.2 451.2 L347.3 451.1 L348.4 451.1 L349.5 451 L350.6 450.9 L351.7 450.9 L352.8 450.8 L353.9 450.7 L355 450.7 L356.1 450.6 L357.2 450.5 L358.3 450.4 L359.4 450.4 L360.5 450.3 L361.6 450.2 L362.7 450.1 L363.8 450.1 L364.9 450 L366 449.9 L367.1 449.8 L368.2 449.7 L369.3 449.7 L370.4 449.6 L371.5 449.5 L372.6 449.4 L373.7 449.3 L374.8 449.3 L375.9 449.2 L377 449.1 L378.1 449 L379.2 448.9 L380.3 448.8 L381.4 448.7 L382.5 448.7 L383.6 448.6 L384.7 448.5 L385.8 448.4 L386.9 448.3 L388 448.2 L389.1 448.1 L390.2 448 L391.3 447.9 L392.4 447.8 L393.5 447.7 L394.6 447.6 L395.7 447.5 L396.8 447.4 L397.9 447.3 L399 447.2 L400.1 447.1 L401.2 447 L402.3 446.9 L403.4 446.8 L404.5 446.7 L405.6 446.6 L406.7 446.5 L407.8 446.3 L408.9 446.2 L410 446.1 L411.1 446 L412.2 445.9 L413.3 445.8 L414.4 445.6 L415.5 445.5 L416.6 445.4 L417.7 445.3 L418.8 445.2 L419.9 445 L421 444.9 L422.1 444.8 L423.2 444.6 L424.3 444.5 L425.4 444.4 L426.5 444.3 L427.6 444.1 L428.7 444 L429.8 443.8 L430.9 443.7 L432 443.6 L433.1 443.4 L434.2 443.3 L435.3 443.1 L436.4 443 L437.5 442.8 L438.6 442.7 L439.7 442.5 L440.8 442.4 L441.9 442.2 L443 442.1 L444.1 441.9 L445.2 441.7 L446.3 441.6 L447.4 441.4 L448.5 441.2 L449.6 441.1 L450.7 440.9 L451.8 440.7 L452.9 440.6 L454 440.4 L455.1 440.2 L456.2 440 L457.3 439.8 L458.4 439.7 L459.5 439.5 L460.6 439.3 L461.7 439.1 L462.8 438.9 L463.9 438.7 L465 438.5 L466.1 438.3 L467.2 438.1 L468.3 437.9 L469.4 437.7 L470.5 437.5 L471.6 437.3 L472.7 437.1 L473.8 436.8 L474.9 436.6 L476 436.4 L477.1 436.2 L478.2 435.9 L479.3 435.7 L480.4 435.5 L481.5 435.2 L482.6 435 L483.7 434.7 L484.8 434.5 L485.9 434.2 L487 434 L488.1 433.7 L489.2 433.5 L490.3 433.2 L491.4 432.9 L492.5 432.7 L493.6 432.4 L494.7 432.1 L495.8 431.8 L496.9 431.6 L498 431.3 L499.1 431 L500.2 430.7 L501.3 430.4 L502.4 430.1 L503.5 429.8 L504.6 429.5 L505.7 429.2 L506.8 428.8 L507.9 428.5 L509 428.2 L510.1 427.8 L511.2 427.5 L512.3 427.2 L513.4 426.8 L514.5 426.5 L515.6 426.1 L516.7 425.8 L517.8 425.4 L518.9 425 L520 424.6 L521.1 424.3 L522.2 423.9 L523.3 423.5 L524.4 423.1 L525.5 422.7 L526.6 422.3 L527.7 421.9 L528.8 421.4 L529.9 421 L531 420.6 L532.1 420.1 L533.2 419.7 L534.3 419.2 L535.4 418.8 L536.5 418.3 L537.6 417.9 L538.7 417.4 L539.8 416.9 L540.9 416.4 L542 415.9 L543.1 415.4 L544.2 414.9 L545.3 414.4 L546.4 413.8 L547.5 413.3 L548.6 412.8 L549.7 412.2 L550.8 411.6 L551.9 411.1 L553 410.5 L554.1 409.9 L555.2 409.3 L556.3 408.7 L557.4 408.1 L558.5 407.5 L559.6 406.9 L560.7 406.2 L561.8 405.6 L562.9 404.9 L564 404.2 L565.1 403.6 L566.2 402.9 L567.3 402.2 L568.4 401.5 L569.5 400.7 L570.6 400 L571.7 399.3 L572.8 398.5 L573.9 397.7 L575 397 L576.1 396.2 L577.2 395.4 L578.3 394.6 L579.4 393.7 L580.5 392.9 L581.6 392 L582.7 391.2 L583.8 390.3 L584.9 389.4 L586 388.5 L587.1 387.6 L588.2 386.7 L589.3 385.7 L590.4 384.8 L591.5 383.8 L592.6 382.8 L593.7 381.8 L594.8 380.8 L595.9 379.7 L597 378.7 L598.1 377.6 L599.2 376.5 L600.3 375.4 L601.4 374.3 L602.5 373.2 L603.6 372.1 L604.7 370.9 L605.8 369.7 L606.9 368.5 L608 367.3 L609.1 366.1 L610.2 364.8 L611.3 363.5 L612.4 362.3 L613.5 360.9 L614.6 359.6 L615.7 358.3 L616.8 356.9 L617.9 355.5 L619 354.1 L620.1 352.7 L621.2 351.3 L622.3 349.8 L623.4 348.3 L624.5 346.8 L625.6 345.3 L626.7 343.8 L627.8 342.2 L628.9 340.6 L630 339 L631.1 337.4 L632.2 335.8 L633.3 334.1 L634.4 332.5 L635.5 330.8 L636.6 329 L637.7 327.3 L638.8 325.5 L639.9 323.7 L641 321.9 L642.1 320.1 L643.2 318.3 L644.3 316.4 L645.4 314.5 L646.5 312.6 L647.6 310.7 L648.7 308.8 L649.8 306.8 L650.9 304.8 L652 302.8 L653.1 300.8 L654.2 298.8 L655.3 296.7 L656.4 294.7 L657.5 292.6 L658.6 290.5 L659.7 288.4 L660.8 286.2 L661.9 284.1 L663 281.9 L664.1 279.7 L665.2 277.5 L666.3 275.3 L667.4 273.1 L668.5 270.9 L669.6 268.6 L670.7 266.4 L671.8 264.1 L672.9 261.8 L674 259.5 L675.1 257.2 L676.2 254.9 L677.3 252.6 L678.4 250.3 L679.5 248 L680.6 245.6 L681.7 243.3 L682.8 240.9 L683.9 238.6 L685 236.2 L686.1 233.9 L687.2 231.5 L688.3 229.2 L689.4 226.8 L690.5 224.4 L691.6 222.1 L692.7 219.7 L693.8 217.4 L694.9 215 L696 212.7 L697.1 210.3 L698.2 207.9 L699.3 205.6 L700.4 203.2 L701.5 200.9 L702.6 198.6 L703.7 196.2 L704.8 193.9 L705.9 191.6 L707 189.2 L708.1 186.9 L709.2 184.6 L710.3 182.3 L711.4 180 L712.5 177.7 L713.6 175.4 L714.7 173.2 L715.8 170.9 L716.9 168.7 L718 166.4 L719.1 164.2 L720.2 162 L721.3 159.8 L722.4 157.6 L723.5 155.4 L724.6 153.3 L725.7 151.2 L726.8 149 L727.9 146.9 L729 144.9 L730.1 142.8 L731.2 140.8 L732.3 138.8 L733.4 136.8 L734.5 134.8 L735.6 132.8 L736.7 130.9 L737.8 129 L738.9 127.1 L740 125.3 L741.1 123.5 L742.2 121.7 L743.3 119.9 L744.4 118.1 L745.5 116.4 L746.6 114.7 L747.7 113.1 L748.8 111.4 L749.9 109.8 L751 108.2 L752.1 106.7 L753.2 105.2 L754.3 103.7 L755.4 102.2 L756.5 100.8 L757.6 99.4 L758.7 98 L759.8 96.6 L760.9 95.3 L762 94 L763.1 92.8 L764.2 91.5 L765.3 90.3 L766.4 89.1 L767.5 87.9 L768.6 86.8 L769.7 85.7 L770.8 84.6 L771.9 83.5 L773 82.5 L774.1 81.5 L775.2 80.5 L776.3 79.5 L777.4 78.6 L778.5 77.7 L779.6 76.8 L780.7 75.9 L781.8 75 L782.9 74.2 L784 73.4 L785.1 72.6 L786.2 71.8 L787.3 71.1 L788.4 70.3 L789.5 69.6 L790.6 68.9 L791.7 68.2 L792.8 67.5 L793.9 66.9 L795 66.2 L796.1 65.6 L797.2 65 L798.3 64.4 L799.4 63.8 L800.5 63.3 L801.6 62.7 L802.7 62.2 L803.8 61.6 L804.9 61.1 L806 60.6 L807.1 60.1 L808.2 59.7 L809.3 59.2 L810.4 58.7 L811.5 58.3 L812.6 57.9 L813.7 57.4 L814.8 57 L815.9 56.6 L817 56.2 L818.1 55.9 L819.2 55.5 L820.3 55.1 L821.4 54.8 L822.5 54.4 L823.6 54.1 L824.7 53.7 L825.8 53.4 L826.9 53.1 L828 52.8 L829.1 52.5 L830.2 52.2 L831.3 51.9 L832.4 51.6 L833.5 51.3 L834.6 51 L835.7 50.8 L836.8 50.5 L837.9 50.3 L839 50 L840.1 49.8 L841.2 49.5 L842.3 49.3 L843.4 49.1 L844.5 48.8 L845.6 48.6 L846.7 48.4 L847.8 48.2 L848.9 48 L850 47.8 L851.1 47.6 L852.2 47.4 L853.3 47.2 L854.4 47 L855.5 46.9 L856.6 46.7 L857.7 46.5 L858.8 46.3 L859.9 46.2 L861 46 L862.1 45.8 L863.2 45.7 L864.3 45.5 L865.4 45.4 L866.5 45.2 L867.6 45.1 L868.7 44.9 L869.8 44.8 L870.9 44.7 L872 44.5 L873.1 44.4 L874.2 44.3 L875.3 44.1 L876.4 44 L877.5 43.9 L878.6 43.8 L879.7 43.7 L880.8 43.6 L881.9 43.4 L883 43.3 L884.1 43.2 L885.2 43.1 L886.3 43 L887.4 42.9 L888.5 42.8 L889.6 42.7 L890.7 42.6 L891.8 42.5 L892.9 42.4 L894 42.3 L895.1 42.2 L896.2 42.1 L897.3 42.1 L898.4 42 L899.5 41.9 L900.6 41.8 L901.7 41.7 L902.8 41.6 L903.9 41.6 L905 41.5 L906.1 41.4 L907.2 41.3 L908.3 41.3 L909.4 41.2 L910.5 41.1 L911.6 41 L912.7 41 L913.8 40.9 L914.9 40.8 L916 40.8 L917.1 40.7 L918.2 40.6 L919.3 40.6 L920.4 40.5 L921.5 40.5 L922.6 40.4 L923.7 40.3 L924.8 40.3 L925.9 40.2 L927 40.2 L928.1 40.1 L929.2 40.1 L930.3 40 L931.4 39.9 L932.5 39.9 L933.6 39.8 L934.7 39.8 L935.8 39.7 L936.9 39.7 L938 39.6 L939.1 39.6 L940.2 39.6 L941.3 39.5 L942.4 39.5 L943.5 39.4 L944.6 39.4 L945.7 39.3 L946.8 39.3 L947.9 39.2 L949 39.2 L950.1 39.2 L951.2 39.1 L952.3 39.1 L953.4 39 L954.5 39 L955.6 39 L956.7 38.9 L957.8 38.9 L958.9 38.9 L960 38.8 L961.1 38.8 L962.2 38.8 L963.3 38.7 L964.4 38.7 L965.5 38.6 L966.6 38.6 L967.7 38.6 L968.8 38.6 L969.9 38.5 L971 38.5 L972.1 38.5 L973.2 38.4 L974.3 38.4 L975.4 38.4 L976.5 38.3 L977.6 38.3 L978.7 38.3 L979.8 38.3 L980.9 38.2 L982 38.2 L983.1 38.2 L984.2 38.1 L985.3 38.1 L986.4 38.1 L987.5 38.1 L988.6 38 L989.7 38 L990.8 38 L991.9 38 L993 37.9 L994.1 37.9 L995.2 37.9 L996.3 37.9 L997.4 37.8 L998.5 37.8 L999.6 37.8 L1000.7 37.8 L1001.8 37.8 L1002.9 37.7 L1004 37.7 L1005.1 37.7 L1006.2 37.7 L1007.3 37.7 L1008.4 37.6 L1009.5 37.6 L1010.6 37.6 L1011.7 37.6 L1012.8 37.6 L1013.9 37.5 L1015 37.5 L1016.1 37.5 L1017.2 37.5 L1018.3 37.5 L1019.4 37.4 L1020.5 37.4 L1021.6 37.4 L1022.7 37.4 L1023.8 37.4 L1024.9 37.4 L1026 37.3 L1027.1 37.3 L1028.2 37.3 L1029.3 37.3 L1030.4 37.3 L1031.5 37.3 L1032.6 37.2 L1033.7 37.2 L1034.8 37.2 L1035.9 37.2 L1037 37.2 L1038.1 37.2 L1039.2 37.2 L1040.3 37.1 L1041.4 37.1 L1042.5 37.1 L1043.6 37.1 L1044.7 37.1 L1045.8 37.1 L1046.9 37.1 L1048 37 L1049.1 37 L1050.2 37 L1051.3 37 L1052.4 37 L1053.5 37 L1054.6 37 L1055.7 36.9 L1056.8 36.9 L1057.9 36.9 L1059 36.9 L1060.1 36.9 L1061.2 36.9 L1062.3 36.9 L1063.4 36.9 L1064.5 36.9 L1065.6 36.8 L1066.7 36.8 L1067.8 36.8 L1068.9 36.8 L1070 36.8 L1071.1 36.8 L1072.2 36.8 L1073.3 36.8 L1074.4 36.8 L1075.5 36.7 L1076.6 36.7 L1077.7 36.7 L1078.8 36.7 L1079.9 36.7 L1081 36.7 L1082.1 36.7 L1083.2 36.7 L1084.3 36.7 L1085.4 36.7 L1086.5 36.6 L1087.6 36.6 L1088.7 36.6 L1089.8 36.6 L1090.9 36.6 L1092 36.6 L1093.1 36.6 L1094.2 36.6 L1095.3 36.6 L1096.4 36.6 L1097.5 36.6 L1098.6 36.6 L1099.7 36.5 L1100.8 36.5 L1101.9 36.5 L1103 36.5 L1104.1 36.5 L1105.2 36.5 L1106.3 36.5 L1107.4 36.5 L1108.5 36.5 L1109.6 36.5 L1110.7 36.5 L1111.8 36.5 L1112.9 36.4 L1114 36.4 L1115.1 36.4 L1116.2 36.4 L1117.3 36.4 L1118.4 36.4 L1119.5 36.4 L1120.6 36.4 L1121.7 36.4 L1122.8 36.4 L1123.9 36.4 L1125 36.4 L1126.1 36.4 L1127.2 36.4 L1128.3 36.4 L1129.4 36.3 L1130.5 36.3 L1131.6 36.3 L1132.7 36.3 L1133.8 36.3 L1134.9 36.3 L1136 36.3 L1137.1 36.3 L1138.2 36.3 L1139.3 36.3 L1140.4 36.3 L1141.5 36.3 L1142.6 36.3 L1143.7 36.3 L1144.8 36.3 L1145.9 36.3 L1147 36.2 L1148.1 36.2 L1149.2 36.2 L1150.3 36.2 L1151.4 36.2 L1152.5 36.2 L1153.6 36.2 L1154.7 36.2 L1155.8 36.2 L1156.9 36.2 L1158 36.2 L1159.1 36.2 L1160.2 36.2 L1161.3 36.2 L1162.4 36.2 L1163.5 36.2 L1164.6 36.2 L1165.7 36.2 L1166.8 36.2 L1167.9 36.2 L1169 36.1 L1170.1 36.1 L1171.2 36.1 L1172.3 36.1 L1173.4 36.1 L1174.5 36.1 L1175.6 36.1 L1176.7 36.1 L1177.8 36.1 L1178.9 36.1 L1180 36.1 L1181.1 36.1 L1182.2 36.1 L1183.3 36.1 L1184.4 36.1 L1185.5 36.1 L1186.6 36.1 L1187.7 36.1 L1188.8 36.1 L1189.9 36.1 L1191 36.1 L1192.1 36.1 L1193.2 36.1 L1194.3 36 L1195.4 36 L1196.5 36 L1197.6 36 L1198.7 36 L1199.8 36 L1200.9 36 L1202 36 L1203.1 36 L1204.2 36 L1205.3 36 L1206.4 36 L1207.5 36 L1208.6 36 L1209.7 36 L1210.8 36 L1211.9 36 L1213 36 L1214.1 36 L1215.2 36 L1216.3 36 L1217.4 36 L1218.5 36 L1219.6 36 L1220.7 36 L1221.8 36 L1222.9 36 L1224 36 L1225.1 35.9 L1226.2 35.9 L1227.3 35.9 L1228.4 35.9 L1229.5 35.9 L1230.6 35.9 L1231.7 35.9 L1232.8 35.9 L1233.9 35.9 L1235 35.9 L1236.1 35.9 L1237.2 35.9 L1238.3 35.9 L1239.4 35.9 L1240.5 35.9 L1241.6 35.9 L1242.7 35.9 L1243.8 35.9 L1244.9 35.9 L1246 35.9 L1247.1 35.9 L1248.2 35.9 L1249.3 35.9 L1250.4 35.9 L1251.5 35.9 L1252.6 35.9 L1253.7 35.9 L1254.8 35.9 L1255.9 35.9 L1257 35.9 L1258.1 35.9 L1259.2 35.9 L1260.3 35.9 L1261.4 35.9 L1262.5 35.9 L1263.6 35.9 L1264.7 35.8 L1265.8 35.8 L1266.9 35.8 L1268 35.8" fill="none" stroke="#7a9a45" stroke-width="9" stroke-linejoin="round" clip-path="url(#clipA)"/><path d="M267 413.4 L268.1 413.4 L269.2 413.3 L270.3 413.3 L271.4 413.3 L272.5 413.2 L273.6 413.2 L274.7 413.2 L275.8 413.1 L276.9 413.1 L278 413.1 L279.1 413 L280.2 413 L281.3 413 L282.4 412.9 L283.5 412.9 L284.6 412.8 L285.7 412.8 L286.8 412.8 L287.9 412.7 L289 412.7 L290.1 412.7 L291.2 412.6 L292.3 412.6 L293.4 412.5 L294.5 412.5 L295.6 412.5 L296.7 412.4 L297.8 412.4 L298.9 412.3 L300 412.3 L301.1 412.3 L302.2 412.2 L303.3 412.2 L304.4 412.1 L305.5 412.1 L306.6 412 L307.7 412 L308.8 412 L309.9 411.9 L311 411.9 L312.1 411.8 L313.2 411.8 L314.3 411.7 L315.4 411.7 L316.5 411.6 L317.6 411.6 L318.7 411.5 L319.8 411.5 L320.9 411.4 L322 411.4 L323.1 411.3 L324.2 411.3 L325.3 411.2 L326.4 411.2 L327.5 411.1 L328.6 411.1 L329.7 411 L330.8 411 L331.9 410.9 L333 410.9 L334.1 410.8 L335.2 410.8 L336.3 410.7 L337.4 410.7 L338.5 410.6 L339.6 410.6 L340.7 410.5 L341.8 410.4 L342.9 410.4 L344 410.3 L345.1 410.3 L346.2 410.2 L347.3 410.1 L348.4 410.1 L349.5 410 L350.6 410 L351.7 409.9 L352.8 409.8 L353.9 409.8 L355 409.7 L356.1 409.6 L357.2 409.6 L358.3 409.5 L359.4 409.5 L360.5 409.4 L361.6 409.3 L362.7 409.2 L363.8 409.2 L364.9 409.1 L366 409 L367.1 409 L368.2 408.9 L369.3 408.8 L370.4 408.8 L371.5 408.7 L372.6 408.6 L373.7 408.5 L374.8 408.5 L375.9 408.4 L377 408.3 L378.1 408.2 L379.2 408.1 L380.3 408.1 L381.4 408 L382.5 407.9 L383.6 407.8 L384.7 407.7 L385.8 407.6 L386.9 407.6 L388 407.5 L389.1 407.4 L390.2 407.3 L391.3 407.2 L392.4 407.1 L393.5 407 L394.6 406.9 L395.7 406.9 L396.8 406.8 L397.9 406.7 L399 406.6 L400.1 406.5 L401.2 406.4 L402.3 406.3 L403.4 406.2 L404.5 406.1 L405.6 406 L406.7 405.9 L407.8 405.8 L408.9 405.7 L410 405.6 L411.1 405.5 L412.2 405.4 L413.3 405.2 L414.4 405.1 L415.5 405 L416.6 404.9 L417.7 404.8 L418.8 404.7 L419.9 404.6 L421 404.4 L422.1 404.3 L423.2 404.2 L424.3 404.1 L425.4 404 L426.5 403.8 L427.6 403.7 L428.7 403.6 L429.8 403.5 L430.9 403.3 L432 403.2 L433.1 403.1 L434.2 402.9 L435.3 402.8 L436.4 402.6 L437.5 402.5 L438.6 402.4 L439.7 402.2 L440.8 402.1 L441.9 401.9 L443 401.8 L444.1 401.6 L445.2 401.5 L446.3 401.3 L447.4 401.2 L448.5 401 L449.6 400.9 L450.7 400.7 L451.8 400.5 L452.9 400.4 L454 400.2 L455.1 400 L456.2 399.9 L457.3 399.7 L458.4 399.5 L459.5 399.3 L460.6 399.1 L461.7 399 L462.8 398.8 L463.9 398.6 L465 398.4 L466.1 398.2 L467.2 398 L468.3 397.8 L469.4 397.6 L470.5 397.4 L471.6 397.2 L472.7 397 L473.8 396.8 L474.9 396.6 L476 396.4 L477.1 396.2 L478.2 395.9 L479.3 395.7 L480.4 395.5 L481.5 395.2 L482.6 395 L483.7 394.8 L484.8 394.5 L485.9 394.3 L487 394.1 L488.1 393.8 L489.2 393.6 L490.3 393.3 L491.4 393 L492.5 392.8 L493.6 392.5 L494.7 392.2 L495.8 392 L496.9 391.7 L498 391.4 L499.1 391.1 L500.2 390.8 L501.3 390.5 L502.4 390.2 L503.5 389.9 L504.6 389.6 L505.7 389.3 L506.8 389 L507.9 388.7 L509 388.4 L510.1 388 L511.2 387.7 L512.3 387.4 L513.4 387 L514.5 386.7 L515.6 386.3 L516.7 385.9 L517.8 385.6 L518.9 385.2 L520 384.8 L521.1 384.5 L522.2 384.1 L523.3 383.7 L524.4 383.3 L525.5 382.9 L526.6 382.5 L527.7 382.1 L528.8 381.6 L529.9 381.2 L531 380.8 L532.1 380.3 L533.2 379.9 L534.3 379.4 L535.4 379 L536.5 378.5 L537.6 378 L538.7 377.5 L539.8 377.1 L540.9 376.6 L542 376 L543.1 375.5 L544.2 375 L545.3 374.5 L546.4 373.9 L547.5 373.4 L548.6 372.8 L549.7 372.3 L550.8 371.7 L551.9 371.1 L553 370.5 L554.1 369.9 L555.2 369.3 L556.3 368.7 L557.4 368.1 L558.5 367.5 L559.6 366.8 L560.7 366.1 L561.8 365.5 L562.9 364.8 L564 364.1 L565.1 363.4 L566.2 362.7 L567.3 362 L568.4 361.2 L569.5 360.5 L570.6 359.7 L571.7 359 L572.8 358.2 L573.9 357.4 L575 356.6 L576.1 355.8 L577.2 354.9 L578.3 354.1 L579.4 353.2 L580.5 352.4 L581.6 351.5 L582.7 350.6 L583.8 349.7 L584.9 348.7 L586 347.8 L587.1 346.9 L588.2 345.9 L589.3 344.9 L590.4 343.9 L591.5 342.9 L592.6 341.9 L593.7 340.8 L594.8 339.7 L595.9 338.7 L597 337.6 L598.1 336.5 L599.2 335.3 L600.3 334.2 L601.4 333 L602.5 331.9 L603.6 330.7 L604.7 329.4 L605.8 328.2 L606.9 327 L608 325.7 L609.1 324.4 L610.2 323.1 L611.3 321.8 L612.4 320.5 L613.5 319.1 L614.6 317.8 L615.7 316.4 L616.8 315 L617.9 313.5 L619 312.1 L620.1 310.6 L621.2 309.1 L622.3 307.6 L623.4 306.1 L624.5 304.6 L625.6 303 L626.7 301.5 L627.8 299.9 L628.9 298.3 L630 296.7 L631.1 295 L632.2 293.4 L633.3 291.7 L634.4 290 L635.5 288.3 L636.6 286.5 L637.7 284.8 L638.8 283 L639.9 281.3 L641 279.5 L642.1 277.7 L643.2 275.8 L644.3 274 L645.4 272.2 L646.5 270.3 L647.6 268.4 L648.7 266.5 L649.8 264.6 L650.9 262.7 L652 260.8 L653.1 258.8 L654.2 256.9 L655.3 254.9 L656.4 253 L657.5 251 L658.6 249 L659.7 247 L660.8 245 L661.9 243 L663 241 L664.1 239 L665.2 236.9 L666.3 234.9 L667.4 232.9 L668.5 230.9 L669.6 228.8 L670.7 226.8 L671.8 224.7 L672.9 222.7 L674 220.7 L675.1 218.6 L676.2 216.6 L677.3 214.5 L678.4 212.5 L679.5 210.5 L680.6 208.4 L681.7 206.4 L682.8 204.4 L683.9 202.3 L685 200.3 L686.1 198.3 L687.2 196.2 L688.3 194.2 L689.4 192.2 L690.5 190.2 L691.6 188.1 L692.7 186.1 L693.8 184.1 L694.9 182.1 L696 180.1 L697.1 178.1 L698.2 176.1 L699.3 174.1 L700.4 172.1 L701.5 170.1 L702.6 168.1 L703.7 166.1 L704.8 164.2 L705.9 162.2 L707 160.2 L708.1 158.3 L709.2 156.3 L710.3 154.4 L711.4 152.5 L712.5 150.5 L713.6 148.6 L714.7 146.7 L715.8 144.8 L716.9 143 L718 141.1 L719.1 139.2 L720.2 137.4 L721.3 135.5 L722.4 133.7 L723.5 131.9 L724.6 130.1 L725.7 128.3 L726.8 126.6 L727.9 124.8 L729 123.1 L730.1 121.4 L731.2 119.6 L732.3 118 L733.4 116.3 L734.5 114.6 L735.6 113 L736.7 111.4 L737.8 109.8 L738.9 108.2 L740 106.6 L741.1 105.1 L742.2 103.6 L743.3 102.1 L744.4 100.6 L745.5 99.1 L746.6 97.7 L747.7 96.3 L748.8 94.9 L749.9 93.5 L751 92.1 L752.1 90.8 L753.2 89.5 L754.3 88.2 L755.4 86.9 L756.5 85.7 L757.6 84.5 L758.7 83.3 L759.8 82.1 L760.9 80.9 L762 79.8 L763.1 78.7 L764.2 77.6 L765.3 76.6 L766.4 75.5 L767.5 74.5 L768.6 73.5 L769.7 72.5 L770.8 71.5 L771.9 70.6 L773 69.7 L774.1 68.8 L775.2 67.9 L776.3 67.1 L777.4 66.2 L778.5 65.4 L779.6 64.6 L780.7 63.8 L781.8 63.1 L782.9 62.4 L784 61.6 L785.1 60.9 L786.2 60.2 L787.3 59.6 L788.4 58.9 L789.5 58.3 L790.6 57.7 L791.7 57.1 L792.8 56.5 L793.9 55.9 L795 55.4 L796.1 54.8 L797.2 54.3 L798.3 53.8 L799.4 53.3 L800.5 52.8 L801.6 52.3 L802.7 51.9 L803.8 51.4 L804.9 51 L806 50.6 L807.1 50.2 L808.2 49.8 L809.3 49.4 L810.4 49 L811.5 48.7 L812.6 48.3 L813.7 48 L814.8 47.6 L815.9 47.3 L817 47 L818.1 46.7 L819.2 46.4 L820.3 46.1 L821.4 45.8 L822.5 45.5 L823.6 45.3 L824.7 45 L825.8 44.8 L826.9 44.5 L828 44.3 L829.1 44.1 L830.2 43.8 L831.3 43.6 L832.4 43.4 L833.5 43.2 L834.6 43 L835.7 42.8 L836.8 42.6 L837.9 42.4 L839 42.3 L840.1 42.1 L841.2 41.9 L842.3 41.8 L843.4 41.6 L844.5 41.5 L845.6 41.3 L846.7 41.2 L847.8 41 L848.9 40.9 L850 40.8 L851.1 40.6 L852.2 40.5 L853.3 40.4 L854.4 40.3 L855.5 40.1 L856.6 40 L857.7 39.9 L858.8 39.8 L859.9 39.7 L861 39.6 L862.1 39.5 L863.2 39.4 L864.3 39.3 L865.4 39.2 L866.5 39.2 L867.6 39.1 L868.7 39 L869.8 38.9 L870.9 38.8 L872 38.8 L873.1 38.7 L874.2 38.6 L875.3 38.5 L876.4 38.5 L877.5 38.4 L878.6 38.3 L879.7 38.3 L880.8 38.2 L881.9 38.2 L883 38.1 L884.1 38.1 L885.2 38 L886.3 37.9 L887.4 37.9 L888.5 37.8 L889.6 37.8 L890.7 37.7 L891.8 37.7 L892.9 37.7 L894 37.6 L895.1 37.6 L896.2 37.5 L897.3 37.5 L898.4 37.4 L899.5 37.4 L900.6 37.4 L901.7 37.3 L902.8 37.3 L903.9 37.3 L905 37.2 L906.1 37.2 L907.2 37.2 L908.3 37.1 L909.4 37.1 L910.5 37.1 L911.6 37 L912.7 37 L913.8 37 L914.9 37 L916 36.9 L917.1 36.9 L918.2 36.9 L919.3 36.9 L920.4 36.8 L921.5 36.8 L922.6 36.8 L923.7 36.8 L924.8 36.7 L925.9 36.7 L927 36.7 L928.1 36.7 L929.2 36.7 L930.3 36.6 L931.4 36.6 L932.5 36.6 L933.6 36.6 L934.7 36.6 L935.8 36.5 L936.9 36.5 L938 36.5 L939.1 36.5 L940.2 36.5 L941.3 36.5 L942.4 36.4 L943.5 36.4 L944.6 36.4 L945.7 36.4 L946.8 36.4 L947.9 36.4 L949 36.4 L950.1 36.3 L951.2 36.3 L952.3 36.3 L953.4 36.3 L954.5 36.3 L955.6 36.3 L956.7 36.3 L957.8 36.3 L958.9 36.3 L960 36.2 L961.1 36.2 L962.2 36.2 L963.3 36.2 L964.4 36.2 L965.5 36.2 L966.6 36.2 L967.7 36.2 L968.8 36.2 L969.9 36.2 L971 36.1 L972.1 36.1 L973.2 36.1 L974.3 36.1 L975.4 36.1 L976.5 36.1 L977.6 36.1 L978.7 36.1 L979.8 36.1 L980.9 36.1 L982 36.1 L983.1 36.1 L984.2 36.1 L985.3 36.1 L986.4 36 L987.5 36 L988.6 36 L989.7 36 L990.8 36 L991.9 36 L993 36 L994.1 36 L995.2 36 L996.3 36 L997.4 36 L998.5 36 L999.6 36 L1000.7 36 L1001.8 36 L1002.9 36 L1004 36 L1005.1 36 L1006.2 35.9 L1007.3 35.9 L1008.4 35.9 L1009.5 35.9 L1010.6 35.9 L1011.7 35.9 L1012.8 35.9 L1013.9 35.9 L1015 35.9 L1016.1 35.9 L1017.2 35.9 L1018.3 35.9 L1019.4 35.9 L1020.5 35.9 L1021.6 35.9 L1022.7 35.9 L1023.8 35.9 L1024.9 35.9 L1026 35.9 L1027.1 35.9 L1028.2 35.9 L1029.3 35.9 L1030.4 35.9 L1031.5 35.9 L1032.6 35.9 L1033.7 35.9 L1034.8 35.9 L1035.9 35.9 L1037 35.9 L1038.1 35.8 L1039.2 35.8 L1040.3 35.8 L1041.4 35.8 L1042.5 35.8 L1043.6 35.8 L1044.7 35.8 L1045.8 35.8 L1046.9 35.8 L1048 35.8 L1049.1 35.8 L1050.2 35.8 L1051.3 35.8 L1052.4 35.8 L1053.5 35.8 L1054.6 35.8 L1055.7 35.8 L1056.8 35.8 L1057.9 35.8 L1059 35.8 L1060.1 35.8 L1061.2 35.8 L1062.3 35.8 L1063.4 35.8 L1064.5 35.8 L1065.6 35.8 L1066.7 35.8 L1067.8 35.8 L1068.9 35.8 L1070 35.8 L1071.1 35.8 L1072.2 35.8 L1073.3 35.8 L1074.4 35.8 L1075.5 35.8 L1076.6 35.8 L1077.7 35.8 L1078.8 35.8 L1079.9 35.8 L1081 35.8 L1082.1 35.8 L1083.2 35.8 L1084.3 35.8 L1085.4 35.8 L1086.5 35.8 L1087.6 35.8 L1088.7 35.8 L1089.8 35.8 L1090.9 35.8 L1092 35.8 L1093.1 35.8 L1094.2 35.8 L1095.3 35.8 L1096.4 35.8 L1097.5 35.8 L1098.6 35.8 L1099.7 35.8 L1100.8 35.8 L1101.9 35.8 L1103 35.7 L1104.1 35.7 L1105.2 35.7 L1106.3 35.7 L1107.4 35.7 L1108.5 35.7 L1109.6 35.7 L1110.7 35.7 L1111.8 35.7 L1112.9 35.7 L1114 35.7 L1115.1 35.7 L1116.2 35.7 L1117.3 35.7 L1118.4 35.7 L1119.5 35.7 L1120.6 35.7 L1121.7 35.7 L1122.8 35.7 L1123.9 35.7 L1125 35.7 L1126.1 35.7 L1127.2 35.7 L1128.3 35.7 L1129.4 35.7 L1130.5 35.7 L1131.6 35.7 L1132.7 35.7 L1133.8 35.7 L1134.9 35.7 L1136 35.7 L1137.1 35.7 L1138.2 35.7 L1139.3 35.7 L1140.4 35.7 L1141.5 35.7 L1142.6 35.7 L1143.7 35.7 L1144.8 35.7 L1145.9 35.7 L1147 35.7 L1148.1 35.7 L1149.2 35.7 L1150.3 35.7 L1151.4 35.7 L1152.5 35.7 L1153.6 35.7 L1154.7 35.7 L1155.8 35.7 L1156.9 35.7 L1158 35.7 L1159.1 35.7 L1160.2 35.7 L1161.3 35.7 L1162.4 35.7 L1163.5 35.7 L1164.6 35.7 L1165.7 35.7 L1166.8 35.7 L1167.9 35.7 L1169 35.7 L1170.1 35.7 L1171.2 35.7 L1172.3 35.7 L1173.4 35.7 L1174.5 35.7 L1175.6 35.7 L1176.7 35.7 L1177.8 35.7 L1178.9 35.7 L1180 35.7 L1181.1 35.7 L1182.2 35.7 L1183.3 35.7 L1184.4 35.7 L1185.5 35.7 L1186.6 35.7 L1187.7 35.7 L1188.8 35.7 L1189.9 35.7 L1191 35.7 L1192.1 35.7 L1193.2 35.7 L1194.3 35.7 L1195.4 35.7 L1196.5 35.7 L1197.6 35.7 L1198.7 35.7 L1199.8 35.7 L1200.9 35.7 L1202 35.7 L1203.1 35.7 L1204.2 35.7 L1205.3 35.7 L1206.4 35.7 L1207.5 35.7 L1208.6 35.7 L1209.7 35.7 L1210.8 35.7 L1211.9 35.7 L1213 35.7 L1214.1 35.7 L1215.2 35.7 L1216.3 35.7 L1217.4 35.7 L1218.5 35.7 L1219.6 35.7 L1220.7 35.7 L1221.8 35.7 L1222.9 35.7 L1224 35.7 L1225.1 35.7 L1226.2 35.7 L1227.3 35.7 L1228.4 35.7 L1229.5 35.7 L1230.6 35.7 L1231.7 35.7 L1232.8 35.7 L1233.9 35.7 L1235 35.7 L1236.1 35.7 L1237.2 35.7 L1238.3 35.7 L1239.4 35.7 L1240.5 35.7 L1241.6 35.7 L1242.7 35.7 L1243.8 35.7 L1244.9 35.7 L1246 35.7 L1247.1 35.7 L1248.2 35.7 L1249.3 35.7 L1250.4 35.7 L1251.5 35.7 L1252.6 35.7 L1253.7 35.7 L1254.8 35.7 L1255.9 35.7 L1257 35.7 L1258.1 35.7 L1259.2 35.7 L1260.3 35.7 L1261.4 35.7 L1262.5 35.7 L1263.6 35.7 L1264.7 35.7 L1265.8 35.7 L1266.9 35.7 L1268 35.7" fill="none" stroke="#963a3b" stroke-width="9" stroke-linejoin="round" clip-path="url(#clipA)"/><path d="M267 368.4 L268.1 368.4 L269.2 368.3 L270.3 368.3 L271.4 368.3 L272.5 368.2 L273.6 368.2 L274.7 368.2 L275.8 368.1 L276.9 368.1 L278 368.1 L279.1 368 L280.2 368 L281.3 368 L282.4 367.9 L283.5 367.9 L284.6 367.9 L285.7 367.8 L286.8 367.8 L287.9 367.7 L289 367.7 L290.1 367.7 L291.2 367.6 L292.3 367.6 L293.4 367.6 L294.5 367.5 L295.6 367.5 L296.7 367.4 L297.8 367.4 L298.9 367.4 L300 367.3 L301.1 367.3 L302.2 367.2 L303.3 367.2 L304.4 367.2 L305.5 367.1 L306.6 367.1 L307.7 367 L308.8 367 L309.9 366.9 L311 366.9 L312.1 366.9 L313.2 366.8 L314.3 366.8 L315.4 366.7 L316.5 366.7 L317.6 366.6 L318.7 366.6 L319.8 366.5 L320.9 366.5 L322 366.4 L323.1 366.4 L324.2 366.4 L325.3 366.3 L326.4 366.3 L327.5 366.2 L328.6 366.2 L329.7 366.1 L330.8 366.1 L331.9 366 L333 365.9 L334.1 365.9 L335.2 365.8 L336.3 365.8 L337.4 365.7 L338.5 365.7 L339.6 365.6 L340.7 365.6 L341.8 365.5 L342.9 365.5 L344 365.4 L345.1 365.3 L346.2 365.3 L347.3 365.2 L348.4 365.2 L349.5 365.1 L350.6 365.1 L351.7 365 L352.8 364.9 L353.9 364.9 L355 364.8 L356.1 364.7 L357.2 364.7 L358.3 364.6 L359.4 364.6 L360.5 364.5 L361.6 364.4 L362.7 364.4 L363.8 364.3 L364.9 364.2 L366 364.2 L367.1 364.1 L368.2 364 L369.3 363.9 L370.4 363.9 L371.5 363.8 L372.6 363.7 L373.7 363.7 L374.8 363.6 L375.9 363.5 L377 363.4 L378.1 363.4 L379.2 363.3 L380.3 363.2 L381.4 363.1 L382.5 363.1 L383.6 363 L384.7 362.9 L385.8 362.8 L386.9 362.7 L388 362.6 L389.1 362.6 L390.2 362.5 L391.3 362.4 L392.4 362.3 L393.5 362.2 L394.6 362.1 L395.7 362 L396.8 362 L397.9 361.9 L399 361.8 L400.1 361.7 L401.2 361.6 L402.3 361.5 L403.4 361.4 L404.5 361.3 L405.6 361.2 L406.7 361.1 L407.8 361 L408.9 360.9 L410 360.8 L411.1 360.7 L412.2 360.6 L413.3 360.5 L414.4 360.4 L415.5 360.3 L416.6 360.2 L417.7 360.1 L418.8 359.9 L419.9 359.8 L421 359.7 L422.1 359.6 L423.2 359.5 L424.3 359.4 L425.4 359.2 L426.5 359.1 L427.6 359 L428.7 358.9 L429.8 358.8 L430.9 358.6 L432 358.5 L433.1 358.4 L434.2 358.2 L435.3 358.1 L436.4 358 L437.5 357.8 L438.6 357.7 L439.7 357.6 L440.8 357.4 L441.9 357.3 L443 357.1 L444.1 357 L445.2 356.9 L446.3 356.7 L447.4 356.6 L448.5 356.4 L449.6 356.3 L450.7 356.1 L451.8 355.9 L452.9 355.8 L454 355.6 L455.1 355.5 L456.2 355.3 L457.3 355.1 L458.4 355 L459.5 354.8 L460.6 354.6 L461.7 354.4 L462.8 354.3 L463.9 354.1 L465 353.9 L466.1 353.7 L467.2 353.5 L468.3 353.3 L469.4 353.2 L470.5 353 L471.6 352.8 L472.7 352.6 L473.8 352.4 L474.9 352.2 L476 352 L477.1 351.7 L478.2 351.5 L479.3 351.3 L480.4 351.1 L481.5 350.9 L482.6 350.7 L483.7 350.4 L484.8 350.2 L485.9 350 L487 349.7 L488.1 349.5 L489.2 349.3 L490.3 349 L491.4 348.8 L492.5 348.5 L493.6 348.3 L494.7 348 L495.8 347.8 L496.9 347.5 L498 347.2 L499.1 346.9 L500.2 346.7 L501.3 346.4 L502.4 346.1 L503.5 345.8 L504.6 345.5 L505.7 345.2 L506.8 344.9 L507.9 344.6 L509 344.3 L510.1 344 L511.2 343.7 L512.3 343.4 L513.4 343 L514.5 342.7 L515.6 342.4 L516.7 342 L517.8 341.7 L518.9 341.3 L520 341 L521.1 340.6 L522.2 340.3 L523.3 339.9 L524.4 339.5 L525.5 339.1 L526.6 338.8 L527.7 338.4 L528.8 338 L529.9 337.6 L531 337.2 L532.1 336.7 L533.2 336.3 L534.3 335.9 L535.4 335.5 L536.5 335 L537.6 334.6 L538.7 334.1 L539.8 333.7 L540.9 333.2 L542 332.7 L543.1 332.2 L544.2 331.7 L545.3 331.2 L546.4 330.7 L547.5 330.2 L548.6 329.7 L549.7 329.2 L550.8 328.6 L551.9 328.1 L553 327.6 L554.1 327 L555.2 326.4 L556.3 325.8 L557.4 325.3 L558.5 324.7 L559.6 324.1 L560.7 323.5 L561.8 322.8 L562.9 322.2 L564 321.6 L565.1 320.9 L566.2 320.2 L567.3 319.6 L568.4 318.9 L569.5 318.2 L570.6 317.5 L571.7 316.8 L572.8 316.1 L573.9 315.3 L575 314.6 L576.1 313.8 L577.2 313.1 L578.3 312.3 L579.4 311.5 L580.5 310.7 L581.6 309.9 L582.7 309 L583.8 308.2 L584.9 307.3 L586 306.5 L587.1 305.6 L588.2 304.7 L589.3 303.8 L590.4 302.9 L591.5 301.9 L592.6 301 L593.7 300 L594.8 299.1 L595.9 298.1 L597 297.1 L598.1 296.1 L599.2 295 L600.3 294 L601.4 292.9 L602.5 291.8 L603.6 290.8 L604.7 289.6 L605.8 288.5 L606.9 287.4 L608 286.2 L609.1 285.1 L610.2 283.9 L611.3 282.7 L612.4 281.5 L613.5 280.3 L614.6 279 L615.7 277.7 L616.8 276.5 L617.9 275.2 L619 273.9 L620.1 272.5 L621.2 271.2 L622.3 269.9 L623.4 268.5 L624.5 267.1 L625.6 265.7 L626.7 264.3 L627.8 262.8 L628.9 261.4 L630 259.9 L631.1 258.4 L632.2 257 L633.3 255.4 L634.4 253.9 L635.5 252.4 L636.6 250.8 L637.7 249.3 L638.8 247.7 L639.9 246.1 L641 244.5 L642.1 242.8 L643.2 241.2 L644.3 239.6 L645.4 237.9 L646.5 236.2 L647.6 234.5 L648.7 232.9 L649.8 231.1 L650.9 229.4 L652 227.7 L653.1 226 L654.2 224.2 L655.3 222.5 L656.4 220.7 L657.5 218.9 L658.6 217.1 L659.7 215.4 L660.8 213.6 L661.9 211.8 L663 210 L664.1 208.2 L665.2 206.3 L666.3 204.5 L667.4 202.7 L668.5 200.9 L669.6 199.1 L670.7 197.2 L671.8 195.4 L672.9 193.6 L674 191.7 L675.1 189.9 L676.2 188.1 L677.3 186.2 L678.4 184.4 L679.5 182.6 L680.6 180.8 L681.7 178.9 L682.8 177.1 L683.9 175.3 L685 173.5 L686.1 171.6 L687.2 169.8 L688.3 168 L689.4 166.2 L690.5 164.3 L691.6 162.5 L692.7 160.7 L693.8 158.9 L694.9 157.1 L696 155.3 L697.1 153.5 L698.2 151.7 L699.3 149.9 L700.4 148.1 L701.5 146.3 L702.6 144.5 L703.7 142.8 L704.8 141 L705.9 139.2 L707 137.5 L708.1 135.7 L709.2 134 L710.3 132.2 L711.4 130.5 L712.5 128.8 L713.6 127.1 L714.7 125.4 L715.8 123.7 L716.9 122 L718 120.3 L719.1 118.7 L720.2 117 L721.3 115.4 L722.4 113.7 L723.5 112.1 L724.6 110.5 L725.7 108.9 L726.8 107.4 L727.9 105.8 L729 104.3 L730.1 102.7 L731.2 101.2 L732.3 99.7 L733.4 98.2 L734.5 96.8 L735.6 95.3 L736.7 93.9 L737.8 92.5 L738.9 91.1 L740 89.7 L741.1 88.3 L742.2 87 L743.3 85.7 L744.4 84.4 L745.5 83.1 L746.6 81.8 L747.7 80.6 L748.8 79.4 L749.9 78.2 L751 77 L752.1 75.8 L753.2 74.7 L754.3 73.6 L755.4 72.5 L756.5 71.4 L757.6 70.4 L758.7 69.4 L759.8 68.4 L760.9 67.4 L762 66.4 L763.1 65.5 L764.2 64.6 L765.3 63.7 L766.4 62.8 L767.5 62 L768.6 61.1 L769.7 60.3 L770.8 59.5 L771.9 58.8 L773 58 L774.1 57.3 L775.2 56.6 L776.3 55.9 L777.4 55.2 L778.5 54.5 L779.6 53.9 L780.7 53.3 L781.8 52.7 L782.9 52.1 L784 51.6 L785.1 51 L786.2 50.5 L787.3 50 L788.4 49.5 L789.5 49 L790.6 48.5 L791.7 48.1 L792.8 47.6 L793.9 47.2 L795 46.8 L796.1 46.4 L797.2 46 L798.3 45.6 L799.4 45.3 L800.5 44.9 L801.6 44.6 L802.7 44.3 L803.8 44 L804.9 43.7 L806 43.4 L807.1 43.1 L808.2 42.8 L809.3 42.6 L810.4 42.3 L811.5 42.1 L812.6 41.8 L813.7 41.6 L814.8 41.4 L815.9 41.2 L817 41 L818.1 40.8 L819.2 40.6 L820.3 40.4 L821.4 40.2 L822.5 40.1 L823.6 39.9 L824.7 39.8 L825.8 39.6 L826.9 39.5 L828 39.3 L829.1 39.2 L830.2 39.1 L831.3 38.9 L832.4 38.8 L833.5 38.7 L834.6 38.6 L835.7 38.5 L836.8 38.4 L837.9 38.3 L839 38.2 L840.1 38.1 L841.2 38 L842.3 37.9 L843.4 37.8 L844.5 37.8 L845.6 37.7 L846.7 37.6 L847.8 37.5 L848.9 37.5 L850 37.4 L851.1 37.3 L852.2 37.3 L853.3 37.2 L854.4 37.2 L855.5 37.1 L856.6 37.1 L857.7 37 L858.8 37 L859.9 36.9 L861 36.9 L862.1 36.8 L863.2 36.8 L864.3 36.7 L865.4 36.7 L866.5 36.7 L867.6 36.6 L868.7 36.6 L869.8 36.6 L870.9 36.5 L872 36.5 L873.1 36.5 L874.2 36.4 L875.3 36.4 L876.4 36.4 L877.5 36.4 L878.6 36.3 L879.7 36.3 L880.8 36.3 L881.9 36.3 L883 36.2 L884.1 36.2 L885.2 36.2 L886.3 36.2 L887.4 36.2 L888.5 36.2 L889.6 36.1 L890.7 36.1 L891.8 36.1 L892.9 36.1 L894 36.1 L895.1 36.1 L896.2 36 L897.3 36 L898.4 36 L899.5 36 L900.6 36 L901.7 36 L902.8 36 L903.9 36 L905 35.9 L906.1 35.9 L907.2 35.9 L908.3 35.9 L909.4 35.9 L910.5 35.9 L911.6 35.9 L912.7 35.9 L913.8 35.9 L914.9 35.9 L916 35.9 L917.1 35.8 L918.2 35.8 L919.3 35.8 L920.4 35.8 L921.5 35.8 L922.6 35.8 L923.7 35.8 L924.8 35.8 L925.9 35.8 L927 35.8 L928.1 35.8 L929.2 35.8 L930.3 35.8 L931.4 35.8 L932.5 35.8 L933.6 35.8 L934.7 35.8 L935.8 35.8 L936.9 35.8 L938 35.7 L939.1 35.7 L940.2 35.7 L941.3 35.7 L942.4 35.7 L943.5 35.7 L944.6 35.7 L945.7 35.7 L946.8 35.7 L947.9 35.7 L949 35.7 L950.1 35.7 L951.2 35.7 L952.3 35.7 L953.4 35.7 L954.5 35.7 L955.6 35.7 L956.7 35.7 L957.8 35.7 L958.9 35.7 L960 35.7 L961.1 35.7 L962.2 35.7 L963.3 35.7 L964.4 35.7 L965.5 35.7 L966.6 35.7 L967.7 35.7 L968.8 35.7 L969.9 35.7 L971 35.7 L972.1 35.7 L973.2 35.7 L974.3 35.7 L975.4 35.7 L976.5 35.7 L977.6 35.7 L978.7 35.7 L979.8 35.7 L980.9 35.7 L982 35.7 L983.1 35.7 L984.2 35.7 L985.3 35.7 L986.4 35.7 L987.5 35.7 L988.6 35.6 L989.7 35.6 L990.8 35.6 L991.9 35.6 L993 35.6 L994.1 35.6 L995.2 35.6 L996.3 35.6 L997.4 35.6 L998.5 35.6 L999.6 35.6 L1000.7 35.6 L1001.8 35.6 L1002.9 35.6 L1004 35.6 L1005.1 35.6 L1006.2 35.6 L1007.3 35.6 L1008.4 35.6 L1009.5 35.6 L1010.6 35.6 L1011.7 35.6 L1012.8 35.6 L1013.9 35.6 L1015 35.6 L1016.1 35.6 L1017.2 35.6 L1018.3 35.6 L1019.4 35.6 L1020.5 35.6 L1021.6 35.6 L1022.7 35.6 L1023.8 35.6 L1024.9 35.6 L1026 35.6 L1027.1 35.6 L1028.2 35.6 L1029.3 35.6 L1030.4 35.6 L1031.5 35.6 L1032.6 35.6 L1033.7 35.6 L1034.8 35.6 L1035.9 35.6 L1037 35.6 L1038.1 35.6 L1039.2 35.6 L1040.3 35.6 L1041.4 35.6 L1042.5 35.6 L1043.6 35.6 L1044.7 35.6 L1045.8 35.6 L1046.9 35.6 L1048 35.6 L1049.1 35.6 L1050.2 35.6 L1051.3 35.6 L1052.4 35.6 L1053.5 35.6 L1054.6 35.6 L1055.7 35.6 L1056.8 35.6 L1057.9 35.6 L1059 35.6 L1060.1 35.6 L1061.2 35.6 L1062.3 35.6 L1063.4 35.6 L1064.5 35.6 L1065.6 35.6 L1066.7 35.6 L1067.8 35.6 L1068.9 35.6 L1070 35.6 L1071.1 35.6 L1072.2 35.6 L1073.3 35.6 L1074.4 35.6 L1075.5 35.6 L1076.6 35.6 L1077.7 35.6 L1078.8 35.6 L1079.9 35.6 L1081 35.6 L1082.1 35.6 L1083.2 35.6 L1084.3 35.6 L1085.4 35.6 L1086.5 35.6 L1087.6 35.6 L1088.7 35.6 L1089.8 35.6 L1090.9 35.6 L1092 35.6 L1093.1 35.6 L1094.2 35.6 L1095.3 35.6 L1096.4 35.6 L1097.5 35.6 L1098.6 35.6 L1099.7 35.6 L1100.8 35.6 L1101.9 35.6 L1103 35.6 L1104.1 35.6 L1105.2 35.6 L1106.3 35.6 L1107.4 35.6 L1108.5 35.6 L1109.6 35.6 L1110.7 35.6 L1111.8 35.6 L1112.9 35.6 L1114 35.6 L1115.1 35.6 L1116.2 35.6 L1117.3 35.6 L1118.4 35.6 L1119.5 35.6 L1120.6 35.6 L1121.7 35.6 L1122.8 35.6 L1123.9 35.6 L1125 35.6 L1126.1 35.6 L1127.2 35.6 L1128.3 35.6 L1129.4 35.6 L1130.5 35.6 L1131.6 35.6 L1132.7 35.6 L1133.8 35.6 L1134.9 35.6 L1136 35.6 L1137.1 35.6 L1138.2 35.6 L1139.3 35.6 L1140.4 35.6 L1141.5 35.6 L1142.6 35.6 L1143.7 35.6 L1144.8 35.6 L1145.9 35.6 L1147 35.6 L1148.1 35.6 L1149.2 35.6 L1150.3 35.6 L1151.4 35.6 L1152.5 35.6 L1153.6 35.6 L1154.7 35.6 L1155.8 35.6 L1156.9 35.6 L1158 35.6 L1159.1 35.6 L1160.2 35.6 L1161.3 35.6 L1162.4 35.6 L1163.5 35.6 L1164.6 35.6 L1165.7 35.6 L1166.8 35.6 L1167.9 35.6 L1169 35.6 L1170.1 35.6 L1171.2 35.6 L1172.3 35.6 L1173.4 35.6 L1174.5 35.6 L1175.6 35.6 L1176.7 35.6 L1177.8 35.6 L1178.9 35.6 L1180 35.6 L1181.1 35.6 L1182.2 35.6 L1183.3 35.6 L1184.4 35.6 L1185.5 35.6 L1186.6 35.6 L1187.7 35.6 L1188.8 35.6 L1189.9 35.6 L1191 35.6 L1192.1 35.6 L1193.2 35.6 L1194.3 35.6 L1195.4 35.6 L1196.5 35.6 L1197.6 35.6 L1198.7 35.6 L1199.8 35.6 L1200.9 35.6 L1202 35.6 L1203.1 35.6 L1204.2 35.6 L1205.3 35.6 L1206.4 35.6 L1207.5 35.6 L1208.6 35.6 L1209.7 35.6 L1210.8 35.6 L1211.9 35.6 L1213 35.6 L1214.1 35.6 L1215.2 35.6 L1216.3 35.6 L1217.4 35.6 L1218.5 35.6 L1219.6 35.6 L1220.7 35.6 L1221.8 35.6 L1222.9 35.6 L1224 35.6 L1225.1 35.6 L1226.2 35.6 L1227.3 35.6 L1228.4 35.6 L1229.5 35.6 L1230.6 35.6 L1231.7 35.6 L1232.8 35.6 L1233.9 35.6 L1235 35.6 L1236.1 35.6 L1237.2 35.6 L1238.3 35.6 L1239.4 35.6 L1240.5 35.6 L1241.6 35.6 L1242.7 35.6 L1243.8 35.6 L1244.9 35.6 L1246 35.6 L1247.1 35.6 L1248.2 35.6 L1249.3 35.6 L1250.4 35.6 L1251.5 35.6 L1252.6 35.6 L1253.7 35.6 L1254.8 35.6 L1255.9 35.6 L1257 35.6 L1258.1 35.6 L1259.2 35.6 L1260.3 35.6 L1261.4 35.6 L1262.5 35.6 L1263.6 35.6 L1264.7 35.6 L1265.8 35.6 L1266.9 35.6 L1268 35.6" fill="none" stroke="#838383" stroke-width="9" stroke-linejoin="round" clip-path="url(#clipA)"/><path d="M267 324.6 L268.1 324.6 L269.2 324.5 L270.3 324.5 L271.4 324.5 L272.5 324.5 L273.6 324.4 L274.7 324.4 L275.8 324.4 L276.9 324.3 L278 324.3 L279.1 324.3 L280.2 324.2 L281.3 324.2 L282.4 324.2 L283.5 324.2 L284.6 324.1 L285.7 324.1 L286.8 324.1 L287.9 324 L289 324 L290.1 324 L291.2 323.9 L292.3 323.9 L293.4 323.9 L294.5 323.8 L295.6 323.8 L296.7 323.8 L297.8 323.7 L298.9 323.7 L300 323.6 L301.1 323.6 L302.2 323.6 L303.3 323.5 L304.4 323.5 L305.5 323.5 L306.6 323.4 L307.7 323.4 L308.8 323.4 L309.9 323.3 L311 323.3 L312.1 323.2 L313.2 323.2 L314.3 323.2 L315.4 323.1 L316.5 323.1 L317.6 323 L318.7 323 L319.8 323 L320.9 322.9 L322 322.9 L323.1 322.8 L324.2 322.8 L325.3 322.7 L326.4 322.7 L327.5 322.7 L328.6 322.6 L329.7 322.6 L330.8 322.5 L331.9 322.5 L333 322.4 L334.1 322.4 L335.2 322.3 L336.3 322.3 L337.4 322.2 L338.5 322.2 L339.6 322.2 L340.7 322.1 L341.8 322.1 L342.9 322 L344 322 L345.1 321.9 L346.2 321.9 L347.3 321.8 L348.4 321.7 L349.5 321.7 L350.6 321.6 L351.7 321.6 L352.8 321.5 L353.9 321.5 L355 321.4 L356.1 321.4 L357.2 321.3 L358.3 321.3 L359.4 321.2 L360.5 321.1 L361.6 321.1 L362.7 321 L363.8 321 L364.9 320.9 L366 320.9 L367.1 320.8 L368.2 320.7 L369.3 320.7 L370.4 320.6 L371.5 320.5 L372.6 320.5 L373.7 320.4 L374.8 320.4 L375.9 320.3 L377 320.2 L378.1 320.2 L379.2 320.1 L380.3 320 L381.4 320 L382.5 319.9 L383.6 319.8 L384.7 319.7 L385.8 319.7 L386.9 319.6 L388 319.5 L389.1 319.5 L390.2 319.4 L391.3 319.3 L392.4 319.2 L393.5 319.2 L394.6 319.1 L395.7 319 L396.8 318.9 L397.9 318.8 L399 318.8 L400.1 318.7 L401.2 318.6 L402.3 318.5 L403.4 318.4 L404.5 318.3 L405.6 318.3 L406.7 318.2 L407.8 318.1 L408.9 318 L410 317.9 L411.1 317.8 L412.2 317.7 L413.3 317.6 L414.4 317.5 L415.5 317.4 L416.6 317.4 L417.7 317.3 L418.8 317.2 L419.9 317.1 L421 317 L422.1 316.9 L423.2 316.8 L424.3 316.7 L425.4 316.6 L426.5 316.4 L427.6 316.3 L428.7 316.2 L429.8 316.1 L430.9 316 L432 315.9 L433.1 315.8 L434.2 315.7 L435.3 315.6 L436.4 315.5 L437.5 315.3 L438.6 315.2 L439.7 315.1 L440.8 315 L441.9 314.8 L443 314.7 L444.1 314.6 L445.2 314.5 L446.3 314.3 L447.4 314.2 L448.5 314.1 L449.6 313.9 L450.7 313.8 L451.8 313.7 L452.9 313.5 L454 313.4 L455.1 313.3 L456.2 313.1 L457.3 313 L458.4 312.8 L459.5 312.7 L460.6 312.5 L461.7 312.4 L462.8 312.2 L463.9 312.1 L465 311.9 L466.1 311.7 L467.2 311.6 L468.3 311.4 L469.4 311.3 L470.5 311.1 L471.6 310.9 L472.7 310.7 L473.8 310.6 L474.9 310.4 L476 310.2 L477.1 310 L478.2 309.9 L479.3 309.7 L480.4 309.5 L481.5 309.3 L482.6 309.1 L483.7 308.9 L484.8 308.7 L485.9 308.5 L487 308.3 L488.1 308.1 L489.2 307.9 L490.3 307.7 L491.4 307.5 L492.5 307.2 L493.6 307 L494.7 306.8 L495.8 306.6 L496.9 306.3 L498 306.1 L499.1 305.9 L500.2 305.6 L501.3 305.4 L502.4 305.2 L503.5 304.9 L504.6 304.7 L505.7 304.4 L506.8 304.1 L507.9 303.9 L509 303.6 L510.1 303.3 L511.2 303.1 L512.3 302.8 L513.4 302.5 L514.5 302.2 L515.6 301.9 L516.7 301.6 L517.8 301.3 L518.9 301 L520 300.7 L521.1 300.4 L522.2 300.1 L523.3 299.8 L524.4 299.5 L525.5 299.1 L526.6 298.8 L527.7 298.5 L528.8 298.1 L529.9 297.8 L531 297.4 L532.1 297.1 L533.2 296.7 L534.3 296.3 L535.4 296 L536.5 295.6 L537.6 295.2 L538.7 294.8 L539.8 294.4 L540.9 294 L542 293.6 L543.1 293.2 L544.2 292.8 L545.3 292.3 L546.4 291.9 L547.5 291.5 L548.6 291 L549.7 290.6 L550.8 290.1 L551.9 289.6 L553 289.2 L554.1 288.7 L555.2 288.2 L556.3 287.7 L557.4 287.2 L558.5 286.7 L559.6 286.2 L560.7 285.6 L561.8 285.1 L562.9 284.6 L564 284 L565.1 283.4 L566.2 282.9 L567.3 282.3 L568.4 281.7 L569.5 281.1 L570.6 280.5 L571.7 279.9 L572.8 279.3 L573.9 278.6 L575 278 L576.1 277.3 L577.2 276.7 L578.3 276 L579.4 275.3 L580.5 274.6 L581.6 273.9 L582.7 273.2 L583.8 272.5 L584.9 271.7 L586 271 L587.1 270.2 L588.2 269.5 L589.3 268.7 L590.4 267.9 L591.5 267.1 L592.6 266.3 L593.7 265.4 L594.8 264.6 L595.9 263.7 L597 262.9 L598.1 262 L599.2 261.1 L600.3 260.2 L601.4 259.3 L602.5 258.3 L603.6 257.4 L604.7 256.4 L605.8 255.5 L606.9 254.5 L608 253.5 L609.1 252.5 L610.2 251.4 L611.3 250.4 L612.4 249.3 L613.5 248.3 L614.6 247.2 L615.7 246.1 L616.8 244.9 L617.9 243.8 L619 242.7 L620.1 241.5 L621.2 240.3 L622.3 239.1 L623.4 237.9 L624.5 236.7 L625.6 235.5 L626.7 234.2 L627.8 233 L628.9 231.7 L630 230.4 L631.1 229.1 L632.2 227.8 L633.3 226.4 L634.4 225.1 L635.5 223.7 L636.6 222.3 L637.7 220.9 L638.8 219.5 L639.9 218.1 L641 216.7 L642.1 215.2 L643.2 213.7 L644.3 212.3 L645.4 210.8 L646.5 209.3 L647.6 207.8 L648.7 206.2 L649.8 204.7 L650.9 203.1 L652 201.6 L653.1 200 L654.2 198.4 L655.3 196.8 L656.4 195.2 L657.5 193.6 L658.6 192 L659.7 190.4 L660.8 188.7 L661.9 187.1 L663 185.4 L664.1 183.8 L665.2 182.1 L666.3 180.4 L667.4 178.7 L668.5 177.1 L669.6 175.4 L670.7 173.7 L671.8 172 L672.9 170.3 L674 168.6 L675.1 166.9 L676.2 165.2 L677.3 163.5 L678.4 161.7 L679.5 160 L680.6 158.3 L681.7 156.6 L682.8 154.9 L683.9 153.2 L685 151.5 L686.1 149.8 L687.2 148.1 L688.3 146.4 L689.4 144.7 L690.5 143 L691.6 141.3 L692.7 139.6 L693.8 137.9 L694.9 136.2 L696 134.5 L697.1 132.9 L698.2 131.2 L699.3 129.5 L700.4 127.8 L701.5 126.2 L702.6 124.5 L703.7 122.9 L704.8 121.2 L705.9 119.6 L707 118 L708.1 116.4 L709.2 114.7 L710.3 113.1 L711.4 111.6 L712.5 110 L713.6 108.4 L714.7 106.8 L715.8 105.3 L716.9 103.8 L718 102.2 L719.1 100.7 L720.2 99.2 L721.3 97.8 L722.4 96.3 L723.5 94.9 L724.6 93.4 L725.7 92 L726.8 90.6 L727.9 89.3 L729 87.9 L730.1 86.6 L731.2 85.2 L732.3 83.9 L733.4 82.7 L734.5 81.4 L735.6 80.2 L736.7 78.9 L737.8 77.8 L738.9 76.6 L740 75.4 L741.1 74.3 L742.2 73.2 L743.3 72.1 L744.4 71 L745.5 70 L746.6 69 L747.7 68 L748.8 67 L749.9 66.1 L751 65.2 L752.1 64.2 L753.2 63.4 L754.3 62.5 L755.4 61.7 L756.5 60.9 L757.6 60.1 L758.7 59.3 L759.8 58.5 L760.9 57.8 L762 57.1 L763.1 56.4 L764.2 55.7 L765.3 55.1 L766.4 54.4 L767.5 53.8 L768.6 53.2 L769.7 52.7 L770.8 52.1 L771.9 51.5 L773 51 L774.1 50.5 L775.2 50 L776.3 49.5 L777.4 49.1 L778.5 48.6 L779.6 48.2 L780.7 47.8 L781.8 47.4 L782.9 47 L784 46.6 L785.1 46.2 L786.2 45.9 L787.3 45.5 L788.4 45.2 L789.5 44.9 L790.6 44.6 L791.7 44.3 L792.8 44 L793.9 43.7 L795 43.4 L796.1 43.2 L797.2 42.9 L798.3 42.7 L799.4 42.4 L800.5 42.2 L801.6 42 L802.7 41.8 L803.8 41.6 L804.9 41.4 L806 41.2 L807.1 41 L808.2 40.8 L809.3 40.6 L810.4 40.5 L811.5 40.3 L812.6 40.2 L813.7 40 L814.8 39.9 L815.9 39.7 L817 39.6 L818.1 39.5 L819.2 39.3 L820.3 39.2 L821.4 39.1 L822.5 39 L823.6 38.9 L824.7 38.8 L825.8 38.7 L826.9 38.6 L828 38.5 L829.1 38.4 L830.2 38.3 L831.3 38.2 L832.4 38.1 L833.5 38 L834.6 37.9 L835.7 37.9 L836.8 37.8 L837.9 37.7 L839 37.6 L840.1 37.6 L841.2 37.5 L842.3 37.5 L843.4 37.4 L844.5 37.3 L845.6 37.3 L846.7 37.2 L847.8 37.2 L848.9 37.1 L850 37.1 L851.1 37 L852.2 37 L853.3 36.9 L854.4 36.9 L855.5 36.8 L856.6 36.8 L857.7 36.8 L858.8 36.7 L859.9 36.7 L861 36.6 L862.1 36.6 L863.2 36.6 L864.3 36.5 L865.4 36.5 L866.5 36.5 L867.6 36.4 L868.7 36.4 L869.8 36.4 L870.9 36.4 L872 36.3 L873.1 36.3 L874.2 36.3 L875.3 36.2 L876.4 36.2 L877.5 36.2 L878.6 36.2 L879.7 36.2 L880.8 36.1 L881.9 36.1 L883 36.1 L884.1 36.1 L885.2 36.1 L886.3 36 L887.4 36 L888.5 36 L889.6 36 L890.7 36 L891.8 35.9 L892.9 35.9 L894 35.9 L895.1 35.9 L896.2 35.9 L897.3 35.9 L898.4 35.9 L899.5 35.8 L900.6 35.8 L901.7 35.8 L902.8 35.8 L903.9 35.8 L905 35.8 L906.1 35.8 L907.2 35.8 L908.3 35.8 L909.4 35.7 L910.5 35.7 L911.6 35.7 L912.7 35.7 L913.8 35.7 L914.9 35.7 L916 35.7 L917.1 35.7 L918.2 35.7 L919.3 35.7 L920.4 35.6 L921.5 35.6 L922.6 35.6 L923.7 35.6 L924.8 35.6 L925.9 35.6 L927 35.6 L928.1 35.6 L929.2 35.6 L930.3 35.6 L931.4 35.6 L932.5 35.6 L933.6 35.6 L934.7 35.6 L935.8 35.6 L936.9 35.5 L938 35.5 L939.1 35.5 L940.2 35.5 L941.3 35.5 L942.4 35.5 L943.5 35.5 L944.6 35.5 L945.7 35.5 L946.8 35.5 L947.9 35.5 L949 35.5 L950.1 35.5 L951.2 35.5 L952.3 35.5 L953.4 35.5 L954.5 35.5 L955.6 35.5 L956.7 35.5 L957.8 35.5 L958.9 35.5 L960 35.5 L961.1 35.4 L962.2 35.4 L963.3 35.4 L964.4 35.4 L965.5 35.4 L966.6 35.4 L967.7 35.4 L968.8 35.4 L969.9 35.4 L971 35.4 L972.1 35.4 L973.2 35.4 L974.3 35.4 L975.4 35.4 L976.5 35.4 L977.6 35.4 L978.7 35.4 L979.8 35.4 L980.9 35.4 L982 35.4 L983.1 35.4 L984.2 35.4 L985.3 35.4 L986.4 35.4 L987.5 35.4 L988.6 35.4 L989.7 35.4 L990.8 35.4 L991.9 35.4 L993 35.4 L994.1 35.4 L995.2 35.4 L996.3 35.4 L997.4 35.4 L998.5 35.4 L999.6 35.4 L1000.7 35.4 L1001.8 35.4 L1002.9 35.4 L1004 35.4 L1005.1 35.4 L1006.2 35.4 L1007.3 35.4 L1008.4 35.4 L1009.5 35.3 L1010.6 35.3 L1011.7 35.3 L1012.8 35.3 L1013.9 35.3 L1015 35.3 L1016.1 35.3 L1017.2 35.3 L1018.3 35.3 L1019.4 35.3 L1020.5 35.3 L1021.6 35.3 L1022.7 35.3 L1023.8 35.3 L1024.9 35.3 L1026 35.3 L1027.1 35.3 L1028.2 35.3 L1029.3 35.3 L1030.4 35.3 L1031.5 35.3 L1032.6 35.3 L1033.7 35.3 L1034.8 35.3 L1035.9 35.3 L1037 35.3 L1038.1 35.3 L1039.2 35.3 L1040.3 35.3 L1041.4 35.3 L1042.5 35.3 L1043.6 35.3 L1044.7 35.3 L1045.8 35.3 L1046.9 35.3 L1048 35.3 L1049.1 35.3 L1050.2 35.3 L1051.3 35.3 L1052.4 35.3 L1053.5 35.3 L1054.6 35.3 L1055.7 35.3 L1056.8 35.3 L1057.9 35.3 L1059 35.3 L1060.1 35.3 L1061.2 35.3 L1062.3 35.3 L1063.4 35.3 L1064.5 35.3 L1065.6 35.3 L1066.7 35.3 L1067.8 35.3 L1068.9 35.3 L1070 35.3 L1071.1 35.3 L1072.2 35.3 L1073.3 35.3 L1074.4 35.3 L1075.5 35.3 L1076.6 35.3 L1077.7 35.3 L1078.8 35.3 L1079.9 35.3 L1081 35.3 L1082.1 35.3 L1083.2 35.3 L1084.3 35.3 L1085.4 35.3 L1086.5 35.3 L1087.6 35.3 L1088.7 35.3 L1089.8 35.3 L1090.9 35.3 L1092 35.3 L1093.1 35.3 L1094.2 35.3 L1095.3 35.3 L1096.4 35.3 L1097.5 35.3 L1098.6 35.3 L1099.7 35.3 L1100.8 35.3 L1101.9 35.3 L1103 35.3 L1104.1 35.3 L1105.2 35.3 L1106.3 35.3 L1107.4 35.3 L1108.5 35.3 L1109.6 35.3 L1110.7 35.3 L1111.8 35.3 L1112.9 35.3 L1114 35.3 L1115.1 35.3 L1116.2 35.3 L1117.3 35.3 L1118.4 35.3 L1119.5 35.3 L1120.6 35.3 L1121.7 35.3 L1122.8 35.3 L1123.9 35.3 L1125 35.3 L1126.1 35.3 L1127.2 35.3 L1128.3 35.3 L1129.4 35.3 L1130.5 35.3 L1131.6 35.3 L1132.7 35.3 L1133.8 35.3 L1134.9 35.3 L1136 35.3 L1137.1 35.3 L1138.2 35.3 L1139.3 35.3 L1140.4 35.3 L1141.5 35.3 L1142.6 35.3 L1143.7 35.3 L1144.8 35.3 L1145.9 35.3 L1147 35.3 L1148.1 35.3 L1149.2 35.3 L1150.3 35.3 L1151.4 35.3 L1152.5 35.3 L1153.6 35.3 L1154.7 35.3 L1155.8 35.3 L1156.9 35.3 L1158 35.3 L1159.1 35.3 L1160.2 35.3 L1161.3 35.3 L1162.4 35.3 L1163.5 35.3 L1164.6 35.3 L1165.7 35.3 L1166.8 35.3 L1167.9 35.3 L1169 35.3 L1170.1 35.3 L1171.2 35.3 L1172.3 35.3 L1173.4 35.3 L1174.5 35.3 L1175.6 35.3 L1176.7 35.3 L1177.8 35.3 L1178.9 35.3 L1180 35.3 L1181.1 35.3 L1182.2 35.3 L1183.3 35.3 L1184.4 35.3 L1185.5 35.3 L1186.6 35.3 L1187.7 35.3 L1188.8 35.3 L1189.9 35.3 L1191 35.3 L1192.1 35.3 L1193.2 35.3 L1194.3 35.3 L1195.4 35.3 L1196.5 35.3 L1197.6 35.3 L1198.7 35.3 L1199.8 35.3 L1200.9 35.3 L1202 35.3 L1203.1 35.3 L1204.2 35.3 L1205.3 35.3 L1206.4 35.3 L1207.5 35.3 L1208.6 35.3 L1209.7 35.3 L1210.8 35.3 L1211.9 35.3 L1213 35.3 L1214.1 35.3 L1215.2 35.3 L1216.3 35.3 L1217.4 35.3 L1218.5 35.3 L1219.6 35.3 L1220.7 35.3 L1221.8 35.3 L1222.9 35.3 L1224 35.3 L1225.1 35.3 L1226.2 35.3 L1227.3 35.3 L1228.4 35.3 L1229.5 35.3 L1230.6 35.3 L1231.7 35.3 L1232.8 35.3 L1233.9 35.3 L1235 35.3 L1236.1 35.3 L1237.2 35.3 L1238.3 35.3 L1239.4 35.3 L1240.5 35.3 L1241.6 35.3 L1242.7 35.3 L1243.8 35.3 L1244.9 35.3 L1246 35.3 L1247.1 35.3 L1248.2 35.3 L1249.3 35.3 L1250.4 35.3 L1251.5 35.3 L1252.6 35.3 L1253.7 35.3 L1254.8 35.3 L1255.9 35.3 L1257 35.3 L1258.1 35.3 L1259.2 35.3 L1260.3 35.3 L1261.4 35.3 L1262.5 35.3 L1263.6 35.3 L1264.7 35.3 L1265.8 35.3 L1266.9 35.3 L1268 35.3" fill="none" stroke="#d4591c" stroke-width="9" stroke-linejoin="round" clip-path="url(#clipA)"/><path d="M267 284.6 L268.1 284.6 L269.2 284.5 L270.3 284.5 L271.4 284.5 L272.5 284.5 L273.6 284.4 L274.7 284.4 L275.8 284.4 L276.9 284.4 L278 284.3 L279.1 284.3 L280.2 284.3 L281.3 284.2 L282.4 284.2 L283.5 284.2 L284.6 284.2 L285.7 284.1 L286.8 284.1 L287.9 284.1 L289 284 L290.1 284 L291.2 284 L292.3 283.9 L293.4 283.9 L294.5 283.9 L295.6 283.8 L296.7 283.8 L297.8 283.8 L298.9 283.8 L300 283.7 L301.1 283.7 L302.2 283.7 L303.3 283.6 L304.4 283.6 L305.5 283.6 L306.6 283.5 L307.7 283.5 L308.8 283.4 L309.9 283.4 L311 283.4 L312.1 283.3 L313.2 283.3 L314.3 283.3 L315.4 283.2 L316.5 283.2 L317.6 283.2 L318.7 283.1 L319.8 283.1 L320.9 283 L322 283 L323.1 283 L324.2 282.9 L325.3 282.9 L326.4 282.8 L327.5 282.8 L328.6 282.8 L329.7 282.7 L330.8 282.7 L331.9 282.6 L333 282.6 L334.1 282.6 L335.2 282.5 L336.3 282.5 L337.4 282.4 L338.5 282.4 L339.6 282.3 L340.7 282.3 L341.8 282.3 L342.9 282.2 L344 282.2 L345.1 282.1 L346.2 282.1 L347.3 282 L348.4 282 L349.5 281.9 L350.6 281.9 L351.7 281.8 L352.8 281.8 L353.9 281.7 L355 281.7 L356.1 281.6 L357.2 281.6 L358.3 281.5 L359.4 281.5 L360.5 281.4 L361.6 281.4 L362.7 281.3 L363.8 281.3 L364.9 281.2 L366 281.2 L367.1 281.1 L368.2 281 L369.3 281 L370.4 280.9 L371.5 280.9 L372.6 280.8 L373.7 280.8 L374.8 280.7 L375.9 280.6 L377 280.6 L378.1 280.5 L379.2 280.5 L380.3 280.4 L381.4 280.3 L382.5 280.3 L383.6 280.2 L384.7 280.1 L385.8 280.1 L386.9 280 L388 279.9 L389.1 279.9 L390.2 279.8 L391.3 279.7 L392.4 279.7 L393.5 279.6 L394.6 279.5 L395.7 279.5 L396.8 279.4 L397.9 279.3 L399 279.2 L400.1 279.2 L401.2 279.1 L402.3 279 L403.4 278.9 L404.5 278.9 L405.6 278.8 L406.7 278.7 L407.8 278.6 L408.9 278.5 L410 278.5 L411.1 278.4 L412.2 278.3 L413.3 278.2 L414.4 278.1 L415.5 278 L416.6 278 L417.7 277.9 L418.8 277.8 L419.9 277.7 L421 277.6 L422.1 277.5 L423.2 277.4 L424.3 277.3 L425.4 277.2 L426.5 277.1 L427.6 277 L428.7 276.9 L429.8 276.8 L430.9 276.7 L432 276.6 L433.1 276.5 L434.2 276.4 L435.3 276.3 L436.4 276.2 L437.5 276.1 L438.6 276 L439.7 275.9 L440.8 275.8 L441.9 275.7 L443 275.6 L444.1 275.5 L445.2 275.4 L446.3 275.2 L447.4 275.1 L448.5 275 L449.6 274.9 L450.7 274.8 L451.8 274.6 L452.9 274.5 L454 274.4 L455.1 274.3 L456.2 274.1 L457.3 274 L458.4 273.9 L459.5 273.7 L460.6 273.6 L461.7 273.5 L462.8 273.3 L463.9 273.2 L465 273 L466.1 272.9 L467.2 272.7 L468.3 272.6 L469.4 272.4 L470.5 272.3 L471.6 272.1 L472.7 272 L473.8 271.8 L474.9 271.7 L476 271.5 L477.1 271.4 L478.2 271.2 L479.3 271 L480.4 270.9 L481.5 270.7 L482.6 270.5 L483.7 270.3 L484.8 270.2 L485.9 270 L487 269.8 L488.1 269.6 L489.2 269.4 L490.3 269.2 L491.4 269 L492.5 268.8 L493.6 268.7 L494.7 268.5 L495.8 268.2 L496.9 268 L498 267.8 L499.1 267.6 L500.2 267.4 L501.3 267.2 L502.4 267 L503.5 266.8 L504.6 266.5 L505.7 266.3 L506.8 266.1 L507.9 265.8 L509 265.6 L510.1 265.4 L511.2 265.1 L512.3 264.9 L513.4 264.6 L514.5 264.4 L515.6 264.1 L516.7 263.9 L517.8 263.6 L518.9 263.3 L520 263 L521.1 262.8 L522.2 262.5 L523.3 262.2 L524.4 261.9 L525.5 261.6 L526.6 261.3 L527.7 261 L528.8 260.7 L529.9 260.4 L531 260.1 L532.1 259.8 L533.2 259.5 L534.3 259.1 L535.4 258.8 L536.5 258.5 L537.6 258.1 L538.7 257.8 L539.8 257.4 L540.9 257.1 L542 256.7 L543.1 256.3 L544.2 256 L545.3 255.6 L546.4 255.2 L547.5 254.8 L548.6 254.4 L549.7 254 L550.8 253.6 L551.9 253.2 L553 252.8 L554.1 252.3 L555.2 251.9 L556.3 251.5 L557.4 251 L558.5 250.6 L559.6 250.1 L560.7 249.7 L561.8 249.2 L562.9 248.7 L564 248.2 L565.1 247.7 L566.2 247.2 L567.3 246.7 L568.4 246.2 L569.5 245.7 L570.6 245.1 L571.7 244.6 L572.8 244 L573.9 243.5 L575 242.9 L576.1 242.3 L577.2 241.7 L578.3 241.1 L579.4 240.5 L580.5 239.9 L581.6 239.3 L582.7 238.7 L583.8 238 L584.9 237.4 L586 236.7 L587.1 236 L588.2 235.4 L589.3 234.7 L590.4 234 L591.5 233.3 L592.6 232.5 L593.7 231.8 L594.8 231.1 L595.9 230.3 L597 229.5 L598.1 228.7 L599.2 228 L600.3 227.2 L601.4 226.3 L602.5 225.5 L603.6 224.7 L604.7 223.8 L605.8 223 L606.9 222.1 L608 221.2 L609.1 220.3 L610.2 219.4 L611.3 218.4 L612.4 217.5 L613.5 216.5 L614.6 215.6 L615.7 214.6 L616.8 213.6 L617.9 212.6 L619 211.6 L620.1 210.5 L621.2 209.5 L622.3 208.4 L623.4 207.3 L624.5 206.2 L625.6 205.1 L626.7 204 L627.8 202.9 L628.9 201.7 L630 200.6 L631.1 199.4 L632.2 198.2 L633.3 197 L634.4 195.8 L635.5 194.5 L636.6 193.3 L637.7 192 L638.8 190.7 L639.9 189.4 L641 188.1 L642.1 186.8 L643.2 185.5 L644.3 184.1 L645.4 182.8 L646.5 181.4 L647.6 180 L648.7 178.6 L649.8 177.2 L650.9 175.8 L652 174.3 L653.1 172.9 L654.2 171.4 L655.3 169.9 L656.4 168.5 L657.5 167 L658.6 165.5 L659.7 163.9 L660.8 162.4 L661.9 160.9 L663 159.3 L664.1 157.8 L665.2 156.2 L666.3 154.6 L667.4 153.1 L668.5 151.5 L669.6 149.9 L670.7 148.3 L671.8 146.7 L672.9 145 L674 143.4 L675.1 141.8 L676.2 140.2 L677.3 138.5 L678.4 136.9 L679.5 135.3 L680.6 133.6 L681.7 132 L682.8 130.3 L683.9 128.7 L685 127.1 L686.1 125.4 L687.2 123.8 L688.3 122.1 L689.4 120.5 L690.5 118.9 L691.6 117.2 L692.7 115.6 L693.8 114 L694.9 112.4 L696 110.8 L697.1 109.2 L698.2 107.6 L699.3 106.1 L700.4 104.5 L701.5 103 L702.6 101.5 L703.7 100 L704.8 98.5 L705.9 97 L707 95.6 L708.1 94.1 L709.2 92.7 L710.3 91.3 L711.4 89.9 L712.5 88.6 L713.6 87.2 L714.7 85.9 L715.8 84.6 L716.9 83.3 L718 82.1 L719.1 80.9 L720.2 79.6 L721.3 78.5 L722.4 77.3 L723.5 76.2 L724.6 75 L725.7 73.9 L726.8 72.9 L727.9 71.8 L729 70.8 L730.1 69.8 L731.2 68.8 L732.3 67.8 L733.4 66.9 L734.5 66 L735.6 65.1 L736.7 64.2 L737.8 63.4 L738.9 62.5 L740 61.7 L741.1 60.9 L742.2 60.2 L743.3 59.4 L744.4 58.7 L745.5 58 L746.6 57.3 L747.7 56.6 L748.8 56 L749.9 55.3 L751 54.7 L752.1 54.1 L753.2 53.5 L754.3 53 L755.4 52.4 L756.5 51.9 L757.6 51.3 L758.7 50.8 L759.8 50.3 L760.9 49.9 L762 49.4 L763.1 49 L764.2 48.5 L765.3 48.1 L766.4 47.7 L767.5 47.3 L768.6 46.9 L769.7 46.5 L770.8 46.2 L771.9 45.8 L773 45.5 L774.1 45.1 L775.2 44.8 L776.3 44.5 L777.4 44.2 L778.5 43.9 L779.6 43.6 L780.7 43.4 L781.8 43.1 L782.9 42.8 L784 42.6 L785.1 42.3 L786.2 42.1 L787.3 41.9 L788.4 41.7 L789.5 41.4 L790.6 41.2 L791.7 41 L792.8 40.8 L793.9 40.7 L795 40.5 L796.1 40.3 L797.2 40.1 L798.3 40 L799.4 39.8 L800.5 39.6 L801.6 39.5 L802.7 39.3 L803.8 39.2 L804.9 39.1 L806 38.9 L807.1 38.8 L808.2 38.7 L809.3 38.6 L810.4 38.4 L811.5 38.3 L812.6 38.2 L813.7 38.1 L814.8 38 L815.9 37.9 L817 37.8 L818.1 37.7 L819.2 37.6 L820.3 37.5 L821.4 37.4 L822.5 37.4 L823.6 37.3 L824.7 37.2 L825.8 37.1 L826.9 37.1 L828 37 L829.1 36.9 L830.2 36.8 L831.3 36.8 L832.4 36.7 L833.5 36.7 L834.6 36.6 L835.7 36.5 L836.8 36.5 L837.9 36.4 L839 36.4 L840.1 36.3 L841.2 36.3 L842.3 36.2 L843.4 36.2 L844.5 36.1 L845.6 36.1 L846.7 36 L847.8 36 L848.9 36 L850 35.9 L851.1 35.9 L852.2 35.8 L853.3 35.8 L854.4 35.8 L855.5 35.7 L856.6 35.7 L857.7 35.7 L858.8 35.6 L859.9 35.6 L861 35.6 L862.1 35.6 L863.2 35.5 L864.3 35.5 L865.4 35.5 L866.5 35.5 L867.6 35.4 L868.7 35.4 L869.8 35.4 L870.9 35.4 L872 35.3 L873.1 35.3 L874.2 35.3 L875.3 35.3 L876.4 35.2 L877.5 35.2 L878.6 35.2 L879.7 35.2 L880.8 35.2 L881.9 35.2 L883 35.1 L884.1 35.1 L885.2 35.1 L886.3 35.1 L887.4 35.1 L888.5 35.1 L889.6 35 L890.7 35 L891.8 35 L892.9 35 L894 35 L895.1 35 L896.2 35 L897.3 35 L898.4 34.9 L899.5 34.9 L900.6 34.9 L901.7 34.9 L902.8 34.9 L903.9 34.9 L905 34.9 L906.1 34.9 L907.2 34.9 L908.3 34.8 L909.4 34.8 L910.5 34.8 L911.6 34.8 L912.7 34.8 L913.8 34.8 L914.9 34.8 L916 34.8 L917.1 34.8 L918.2 34.8 L919.3 34.8 L920.4 34.8 L921.5 34.8 L922.6 34.7 L923.7 34.7 L924.8 34.7 L925.9 34.7 L927 34.7 L928.1 34.7 L929.2 34.7 L930.3 34.7 L931.4 34.7 L932.5 34.7 L933.6 34.7 L934.7 34.7 L935.8 34.7 L936.9 34.7 L938 34.7 L939.1 34.7 L940.2 34.7 L941.3 34.6 L942.4 34.6 L943.5 34.6 L944.6 34.6 L945.7 34.6 L946.8 34.6 L947.9 34.6 L949 34.6 L950.1 34.6 L951.2 34.6 L952.3 34.6 L953.4 34.6 L954.5 34.6 L955.6 34.6 L956.7 34.6 L957.8 34.6 L958.9 34.6 L960 34.6 L961.1 34.6 L962.2 34.6 L963.3 34.6 L964.4 34.6 L965.5 34.6 L966.6 34.6 L967.7 34.6 L968.8 34.6 L969.9 34.6 L971 34.6 L972.1 34.6 L973.2 34.6 L974.3 34.5 L975.4 34.5 L976.5 34.5 L977.6 34.5 L978.7 34.5 L979.8 34.5 L980.9 34.5 L982 34.5 L983.1 34.5 L984.2 34.5 L985.3 34.5 L986.4 34.5 L987.5 34.5 L988.6 34.5 L989.7 34.5 L990.8 34.5 L991.9 34.5 L993 34.5 L994.1 34.5 L995.2 34.5 L996.3 34.5 L997.4 34.5 L998.5 34.5 L999.6 34.5 L1000.7 34.5 L1001.8 34.5 L1002.9 34.5 L1004 34.5 L1005.1 34.5 L1006.2 34.5 L1007.3 34.5 L1008.4 34.5 L1009.5 34.5 L1010.6 34.5 L1011.7 34.5 L1012.8 34.5 L1013.9 34.5 L1015 34.5 L1016.1 34.5 L1017.2 34.5 L1018.3 34.5 L1019.4 34.5 L1020.5 34.5 L1021.6 34.5 L1022.7 34.5 L1023.8 34.5 L1024.9 34.5 L1026 34.5 L1027.1 34.5 L1028.2 34.5 L1029.3 34.5 L1030.4 34.5 L1031.5 34.5 L1032.6 34.5 L1033.7 34.5 L1034.8 34.5 L1035.9 34.5 L1037 34.5 L1038.1 34.5 L1039.2 34.5 L1040.3 34.5 L1041.4 34.5 L1042.5 34.5 L1043.6 34.5 L1044.7 34.5 L1045.8 34.5 L1046.9 34.5 L1048 34.5 L1049.1 34.5 L1050.2 34.5 L1051.3 34.5 L1052.4 34.5 L1053.5 34.5 L1054.6 34.5 L1055.7 34.5 L1056.8 34.5 L1057.9 34.5 L1059 34.5 L1060.1 34.5 L1061.2 34.5 L1062.3 34.5 L1063.4 34.5 L1064.5 34.5 L1065.6 34.5 L1066.7 34.5 L1067.8 34.5 L1068.9 34.5 L1070 34.4 L1071.1 34.4 L1072.2 34.4 L1073.3 34.4 L1074.4 34.4 L1075.5 34.4 L1076.6 34.4 L1077.7 34.4 L1078.8 34.4 L1079.9 34.4 L1081 34.4 L1082.1 34.4 L1083.2 34.4 L1084.3 34.4 L1085.4 34.4 L1086.5 34.4 L1087.6 34.4 L1088.7 34.4 L1089.8 34.4 L1090.9 34.4 L1092 34.4 L1093.1 34.4 L1094.2 34.4 L1095.3 34.4 L1096.4 34.4 L1097.5 34.4 L1098.6 34.4 L1099.7 34.4 L1100.8 34.4 L1101.9 34.4 L1103 34.4 L1104.1 34.4 L1105.2 34.4 L1106.3 34.4 L1107.4 34.4 L1108.5 34.4 L1109.6 34.4 L1110.7 34.4 L1111.8 34.4 L1112.9 34.4 L1114 34.4 L1115.1 34.4 L1116.2 34.4 L1117.3 34.4 L1118.4 34.4 L1119.5 34.4 L1120.6 34.4 L1121.7 34.4 L1122.8 34.4 L1123.9 34.4 L1125 34.4 L1126.1 34.4 L1127.2 34.4 L1128.3 34.4 L1129.4 34.4 L1130.5 34.4 L1131.6 34.4 L1132.7 34.4 L1133.8 34.4 L1134.9 34.4 L1136 34.4 L1137.1 34.4 L1138.2 34.4 L1139.3 34.4 L1140.4 34.4 L1141.5 34.4 L1142.6 34.4 L1143.7 34.4 L1144.8 34.4 L1145.9 34.4 L1147 34.4 L1148.1 34.4 L1149.2 34.4 L1150.3 34.4 L1151.4 34.4 L1152.5 34.4 L1153.6 34.4 L1154.7 34.4 L1155.8 34.4 L1156.9 34.4 L1158 34.4 L1159.1 34.4 L1160.2 34.4 L1161.3 34.4 L1162.4 34.4 L1163.5 34.4 L1164.6 34.4 L1165.7 34.4 L1166.8 34.4 L1167.9 34.4 L1169 34.4 L1170.1 34.4 L1171.2 34.4 L1172.3 34.4 L1173.4 34.4 L1174.5 34.4 L1175.6 34.4 L1176.7 34.4 L1177.8 34.4 L1178.9 34.4 L1180 34.4 L1181.1 34.4 L1182.2 34.4 L1183.3 34.4 L1184.4 34.4 L1185.5 34.4 L1186.6 34.4 L1187.7 34.4 L1188.8 34.4 L1189.9 34.4 L1191 34.4 L1192.1 34.4 L1193.2 34.4 L1194.3 34.4 L1195.4 34.4 L1196.5 34.4 L1197.6 34.4 L1198.7 34.4 L1199.8 34.4 L1200.9 34.4 L1202 34.4 L1203.1 34.4 L1204.2 34.4 L1205.3 34.4 L1206.4 34.4 L1207.5 34.4 L1208.6 34.4 L1209.7 34.4 L1210.8 34.4 L1211.9 34.4 L1213 34.4 L1214.1 34.4 L1215.2 34.4 L1216.3 34.4 L1217.4 34.4 L1218.5 34.4 L1219.6 34.4 L1220.7 34.4 L1221.8 34.4 L1222.9 34.4 L1224 34.4 L1225.1 34.4 L1226.2 34.4 L1227.3 34.4 L1228.4 34.4 L1229.5 34.4 L1230.6 34.4 L1231.7 34.4 L1232.8 34.4 L1233.9 34.4 L1235 34.4 L1236.1 34.4 L1237.2 34.4 L1238.3 34.4 L1239.4 34.4 L1240.5 34.4 L1241.6 34.4 L1242.7 34.4 L1243.8 34.4 L1244.9 34.4 L1246 34.4 L1247.1 34.4 L1248.2 34.4 L1249.3 34.4 L1250.4 34.4 L1251.5 34.4 L1252.6 34.4 L1253.7 34.4 L1254.8 34.4 L1255.9 34.4 L1257 34.4 L1258.1 34.4 L1259.2 34.4 L1260.3 34.4 L1261.4 34.4 L1262.5 34.4 L1263.6 34.4 L1264.7 34.4 L1265.8 34.4 L1266.9 34.4 L1268 34.4" fill="none" stroke="#661371" stroke-width="9" stroke-linejoin="round" clip-path="url(#clipA)"/><defs><linearGradient id="ballg" x1="0.1" y1="0.9" x2="0.9" y2="0.1"><stop offset="0" stop-color="#6f8b91"/><stop offset="0.45" stop-color="#a3b9bd"/><stop offset="1" stop-color="#d6e3e4"/></linearGradient><filter id="shblur" x="-50%" y="-50%" width="200%" height="200%"><feGaussianBlur stdDeviation="3"/></filter></defs><g filter="url(#shblur)"><ellipse cx="924" cy="216.2" rx="13" ry="8" fill="#000" fill-opacity="0.85"/><ellipse cx="962.6" cy="229.3" rx="13" ry="8" fill="#000" fill-opacity="0.85"/><ellipse cx="994.1" cy="254" rx="13" ry="8" fill="#000" fill-opacity="0.85"/><ellipse cx="1014.7" cy="287.3" rx="13" ry="8" fill="#000" fill-opacity="0.85"/><ellipse cx="1021.8" cy="325.1" rx="13" ry="8" fill="#000" fill-opacity="0.85"/><ellipse cx="1014.7" cy="362.9" rx="13" ry="8" fill="#000" fill-opacity="0.85"/><ellipse cx="994.1" cy="396.2" rx="13" ry="8" fill="#000" fill-opacity="0.85"/><ellipse cx="962.6" cy="420.9" rx="13" ry="8" fill="#000" fill-opacity="0.85"/><ellipse cx="924" cy="434" rx="13" ry="8" fill="#000" fill-opacity="0.85"/><ellipse cx="882.8" cy="434" rx="13" ry="8" fill="#000" fill-opacity="0.85"/><ellipse cx="844.2" cy="420.9" rx="13" ry="8" fill="#000" fill-opacity="0.85"/><ellipse cx="812.7" cy="396.2" rx="13" ry="8" fill="#000" fill-opacity="0.85"/><ellipse cx="792.1" cy="362.9" rx="13" ry="8" fill="#000" fill-opacity="0.85"/><ellipse cx="785" cy="325.1" rx="13" ry="8" fill="#000" fill-opacity="0.85"/><ellipse cx="792.1" cy="287.3" rx="13" ry="8" fill="#000" fill-opacity="0.85"/><ellipse cx="812.7" cy="254" rx="13" ry="8" fill="#000" fill-opacity="0.85"/><ellipse cx="844.2" cy="229.3" rx="13" ry="8" fill="#000" fill-opacity="0.85"/><ellipse cx="882.8" cy="216.2" rx="13" ry="8" fill="#000" fill-opacity="0.85"/></g><polygon points="927,205.7 965.6,218.8 997.1,243.5 1017.7,276.8 1024.8,314.6 1017.7,352.4 997.1,385.7 965.6,410.4 927,423.5 885.8,423.5 847.2,410.4 815.7,385.7 795.1,352.4 788,314.6 795.1,276.8 815.7,243.5 847.2,218.8 885.8,205.7" fill="none" stroke="#000" stroke-width="2.2"/><ellipse cx="927" cy="205.7" rx="12.7" ry="11.7" fill="url(#ballg)" stroke="#000" stroke-width="1.4"/><ellipse cx="965.6" cy="218.8" rx="12.7" ry="11.7" fill="url(#ballg)" stroke="#000" stroke-width="1.4"/><ellipse cx="997.1" cy="243.5" rx="12.7" ry="11.7" fill="url(#ballg)" stroke="#000" stroke-width="1.4"/><ellipse cx="1017.7" cy="276.8" rx="12.7" ry="11.7" fill="url(#ballg)" stroke="#000" stroke-width="1.4"/><ellipse cx="1024.8" cy="314.6" rx="12.7" ry="11.7" fill="url(#ballg)" stroke="#000" stroke-width="1.4"/><ellipse cx="1017.7" cy="352.4" rx="12.7" ry="11.7" fill="url(#ballg)" stroke="#000" stroke-width="1.4"/><ellipse cx="997.1" cy="385.7" rx="12.7" ry="11.7" fill="url(#ballg)" stroke="#000" stroke-width="1.4"/><ellipse cx="965.6" cy="410.4" rx="12.7" ry="11.7" fill="url(#ballg)" stroke="#000" stroke-width="1.4"/><ellipse cx="927" cy="423.5" rx="12.7" ry="11.7" fill="url(#ballg)" stroke="#000" stroke-width="1.4"/><ellipse cx="885.8" cy="423.5" rx="12.7" ry="11.7" fill="url(#ballg)" stroke="#000" stroke-width="1.4"/><ellipse cx="847.2" cy="410.4" rx="12.7" ry="11.7" fill="url(#ballg)" stroke="#000" stroke-width="1.4"/><ellipse cx="815.7" cy="385.7" rx="12.7" ry="11.7" fill="url(#ballg)" stroke="#000" stroke-width="1.4"/><ellipse cx="795.1" cy="352.4" rx="12.7" ry="11.7" fill="url(#ballg)" stroke="#000" stroke-width="1.4"/><ellipse cx="788" cy="314.6" rx="12.7" ry="11.7" fill="url(#ballg)" stroke="#000" stroke-width="1.4"/><ellipse cx="795.1" cy="276.8" rx="12.7" ry="11.7" fill="url(#ballg)" stroke="#000" stroke-width="1.4"/><ellipse cx="815.7" cy="243.5" rx="12.7" ry="11.7" fill="url(#ballg)" stroke="#000" stroke-width="1.4"/><ellipse cx="847.2" cy="218.8" rx="12.7" ry="11.7" fill="url(#ballg)" stroke="#000" stroke-width="1.4"/><ellipse cx="885.8" cy="205.7" rx="12.7" ry="11.7" fill="url(#ballg)" stroke="#000" stroke-width="1.4"/><rect x="1059" y="47.3" width="184" height="298.4" rx="5" fill="#fafafa" stroke="#d2d2d2" stroke-width="2.2"/><line x1="1069.8" y1="72" x2="1132.8" y2="72" stroke="#476a98" stroke-width="2.4" /><circle cx="1101.2" cy="72" r="4.7" fill="#476a98"/><text x="1156" y="81.6" font-size="30.5" font-family='"Liberation Sans", sans-serif' fill="#000" stroke="#000" stroke-width="0.5" font-style="italic" >p</text><text x="1183.2" y="81.6" font-size="30.5" font-family='"Liberation Sans", sans-serif' fill="#000" stroke="#000" stroke-width="0.5" textLength="20.6" lengthAdjust="spacingAndGlyphs" >=</text><text x="1211.5" y="81.6" font-size="30.5" font-family='"Liberation Sans", sans-serif' fill="#000" stroke="#000" stroke-width="0.5" textLength="17.5" lengthAdjust="spacingAndGlyphs" >2</text><line x1="1069.8" y1="120.5" x2="1132.8" y2="120.5" stroke="#7a9a45" stroke-width="2.4" /><circle cx="1101.2" cy="120.5" r="4.7" fill="#7a9a45"/><text x="1156" y="130.1" font-size="30.5" font-family='"Liberation Sans", sans-serif' fill="#000" stroke="#000" stroke-width="0.5" font-style="italic" >p</text><text x="1183.2" y="130.1" font-size="30.5" font-family='"Liberation Sans", sans-serif' fill="#000" stroke="#000" stroke-width="0.5" textLength="20.6" lengthAdjust="spacingAndGlyphs" >=</text><text x="1211.5" y="130.1" font-size="30.5" font-family='"Liberation Sans", sans-serif' fill="#000" stroke="#000" stroke-width="0.5" textLength="17.5" lengthAdjust="spacingAndGlyphs" >3</text><line x1="1069.8" y1="168.6" x2="1132.8" y2="168.6" stroke="#963a3b" stroke-width="2.4" /><circle cx="1101.2" cy="168.6" r="4.7" fill="#963a3b"/><text x="1156" y="178.2" font-size="30.5" font-family='"Liberation Sans", sans-serif' fill="#000" stroke="#000" stroke-width="0.5" font-style="italic" >p</text><text x="1183.2" y="178.2" font-size="30.5" font-family='"Liberation Sans", sans-serif' fill="#000" stroke="#000" stroke-width="0.5" textLength="20.6" lengthAdjust="spacingAndGlyphs" >=</text><text x="1211.5" y="178.2" font-size="30.5" font-family='"Liberation Sans", sans-serif' fill="#000" stroke="#000" stroke-width="0.5" textLength="17.5" lengthAdjust="spacingAndGlyphs" >4</text><line x1="1069.8" y1="216.8" x2="1132.8" y2="216.8" stroke="#838383" stroke-width="2.4" /><circle cx="1101.2" cy="216.8" r="4.7" fill="#838383"/><text x="1156" y="226.4" font-size="30.5" font-family='"Liberation Sans", sans-serif' fill="#000" stroke="#000" stroke-width="0.5" font-style="italic" >p</text><text x="1183.2" y="226.4" font-size="30.5" font-family='"Liberation Sans", sans-serif' fill="#000" stroke="#000" stroke-width="0.5" textLength="20.6" lengthAdjust="spacingAndGlyphs" >=</text><text x="1211.5" y="226.4" font-size="30.5" font-family='"Liberation Sans", sans-serif' fill="#000" stroke="#000" stroke-width="0.5" textLength="17.5" lengthAdjust="spacingAndGlyphs" >5</text><line x1="1069.8" y1="265.3" x2="1132.8" y2="265.3" stroke="#d4591c" stroke-width="2.4" /><circle cx="1101.2" cy="265.3" r="4.7" fill="#d4591c"/><text x="1156" y="274.9" font-size="30.5" font-family='"Liberation Sans", sans-serif' fill="#000" stroke="#000" stroke-width="0.5" font-style="italic" >p</text><text x="1183.2" y="274.9" font-size="30.5" font-family='"Liberation Sans", sans-serif' fill="#000" stroke="#000" stroke-width="0.5" textLength="20.6" lengthAdjust="spacingAndGlyphs" >=</text><text x="1211.5" y="274.9" font-size="30.5" font-family='"Liberation Sans", sans-serif' fill="#000" stroke="#000" stroke-width="0.5" textLength="17.5" lengthAdjust="spacingAndGlyphs" >6</text><line x1="1069.8" y1="313.4" x2="1132.8" y2="313.4" stroke="#661371" stroke-width="2.4" /><circle cx="1101.2" cy="313.4" r="4.7" fill="#661371"/><text x="1156" y="323" font-size="30.5" font-family='"Liberation Sans", sans-serif' fill="#000" stroke="#000" stroke-width="0.5" font-style="italic" >p</text><text x="1183.2" y="323" font-size="30.5" font-family='"Liberation Sans", sans-serif' fill="#000" stroke="#000" stroke-width="0.5" textLength="20.6" lengthAdjust="spacingAndGlyphs" >=</text><text x="1211.5" y="323" font-size="30.5" font-family='"Liberation Sans", sans-serif' fill="#000" stroke="#000" stroke-width="0.5" textLength="17.5" lengthAdjust="spacingAndGlyphs" >7</text><rect x="227.7" y="37.6" width="332.6" height="161.4" fill="#fff"/><rect x="394" y="37.6" width="166.3" height="161.4" fill="#e5e6e6" /><path d="M219.4 184.3 L221 183.9 L222.6 183.6 L224.2 183.3 L225.8 182.9 L227.4 182.6 L229 182.2 L230.5 181.8 L232.1 181.4 L233.7 181 L235.3 180.6 L236.9 180.2 L238.5 179.8 L240.1 179.3 L241.7 178.9 L243.3 178.4 L244.9 177.9 L246.5 177.4 L248.1 176.9 L249.7 176.3 L251.3 175.8 L252.9 175.2 L254.5 174.6 L256.1 174 L257.7 173.4 L259.3 172.7 L260.8 172.1 L262.4 171.4 L264 170.7 L265.6 169.9 L267.2 169.2 L268.8 168.4 L270.4 167.6 L272 166.8 L273.6 166 L275.2 165.1 L276.8 164.2 L278.4 163.3 L280 162.3 L281.6 161.3 L283.2 160.3 L284.8 159.2 L286.4 158.2 L288 157 L289.5 155.9 L291.1 154.7 L292.7 153.5 L294.3 152.2 L295.9 150.9 L297.5 149.6 L299.1 148.2 L300.7 146.8 L302.3 145.4 L303.9 143.9 L305.5 142.4 L307.1 140.8 L308.7 139.2 L310.3 137.5 L311.9 135.8 L313.5 134 L315.1 132.2 L316.7 130.4 L318.3 128.5 L319.8 126.6 L321.4 124.6 L323 122.6 L324.6 120.6 L326.2 118.5 L327.8 116.3 L329.4 114.1 L331 111.9 L332.6 109.7 L334.2 107.4 L335.8 105.1 L337.4 102.7 L339 100.4 L340.6 98 L342.2 95.6 L343.8 93.2 L345.4 90.8 L347 88.3 L348.6 85.9 L350.1 83.5 L351.7 81.1 L353.3 78.7 L354.9 76.3 L356.5 74 L358.1 71.7 L359.7 69.5 L361.3 67.3 L362.9 65.2 L364.5 63.2 L366.1 61.2 L367.7 59.3 L369.3 57.5 L370.9 55.9 L372.5 54.3 L374.1 52.8 L375.7 51.5 L377.3 50.3 L378.9 49.2 L380.4 48.3 L382 47.5 L383.6 46.8 L385.2 46.4 L386.8 46 L388.4 45.9 L390 45.8 L391.6 46 L393.2 46.4 L394.8 46.9 L396.4 47.7 L398 48.6 L399.6 49.8 L401.2 51.1 L402.8 52.5 L404.4 54.1 L406 55.9 L407.6 57.8 L409.1 59.8 L410.7 62 L412.3 64.2 L413.9 66.6 L415.5 69 L417.1 71.5 L418.7 74.1 L420.3 76.7 L421.9 79.4 L423.5 82.1 L425.1 84.8 L426.7 87.5 L428.3 90.3 L429.9 93 L431.5 95.7 L433.1 98.5 L434.7 101.1 L436.3 103.8 L437.9 106.4 L439.4 109 L441 111.6 L442.6 114.1 L444.2 116.5 L445.8 119 L447.4 121.3 L449 123.6 L450.6 125.9 L452.2 128.1 L453.8 130.2 L455.4 132.3 L457 134.3 L458.6 136.3 L460.2 138.2 L461.8 140.1 L463.4 141.9 L465 143.6 L466.6 145.3 L468.2 147 L469.7 148.6 L471.3 150.1 L472.9 151.6 L474.5 153.1 L476.1 154.5 L477.7 155.8 L479.3 157.1 L480.9 158.4 L482.5 159.6 L484.1 160.8 L485.7 161.9 L487.3 163 L488.9 164.1 L490.5 165.1 L492.1 166.1 L493.7 167.1 L495.3 168 L496.9 168.9 L498.5 169.8 L500 170.6 L501.6 171.4 L503.2 172.2 L504.8 172.9 L506.4 173.7 L508 174.4 L509.6 175.1 L511.2 175.7 L512.8 176.3 L514.4 177 L516 177.6 L517.6 178.1 L519.2 178.7 L520.8 179.2 L522.4 179.7 L524 180.2 L525.6 180.7 L527.2 181.2 L528.7 181.6 L530.3 182.1 L531.9 182.5 L533.5 182.9 L535.1 183.3 L536.7 183.7 L538.3 184.1 L539.9 184.4 L541.5 184.8 L543.1 185.1 L544.7 185.5 L546.3 185.8 L547.9 186.1 L549.5 186.4 L551.1 186.7 L552.7 187 L554.3 187.2 L555.9 187.5 L557.5 187.7 L559 188 L560.6 188.2 L562.2 188.5 L563.8 188.7 L565.4 188.9 L567 189.1 L568.6 189.3" fill="none" stroke="#476a98" stroke-width="4.6" stroke-linejoin="round" clip-path="url(#clipI)"/><path d="M219.4 182.8 L221 182.4 L222.6 182.1 L224.2 181.7 L225.8 181.3 L227.4 180.9 L229 180.5 L230.5 180 L232.1 179.6 L233.7 179.1 L235.3 178.7 L236.9 178.2 L238.5 177.7 L240.1 177.1 L241.7 176.6 L243.3 176.1 L244.9 175.5 L246.5 174.9 L248.1 174.3 L249.7 173.7 L251.3 173.1 L252.9 172.4 L254.5 171.7 L256.1 171 L257.7 170.3 L259.3 169.6 L260.8 168.8 L262.4 168 L264 167.2 L265.6 166.4 L267.2 165.5 L268.8 164.6 L270.4 163.7 L272 162.7 L273.6 161.8 L275.2 160.8 L276.8 159.7 L278.4 158.7 L280 157.6 L281.6 156.4 L283.2 155.3 L284.8 154 L286.4 152.8 L288 151.5 L289.5 150.2 L291.1 148.9 L292.7 147.5 L294.3 146 L295.9 144.6 L297.5 143 L299.1 141.5 L300.7 139.9 L302.3 138.2 L303.9 136.6 L305.5 134.8 L307.1 133.1 L308.7 131.3 L310.3 129.4 L311.9 127.5 L313.5 125.6 L315.1 123.6 L316.7 121.5 L318.3 119.5 L319.8 117.4 L321.4 115.2 L323 113.1 L324.6 110.9 L326.2 108.6 L327.8 106.3 L329.4 104.1 L331 101.7 L332.6 99.4 L334.2 97.1 L335.8 94.7 L337.4 92.3 L339 90 L340.6 87.6 L342.2 85.2 L343.8 82.9 L345.4 80.6 L347 78.3 L348.6 76.1 L350.1 73.8 L351.7 71.7 L353.3 69.6 L354.9 67.6 L356.5 65.6 L358.1 63.7 L359.7 61.9 L361.3 60.2 L362.9 58.6 L364.5 57.1 L366.1 55.7 L367.7 54.5 L369.3 53.4 L370.9 52.4 L372.5 51.5 L374.1 50.8 L375.7 50.3 L377.3 49.9 L378.9 49.6 L380.4 49.5 L382 49.5 L383.6 49.7 L385.2 50 L386.8 50.5 L388.4 51.1 L390 51.8 L391.6 52.7 L393.2 53.7 L394.8 54.9 L396.4 56.2 L398 57.6 L399.6 59.2 L401.2 60.9 L402.8 62.7 L404.4 64.6 L406 66.6 L407.6 68.7 L409.1 70.9 L410.7 73.2 L412.3 75.5 L413.9 78 L415.5 80.5 L417.1 83 L418.7 85.6 L420.3 88.2 L421.9 90.8 L423.5 93.5 L425.1 96.2 L426.7 98.9 L428.3 101.6 L429.9 104.2 L431.5 106.9 L433.1 109.5 L434.7 112.2 L436.3 114.7 L437.9 117.3 L439.4 119.8 L441 122.3 L442.6 124.7 L444.2 127.1 L445.8 129.4 L447.4 131.7 L449 134 L450.6 136.1 L452.2 138.3 L453.8 140.3 L455.4 142.3 L457 144.3 L458.6 146.2 L460.2 148 L461.8 149.8 L463.4 151.5 L465 153.2 L466.6 154.8 L468.2 156.4 L469.7 157.9 L471.3 159.4 L472.9 160.8 L474.5 162.1 L476.1 163.4 L477.7 164.7 L479.3 165.9 L480.9 167.1 L482.5 168.2 L484.1 169.3 L485.7 170.4 L487.3 171.4 L488.9 172.3 L490.5 173.3 L492.1 174.2 L493.7 175 L495.3 175.9 L496.9 176.7 L498.5 177.5 L500 178.2 L501.6 178.9 L503.2 179.6 L504.8 180.3 L506.4 180.9 L508 181.5 L509.6 182.1 L511.2 182.7 L512.8 183.2 L514.4 183.7 L516 184.2 L517.6 184.7 L519.2 185.2 L520.8 185.6 L522.4 186 L524 186.5 L525.6 186.9 L527.2 187.2 L528.7 187.6 L530.3 188 L531.9 188.3 L533.5 188.6 L535.1 188.9 L536.7 189.2 L538.3 189.5 L539.9 189.8 L541.5 190.1 L543.1 190.4 L544.7 190.6 L546.3 190.9 L547.9 191.1 L549.5 191.3 L551.1 191.5 L552.7 191.7 L554.3 191.9 L555.9 192.1 L557.5 192.3 L559 192.5 L560.6 192.7 L562.2 192.9 L563.8 193 L565.4 193.2 L567 193.3 L568.6 193.5" fill="none" stroke="#7a9a45" stroke-width="4.6" stroke-linejoin="round" clip-path="url(#clipI)"/><path d="M219.4 183.5 L221 183.2 L222.6 182.8 L224.2 182.5 L225.8 182.1 L227.4 181.7 L229 181.3 L230.5 180.9 L232.1 180.5 L233.7 180 L235.3 179.6 L236.9 179.1 L238.5 178.6 L240.1 178.1 L241.7 177.6 L243.3 177.1 L244.9 176.5 L246.5 176 L248.1 175.4 L249.7 174.8 L251.3 174.2 L252.9 173.6 L254.5 172.9 L256.1 172.3 L257.7 171.6 L259.3 170.9 L260.8 170.1 L262.4 169.4 L264 168.6 L265.6 167.8 L267.2 167 L268.8 166.1 L270.4 165.2 L272 164.3 L273.6 163.4 L275.2 162.4 L276.8 161.4 L278.4 160.4 L280 159.3 L281.6 158.2 L283.2 157.1 L284.8 156 L286.4 154.8 L288 153.6 L289.5 152.3 L291.1 151 L292.7 149.7 L294.3 148.3 L295.9 146.9 L297.5 145.4 L299.1 143.9 L300.7 142.4 L302.3 140.9 L303.9 139.2 L305.5 137.6 L307.1 135.9 L308.7 134.2 L310.3 132.4 L311.9 130.6 L313.5 128.8 L315.1 126.9 L316.7 125 L318.3 123 L319.8 121 L321.4 119 L323 116.9 L324.6 114.9 L326.2 112.8 L327.8 110.6 L329.4 108.5 L331 106.3 L332.6 104.1 L334.2 101.9 L335.8 99.7 L337.4 97.5 L339 95.3 L340.6 93.1 L342.2 91 L343.8 88.8 L345.4 86.7 L347 84.6 L348.6 82.6 L350.1 80.6 L351.7 78.6 L353.3 76.7 L354.9 74.9 L356.5 73.2 L358.1 71.5 L359.7 69.9 L361.3 68.4 L362.9 67.1 L364.5 65.8 L366.1 64.6 L367.7 63.6 L369.3 62.7 L370.9 61.9 L372.5 61.3 L374.1 60.8 L375.7 60.4 L377.3 60.2 L378.9 60.1 L380.4 60.1 L382 60.3 L383.6 60.7 L385.2 61.3 L386.8 61.9 L388.4 62.8 L390 63.8 L391.6 65 L393.2 66.3 L394.8 67.7 L396.4 69.3 L398 71.1 L399.6 72.9 L401.2 74.9 L402.8 77 L404.4 79.2 L406 81.5 L407.6 83.9 L409.1 86.3 L410.7 88.8 L412.3 91.4 L413.9 94 L415.5 96.6 L417.1 99.2 L418.7 101.9 L420.3 104.6 L421.9 107.3 L423.5 110 L425.1 112.6 L426.7 115.3 L428.3 117.9 L429.9 120.5 L431.5 123 L433.1 125.5 L434.7 128 L436.3 130.4 L437.9 132.7 L439.4 135 L441 137.3 L442.6 139.5 L444.2 141.6 L445.8 143.7 L447.4 145.7 L449 147.6 L450.6 149.5 L452.2 151.3 L453.8 153.1 L455.4 154.8 L457 156.4 L458.6 158 L460.2 159.6 L461.8 161 L463.4 162.5 L465 163.8 L466.6 165.1 L468.2 166.4 L469.7 167.6 L471.3 168.8 L472.9 169.9 L474.5 171 L476.1 172.1 L477.7 173 L479.3 174 L480.9 174.9 L482.5 175.8 L484.1 176.7 L485.7 177.5 L487.3 178.3 L488.9 179 L490.5 179.7 L492.1 180.4 L493.7 181.1 L495.3 181.7 L496.9 182.3 L498.5 182.9 L500 183.5 L501.6 184 L503.2 184.5 L504.8 185 L506.4 185.5 L508 185.9 L509.6 186.4 L511.2 186.8 L512.8 187.2 L514.4 187.6 L516 188 L517.6 188.3 L519.2 188.7 L520.8 189 L522.4 189.3 L524 189.6 L525.6 189.9 L527.2 190.2 L528.7 190.5 L530.3 190.7 L531.9 191 L533.5 191.2 L535.1 191.5 L536.7 191.7 L538.3 191.9 L539.9 192.1 L541.5 192.3 L543.1 192.5 L544.7 192.7 L546.3 192.9 L547.9 193 L549.5 193.2 L551.1 193.4 L552.7 193.5 L554.3 193.7 L555.9 193.8 L557.5 193.9 L559 194.1 L560.6 194.2 L562.2 194.3 L563.8 194.4 L565.4 194.6 L567 194.7 L568.6 194.8" fill="none" stroke="#963a3b" stroke-width="4.6" stroke-linejoin="round" clip-path="url(#clipI)"/><path d="M219.4 184.4 L221 184 L222.6 183.7 L224.2 183.3 L225.8 183 L227.4 182.6 L229 182.2 L230.5 181.8 L232.1 181.4 L233.7 180.9 L235.3 180.5 L236.9 180.1 L238.5 179.6 L240.1 179.1 L241.7 178.6 L243.3 178.1 L244.9 177.6 L246.5 177 L248.1 176.5 L249.7 175.9 L251.3 175.3 L252.9 174.7 L254.5 174 L256.1 173.4 L257.7 172.7 L259.3 172 L260.8 171.3 L262.4 170.5 L264 169.8 L265.6 169 L267.2 168.2 L268.8 167.3 L270.4 166.5 L272 165.6 L273.6 164.6 L275.2 163.7 L276.8 162.7 L278.4 161.7 L280 160.7 L281.6 159.6 L283.2 158.5 L284.8 157.4 L286.4 156.2 L288 155 L289.5 153.7 L291.1 152.5 L292.7 151.1 L294.3 149.8 L295.9 148.4 L297.5 147 L299.1 145.5 L300.7 144 L302.3 142.5 L303.9 140.9 L305.5 139.3 L307.1 137.7 L308.7 136 L310.3 134.2 L311.9 132.5 L313.5 130.7 L315.1 128.9 L316.7 127 L318.3 125.1 L319.8 123.2 L321.4 121.3 L323 119.3 L324.6 117.3 L326.2 115.3 L327.8 113.3 L329.4 111.2 L331 109.2 L332.6 107.2 L334.2 105.1 L335.8 103.1 L337.4 101.1 L339 99.1 L340.6 97.1 L342.2 95.1 L343.8 93.2 L345.4 91.3 L347 89.5 L348.6 87.7 L350.1 86 L351.7 84.4 L353.3 82.8 L354.9 81.3 L356.5 79.9 L358.1 78.6 L359.7 77.4 L361.3 76.3 L362.9 75.3 L364.5 74.5 L366.1 73.7 L367.7 73.1 L369.3 72.6 L370.9 72.2 L372.5 72 L374.1 71.9 L375.7 71.9 L377.3 72.1 L378.9 72.4 L380.4 72.8 L382 73.3 L383.6 74 L385.2 74.8 L386.8 75.7 L388.4 76.8 L390 78 L391.6 79.3 L393.2 80.8 L394.8 82.3 L396.4 84 L398 85.8 L399.6 87.7 L401.2 89.7 L402.8 91.8 L404.4 94 L406 96.3 L407.6 98.6 L409.1 100.9 L410.7 103.4 L412.3 105.8 L413.9 108.3 L415.5 110.8 L417.1 113.3 L418.7 115.9 L420.3 118.4 L421.9 120.9 L423.5 123.4 L425.1 125.9 L426.7 128.3 L428.3 130.8 L429.9 133.1 L431.5 135.5 L433.1 137.8 L434.7 140 L436.3 142.2 L437.9 144.3 L439.4 146.4 L441 148.4 L442.6 150.4 L444.2 152.3 L445.8 154.1 L447.4 155.9 L449 157.6 L450.6 159.3 L452.2 160.9 L453.8 162.5 L455.4 163.9 L457 165.4 L458.6 166.7 L460.2 168.1 L461.8 169.3 L463.4 170.5 L465 171.7 L466.6 172.8 L468.2 173.9 L469.7 174.9 L471.3 175.9 L472.9 176.9 L474.5 177.8 L476.1 178.6 L477.7 179.4 L479.3 180.2 L480.9 181 L482.5 181.7 L484.1 182.4 L485.7 183.1 L487.3 183.7 L488.9 184.3 L490.5 184.9 L492.1 185.4 L493.7 185.9 L495.3 186.4 L496.9 186.9 L498.5 187.4 L500 187.8 L501.6 188.2 L503.2 188.6 L504.8 189 L506.4 189.4 L508 189.7 L509.6 190.1 L511.2 190.4 L512.8 190.7 L514.4 191 L516 191.3 L517.6 191.5 L519.2 191.8 L520.8 192 L522.4 192.3 L524 192.5 L525.6 192.7 L527.2 192.9 L528.7 193.1 L530.3 193.3 L531.9 193.5 L533.5 193.7 L535.1 193.8 L536.7 194 L538.3 194.2 L539.9 194.3 L541.5 194.4 L543.1 194.6 L544.7 194.7 L546.3 194.8 L547.9 195 L549.5 195.1 L551.1 195.2 L552.7 195.3 L554.3 195.4 L555.9 195.5 L557.5 195.6 L559 195.7 L560.6 195.8 L562.2 195.8 L563.8 195.9 L565.4 196 L567 196.1 L568.6 196.1" fill="none" stroke="#838383" stroke-width="4.6" stroke-linejoin="round" clip-path="url(#clipI)"/><path d="M219.4 186.1 L221 185.8 L222.6 185.5 L224.2 185.2 L225.8 184.8 L227.4 184.5 L229 184.1 L230.5 183.8 L232.1 183.4 L233.7 183 L235.3 182.6 L236.9 182.2 L238.5 181.8 L240.1 181.4 L241.7 180.9 L243.3 180.4 L244.9 180 L246.5 179.5 L248.1 179 L249.7 178.4 L251.3 177.9 L252.9 177.3 L254.5 176.8 L256.1 176.2 L257.7 175.5 L259.3 174.9 L260.8 174.2 L262.4 173.6 L264 172.9 L265.6 172.1 L267.2 171.4 L268.8 170.6 L270.4 169.8 L272 169 L273.6 168.2 L275.2 167.3 L276.8 166.4 L278.4 165.4 L280 164.5 L281.6 163.5 L283.2 162.5 L284.8 161.4 L286.4 160.3 L288 159.2 L289.5 158.1 L291.1 156.9 L292.7 155.7 L294.3 154.4 L295.9 153.1 L297.5 151.8 L299.1 150.4 L300.7 149 L302.3 147.6 L303.9 146.1 L305.5 144.6 L307.1 143.1 L308.7 141.5 L310.3 139.9 L311.9 138.3 L313.5 136.6 L315.1 134.9 L316.7 133.2 L318.3 131.4 L319.8 129.6 L321.4 127.8 L323 126 L324.6 124.2 L326.2 122.3 L327.8 120.4 L329.4 118.6 L331 116.7 L332.6 114.8 L334.2 112.9 L335.8 111.1 L337.4 109.2 L339 107.4 L340.6 105.6 L342.2 103.8 L343.8 102.1 L345.4 100.5 L347 98.8 L348.6 97.3 L350.1 95.8 L351.7 94.4 L353.3 93 L354.9 91.8 L356.5 90.6 L358.1 89.5 L359.7 88.6 L361.3 87.7 L362.9 87 L364.5 86.3 L366.1 85.8 L367.7 85.4 L369.3 85.2 L370.9 85.1 L372.5 85 L374.1 85.1 L375.7 85.3 L377.3 85.6 L378.9 85.9 L380.4 86.4 L382 87 L383.6 87.7 L385.2 88.6 L386.8 89.5 L388.4 90.6 L390 91.8 L391.6 93.1 L393.2 94.5 L394.8 96.1 L396.4 97.7 L398 99.5 L399.6 101.4 L401.2 103.4 L402.8 105.5 L404.4 107.6 L406 109.9 L407.6 112.2 L409.1 114.5 L410.7 116.9 L412.3 119.4 L413.9 121.8 L415.5 124.3 L417.1 126.8 L418.7 129.3 L420.3 131.8 L421.9 134.3 L423.5 136.8 L425.1 139.2 L426.7 141.6 L428.3 143.9 L429.9 146.2 L431.5 148.4 L433.1 150.6 L434.7 152.7 L436.3 154.8 L437.9 156.8 L439.4 158.7 L441 160.6 L442.6 162.4 L444.2 164.1 L445.8 165.7 L447.4 167.3 L449 168.8 L450.6 170.3 L452.2 171.7 L453.8 173 L455.4 174.2 L457 175.4 L458.6 176.6 L460.2 177.7 L461.8 178.7 L463.4 179.7 L465 180.6 L466.6 181.5 L468.2 182.4 L469.7 183.2 L471.3 183.9 L472.9 184.6 L474.5 185.3 L476.1 186 L477.7 186.6 L479.3 187.2 L480.9 187.7 L482.5 188.2 L484.1 188.7 L485.7 189.2 L487.3 189.6 L488.9 190.1 L490.5 190.5 L492.1 190.8 L493.7 191.2 L495.3 191.5 L496.9 191.9 L498.5 192.2 L500 192.4 L501.6 192.7 L503.2 193 L504.8 193.2 L506.4 193.5 L508 193.7 L509.6 193.9 L511.2 194.1 L512.8 194.3 L514.4 194.5 L516 194.6 L517.6 194.8 L519.2 194.9 L520.8 195.1 L522.4 195.2 L524 195.4 L525.6 195.5 L527.2 195.6 L528.7 195.7 L530.3 195.8 L531.9 195.9 L533.5 196 L535.1 196.1 L536.7 196.2 L538.3 196.3 L539.9 196.4 L541.5 196.5 L543.1 196.5 L544.7 196.6 L546.3 196.7 L547.9 196.7 L549.5 196.8 L551.1 196.9 L552.7 196.9 L554.3 197 L555.9 197 L557.5 197.1 L559 197.1 L560.6 197.2 L562.2 197.2 L563.8 197.2 L565.4 197.3 L567 197.3 L568.6 197.4" fill="none" stroke="#d4591c" stroke-width="4.6" stroke-linejoin="round" clip-path="url(#clipI)"/><path d="M219.4 188.2 L221 188 L222.6 187.7 L224.2 187.4 L225.8 187.1 L227.4 186.8 L229 186.5 L230.5 186.2 L232.1 185.9 L233.7 185.6 L235.3 185.2 L236.9 184.9 L238.5 184.5 L240.1 184.1 L241.7 183.7 L243.3 183.3 L244.9 182.9 L246.5 182.5 L248.1 182 L249.7 181.6 L251.3 181.1 L252.9 180.6 L254.5 180.1 L256.1 179.6 L257.7 179 L259.3 178.5 L260.8 177.9 L262.4 177.3 L264 176.7 L265.6 176 L267.2 175.3 L268.8 174.7 L270.4 173.9 L272 173.2 L273.6 172.4 L275.2 171.7 L276.8 170.8 L278.4 170 L280 169.1 L281.6 168.2 L283.2 167.3 L284.8 166.3 L286.4 165.4 L288 164.3 L289.5 163.3 L291.1 162.2 L292.7 161.1 L294.3 159.9 L295.9 158.8 L297.5 157.6 L299.1 156.3 L300.7 155 L302.3 153.7 L303.9 152.3 L305.5 151 L307.1 149.5 L308.7 148.1 L310.3 146.6 L311.9 145.1 L313.5 143.5 L315.1 141.9 L316.7 140.3 L318.3 138.7 L319.8 137.1 L321.4 135.4 L323 133.7 L324.6 132 L326.2 130.3 L327.8 128.6 L329.4 126.9 L331 125.1 L332.6 123.4 L334.2 121.7 L335.8 120 L337.4 118.4 L339 116.8 L340.6 115.2 L342.2 113.6 L343.8 112.1 L345.4 110.7 L347 109.3 L348.6 108 L350.1 106.7 L351.7 105.6 L353.3 104.5 L354.9 103.5 L356.5 102.6 L358.1 101.8 L359.7 101.2 L361.3 100.6 L362.9 100.2 L364.5 99.8 L366.1 99.6 L367.7 99.6 L369.3 99.6 L370.9 99.7 L372.5 99.8 L374.1 100 L375.7 100.3 L377.3 100.7 L378.9 101.2 L380.4 101.7 L382 102.4 L383.6 103.2 L385.2 104 L386.8 105 L388.4 106.1 L390 107.3 L391.6 108.7 L393.2 110.1 L394.8 111.7 L396.4 113.3 L398 115.1 L399.6 116.9 L401.2 118.9 L402.8 120.9 L404.4 123 L406 125.1 L407.6 127.4 L409.1 129.6 L410.7 131.9 L412.3 134.2 L413.9 136.6 L415.5 138.9 L417.1 141.2 L418.7 143.6 L420.3 145.9 L421.9 148.1 L423.5 150.4 L425.1 152.5 L426.7 154.7 L428.3 156.8 L429.9 158.8 L431.5 160.7 L433.1 162.6 L434.7 164.4 L436.3 166.2 L437.9 167.9 L439.4 169.5 L441 171 L442.6 172.5 L444.2 173.9 L445.8 175.2 L447.4 176.5 L449 177.7 L450.6 178.9 L452.2 180 L453.8 181 L455.4 181.9 L457 182.9 L458.6 183.7 L460.2 184.6 L461.8 185.3 L463.4 186.1 L465 186.7 L466.6 187.4 L468.2 188 L469.7 188.6 L471.3 189.1 L472.9 189.6 L474.5 190.1 L476.1 190.6 L477.7 191 L479.3 191.4 L480.9 191.8 L482.5 192.1 L484.1 192.4 L485.7 192.8 L487.3 193.1 L488.9 193.3 L490.5 193.6 L492.1 193.8 L493.7 194.1 L495.3 194.3 L496.9 194.5 L498.5 194.7 L500 194.9 L501.6 195.1 L503.2 195.2 L504.8 195.4 L506.4 195.5 L508 195.7 L509.6 195.8 L511.2 195.9 L512.8 196 L514.4 196.1 L516 196.2 L517.6 196.3 L519.2 196.4 L520.8 196.5 L522.4 196.6 L524 196.7 L525.6 196.8 L527.2 196.8 L528.7 196.9 L530.3 197 L531.9 197 L533.5 197.1 L535.1 197.1 L536.7 197.2 L538.3 197.2 L539.9 197.3 L541.5 197.3 L543.1 197.4 L544.7 197.4 L546.3 197.4 L547.9 197.5 L549.5 197.5 L551.1 197.5 L552.7 197.6 L554.3 197.6 L555.9 197.6 L557.5 197.7 L559 197.7 L560.6 197.7 L562.2 197.7 L563.8 197.8 L565.4 197.8 L567 197.8 L568.6 197.8" fill="none" stroke="#661371" stroke-width="4.6" stroke-linejoin="round" clip-path="url(#clipI)"/><rect x="227.7" y="37.6" width="332.6" height="161.4" fill="none" stroke="#000" stroke-width="2.6"/><line x1="227.7" y1="199" x2="227.7" y2="207" stroke="#000" stroke-width="2.2" /><text x="227.7" y="230.2" font-size="22.5" font-family='"Liberation Sans", sans-serif' fill="#000" stroke="#000" stroke-width="0.5" text-anchor="middle" textLength="34.5" lengthAdjust="spacingAndGlyphs" >0.6</text><line x1="310.9" y1="199" x2="310.9" y2="207" stroke="#000" stroke-width="2.2" /><text x="310.9" y="230.2" font-size="22.5" font-family='"Liberation Sans", sans-serif' fill="#000" stroke="#000" stroke-width="0.5" text-anchor="middle" textLength="34.5" lengthAdjust="spacingAndGlyphs" >0.8</text><line x1="394" y1="199" x2="394" y2="207" stroke="#000" stroke-width="2.2" /><text x="394" y="230.2" font-size="22.5" font-family='"Liberation Sans", sans-serif' fill="#000" stroke="#000" stroke-width="0.5" text-anchor="middle" textLength="34.5" lengthAdjust="spacingAndGlyphs" >1.0</text><line x1="477.1" y1="199" x2="477.1" y2="207" stroke="#000" stroke-width="2.2" /><text x="477.1" y="230.2" font-size="22.5" font-family='"Liberation Sans", sans-serif' fill="#000" stroke="#000" stroke-width="0.5" text-anchor="middle" textLength="34.5" lengthAdjust="spacingAndGlyphs" >1.2</text><line x1="560.3" y1="199" x2="560.3" y2="207" stroke="#000" stroke-width="2.2" /><text x="560.3" y="230.2" font-size="22.5" font-family='"Liberation Sans", sans-serif' fill="#000" stroke="#000" stroke-width="0.5" text-anchor="middle" textLength="34.5" lengthAdjust="spacingAndGlyphs" >1.4</text><line x1="219.7" y1="198.3" x2="227.7" y2="198.3" stroke="#000" stroke-width="2.2" /><text x="211.5" y="206" font-size="21.8" font-family='"Liberation Sans", sans-serif' fill="#000" stroke="#000" stroke-width="0.5" text-anchor="end" >0</text><line x1="219.7" y1="141.3" x2="227.7" y2="141.3" stroke="#000" stroke-width="2.2" /><text x="211.5" y="149" font-size="21.8" font-family='"Liberation Sans", sans-serif' fill="#000" stroke="#000" stroke-width="0.5" text-anchor="end" >1</text><line x1="219.7" y1="84.3" x2="227.7" y2="84.3" stroke="#000" stroke-width="2.2" /><text x="211.5" y="92" font-size="21.8" font-family='"Liberation Sans", sans-serif' fill="#000" stroke="#000" stroke-width="0.5" text-anchor="end" >2</text><text x="397" y="261.3" font-size="26" font-family='"Liberation Sans", sans-serif' fill="#000" stroke="#000" stroke-width="0.5" text-anchor="middle" font-style="italic" >g</text><rect x="157" y="32.3" width="1100.6" height="479.9" fill="none" stroke="#000" stroke-width="2.6"/><line x1="146.5" y1="512.2" x2="157" y2="512.2" stroke="#000" stroke-width="2.6" /><text x="135" y="523.9" font-size="33.5" font-family='"Liberation Sans", sans-serif' fill="#000" stroke="#000" stroke-width="0.5" text-anchor="end" textLength="47.5" lengthAdjust="spacingAndGlyphs" >0.0</text><line x1="146.5" y1="416.6" x2="157" y2="416.6" stroke="#000" stroke-width="2.6" /><text x="135" y="428.3" font-size="33.5" font-family='"Liberation Sans", sans-serif' fill="#000" stroke="#000" stroke-width="0.5" text-anchor="end" textLength="47.5" lengthAdjust="spacingAndGlyphs" >0.2</text><line x1="146.5" y1="321" x2="157" y2="321" stroke="#000" stroke-width="2.6" /><text x="135" y="332.7" font-size="33.5" font-family='"Liberation Sans", sans-serif' fill="#000" stroke="#000" stroke-width="0.5" text-anchor="end" textLength="47.5" lengthAdjust="spacingAndGlyphs" >0.4</text><line x1="146.5" y1="225.4" x2="157" y2="225.4" stroke="#000" stroke-width="2.6" /><text x="135" y="237.1" font-size="33.5" font-family='"Liberation Sans", sans-serif' fill="#000" stroke="#000" stroke-width="0.5" text-anchor="end" textLength="47.5" lengthAdjust="spacingAndGlyphs" >0.6</text><line x1="146.5" y1="129.8" x2="157" y2="129.8" stroke="#000" stroke-width="2.6" /><text x="135" y="141.5" font-size="33.5" font-family='"Liberation Sans", sans-serif' fill="#000" stroke="#000" stroke-width="0.5" text-anchor="end" textLength="47.5" lengthAdjust="spacingAndGlyphs" >0.8</text><line x1="146.5" y1="34.2" x2="157" y2="34.2" stroke="#000" stroke-width="2.6" /><text x="135" y="45.9" font-size="33.5" font-family='"Liberation Sans", sans-serif' fill="#000" stroke="#000" stroke-width="0.5" text-anchor="end" textLength="47.5" lengthAdjust="spacingAndGlyphs" >1.0</text><line x1="157" y1="512.2" x2="157" y2="522.7" stroke="#000" stroke-width="2.6" /><text x="157" y="556" font-size="33.5" font-family='"Liberation Sans", sans-serif' fill="#000" stroke="#000" stroke-width="0.5" text-anchor="middle" textLength="47.5" lengthAdjust="spacingAndGlyphs" >0.0</text><line x1="432" y1="512.2" x2="432" y2="522.7" stroke="#000" stroke-width="2.6" /><text x="432" y="556" font-size="33.5" font-family='"Liberation Sans", sans-serif' fill="#000" stroke="#000" stroke-width="0.5" text-anchor="middle" textLength="47.5" lengthAdjust="spacingAndGlyphs" >0.5</text><line x1="707" y1="512.2" x2="707" y2="522.7" stroke="#000" stroke-width="2.6" /><text x="707" y="556" font-size="33.5" font-family='"Liberation Sans", sans-serif' fill="#000" stroke="#000" stroke-width="0.5" text-anchor="middle" textLength="47.5" lengthAdjust="spacingAndGlyphs" >1.0</text><line x1="982" y1="512.2" x2="982" y2="522.7" stroke="#000" stroke-width="2.6" /><text x="982" y="556" font-size="33.5" font-family='"Liberation Sans", sans-serif' fill="#000" stroke="#000" stroke-width="0.5" text-anchor="middle" textLength="47.5" lengthAdjust="spacingAndGlyphs" >1.5</text><line x1="1257" y1="512.2" x2="1257" y2="522.7" stroke="#000" stroke-width="2.6" /><text x="1257" y="556" font-size="33.5" font-family='"Liberation Sans", sans-serif' fill="#000" stroke="#000" stroke-width="0.5" text-anchor="middle" textLength="47.5" lengthAdjust="spacingAndGlyphs" >2.0</text><text x="707" y="592.4" font-size="31" font-family='"Liberation Sans", sans-serif' fill="#000" stroke="#000" stroke-width="0.5" text-anchor="middle" font-style="italic" >g</text><path d="M68.7 278.6Q68.7 279.7 68.2 280.6Q67.8 281.5 66.6 281.5Q65.9 281.5 65.5 281.1Q65.2 280.7 65.2 280.2Q65.2 279.6 65.5 279.4Q65.9 279.3 66.3 279.1Q66.7 279.0 67.1 278.6Q67.4 278.3 67.4 277.4Q67.4 275.2 65.1 273.8Q62.8 272.5 58.3 271.8V274.9L57.3 274.6V271.6L50.0 270.3Q50.0 271.8 50.3 273.0Q50.7 274.3 51.5 275.1Q52.3 275.9 53.8 276.1Q54.1 276.1 54.6 276.2Q55.2 276.3 55.5 276.6Q55.9 276.9 55.9 277.5Q55.9 278.0 55.5 278.3Q55.1 278.7 54.4 278.7Q53.2 278.7 52.2 277.9Q51.3 277.1 50.6 275.8Q49.8 274.4 49.4 273.0Q49.0 271.5 49.0 270.1L47.8 267.8L48.0 267.5L48.9 267.7Q49.1 267.0 49.3 266.0Q49.6 265.0 49.7 264.2Q49.9 263.3 49.9 262.9Q49.9 262.2 49.4 261.7L48.3 260.8L48.7 260.2L50.8 261.6Q51.2 261.9 51.5 262.4Q51.8 262.9 51.8 263.4Q51.8 263.9 51.6 264.6Q51.4 265.4 51.0 266.3Q50.7 267.2 50.5 268.0L57.3 269.3V264.9L58.3 265.2V269.4Q61.3 269.9 63.6 271.2Q65.9 272.5 67.3 274.4Q68.7 276.3 68.7 278.6Z" fill="#000" stroke="#000" stroke-width="1.4"/><path d="M183.6 136.4Q183.6 137.4 183.2 138.1Q182.8 138.8 181.9 138.8Q181.3 138.8 181.0 138.5Q180.7 138.2 180.7 137.8Q180.7 137.3 180.9 137.1Q181.2 137.0 181.6 136.9Q182.0 136.8 182.3 136.5Q182.5 136.2 182.5 135.4Q182.5 133.7 180.6 132.5Q178.6 131.4 174.9 130.8V133.4L174.0 133.2V130.7L167.9 129.6Q167.9 130.8 168.2 131.9Q168.4 132.9 169.1 133.6Q169.8 134.2 171.1 134.4Q171.4 134.4 171.8 134.5Q172.2 134.5 172.5 134.8Q172.8 135.0 172.8 135.5Q172.8 136.0 172.5 136.2Q172.2 136.5 171.6 136.5Q170.6 136.5 169.8 135.8Q168.9 135.2 168.3 134.1Q167.7 133.0 167.4 131.8Q167.1 130.6 167.0 129.4L166.0 127.6L166.2 127.3L166.9 127.5Q167.1 126.9 167.3 126.1Q167.5 125.3 167.7 124.6Q167.8 123.8 167.8 123.5Q167.8 122.9 167.4 122.6L166.4 121.8L166.8 121.3L168.5 122.5Q168.9 122.7 169.2 123.1Q169.4 123.5 169.4 123.9Q169.4 124.3 169.2 124.9Q169.0 125.6 168.8 126.3Q168.5 127.0 168.3 127.7L174.0 128.8V125.2L174.9 125.4V128.9Q177.4 129.3 179.3 130.3Q181.3 131.4 182.4 133.0Q183.6 134.6 183.6 136.4Z" fill="#000" stroke="#000" stroke-width="1.1"/><g transform="translate(184.5 150.8) rotate(-90)"><text x="-0.5" y="0" font-size="24" font-family='"Liberation Sans", sans-serif' textLength="11.2" lengthAdjust="spacingAndGlyphs" stroke="#000" stroke-width="0.5">∂</text><text x="27.5" y="0" font-size="24" font-family='"Liberation Sans", sans-serif' textLength="9.5" lengthAdjust="spacingAndGlyphs" stroke="#000" stroke-width="0.5">/</text><text x="37" y="0" font-size="24" font-family='"Liberation Sans", sans-serif' textLength="11.2" lengthAdjust="spacingAndGlyphs" stroke="#000" stroke-width="0.5">∂</text><text x="50.5" y="0" font-size="24" font-family='"Liberation Sans", sans-serif' font-style="italic" textLength="15.5" lengthAdjust="spacingAndGlyphs" stroke="#000" stroke-width="0.5">g</text></g></g><defs><path id="xm" d="M-5 -10 L0 -5 L5 -10 L10 -5 L5 0 L10 5 L5 10 L0 5 L-5 10 L-10 5 L-5 0 L-10 -5Z"/></defs><g clip-path="url(#clipB)"><rect x="155" y="711.1" width="99.1" height="13.4" fill="#476a98" /><rect x="385.5" y="711.1" width="874" height="13.4" fill="#476a98" /><path d="M245 728.9 L247.2 757.2 L249.4 784.5 L251.6 811 L253.8 836.4 L256 861 L258.2 884.6 L260.4 907.4 L262.6 929.2 L264.8 950.1 L267 970.1 L269.2 989.1 L271.4 1007.3 L273.6 1024.6 L275.8 1041 L278 1056.5 L280.2 1071.1 L282.4 1084.9 L284.6 1097.8 L286.8 1109.8 L289 1120.9 L291.2 1131.2 L293.4 1140.6 L295.6 1149.2 L297.8 1157 L300 1163.9 L302.2 1170.1 L304.4 1175.4 L306.6 1179.9 L308.8 1183.6 L311 1186.6 L313.2 1188.8 L315.4 1190.3 L317.6 1191" fill="none" stroke="#476a98" stroke-width="5" stroke-dasharray="17 7"/><path d="M319.8 1191.2 L322 1190.8 L324.2 1189.7 L326.4 1187.9 L328.6 1185.3 L330.8 1182 L333 1177.9 L335.2 1173.1 L337.4 1167.4 L339.6 1160.9 L341.8 1153.6 L344 1145.4 L346.2 1136.5 L348.4 1126.6 L350.6 1116 L352.8 1104.4 L355 1092 L357.2 1078.7 L359.4 1064.6 L361.6 1049.6 L363.8 1033.7 L366 1016.9 L368.2 999.2 L370.4 980.6 L372.6 961.1 L374.8 940.7 L377 919.4 L379.2 897.1 L381.4 874 L383.6 849.9 L385.8 825 L388 799.1 L390.2 772.2 L392.4 744.5 L394.6 715.8" fill="none" stroke="#476a98" stroke-width="5" stroke-dasharray="17 7"/><g fill="#476a98" stroke="#476a98" stroke-width="2.5"><use href="#xm" x="245" y="728.9"/><use href="#xm" x="247.2" y="757.2"/><use href="#xm" x="249.4" y="784.5"/><use href="#xm" x="251.6" y="811"/><use href="#xm" x="253.8" y="836.4"/><use href="#xm" x="256" y="861"/><use href="#xm" x="258.2" y="884.6"/><use href="#xm" x="260.4" y="907.4"/><use href="#xm" x="262.6" y="929.2"/><use href="#xm" x="264.8" y="950.1"/><use href="#xm" x="267" y="970.1"/><use href="#xm" x="269.2" y="989.1"/><use href="#xm" x="271.4" y="1007.3"/><use href="#xm" x="273.6" y="1024.6"/><use href="#xm" x="275.8" y="1041"/><use href="#xm" x="278" y="1056.5"/><use href="#xm" x="280.2" y="1071.1"/><use href="#xm" x="282.4" y="1084.9"/><use href="#xm" x="284.6" y="1097.8"/><use href="#xm" x="286.8" y="1109.8"/><use href="#xm" x="289" y="1120.9"/><use href="#xm" x="291.2" y="1131.2"/><use href="#xm" x="293.4" y="1140.6"/><use href="#xm" x="295.6" y="1149.2"/><use href="#xm" x="297.8" y="1157"/><use href="#xm" x="300" y="1163.9"/><use href="#xm" x="302.2" y="1170.1"/><use href="#xm" x="304.4" y="1175.4"/><use href="#xm" x="306.6" y="1179.9"/><use href="#xm" x="308.8" y="1183.6"/><use href="#xm" x="311" y="1186.6"/><use href="#xm" x="313.2" y="1188.8"/><use href="#xm" x="315.4" y="1190.3"/><use href="#xm" x="317.6" y="1191"/><use href="#xm" x="319.8" y="1191.2"/><use href="#xm" x="322" y="1190.8"/><use href="#xm" x="324.2" y="1189.7"/><use href="#xm" x="326.4" y="1187.9"/><use href="#xm" x="328.6" y="1185.3"/><use href="#xm" x="330.8" y="1182"/><use href="#xm" x="333" y="1177.9"/><use href="#xm" x="335.2" y="1173.1"/><use href="#xm" x="337.4" y="1167.4"/><use href="#xm" x="339.6" y="1160.9"/><use href="#xm" x="341.8" y="1153.6"/><use href="#xm" x="344" y="1145.4"/><use href="#xm" x="346.2" y="1136.5"/><use href="#xm" x="348.4" y="1126.6"/><use href="#xm" x="350.6" y="1116"/><use href="#xm" x="352.8" y="1104.4"/><use href="#xm" x="355" y="1092"/><use href="#xm" x="357.2" y="1078.7"/><use href="#xm" x="359.4" y="1064.6"/><use href="#xm" x="361.6" y="1049.6"/><use href="#xm" x="363.8" y="1033.7"/><use href="#xm" x="366" y="1016.9"/><use href="#xm" x="368.2" y="999.2"/><use href="#xm" x="370.4" y="980.6"/><use href="#xm" x="372.6" y="961.1"/><use href="#xm" x="374.8" y="940.7"/><use href="#xm" x="377" y="919.4"/><use href="#xm" x="379.2" y="897.1"/><use href="#xm" x="381.4" y="874"/><use href="#xm" x="383.6" y="849.9"/><use href="#xm" x="385.8" y="825"/><use href="#xm" x="388" y="799.1"/><use href="#xm" x="390.2" y="772.2"/><use href="#xm" x="392.4" y="744.5"/><use href="#xm" x="394.6" y="715.8"/></g><rect x="155" y="711.1" width="270.6" height="13.4" fill="#7a9a45" /><rect x="555" y="711.1" width="704.6" height="13.4" fill="#7a9a45" /><path d="M416.6 727.8 L418.8 756.5 L421 784.2 L423.2 811 L425.4 836.8 L427.6 861.7 L429.8 885.6 L432 908.6 L434.2 930.6 L436.4 951.7 L438.6 971.9 L440.8 991.2 L443 1009.5 L445.2 1026.9 L447.4 1043.4 L449.6 1059 L451.8 1073.6 L454 1087.4 L456.2 1100.3 L458.4 1112.3 L460.6 1123.4 L462.8 1133.6 L465 1142.9 L467.2 1151.4 L469.4 1159.1 L471.6 1165.8 L473.8 1171.8 L476 1176.9 L478.2 1181.2 L480.4 1184.7 L482.6 1187.5 L484.8 1189.4 L487 1190.6 L489.2 1191.2" fill="none" stroke="#7a9a45" stroke-width="5" stroke-dasharray="17 7"/><path d="M491.4 1191.1 L493.6 1190.4 L495.8 1189 L498 1186.8 L500.2 1183.9 L502.4 1180.1 L504.6 1175.6 L506.8 1170.3 L509 1164.1 L511.2 1157.1 L513.4 1149.2 L515.6 1140.5 L517.8 1130.9 L520 1120.4 L522.2 1109.1 L524.4 1096.8 L526.6 1083.7 L528.8 1069.7 L531 1054.8 L533.2 1039 L535.4 1022.2 L537.6 1004.6 L539.8 986 L542 966.5 L544.2 946.1 L546.4 924.7 L548.6 902.4 L550.8 879.2 L553 855 L555.2 829.9 L557.4 803.8 L559.6 776.8 L561.8 748.8 L564 719.8" fill="none" stroke="#7a9a45" stroke-width="5" stroke-dasharray="17 7"/><g fill="#7a9a45" stroke="#7a9a45" stroke-width="2.5"><use href="#xm" x="416.6" y="727.8"/><use href="#xm" x="418.8" y="756.5"/><use href="#xm" x="421" y="784.2"/><use href="#xm" x="423.2" y="811"/><use href="#xm" x="425.4" y="836.8"/><use href="#xm" x="427.6" y="861.7"/><use href="#xm" x="429.8" y="885.6"/><use href="#xm" x="432" y="908.6"/><use href="#xm" x="434.2" y="930.6"/><use href="#xm" x="436.4" y="951.7"/><use href="#xm" x="438.6" y="971.9"/><use href="#xm" x="440.8" y="991.2"/><use href="#xm" x="443" y="1009.5"/><use href="#xm" x="445.2" y="1026.9"/><use href="#xm" x="447.4" y="1043.4"/><use href="#xm" x="449.6" y="1059"/><use href="#xm" x="451.8" y="1073.6"/><use href="#xm" x="454" y="1087.4"/><use href="#xm" x="456.2" y="1100.3"/><use href="#xm" x="458.4" y="1112.3"/><use href="#xm" x="460.6" y="1123.4"/><use href="#xm" x="462.8" y="1133.6"/><use href="#xm" x="465" y="1142.9"/><use href="#xm" x="467.2" y="1151.4"/><use href="#xm" x="469.4" y="1159.1"/><use href="#xm" x="471.6" y="1165.8"/><use href="#xm" x="473.8" y="1171.8"/><use href="#xm" x="476" y="1176.9"/><use href="#xm" x="478.2" y="1181.2"/><use href="#xm" x="480.4" y="1184.7"/><use href="#xm" x="482.6" y="1187.5"/><use href="#xm" x="484.8" y="1189.4"/><use href="#xm" x="487" y="1190.6"/><use href="#xm" x="489.2" y="1191.2"/><use href="#xm" x="491.4" y="1191.1"/><use href="#xm" x="493.6" y="1190.4"/><use href="#xm" x="495.8" y="1189"/><use href="#xm" x="498" y="1186.8"/><use href="#xm" x="500.2" y="1183.9"/><use href="#xm" x="502.4" y="1180.1"/><use href="#xm" x="504.6" y="1175.6"/><use href="#xm" x="506.8" y="1170.3"/><use href="#xm" x="509" y="1164.1"/><use href="#xm" x="511.2" y="1157.1"/><use href="#xm" x="513.4" y="1149.2"/><use href="#xm" x="515.6" y="1140.5"/><use href="#xm" x="517.8" y="1130.9"/><use href="#xm" x="520" y="1120.4"/><use href="#xm" x="522.2" y="1109.1"/><use href="#xm" x="524.4" y="1096.8"/><use href="#xm" x="526.6" y="1083.7"/><use href="#xm" x="528.8" y="1069.7"/><use href="#xm" x="531" y="1054.8"/><use href="#xm" x="533.2" y="1039"/><use href="#xm" x="535.4" y="1022.2"/><use href="#xm" x="537.6" y="1004.6"/><use href="#xm" x="539.8" y="986"/><use href="#xm" x="542" y="966.5"/><use href="#xm" x="544.2" y="946.1"/><use href="#xm" x="546.4" y="924.7"/><use href="#xm" x="548.6" y="902.4"/><use href="#xm" x="550.8" y="879.2"/><use href="#xm" x="553" y="855"/><use href="#xm" x="555.2" y="829.9"/><use href="#xm" x="557.4" y="803.8"/><use href="#xm" x="559.6" y="776.8"/><use href="#xm" x="561.8" y="748.8"/><use href="#xm" x="564" y="719.8"/></g><rect x="155" y="711.1" width="411.5" height="13.4" fill="#963a3b" /><rect x="691.4" y="711.1" width="568.2" height="13.4" fill="#963a3b" /><path d="M557.4 725.4 L559.6 754.7 L561.8 783.1 L564 810.4 L566.2 836.8 L568.4 862.2 L570.6 886.6 L572.8 910 L575 932.4 L577.2 953.8 L579.4 974.3 L581.6 993.8 L583.8 1012.4 L586 1030 L588.2 1046.6 L590.4 1062.3 L592.6 1077.1 L594.8 1090.9 L597 1103.8 L599.2 1115.8 L601.4 1126.8 L603.6 1136.9 L605.8 1146.2 L608 1154.5 L610.2 1161.9 L612.4 1168.5 L614.6 1174.2 L616.8 1179.1 L619 1183.1 L621.2 1186.2 L623.4 1188.6 L625.6 1190.2 L627.8 1191" fill="none" stroke="#963a3b" stroke-width="5" stroke-dasharray="17 7"/><path d="M630 1191.2 L632.2 1190.7 L634.4 1189.6 L636.6 1187.6 L638.8 1184.9 L641 1181.3 L643.2 1177 L645.4 1171.7 L647.6 1165.6 L649.8 1158.7 L652 1150.8 L654.2 1142.1 L656.4 1132.4 L658.6 1121.9 L660.8 1110.4 L663 1098.1 L665.2 1084.8 L667.4 1070.5 L669.6 1055.3 L671.8 1039.2 L674 1022.1 L676.2 1004.1 L678.4 985.1 L680.6 965.1 L682.8 944.2 L685 922.3 L687.2 899.5 L689.4 875.6 L691.6 850.8 L693.8 824.9 L696 798.1 L698.2 770.3 L700.4 741.5" fill="none" stroke="#963a3b" stroke-width="5" stroke-dasharray="17 7"/><g fill="#963a3b" stroke="#963a3b" stroke-width="2.5"><use href="#xm" x="557.4" y="725.4"/><use href="#xm" x="559.6" y="754.7"/><use href="#xm" x="561.8" y="783.1"/><use href="#xm" x="564" y="810.4"/><use href="#xm" x="566.2" y="836.8"/><use href="#xm" x="568.4" y="862.2"/><use href="#xm" x="570.6" y="886.6"/><use href="#xm" x="572.8" y="910"/><use href="#xm" x="575" y="932.4"/><use href="#xm" x="577.2" y="953.8"/><use href="#xm" x="579.4" y="974.3"/><use href="#xm" x="581.6" y="993.8"/><use href="#xm" x="583.8" y="1012.4"/><use href="#xm" x="586" y="1030"/><use href="#xm" x="588.2" y="1046.6"/><use href="#xm" x="590.4" y="1062.3"/><use href="#xm" x="592.6" y="1077.1"/><use href="#xm" x="594.8" y="1090.9"/><use href="#xm" x="597" y="1103.8"/><use href="#xm" x="599.2" y="1115.8"/><use href="#xm" x="601.4" y="1126.8"/><use href="#xm" x="603.6" y="1136.9"/><use href="#xm" x="605.8" y="1146.2"/><use href="#xm" x="608" y="1154.5"/><use href="#xm" x="610.2" y="1161.9"/><use href="#xm" x="612.4" y="1168.5"/><use href="#xm" x="614.6" y="1174.2"/><use href="#xm" x="616.8" y="1179.1"/><use href="#xm" x="619" y="1183.1"/><use href="#xm" x="621.2" y="1186.2"/><use href="#xm" x="623.4" y="1188.6"/><use href="#xm" x="625.6" y="1190.2"/><use href="#xm" x="627.8" y="1191"/><use href="#xm" x="630" y="1191.2"/><use href="#xm" x="632.2" y="1190.7"/><use href="#xm" x="634.4" y="1189.6"/><use href="#xm" x="636.6" y="1187.6"/><use href="#xm" x="638.8" y="1184.9"/><use href="#xm" x="641" y="1181.3"/><use href="#xm" x="643.2" y="1177"/><use href="#xm" x="645.4" y="1171.7"/><use href="#xm" x="647.6" y="1165.6"/><use href="#xm" x="649.8" y="1158.7"/><use href="#xm" x="652" y="1150.8"/><use href="#xm" x="654.2" y="1142.1"/><use href="#xm" x="656.4" y="1132.4"/><use href="#xm" x="658.6" y="1121.9"/><use href="#xm" x="660.8" y="1110.4"/><use href="#xm" x="663" y="1098.1"/><use href="#xm" x="665.2" y="1084.8"/><use href="#xm" x="667.4" y="1070.5"/><use href="#xm" x="669.6" y="1055.3"/><use href="#xm" x="671.8" y="1039.2"/><use href="#xm" x="674" y="1022.1"/><use href="#xm" x="676.2" y="1004.1"/><use href="#xm" x="678.4" y="985.1"/><use href="#xm" x="680.6" y="965.1"/><use href="#xm" x="682.8" y="944.2"/><use href="#xm" x="685" y="922.3"/><use href="#xm" x="687.2" y="899.5"/><use href="#xm" x="689.4" y="875.6"/><use href="#xm" x="691.6" y="850.8"/><use href="#xm" x="693.8" y="824.9"/><use href="#xm" x="696" y="798.1"/><use href="#xm" x="698.2" y="770.3"/><use href="#xm" x="700.4" y="741.5"/></g><rect x="155" y="711.1" width="521.5" height="13.4" fill="#838383" /><rect x="799.2" y="711.1" width="460.4" height="13.4" fill="#838383" /><path d="M667.4 728.4 L669.6 758.3 L671.8 787.1 L674 814.8 L676.2 841.6 L678.4 867.3 L680.6 892 L682.8 915.6 L685 938.3 L687.2 959.9 L689.4 980.5 L691.6 1000.1 L693.8 1018.7 L696 1036.3 L698.2 1053 L700.4 1068.6 L702.6 1083.3 L704.8 1096.9 L707 1109.6 L709.2 1121.4 L711.4 1132.2 L713.6 1142.1 L715.8 1151 L718 1159 L720.2 1166 L722.4 1172.2 L724.6 1177.4 L726.8 1181.8 L729 1185.3 L731.2 1188 L733.4 1189.8 L735.6 1190.9" fill="none" stroke="#838383" stroke-width="5" stroke-dasharray="17 7"/><path d="M737.8 1191.2 L740 1190.9 L742.2 1189.8 L744.4 1188 L746.6 1185.3 L748.8 1181.8 L751 1177.4 L753.2 1172.2 L755.4 1166 L757.6 1159 L759.8 1151 L762 1142.1 L764.2 1132.2 L766.4 1121.4 L768.6 1109.6 L770.8 1096.9 L773 1083.3 L775.2 1068.6 L777.4 1053 L779.6 1036.3 L781.8 1018.7 L784 1000.1 L786.2 980.5 L788.4 959.9 L790.6 938.3 L792.8 915.6 L795 892 L797.2 867.3 L799.4 841.6 L801.6 814.8 L803.8 787.1 L806 758.3 L808.2 728.4" fill="none" stroke="#838383" stroke-width="5" stroke-dasharray="17 7"/><g fill="#838383" stroke="#838383" stroke-width="2.5"><use href="#xm" x="667.4" y="728.4"/><use href="#xm" x="669.6" y="758.3"/><use href="#xm" x="671.8" y="787.1"/><use href="#xm" x="674" y="814.8"/><use href="#xm" x="676.2" y="841.6"/><use href="#xm" x="678.4" y="867.3"/><use href="#xm" x="680.6" y="892"/><use href="#xm" x="682.8" y="915.6"/><use href="#xm" x="685" y="938.3"/><use href="#xm" x="687.2" y="959.9"/><use href="#xm" x="689.4" y="980.5"/><use href="#xm" x="691.6" y="1000.1"/><use href="#xm" x="693.8" y="1018.7"/><use href="#xm" x="696" y="1036.3"/><use href="#xm" x="698.2" y="1053"/><use href="#xm" x="700.4" y="1068.6"/><use href="#xm" x="702.6" y="1083.3"/><use href="#xm" x="704.8" y="1096.9"/><use href="#xm" x="707" y="1109.6"/><use href="#xm" x="709.2" y="1121.4"/><use href="#xm" x="711.4" y="1132.2"/><use href="#xm" x="713.6" y="1142.1"/><use href="#xm" x="715.8" y="1151"/><use href="#xm" x="718" y="1159"/><use href="#xm" x="720.2" y="1166"/><use href="#xm" x="722.4" y="1172.2"/><use href="#xm" x="724.6" y="1177.4"/><use href="#xm" x="726.8" y="1181.8"/><use href="#xm" x="729" y="1185.3"/><use href="#xm" x="731.2" y="1188"/><use href="#xm" x="733.4" y="1189.8"/><use href="#xm" x="735.6" y="1190.9"/><use href="#xm" x="737.8" y="1191.2"/><use href="#xm" x="740" y="1190.9"/><use href="#xm" x="742.2" y="1189.8"/><use href="#xm" x="744.4" y="1188"/><use href="#xm" x="746.6" y="1185.3"/><use href="#xm" x="748.8" y="1181.8"/><use href="#xm" x="751" y="1177.4"/><use href="#xm" x="753.2" y="1172.2"/><use href="#xm" x="755.4" y="1166"/><use href="#xm" x="757.6" y="1159"/><use href="#xm" x="759.8" y="1151"/><use href="#xm" x="762" y="1142.1"/><use href="#xm" x="764.2" y="1132.2"/><use href="#xm" x="766.4" y="1121.4"/><use href="#xm" x="768.6" y="1109.6"/><use href="#xm" x="770.8" y="1096.9"/><use href="#xm" x="773" y="1083.3"/><use href="#xm" x="775.2" y="1068.6"/><use href="#xm" x="777.4" y="1053"/><use href="#xm" x="779.6" y="1036.3"/><use href="#xm" x="781.8" y="1018.7"/><use href="#xm" x="784" y="1000.1"/><use href="#xm" x="786.2" y="980.5"/><use href="#xm" x="788.4" y="959.9"/><use href="#xm" x="790.6" y="938.3"/><use href="#xm" x="792.8" y="915.6"/><use href="#xm" x="795" y="892"/><use href="#xm" x="797.2" y="867.3"/><use href="#xm" x="799.4" y="841.6"/><use href="#xm" x="801.6" y="814.8"/><use href="#xm" x="803.8" y="787.1"/><use href="#xm" x="806" y="758.3"/><use href="#xm" x="808.2" y="728.4"/></g><rect x="155" y="711.1" width="596.2" height="13.4" fill="#d4591c" /><rect x="871.8" y="711.1" width="387.8" height="13.4" fill="#d4591c" /><path d="M742.2 742.5 L744.4 772.3 L746.6 801 L748.8 828.6 L751 855.2 L753.2 880.7 L755.4 905.2 L757.6 928.6 L759.8 951 L762 972.3 L764.2 992.6 L766.4 1011.8 L768.6 1030.1 L770.8 1047.3 L773 1063.5 L775.2 1078.7 L777.4 1092.9 L779.6 1106.1 L781.8 1118.2 L784 1129.5 L786.2 1139.7 L788.4 1149 L790.6 1157.3 L792.8 1164.6 L795 1171.1 L797.2 1176.6 L799.4 1181.2 L801.6 1184.9 L803.8 1187.7 L806 1189.7 L808.2 1190.8 L810.4 1191.2" fill="none" stroke="#d4591c" stroke-width="5" stroke-dasharray="17 7"/><path d="M812.6 1190.9 L814.8 1189.9 L817 1188.1 L819.2 1185.4 L821.4 1181.9 L823.6 1177.5 L825.8 1172.1 L828 1165.9 L830.2 1158.7 L832.4 1150.5 L834.6 1141.5 L836.8 1131.4 L839 1120.4 L841.2 1108.3 L843.4 1095.3 L845.6 1081.3 L847.8 1066.3 L850 1050.3 L852.2 1033.3 L854.4 1015.2 L856.6 996.2 L858.8 976.1 L861 954.9 L863.2 932.7 L865.4 909.5 L867.6 885.2 L869.8 859.9 L872 833.5 L874.2 806.1 L876.4 777.6 L878.6 748 L880.8 717.4" fill="none" stroke="#d4591c" stroke-width="5" stroke-dasharray="17 7"/><g fill="#d4591c" stroke="#d4591c" stroke-width="2.5"><use href="#xm" x="742.2" y="742.5"/><use href="#xm" x="744.4" y="772.3"/><use href="#xm" x="746.6" y="801"/><use href="#xm" x="748.8" y="828.6"/><use href="#xm" x="751" y="855.2"/><use href="#xm" x="753.2" y="880.7"/><use href="#xm" x="755.4" y="905.2"/><use href="#xm" x="757.6" y="928.6"/><use href="#xm" x="759.8" y="951"/><use href="#xm" x="762" y="972.3"/><use href="#xm" x="764.2" y="992.6"/><use href="#xm" x="766.4" y="1011.8"/><use href="#xm" x="768.6" y="1030.1"/><use href="#xm" x="770.8" y="1047.3"/><use href="#xm" x="773" y="1063.5"/><use href="#xm" x="775.2" y="1078.7"/><use href="#xm" x="777.4" y="1092.9"/><use href="#xm" x="779.6" y="1106.1"/><use href="#xm" x="781.8" y="1118.2"/><use href="#xm" x="784" y="1129.5"/><use href="#xm" x="786.2" y="1139.7"/><use href="#xm" x="788.4" y="1149"/><use href="#xm" x="790.6" y="1157.3"/><use href="#xm" x="792.8" y="1164.6"/><use href="#xm" x="795" y="1171.1"/><use href="#xm" x="797.2" y="1176.6"/><use href="#xm" x="799.4" y="1181.2"/><use href="#xm" x="801.6" y="1184.9"/><use href="#xm" x="803.8" y="1187.7"/><use href="#xm" x="806" y="1189.7"/><use href="#xm" x="808.2" y="1190.8"/><use href="#xm" x="810.4" y="1191.2"/><use href="#xm" x="812.6" y="1190.9"/><use href="#xm" x="814.8" y="1189.9"/><use href="#xm" x="817" y="1188.1"/><use href="#xm" x="819.2" y="1185.4"/><use href="#xm" x="821.4" y="1181.9"/><use href="#xm" x="823.6" y="1177.5"/><use href="#xm" x="825.8" y="1172.1"/><use href="#xm" x="828" y="1165.9"/><use href="#xm" x="830.2" y="1158.7"/><use href="#xm" x="832.4" y="1150.5"/><use href="#xm" x="834.6" y="1141.5"/><use href="#xm" x="836.8" y="1131.4"/><use href="#xm" x="839" y="1120.4"/><use href="#xm" x="841.2" y="1108.3"/><use href="#xm" x="843.4" y="1095.3"/><use href="#xm" x="845.6" y="1081.3"/><use href="#xm" x="847.8" y="1066.3"/><use href="#xm" x="850" y="1050.3"/><use href="#xm" x="852.2" y="1033.3"/><use href="#xm" x="854.4" y="1015.2"/><use href="#xm" x="856.6" y="996.2"/><use href="#xm" x="858.8" y="976.1"/><use href="#xm" x="861" y="954.9"/><use href="#xm" x="863.2" y="932.7"/><use href="#xm" x="865.4" y="909.5"/><use href="#xm" x="867.6" y="885.2"/><use href="#xm" x="869.8" y="859.9"/><use href="#xm" x="872" y="833.5"/><use href="#xm" x="874.2" y="806.1"/><use href="#xm" x="876.4" y="777.6"/><use href="#xm" x="878.6" y="748"/><use href="#xm" x="880.8" y="717.4"/></g><rect x="155" y="711.1" width="640.3" height="13.4" fill="#661371" /><rect x="915.8" y="711.1" width="343.8" height="13.4" fill="#661371" /><path d="M786.2 730 L788.4 760.2 L790.6 789.4 L792.8 817.4 L795 844.5 L797.2 870.4 L799.4 895.3 L801.6 919.1 L803.8 941.9 L806 963.7 L808.2 984.4 L810.4 1004.1 L812.6 1022.7 L814.8 1040.4 L817 1057 L819.2 1072.6 L821.4 1087.2 L823.6 1100.8 L825.8 1113.4 L828 1125 L830.2 1135.6 L832.4 1145.3 L834.6 1154 L836.8 1161.7 L839 1168.6 L841.2 1174.4 L843.4 1179.4 L845.6 1183.5 L847.8 1186.6 L850 1188.9 L852.2 1190.4 L854.4 1191.1" fill="none" stroke="#661371" stroke-width="5" stroke-dasharray="17 7"/><path d="M856.6 1191.1 L858.8 1190.4 L861 1188.9 L863.2 1186.6 L865.4 1183.5 L867.6 1179.4 L869.8 1174.4 L872 1168.6 L874.2 1161.7 L876.4 1154 L878.6 1145.3 L880.8 1135.6 L883 1125 L885.2 1113.4 L887.4 1100.8 L889.6 1087.2 L891.8 1072.6 L894 1057 L896.2 1040.4 L898.4 1022.7 L900.6 1004.1 L902.8 984.4 L905 963.7 L907.2 941.9 L909.4 919.1 L911.6 895.3 L913.8 870.4 L916 844.5 L918.2 817.4 L920.4 789.4 L922.6 760.2 L924.8 730" fill="none" stroke="#661371" stroke-width="5" stroke-dasharray="17 7"/><g fill="#661371" stroke="#661371" stroke-width="2.5"><use href="#xm" x="786.2" y="730"/><use href="#xm" x="788.4" y="760.2"/><use href="#xm" x="790.6" y="789.4"/><use href="#xm" x="792.8" y="817.4"/><use href="#xm" x="795" y="844.5"/><use href="#xm" x="797.2" y="870.4"/><use href="#xm" x="799.4" y="895.3"/><use href="#xm" x="801.6" y="919.1"/><use href="#xm" x="803.8" y="941.9"/><use href="#xm" x="806" y="963.7"/><use href="#xm" x="808.2" y="984.4"/><use href="#xm" x="810.4" y="1004.1"/><use href="#xm" x="812.6" y="1022.7"/><use href="#xm" x="814.8" y="1040.4"/><use href="#xm" x="817" y="1057"/><use href="#xm" x="819.2" y="1072.6"/><use href="#xm" x="821.4" y="1087.2"/><use href="#xm" x="823.6" y="1100.8"/><use href="#xm" x="825.8" y="1113.4"/><use href="#xm" x="828" y="1125"/><use href="#xm" x="830.2" y="1135.6"/><use href="#xm" x="832.4" y="1145.3"/><use href="#xm" x="834.6" y="1154"/><use href="#xm" x="836.8" y="1161.7"/><use href="#xm" x="839" y="1168.6"/><use href="#xm" x="841.2" y="1174.4"/><use href="#xm" x="843.4" y="1179.4"/><use href="#xm" x="845.6" y="1183.5"/><use href="#xm" x="847.8" y="1186.6"/><use href="#xm" x="850" y="1188.9"/><use href="#xm" x="852.2" y="1190.4"/><use href="#xm" x="854.4" y="1191.1"/><use href="#xm" x="856.6" y="1191.1"/><use href="#xm" x="858.8" y="1190.4"/><use href="#xm" x="861" y="1188.9"/><use href="#xm" x="863.2" y="1186.6"/><use href="#xm" x="865.4" y="1183.5"/><use href="#xm" x="867.6" y="1179.4"/><use href="#xm" x="869.8" y="1174.4"/><use href="#xm" x="872" y="1168.6"/><use href="#xm" x="874.2" y="1161.7"/><use href="#xm" x="876.4" y="1154"/><use href="#xm" x="878.6" y="1145.3"/><use href="#xm" x="880.8" y="1135.6"/><use href="#xm" x="883" y="1125"/><use href="#xm" x="885.2" y="1113.4"/><use href="#xm" x="887.4" y="1100.8"/><use href="#xm" x="889.6" y="1087.2"/><use href="#xm" x="891.8" y="1072.6"/><use href="#xm" x="894" y="1057"/><use href="#xm" x="896.2" y="1040.4"/><use href="#xm" x="898.4" y="1022.7"/><use href="#xm" x="900.6" y="1004.1"/><use href="#xm" x="902.8" y="984.4"/><use href="#xm" x="905" y="963.7"/><use href="#xm" x="907.2" y="941.9"/><use href="#xm" x="909.4" y="919.1"/><use href="#xm" x="911.6" y="895.3"/><use href="#xm" x="913.8" y="870.4"/><use href="#xm" x="916" y="844.5"/><use href="#xm" x="918.2" y="817.4"/><use href="#xm" x="920.4" y="789.4"/><use href="#xm" x="922.6" y="760.2"/><use href="#xm" x="924.8" y="730"/></g></g><rect x="959.2" y="725.6" width="284.4" height="299.8" rx="5" fill="#fff" fill-opacity="0.85" stroke="#d2d2d2" stroke-width="2.2"/><line x1="972" y1="751.2" x2="995" y2="751.2" stroke="#476a98" stroke-width="4.2" /><rect x="1019.8" y="749.1" width="6.8" height="4.2" fill="#476a98" /><use href="#xm" x="1001.5" y="751.2" fill="#476a98" stroke="#476a98" stroke-width="2.5"/><text x="1056.2" y="761" font-size="28.6" font-family='"Liberation Sans", sans-serif' fill="#000" stroke="#000" stroke-width="0.5" font-style="italic" textLength="16.8" lengthAdjust="spacingAndGlyphs" >n</text><line x1="1082.5" y1="750.7" x2="1101" y2="750.7" stroke="#000" stroke-width="2.4" /><path d="M1096 745.2 L1104 750.7 L1096 756.2" fill="none" stroke="#000" stroke-width="2.4" stroke-linejoin="miter"/><text x="1113.5" y="761" font-size="28.6" font-family='"Liberation Sans", sans-serif' fill="#000" stroke="#000" stroke-width="0.5" textLength="21.8" lengthAdjust="spacingAndGlyphs" >∞</text><text x="1136.5" y="761" font-size="28.6" font-family='"Liberation Sans", sans-serif' fill="#000" stroke="#000" stroke-width="0.5" font-style="italic" >,</text><text x="1152.3" y="761" font-size="28.6" font-family='"Liberation Sans", sans-serif' fill="#000" stroke="#000" stroke-width="0.5" font-style="italic" textLength="17.8" lengthAdjust="spacingAndGlyphs" >p</text><text x="1178" y="761" font-size="28.6" font-family='"Liberation Sans", sans-serif' fill="#000" stroke="#000" stroke-width="0.5" textLength="21.3" lengthAdjust="spacingAndGlyphs" >=</text><text x="1208.3" y="761" font-size="28.6" font-family='"Liberation Sans", sans-serif' fill="#000" stroke="#000" stroke-width="0.5" textLength="17.6" lengthAdjust="spacingAndGlyphs" >2</text><line x1="972" y1="799.9" x2="995" y2="799.9" stroke="#7a9a45" stroke-width="4.2" /><rect x="1019.8" y="797.8" width="6.8" height="4.2" fill="#7a9a45" /><use href="#xm" x="1001.5" y="799.9" fill="#7a9a45" stroke="#7a9a45" stroke-width="2.5"/><text x="1056.2" y="809.7" font-size="28.6" font-family='"Liberation Sans", sans-serif' fill="#000" stroke="#000" stroke-width="0.5" font-style="italic" textLength="16.8" lengthAdjust="spacingAndGlyphs" >n</text><line x1="1082.5" y1="799.4" x2="1101" y2="799.4" stroke="#000" stroke-width="2.4" /><path d="M1096 793.9 L1104 799.4 L1096 804.9" fill="none" stroke="#000" stroke-width="2.4" stroke-linejoin="miter"/><text x="1113.5" y="809.7" font-size="28.6" font-family='"Liberation Sans", sans-serif' fill="#000" stroke="#000" stroke-width="0.5" textLength="21.8" lengthAdjust="spacingAndGlyphs" >∞</text><text x="1136.5" y="809.7" font-size="28.6" font-family='"Liberation Sans", sans-serif' fill="#000" stroke="#000" stroke-width="0.5" font-style="italic" >,</text><text x="1152.3" y="809.7" font-size="28.6" font-family='"Liberation Sans", sans-serif' fill="#000" stroke="#000" stroke-width="0.5" font-style="italic" textLength="17.8" lengthAdjust="spacingAndGlyphs" >p</text><text x="1178" y="809.7" font-size="28.6" font-family='"Liberation Sans", sans-serif' fill="#000" stroke="#000" stroke-width="0.5" textLength="21.3" lengthAdjust="spacingAndGlyphs" >=</text><text x="1208.3" y="809.7" font-size="28.6" font-family='"Liberation Sans", sans-serif' fill="#000" stroke="#000" stroke-width="0.5" textLength="17.6" lengthAdjust="spacingAndGlyphs" >3</text><line x1="972" y1="848.1" x2="995" y2="848.1" stroke="#963a3b" stroke-width="4.2" /><rect x="1019.8" y="846" width="6.8" height="4.2" fill="#963a3b" /><use href="#xm" x="1001.5" y="848.1" fill="#963a3b" stroke="#963a3b" stroke-width="2.5"/><text x="1056.2" y="857.9" font-size="28.6" font-family='"Liberation Sans", sans-serif' fill="#000" stroke="#000" stroke-width="0.5" font-style="italic" textLength="16.8" lengthAdjust="spacingAndGlyphs" >n</text><line x1="1082.5" y1="847.6" x2="1101" y2="847.6" stroke="#000" stroke-width="2.4" /><path d="M1096 842.1 L1104 847.6 L1096 853.1" fill="none" stroke="#000" stroke-width="2.4" stroke-linejoin="miter"/><text x="1113.5" y="857.9" font-size="28.6" font-family='"Liberation Sans", sans-serif' fill="#000" stroke="#000" stroke-width="0.5" textLength="21.8" lengthAdjust="spacingAndGlyphs" >∞</text><text x="1136.5" y="857.9" font-size="28.6" font-family='"Liberation Sans", sans-serif' fill="#000" stroke="#000" stroke-width="0.5" font-style="italic" >,</text><text x="1152.3" y="857.9" font-size="28.6" font-family='"Liberation Sans", sans-serif' fill="#000" stroke="#000" stroke-width="0.5" font-style="italic" textLength="17.8" lengthAdjust="spacingAndGlyphs" >p</text><text x="1178" y="857.9" font-size="28.6" font-family='"Liberation Sans", sans-serif' fill="#000" stroke="#000" stroke-width="0.5" textLength="21.3" lengthAdjust="spacingAndGlyphs" >=</text><text x="1208.3" y="857.9" font-size="28.6" font-family='"Liberation Sans", sans-serif' fill="#000" stroke="#000" stroke-width="0.5" textLength="17.6" lengthAdjust="spacingAndGlyphs" >4</text><line x1="972" y1="896" x2="995" y2="896" stroke="#838383" stroke-width="4.2" /><rect x="1019.8" y="893.9" width="6.8" height="4.2" fill="#838383" /><use href="#xm" x="1001.5" y="896" fill="#838383" stroke="#838383" stroke-width="2.5"/><text x="1056.2" y="905.8" font-size="28.6" font-family='"Liberation Sans", sans-serif' fill="#000" stroke="#000" stroke-width="0.5" font-style="italic" textLength="16.8" lengthAdjust="spacingAndGlyphs" >n</text><line x1="1082.5" y1="895.5" x2="1101" y2="895.5" stroke="#000" stroke-width="2.4" /><path d="M1096 890 L1104 895.5 L1096 901" fill="none" stroke="#000" stroke-width="2.4" stroke-linejoin="miter"/><text x="1113.5" y="905.8" font-size="28.6" font-family='"Liberation Sans", sans-serif' fill="#000" stroke="#000" stroke-width="0.5" textLength="21.8" lengthAdjust="spacingAndGlyphs" >∞</text><text x="1136.5" y="905.8" font-size="28.6" font-family='"Liberation Sans", sans-serif' fill="#000" stroke="#000" stroke-width="0.5" font-style="italic" >,</text><text x="1152.3" y="905.8" font-size="28.6" font-family='"Liberation Sans", sans-serif' fill="#000" stroke="#000" stroke-width="0.5" font-style="italic" textLength="17.8" lengthAdjust="spacingAndGlyphs" >p</text><text x="1178" y="905.8" font-size="28.6" font-family='"Liberation Sans", sans-serif' fill="#000" stroke="#000" stroke-width="0.5" textLength="21.3" lengthAdjust="spacingAndGlyphs" >=</text><text x="1208.3" y="905.8" font-size="28.6" font-family='"Liberation Sans", sans-serif' fill="#000" stroke="#000" stroke-width="0.5" textLength="17.6" lengthAdjust="spacingAndGlyphs" >5</text><line x1="972" y1="944.2" x2="995" y2="944.2" stroke="#d4591c" stroke-width="4.2" /><rect x="1019.8" y="942.1" width="6.8" height="4.2" fill="#d4591c" /><use href="#xm" x="1001.5" y="944.2" fill="#d4591c" stroke="#d4591c" stroke-width="2.5"/><text x="1056.2" y="954" font-size="28.6" font-family='"Liberation Sans", sans-serif' fill="#000" stroke="#000" stroke-width="0.5" font-style="italic" textLength="16.8" lengthAdjust="spacingAndGlyphs" >n</text><line x1="1082.5" y1="943.7" x2="1101" y2="943.7" stroke="#000" stroke-width="2.4" /><path d="M1096 938.2 L1104 943.7 L1096 949.2" fill="none" stroke="#000" stroke-width="2.4" stroke-linejoin="miter"/><text x="1113.5" y="954" font-size="28.6" font-family='"Liberation Sans", sans-serif' fill="#000" stroke="#000" stroke-width="0.5" textLength="21.8" lengthAdjust="spacingAndGlyphs" >∞</text><text x="1136.5" y="954" font-size="28.6" font-family='"Liberation Sans", sans-serif' fill="#000" stroke="#000" stroke-width="0.5" font-style="italic" >,</text><text x="1152.3" y="954" font-size="28.6" font-family='"Liberation Sans", sans-serif' fill="#000" stroke="#000" stroke-width="0.5" font-style="italic" textLength="17.8" lengthAdjust="spacingAndGlyphs" >p</text><text x="1178" y="954" font-size="28.6" font-family='"Liberation Sans", sans-serif' fill="#000" stroke="#000" stroke-width="0.5" textLength="21.3" lengthAdjust="spacingAndGlyphs" >=</text><text x="1208.3" y="954" font-size="28.6" font-family='"Liberation Sans", sans-serif' fill="#000" stroke="#000" stroke-width="0.5" textLength="17.6" lengthAdjust="spacingAndGlyphs" >6</text><line x1="972" y1="992.1" x2="995" y2="992.1" stroke="#661371" stroke-width="4.2" /><rect x="1019.8" y="990" width="6.8" height="4.2" fill="#661371" /><use href="#xm" x="1001.5" y="992.1" fill="#661371" stroke="#661371" stroke-width="2.5"/><text x="1056.2" y="1001.9" font-size="28.6" font-family='"Liberation Sans", sans-serif' fill="#000" stroke="#000" stroke-width="0.5" font-style="italic" textLength="16.8" lengthAdjust="spacingAndGlyphs" >n</text><line x1="1082.5" y1="991.6" x2="1101" y2="991.6" stroke="#000" stroke-width="2.4" /><path d="M1096 986.1 L1104 991.6 L1096 997.1" fill="none" stroke="#000" stroke-width="2.4" stroke-linejoin="miter"/><text x="1113.5" y="1001.9" font-size="28.6" font-family='"Liberation Sans", sans-serif' fill="#000" stroke="#000" stroke-width="0.5" textLength="21.8" lengthAdjust="spacingAndGlyphs" >∞</text><text x="1136.5" y="1001.9" font-size="28.6" font-family='"Liberation Sans", sans-serif' fill="#000" stroke="#000" stroke-width="0.5" font-style="italic" >,</text><text x="1152.3" y="1001.9" font-size="28.6" font-family='"Liberation Sans", sans-serif' fill="#000" stroke="#000" stroke-width="0.5" font-style="italic" textLength="17.8" lengthAdjust="spacingAndGlyphs" >p</text><text x="1178" y="1001.9" font-size="28.6" font-family='"Liberation Sans", sans-serif' fill="#000" stroke="#000" stroke-width="0.5" textLength="21.3" lengthAdjust="spacingAndGlyphs" >=</text><text x="1208.3" y="1001.9" font-size="28.6" font-family='"Liberation Sans", sans-serif' fill="#000" stroke="#000" stroke-width="0.5" textLength="17.6" lengthAdjust="spacingAndGlyphs" >7</text><rect x="157" y="713.1" width="1100.6" height="478.1" fill="none" stroke="#000" stroke-width="2.6"/><line x1="146.5" y1="1191.2" x2="157" y2="1191.2" stroke="#000" stroke-width="2.6" /><text x="135" y="1202.9" font-size="33.5" font-family='"Liberation Sans", sans-serif' fill="#000" stroke="#000" stroke-width="0.5" text-anchor="end" textLength="47.5" lengthAdjust="spacingAndGlyphs" >0.0</text><line x1="146.5" y1="1095.6" x2="157" y2="1095.6" stroke="#000" stroke-width="2.6" /><text x="135" y="1107.3" font-size="33.5" font-family='"Liberation Sans", sans-serif' fill="#000" stroke="#000" stroke-width="0.5" text-anchor="end" textLength="47.5" lengthAdjust="spacingAndGlyphs" >0.2</text><line x1="146.5" y1="1000" x2="157" y2="1000" stroke="#000" stroke-width="2.6" /><text x="135" y="1011.7" font-size="33.5" font-family='"Liberation Sans", sans-serif' fill="#000" stroke="#000" stroke-width="0.5" text-anchor="end" textLength="47.5" lengthAdjust="spacingAndGlyphs" >0.4</text><line x1="146.5" y1="904.3" x2="157" y2="904.3" stroke="#000" stroke-width="2.6" /><text x="135" y="916" font-size="33.5" font-family='"Liberation Sans", sans-serif' fill="#000" stroke="#000" stroke-width="0.5" text-anchor="end" textLength="47.5" lengthAdjust="spacingAndGlyphs" >0.6</text><line x1="146.5" y1="808.7" x2="157" y2="808.7" stroke="#000" stroke-width="2.6" /><text x="135" y="820.4" font-size="33.5" font-family='"Liberation Sans", sans-serif' fill="#000" stroke="#000" stroke-width="0.5" text-anchor="end" textLength="47.5" lengthAdjust="spacingAndGlyphs" >0.8</text><line x1="146.5" y1="713.1" x2="157" y2="713.1" stroke="#000" stroke-width="2.6" /><text x="135" y="724.8" font-size="33.5" font-family='"Liberation Sans", sans-serif' fill="#000" stroke="#000" stroke-width="0.5" text-anchor="end" textLength="47.5" lengthAdjust="spacingAndGlyphs" >1.0</text><line x1="157" y1="1191.2" x2="157" y2="1201.7" stroke="#000" stroke-width="2.6" /><text x="157" y="1235.5" font-size="33.5" font-family='"Liberation Sans", sans-serif' fill="#000" stroke="#000" stroke-width="0.5" text-anchor="middle" textLength="47.5" lengthAdjust="spacingAndGlyphs" >0.6</text><line x1="377" y1="1191.2" x2="377" y2="1201.7" stroke="#000" stroke-width="2.6" /><text x="377" y="1235.5" font-size="33.5" font-family='"Liberation Sans", sans-serif' fill="#000" stroke="#000" stroke-width="0.5" text-anchor="middle" textLength="47.5" lengthAdjust="spacingAndGlyphs" >0.7</text><line x1="597" y1="1191.2" x2="597" y2="1201.7" stroke="#000" stroke-width="2.6" /><text x="597" y="1235.5" font-size="33.5" font-family='"Liberation Sans", sans-serif' fill="#000" stroke="#000" stroke-width="0.5" text-anchor="middle" textLength="47.5" lengthAdjust="spacingAndGlyphs" >0.8</text><line x1="817" y1="1191.2" x2="817" y2="1201.7" stroke="#000" stroke-width="2.6" /><text x="817" y="1235.5" font-size="33.5" font-family='"Liberation Sans", sans-serif' fill="#000" stroke="#000" stroke-width="0.5" text-anchor="middle" textLength="47.5" lengthAdjust="spacingAndGlyphs" >0.9</text><line x1="1037" y1="1191.2" x2="1037" y2="1201.7" stroke="#000" stroke-width="2.6" /><text x="1037" y="1235.5" font-size="33.5" font-family='"Liberation Sans", sans-serif' fill="#000" stroke="#000" stroke-width="0.5" text-anchor="middle" textLength="47.5" lengthAdjust="spacingAndGlyphs" >1.0</text><line x1="1257" y1="1191.2" x2="1257" y2="1201.7" stroke="#000" stroke-width="2.6" /><text x="1257" y="1235.5" font-size="33.5" font-family='"Liberation Sans", sans-serif' fill="#000" stroke="#000" stroke-width="0.5" text-anchor="middle" textLength="47.5" lengthAdjust="spacingAndGlyphs" >1.1</text><text x="707" y="1271.4" font-size="31" font-family='"Liberation Sans", sans-serif' fill="#000" stroke="#000" stroke-width="0.5" text-anchor="middle" font-style="italic" >g</text><text x="71" y="950" font-size="31.8" font-family='"Liberation Sans", sans-serif' fill="#000" stroke="#000" stroke-width="0.5" text-anchor="middle" textLength="190" lengthAdjust="spacingAndGlyphs" transform="rotate(-90 71 950)" >loss function</text><path d="M168.1 1380.6L154.3 1408.2L181.9 1408.2Z" fill="none" stroke="#476a98" stroke-width="2.9" stroke-linejoin="miter"/><path d="M153.1 1524.7L183.1 1524.7L168.1 1554.7Z" fill="#476a98"/><path d="M256.8 1448.1L243 1475.7L270.6 1475.7Z" fill="none" stroke="#7a9a45" stroke-width="2.9" stroke-linejoin="miter"/><path d="M241.8 1577L271.8 1577L256.8 1607Z" fill="#7a9a45"/><path d="M345.6 1502.1L331.8 1529.7L359.4 1529.7Z" fill="none" stroke="#963a3b" stroke-width="2.9" stroke-linejoin="miter"/><path d="M330.6 1634.6L360.6 1634.6L345.6 1664.6Z" fill="#963a3b"/><path d="M434.3 1555L420.5 1582.6L448.1 1582.6Z" fill="none" stroke="#838383" stroke-width="2.9" stroke-linejoin="miter"/><path d="M419.3 1693L449.3 1693L434.3 1723Z" fill="#838383"/><path d="M523.1 1611.8L509.3 1639.4L536.9 1639.4Z" fill="none" stroke="#d4591c" stroke-width="2.9" stroke-linejoin="miter"/><path d="M508.1 1747.3L538.1 1747.3L523.1 1777.3Z" fill="#d4591c"/><path d="M611.8 1654.9L598 1682.5L625.6 1682.5Z" fill="none" stroke="#661371" stroke-width="2.9" stroke-linejoin="miter"/><path d="M596.8 1789.6L626.8 1789.6L611.8 1819.6Z" fill="#661371"/><g clip-path="url(#clipC)"><line x1="168.1" y1="1397.7" x2="611.8" y2="1681.4" stroke="#868686" stroke-width="4.4" stroke-dasharray="4 6"/><line x1="168.1" y1="1540.2" x2="611.8" y2="1812.7" stroke="#868686" stroke-width="4.4" stroke-dasharray="25.6 6.4 4.2 6.4"/></g><rect x="161.3" y="1713.4" width="266" height="107.4" rx="5" fill="#fff" fill-opacity="0.85" stroke="#d0d0d0" stroke-width="2.6"/><line x1="173.2" y1="1740.8" x2="236" y2="1740.8" stroke="#868686" stroke-width="4.4" stroke-dasharray="25.6 6.4 4.2 6.4"/><line x1="173.2" y1="1790.2" x2="236" y2="1790.2" stroke="#868686" stroke-width="4.4" stroke-dasharray="4 6"/><path d="M269.7 1752.1Q267.0 1752.1 265.3 1751.0Q263.5 1749.9 262.7 1748.0Q261.8 1746.1 261.8 1743.7Q261.8 1741.2 262.7 1738.7Q263.5 1736.1 265.3 1733.9Q267.0 1731.7 269.6 1730.4L270.0 1731.0Q268.5 1732.2 267.6 1733.7Q266.6 1735.3 266.0 1737.0Q265.4 1738.7 265.2 1740.3Q264.9 1742.0 264.9 1743.4Q264.9 1745.3 265.4 1746.9Q265.9 1748.6 267.1 1749.7Q268.2 1750.7 270.3 1750.7Q272.3 1750.7 273.8 1749.7Q275.3 1748.7 276.4 1747.1Q277.5 1745.5 278.2 1743.6Q278.9 1741.7 279.2 1739.8Q279.5 1737.8 279.5 1736.3Q279.5 1735.6 279.4 1734.7Q279.3 1733.7 279.0 1732.9Q278.6 1732.0 277.9 1731.5Q277.2 1730.9 276.0 1730.9Q275.0 1730.9 274.1 1731.3Q273.2 1731.6 272.6 1732.3Q271.9 1733.0 271.9 1733.8Q271.9 1734.5 272.3 1734.9Q272.6 1735.3 272.9 1735.7Q273.2 1736.2 273.2 1736.8Q273.2 1737.6 272.7 1738.0Q272.1 1738.4 271.5 1738.4Q270.5 1738.4 270.2 1737.7Q269.8 1736.9 269.8 1736.0Q269.8 1734.3 270.7 1732.9Q271.5 1731.4 273.1 1730.5Q274.6 1729.6 276.7 1729.6Q278.4 1729.6 279.5 1730.3Q280.6 1730.9 281.3 1732.0Q281.9 1733.1 282.2 1734.4Q282.5 1735.7 282.5 1737.1Q282.5 1740.0 281.6 1742.7Q280.6 1745.4 278.9 1747.5Q277.2 1749.6 274.8 1750.9Q272.5 1752.1 269.7 1752.1Z" fill="#000" stroke="#000" stroke-width="1.1"/><text x="284" y="1756" font-size="22" font-family='"Liberation Sans", sans-serif' fill="#000" stroke="#000" stroke-width="0.5" font-style="italic" textLength="25" lengthAdjust="spacingAndGlyphs" >ml</text><text x="322" y="1751.7" font-size="31" font-family='"Liberation Sans", sans-serif' fill="#000" stroke="#000" stroke-width="0.5" textLength="90.5" lengthAdjust="spacingAndGlyphs" >decay</text><text x="259.5" y="1797.8" font-size="31" font-family='"Liberation Sans", sans-serif' fill="#000" stroke="#000" stroke-width="0.5" font-style="italic" textLength="27" lengthAdjust="spacingAndGlyphs" >m</text><text x="290" y="1804" font-size="22" font-family='"Liberation Sans", sans-serif' fill="#000" stroke="#000" stroke-width="0.5" font-style="italic" textLength="12" lengthAdjust="spacingAndGlyphs" >x</text><text x="315.5" y="1797.8" font-size="31" font-family='"Liberation Sans", sans-serif' fill="#000" stroke="#000" stroke-width="0.5" textLength="90.5" lengthAdjust="spacingAndGlyphs" >decay</text><rect x="146.2" y="1372.6" width="488.3" height="464" fill="none" stroke="#000" stroke-width="2.6"/><line x1="168.1" y1="1836.6" x2="168.1" y2="1845.6" stroke="#000" stroke-width="2.6" /><text x="168.1" y="1874.3" font-size="26.6" font-family='"Liberation Sans", sans-serif' fill="#000" stroke="#000" stroke-width="0.5" text-anchor="middle" >2</text><line x1="256.8" y1="1836.6" x2="256.8" y2="1845.6" stroke="#000" stroke-width="2.6" /><text x="256.8" y="1874.3" font-size="26.6" font-family='"Liberation Sans", sans-serif' fill="#000" stroke="#000" stroke-width="0.5" text-anchor="middle" >3</text><line x1="345.6" y1="1836.6" x2="345.6" y2="1845.6" stroke="#000" stroke-width="2.6" /><text x="345.6" y="1874.3" font-size="26.6" font-family='"Liberation Sans", sans-serif' fill="#000" stroke="#000" stroke-width="0.5" text-anchor="middle" >4</text><line x1="434.3" y1="1836.6" x2="434.3" y2="1845.6" stroke="#000" stroke-width="2.6" /><text x="434.3" y="1874.3" font-size="26.6" font-family='"Liberation Sans", sans-serif' fill="#000" stroke="#000" stroke-width="0.5" text-anchor="middle" >5</text><line x1="523.1" y1="1836.6" x2="523.1" y2="1845.6" stroke="#000" stroke-width="2.6" /><text x="523.1" y="1874.3" font-size="26.6" font-family='"Liberation Sans", sans-serif' fill="#000" stroke="#000" stroke-width="0.5" text-anchor="middle" >6</text><line x1="611.8" y1="1836.6" x2="611.8" y2="1845.6" stroke="#000" stroke-width="2.6" /><text x="611.8" y="1874.3" font-size="26.6" font-family='"Liberation Sans", sans-serif' fill="#000" stroke="#000" stroke-width="0.5" text-anchor="middle" >7</text><line x1="136.6" y1="1768.7" x2="146.2" y2="1768.7" stroke="#000" stroke-width="2.6" /><line x1="140.5" y1="1811.7" x2="146.2" y2="1811.7" stroke="#000" stroke-width="2.0" /><line x1="140.5" y1="1789" x2="146.2" y2="1789" stroke="#000" stroke-width="2.0" /><line x1="140.5" y1="1635" x2="146.2" y2="1635" stroke="#000" stroke-width="2.0" /><line x1="140.5" y1="1556.9" x2="146.2" y2="1556.9" stroke="#000" stroke-width="2.0" /><line x1="140.5" y1="1501.4" x2="146.2" y2="1501.4" stroke="#000" stroke-width="2.0" /><line x1="140.5" y1="1458.4" x2="146.2" y2="1458.4" stroke="#000" stroke-width="2.0" /><line x1="140.5" y1="1423.2" x2="146.2" y2="1423.2" stroke="#000" stroke-width="2.0" /><line x1="140.5" y1="1393.5" x2="146.2" y2="1393.5" stroke="#000" stroke-width="2.0" /><text x="126.5" y="1778.2" font-size="26.6" font-family='"Liberation Sans", sans-serif' fill="#000" stroke="#000" stroke-width="0.5" text-anchor="end" textLength="39" lengthAdjust="spacingAndGlyphs" >0.1</text><text x="126.5" y="1644.5" font-size="26.6" font-family='"Liberation Sans", sans-serif' fill="#000" stroke="#000" stroke-width="0.5" text-anchor="end" textLength="39" lengthAdjust="spacingAndGlyphs" >0.2</text><text x="126.5" y="1566.4" font-size="26.6" font-family='"Liberation Sans", sans-serif' fill="#000" stroke="#000" stroke-width="0.5" text-anchor="end" textLength="39" lengthAdjust="spacingAndGlyphs" >0.3</text><text x="392" y="1906" font-size="32" font-family='"Liberation Sans", sans-serif' fill="#000" stroke="#000" stroke-width="0.5" text-anchor="middle" font-style="italic" >p</text><g transform="translate(67 1658) rotate(-90)"><text x="0" y="0" font-size="31" font-family='"Liberation Sans", sans-serif' stroke="#000" stroke-width="0.5">|</text><text x="9" y="0" font-size="31" font-family='"Liberation Sans", sans-serif' font-style="italic" textLength="17" lengthAdjust="spacingAndGlyphs" stroke="#000" stroke-width="0.5">g</text><text x="27" y="4.5" font-size="21" font-family='"Liberation Sans", sans-serif' font-style="italic" textLength="10" lengthAdjust="spacingAndGlyphs" stroke="#000" stroke-width="0.5">c</text><text x="45" y="0" font-size="31" font-family='"Liberation Sans", sans-serif' textLength="20" lengthAdjust="spacingAndGlyphs" stroke="#000" stroke-width="0.5">−</text><text x="72" y="0" font-size="31" font-family='"Liberation Sans", sans-serif' font-style="italic" textLength="17" lengthAdjust="spacingAndGlyphs" stroke="#000" stroke-width="0.5">g</text><text x="90" y="4.5" font-size="21" font-family='"Liberation Sans", sans-serif' font-style="italic" textLength="10" lengthAdjust="spacingAndGlyphs" stroke="#000" stroke-width="0.5">c</text><text x="102" y="0" font-size="31" font-family='"Liberation Sans", sans-serif' stroke="#000" stroke-width="0.5">|</text></g><g transform="translate(67 1658) rotate(-90)"><text x="11" y="-17" font-size="22" font-family='"Liberation Sans", sans-serif' textLength="12" lengthAdjust="spacingAndGlyphs" stroke="#000" stroke-width="0.5">~</text></g><line x1="768.5" y1="1417.2" x2="1257.8" y2="1417.2" stroke="#e4e4e4" stroke-width="4.7" /><path d="M802.6 1768.5L788.8 1796.1L816.4 1796.1Z" fill="none" stroke="#476a98" stroke-width="2.9" stroke-linejoin="miter"/><path d="M787.6 1573.2L817.6 1573.2L802.6 1603.2Z" fill="#476a98"/><path d="M849.6 1660.2L835.8 1687.8L863.4 1687.8Z" fill="none" stroke="#7a9a45" stroke-width="2.9" stroke-linejoin="miter"/><path d="M834.6 1532.2L864.6 1532.2L849.6 1562.2Z" fill="#7a9a45"/><path d="M883 1597.1L869.2 1624.7L896.8 1624.7Z" fill="none" stroke="#963a3b" stroke-width="2.9" stroke-linejoin="miter"/><path d="M868 1498.2L898 1498.2L883 1528.2Z" fill="#963a3b"/><path d="M908.9 1550.2L895.1 1577.8L922.7 1577.8Z" fill="none" stroke="#838383" stroke-width="2.9" stroke-linejoin="miter"/><path d="M893.9 1472.7L923.9 1472.7L908.9 1502.7Z" fill="#838383"/><path d="M930.1 1512.3L916.3 1539.9L943.9 1539.9Z" fill="none" stroke="#d4591c" stroke-width="2.9" stroke-linejoin="miter"/><path d="M915.1 1455L945.1 1455L930.1 1485Z" fill="#d4591c"/><path d="M948 1490.2L934.2 1517.8L961.8 1517.8Z" fill="none" stroke="#661371" stroke-width="2.9" stroke-linejoin="miter"/><path d="M933 1444.3L963 1444.3L948 1474.3Z" fill="#661371"/><g clip-path="url(#clipD)"><path d="M802.6 1779.4 L804.1 1776.2 L805.7 1773 L807.2 1769.8 L808.8 1766.5 L810.3 1763.3 L811.9 1760 L813.5 1756.7 L815 1753.4 L816.6 1750.1 L818.1 1746.9 L819.7 1743.6 L821.2 1740.2 L822.8 1736.9 L824.3 1733.6 L825.9 1730.3 L827.5 1727 L829 1723.6 L830.6 1720.3 L832.1 1717 L833.7 1713.6 L835.2 1710.3 L836.8 1706.9 L838.3 1703.6 L839.9 1700.3 L841.5 1696.9 L843 1693.6 L844.6 1690.2 L846.1 1686.9 L847.7 1683.6 L849.2 1680.3 L850.8 1676.9 L852.4 1673.6 L853.9 1670.3 L855.5 1667 L857 1663.7 L858.6 1660.5 L860.1 1657.2 L861.7 1653.9 L863.2 1650.7 L864.8 1647.4 L866.4 1644.2 L867.9 1641 L869.5 1637.8 L871 1634.6 L872.6 1631.4 L874.1 1628.2 L875.7 1625.1 L877.2 1622 L878.8 1618.9 L880.4 1615.8 L881.9 1612.7 L883.5 1609.6 L885 1606.6 L886.6 1603.6 L888.1 1600.6 L889.7 1597.6 L891.2 1594.7 L892.8 1591.8 L894.4 1588.9 L895.9 1586 L897.5 1583.1 L899 1580.3 L900.6 1577.5 L902.1 1574.8 L903.7 1572 L905.3 1569.3 L906.8 1566.6 L908.4 1564 L909.9 1561.3 L911.5 1558.8 L913 1556.2 L914.6 1553.7 L916.1 1551.2 L917.7 1548.7 L919.3 1546.3 L920.8 1543.9 L922.4 1541.5 L923.9 1539.2 L925.5 1536.9 L927 1534.6 L928.6 1532.4 L930.1 1530.2 L931.7 1528 L933.3 1525.9 L934.8 1523.8 L936.4 1521.8 L937.9 1519.8 L939.5 1517.8 L941 1515.9 L942.6 1514 L944.1 1512.1 L945.7 1510.3 L947.3 1508.5 L948.8 1506.8 L950.4 1505.1 L951.9 1503.4 L953.5 1501.8 L955 1500.2 L956.6 1498.6 L958.2 1497.1 L959.7 1495.6 L961.3 1494.2 L962.8 1492.8 L964.4 1491.4 L965.9 1490.1 L967.5 1488.7 L969 1487.5 L970.6 1486.3 L972.2 1485.1 L973.7 1483.9 L975.3 1482.8 L976.8 1481.7 L978.4 1480.6 L979.9 1479.6 L981.5 1478.6 L983 1477.7 L984.6 1476.7 L986.2 1475.8 L987.7 1475 L989.3 1474.1 L990.8 1473.3 L992.4 1472.6 L993.9 1471.8 L995.5 1471.1 L997 1470.4 L998.6 1469.7 L1000.2 1469.1 L1001.7 1468.5 L1003.3 1467.9 L1004.8 1467.3 L1006.4 1466.8 L1007.9 1466.3 L1009.5 1465.8 L1011 1465.3 L1012.6 1464.9 L1014.2 1464.4 L1015.7 1464 L1017.3 1463.7 L1018.8 1463.3 L1020.4 1462.9 L1021.9 1462.6 L1023.5 1462.3 L1025.1 1462 L1026.6 1461.7 L1028.2 1461.4 L1029.7 1461.2 L1031.3 1460.9 L1032.8 1460.7 L1034.4 1460.5 L1035.9 1460.3 L1037.5 1460.1 L1039.1 1459.9 L1040.6 1459.8 L1042.2 1459.6 L1043.7 1459.5 L1045.3 1459.3 L1046.8 1459.2 L1048.4 1459.1 L1049.9 1459 L1051.5 1458.9 L1053.1 1458.8 L1054.6 1458.7 L1056.2 1458.6 L1057.7 1458.5 L1059.3 1458.4 L1060.8 1458.4 L1062.4 1458.3 L1063.9 1458.3 L1065.5 1458.2 L1067.1 1458.2 L1068.6 1458.1 L1070.2 1458.1 L1071.7 1458 L1073.3 1458 L1074.8 1458 L1076.4 1457.9 L1078 1457.9 L1079.5 1457.9 L1081.1 1457.9 L1082.6 1457.9 L1084.2 1457.8 L1085.7 1457.8 L1087.3 1457.8 L1088.8 1457.8 L1090.4 1457.8 L1092 1457.8 L1093.5 1457.8 L1095.1 1457.8 L1096.6 1457.7 L1098.2 1457.7 L1099.7 1457.7 L1101.3 1457.7 L1102.8 1457.7 L1104.4 1457.7 L1106 1457.7 L1107.5 1457.7 L1109.1 1457.7 L1110.6 1457.7 L1112.2 1457.7 L1113.7 1457.7 L1115.3 1457.7 L1116.8 1457.7 L1118.4 1457.7 L1120 1457.7 L1121.5 1457.7 L1123.1 1457.7 L1124.6 1457.7 L1126.2 1457.7 L1127.7 1457.7 L1129.3 1457.7 L1130.8 1457.7 L1132.4 1457.7 L1134 1457.7 L1135.5 1457.7 L1137.1 1457.7 L1138.6 1457.7 L1140.2 1457.7 L1141.7 1457.7 L1143.3 1457.7 L1144.9 1457.7 L1146.4 1457.7 L1148 1457.7 L1149.5 1457.7 L1151.1 1457.7 L1152.6 1457.7 L1154.2 1457.7 L1155.7 1457.7 L1157.3 1457.7 L1158.9 1457.7 L1160.4 1457.7 L1162 1457.7 L1163.5 1457.7 L1165.1 1457.7 L1166.6 1457.7 L1168.2 1457.7 L1169.7 1457.7 L1171.3 1457.7 L1172.9 1457.7 L1174.4 1457.7 L1176 1457.7 L1177.5 1457.7 L1179.1 1457.7 L1180.6 1457.7 L1182.2 1457.7 L1183.7 1457.7 L1185.3 1457.7 L1186.9 1457.7 L1188.4 1457.7 L1190 1457.7 L1191.5 1457.7 L1193.1 1457.7 L1194.6 1457.7 L1196.2 1457.7 L1197.8 1457.7 L1199.3 1457.7 L1200.9 1457.7 L1202.4 1457.7 L1204 1457.7 L1205.5 1457.7 L1207.1 1457.7 L1208.6 1457.7 L1210.2 1457.7 L1211.8 1457.7 L1213.3 1457.7 L1214.9 1457.7 L1216.4 1457.7 L1218 1457.7 L1219.5 1457.7 L1221.1 1457.7 L1222.6 1457.7 L1224.2 1457.7 L1225.8 1457.7 L1227.3 1457.7 L1228.9 1457.7 L1230.4 1457.7 L1232 1457.7 L1233.5 1457.7 L1235.1 1457.7 L1236.6 1457.7 L1238.2 1457.7 L1239.8 1457.7 L1241.3 1457.7 L1242.9 1457.7 L1244.4 1457.7 L1246 1457.7 L1247.5 1457.7 L1249.1 1457.7 L1250.6 1457.7 L1252.2 1457.7 L1253.8 1457.7 L1255.3 1457.7 L1256.9 1457.7 L1258.4 1457.7 L1260 1457.7 L1261.5 1457.7 L1263.1 1457.7 L1264.7 1457.7 L1266.2 1457.7 L1267.8 1457.7" fill="none" stroke="#868686" stroke-width="4.4" stroke-dasharray="4 6"/><path d="M802.6 1586.9 L804.1 1585.5 L805.7 1584.2 L807.2 1582.8 L808.8 1581.5 L810.3 1580.1 L811.9 1578.7 L813.5 1577.3 L815 1575.9 L816.6 1574.5 L818.1 1573.1 L819.7 1571.7 L821.2 1570.3 L822.8 1568.9 L824.3 1567.5 L825.9 1566 L827.5 1564.6 L829 1563.2 L830.6 1561.7 L832.1 1560.3 L833.7 1558.8 L835.2 1557.3 L836.8 1555.9 L838.3 1554.4 L839.9 1552.9 L841.5 1551.5 L843 1550 L844.6 1548.5 L846.1 1547 L847.7 1545.5 L849.2 1544 L850.8 1542.5 L852.4 1541.1 L853.9 1539.6 L855.5 1538.1 L857 1536.6 L858.6 1535.1 L860.1 1533.6 L861.7 1532.1 L863.2 1530.5 L864.8 1529 L866.4 1527.5 L867.9 1526 L869.5 1524.5 L871 1523 L872.6 1521.5 L874.1 1520 L875.7 1518.5 L877.2 1517.1 L878.8 1515.6 L880.4 1514.1 L881.9 1512.6 L883.5 1511.1 L885 1509.6 L886.6 1508.2 L888.1 1506.7 L889.7 1505.2 L891.2 1503.8 L892.8 1502.3 L894.4 1500.9 L895.9 1499.4 L897.5 1498 L899 1496.6 L900.6 1495.1 L902.1 1493.7 L903.7 1492.3 L905.3 1490.9 L906.8 1489.5 L908.4 1488.1 L909.9 1486.8 L911.5 1485.4 L913 1484 L914.6 1482.7 L916.1 1481.4 L917.7 1480 L919.3 1478.7 L920.8 1477.4 L922.4 1476.1 L923.9 1474.8 L925.5 1473.6 L927 1472.3 L928.6 1471 L930.1 1469.8 L931.7 1468.6 L933.3 1467.4 L934.8 1466.2 L936.4 1465 L937.9 1463.8 L939.5 1462.7 L941 1461.5 L942.6 1460.4 L944.1 1459.3 L945.7 1458.2 L947.3 1457.1 L948.8 1456.1 L950.4 1455 L951.9 1454 L953.5 1453 L955 1452 L956.6 1451 L958.2 1450 L959.7 1449 L961.3 1448.1 L962.8 1447.2 L964.4 1446.3 L965.9 1445.4 L967.5 1444.5 L969 1443.7 L970.6 1442.8 L972.2 1442 L973.7 1441.2 L975.3 1440.4 L976.8 1439.6 L978.4 1438.9 L979.9 1438.1 L981.5 1437.4 L983 1436.7 L984.6 1436 L986.2 1435.4 L987.7 1434.7 L989.3 1434.1 L990.8 1433.5 L992.4 1432.9 L993.9 1432.3 L995.5 1431.7 L997 1431.1 L998.6 1430.6 L1000.2 1430.1 L1001.7 1429.6 L1003.3 1429.1 L1004.8 1428.6 L1006.4 1428.1 L1007.9 1427.7 L1009.5 1427.3 L1011 1426.8 L1012.6 1426.4 L1014.2 1426 L1015.7 1425.7 L1017.3 1425.3 L1018.8 1424.9 L1020.4 1424.6 L1021.9 1424.3 L1023.5 1424 L1025.1 1423.7 L1026.6 1423.4 L1028.2 1423.1 L1029.7 1422.8 L1031.3 1422.6 L1032.8 1422.3 L1034.4 1422.1 L1035.9 1421.9 L1037.5 1421.7 L1039.1 1421.5 L1040.6 1421.3 L1042.2 1421.1 L1043.7 1420.9 L1045.3 1420.7 L1046.8 1420.6 L1048.4 1420.4 L1049.9 1420.3 L1051.5 1420.2 L1053.1 1420 L1054.6 1419.9 L1056.2 1419.8 L1057.7 1419.7 L1059.3 1419.6 L1060.8 1419.5 L1062.4 1419.4 L1063.9 1419.3 L1065.5 1419.2 L1067.1 1419.2 L1068.6 1419.1 L1070.2 1419 L1071.7 1419 L1073.3 1418.9 L1074.8 1418.8 L1076.4 1418.8 L1078 1418.7 L1079.5 1418.7 L1081.1 1418.7 L1082.6 1418.6 L1084.2 1418.6 L1085.7 1418.6 L1087.3 1418.5 L1088.8 1418.5 L1090.4 1418.5 L1092 1418.4 L1093.5 1418.4 L1095.1 1418.4 L1096.6 1418.4 L1098.2 1418.4 L1099.7 1418.4 L1101.3 1418.3 L1102.8 1418.3 L1104.4 1418.3 L1106 1418.3 L1107.5 1418.3 L1109.1 1418.3 L1110.6 1418.3 L1112.2 1418.3 L1113.7 1418.3 L1115.3 1418.3 L1116.8 1418.3 L1118.4 1418.2 L1120 1418.2 L1121.5 1418.2 L1123.1 1418.2 L1124.6 1418.2 L1126.2 1418.2 L1127.7 1418.2 L1129.3 1418.2 L1130.8 1418.2 L1132.4 1418.2 L1134 1418.2 L1135.5 1418.2 L1137.1 1418.2 L1138.6 1418.2 L1140.2 1418.2 L1141.7 1418.2 L1143.3 1418.2 L1144.9 1418.2 L1146.4 1418.2 L1148 1418.2 L1149.5 1418.2 L1151.1 1418.2 L1152.6 1418.2 L1154.2 1418.2 L1155.7 1418.2 L1157.3 1418.2 L1158.9 1418.2 L1160.4 1418.2 L1162 1418.2 L1163.5 1418.2 L1165.1 1418.2 L1166.6 1418.2 L1168.2 1418.2 L1169.7 1418.2 L1171.3 1418.2 L1172.9 1418.2 L1174.4 1418.2 L1176 1418.2 L1177.5 1418.2 L1179.1 1418.2 L1180.6 1418.2 L1182.2 1418.2 L1183.7 1418.2 L1185.3 1418.2 L1186.9 1418.2 L1188.4 1418.2 L1190 1418.2 L1191.5 1418.2 L1193.1 1418.2 L1194.6 1418.2 L1196.2 1418.2 L1197.8 1418.2 L1199.3 1418.2 L1200.9 1418.2 L1202.4 1418.2 L1204 1418.2 L1205.5 1418.2 L1207.1 1418.2 L1208.6 1418.2 L1210.2 1418.2 L1211.8 1418.2 L1213.3 1418.2 L1214.9 1418.2 L1216.4 1418.2 L1218 1418.2 L1219.5 1418.2 L1221.1 1418.2 L1222.6 1418.2 L1224.2 1418.2 L1225.8 1418.2 L1227.3 1418.2 L1228.9 1418.2 L1230.4 1418.2 L1232 1418.2 L1233.5 1418.2 L1235.1 1418.2 L1236.6 1418.2 L1238.2 1418.2 L1239.8 1418.2 L1241.3 1418.2 L1242.9 1418.2 L1244.4 1418.2 L1246 1418.2 L1247.5 1418.2 L1249.1 1418.2 L1250.6 1418.2 L1252.2 1418.2 L1253.8 1418.2 L1255.3 1418.2 L1256.9 1418.2 L1258.4 1418.2 L1260 1418.2 L1261.5 1418.2 L1263.1 1418.2 L1264.7 1418.2 L1266.2 1418.2 L1267.8 1418.2" fill="none" stroke="#868686" stroke-width="4.4" stroke-dasharray="25.6 6.4 4.2 6.4"/></g><rect x="851.3" y="1713.9" width="389.9" height="107.7" rx="5" fill="#fff" fill-opacity="0.85" stroke="#d0d0d0" stroke-width="2.6"/><line x1="864" y1="1740.5" x2="927" y2="1740.5" stroke="#868686" stroke-width="4.4" stroke-dasharray="25.6 6.4 4.2 6.4"/><line x1="864" y1="1789.9" x2="927" y2="1789.9" stroke="#868686" stroke-width="4.4" stroke-dasharray="4 6"/><path d="M960.7 1751.9Q958.0 1751.9 956.3 1750.8Q954.5 1749.7 953.7 1747.8Q952.8 1745.9 952.8 1743.5Q952.8 1741.0 953.7 1738.5Q954.5 1735.9 956.3 1733.7Q958.0 1731.5 960.6 1730.2L961.0 1730.8Q959.5 1732.0 958.6 1733.5Q957.6 1735.1 957.0 1736.8Q956.4 1738.5 956.2 1740.1Q955.9 1741.8 955.9 1743.2Q955.9 1745.1 956.4 1746.7Q956.9 1748.4 958.1 1749.5Q959.2 1750.5 961.3 1750.5Q963.3 1750.5 964.8 1749.5Q966.3 1748.5 967.4 1746.9Q968.5 1745.3 969.2 1743.4Q969.9 1741.5 970.2 1739.6Q970.5 1737.6 970.5 1736.1Q970.5 1735.4 970.4 1734.5Q970.3 1733.5 970.0 1732.7Q969.6 1731.8 968.9 1731.3Q968.2 1730.7 967.0 1730.7Q966.0 1730.7 965.1 1731.1Q964.2 1731.4 963.6 1732.1Q962.9 1732.8 962.9 1733.6Q962.9 1734.3 963.3 1734.7Q963.6 1735.1 963.9 1735.5Q964.2 1736.0 964.2 1736.6Q964.2 1737.4 963.7 1737.8Q963.1 1738.2 962.5 1738.2Q961.5 1738.2 961.2 1737.5Q960.8 1736.7 960.8 1735.8Q960.8 1734.1 961.7 1732.7Q962.5 1731.2 964.1 1730.3Q965.6 1729.4 967.7 1729.4Q969.4 1729.4 970.5 1730.1Q971.6 1730.7 972.3 1731.8Q972.9 1732.9 973.2 1734.2Q973.5 1735.5 973.5 1736.9Q973.5 1739.8 972.6 1742.5Q971.6 1745.2 969.9 1747.3Q968.2 1749.4 965.8 1750.7Q963.5 1751.9 960.7 1751.9Z" fill="#000" stroke="#000" stroke-width="1.1"/><text x="975" y="1756" font-size="22" font-family='"Liberation Sans", sans-serif' fill="#000" stroke="#000" stroke-width="0.5" font-style="italic" textLength="25" lengthAdjust="spacingAndGlyphs" >ml</text><text x="1001" y="1750.8" font-size="31" font-family='"Liberation Sans", sans-serif' fill="#000" stroke="#000" stroke-width="0.5" >:</text><text x="1022.8" y="1750.8" font-size="31" font-family='"Liberation Sans", sans-serif' fill="#000" stroke="#000" stroke-width="0.5" textLength="205" lengthAdjust="spacingAndGlyphs" >extrapolation</text><text x="950.5" y="1797.6" font-size="31" font-family='"Liberation Sans", sans-serif' fill="#000" stroke="#000" stroke-width="0.5" font-style="italic" textLength="27" lengthAdjust="spacingAndGlyphs" >m</text><text x="981" y="1804" font-size="22" font-family='"Liberation Sans", sans-serif' fill="#000" stroke="#000" stroke-width="0.5" font-style="italic" textLength="12" lengthAdjust="spacingAndGlyphs" >x</text><text x="994.7" y="1798.3" font-size="31" font-family='"Liberation Sans", sans-serif' fill="#000" stroke="#000" stroke-width="0.5" >:</text><text x="1016.5" y="1798.3" font-size="31" font-family='"Liberation Sans", sans-serif' fill="#000" stroke="#000" stroke-width="0.5" textLength="205" lengthAdjust="spacingAndGlyphs" >extrapolation</text><rect x="768.5" y="1372.6" width="489.3" height="464.1" fill="none" stroke="#000" stroke-width="2.6"/><line x1="758.9" y1="1836.7" x2="768.5" y2="1836.7" stroke="#000" stroke-width="2.6" /><text x="749.2" y="1846" font-size="26.6" font-family='"Liberation Sans", sans-serif' fill="#000" stroke="#000" stroke-width="0.5" text-anchor="end" textLength="36.4" lengthAdjust="spacingAndGlyphs" >0.2</text><line x1="758.9" y1="1784.1" x2="768.5" y2="1784.1" stroke="#000" stroke-width="2.6" /><text x="749.2" y="1793.4" font-size="26.6" font-family='"Liberation Sans", sans-serif' fill="#000" stroke="#000" stroke-width="0.5" text-anchor="end" textLength="36.4" lengthAdjust="spacingAndGlyphs" >0.3</text><line x1="758.9" y1="1731.4" x2="768.5" y2="1731.4" stroke="#000" stroke-width="2.6" /><text x="749.2" y="1740.7" font-size="26.6" font-family='"Liberation Sans", sans-serif' fill="#000" stroke="#000" stroke-width="0.5" text-anchor="end" textLength="36.4" lengthAdjust="spacingAndGlyphs" >0.4</text><line x1="758.9" y1="1678.8" x2="768.5" y2="1678.8" stroke="#000" stroke-width="2.6" /><text x="749.2" y="1688.1" font-size="26.6" font-family='"Liberation Sans", sans-serif' fill="#000" stroke="#000" stroke-width="0.5" text-anchor="end" textLength="36.4" lengthAdjust="spacingAndGlyphs" >0.5</text><line x1="758.9" y1="1626.1" x2="768.5" y2="1626.1" stroke="#000" stroke-width="2.6" /><text x="749.2" y="1635.4" font-size="26.6" font-family='"Liberation Sans", sans-serif' fill="#000" stroke="#000" stroke-width="0.5" text-anchor="end" textLength="36.4" lengthAdjust="spacingAndGlyphs" >0.6</text><line x1="758.9" y1="1573.5" x2="768.5" y2="1573.5" stroke="#000" stroke-width="2.6" /><text x="749.2" y="1582.8" font-size="26.6" font-family='"Liberation Sans", sans-serif' fill="#000" stroke="#000" stroke-width="0.5" text-anchor="end" textLength="36.4" lengthAdjust="spacingAndGlyphs" >0.7</text><line x1="758.9" y1="1520.9" x2="768.5" y2="1520.9" stroke="#000" stroke-width="2.6" /><text x="749.2" y="1530.2" font-size="26.6" font-family='"Liberation Sans", sans-serif' fill="#000" stroke="#000" stroke-width="0.5" text-anchor="end" textLength="36.4" lengthAdjust="spacingAndGlyphs" >0.8</text><line x1="758.9" y1="1468.2" x2="768.5" y2="1468.2" stroke="#000" stroke-width="2.6" /><text x="749.2" y="1477.5" font-size="26.6" font-family='"Liberation Sans", sans-serif' fill="#000" stroke="#000" stroke-width="0.5" text-anchor="end" textLength="36.4" lengthAdjust="spacingAndGlyphs" >0.9</text><line x1="758.9" y1="1415.6" x2="768.5" y2="1415.6" stroke="#000" stroke-width="2.6" /><text x="749.2" y="1424.9" font-size="26.6" font-family='"Liberation Sans", sans-serif' fill="#000" stroke="#000" stroke-width="0.5" text-anchor="end" textLength="36.4" lengthAdjust="spacingAndGlyphs" >1.0</text><line x1="989.4" y1="1836.7" x2="989.4" y2="1845.7" stroke="#000" stroke-width="2.6" /><line x1="1256.7" y1="1836.7" x2="1256.7" y2="1845.7" stroke="#000" stroke-width="2.6" /><line x1="802.6" y1="1836.7" x2="802.6" y2="1842.2" stroke="#000" stroke-width="2.0" /><line x1="849.6" y1="1836.7" x2="849.6" y2="1842.2" stroke="#000" stroke-width="2.0" /><line x1="883" y1="1836.7" x2="883" y2="1842.2" stroke="#000" stroke-width="2.0" /><line x1="908.9" y1="1836.7" x2="908.9" y2="1842.2" stroke="#000" stroke-width="2.0" /><line x1="930.1" y1="1836.7" x2="930.1" y2="1842.2" stroke="#000" stroke-width="2.0" /><line x1="948" y1="1836.7" x2="948" y2="1842.2" stroke="#000" stroke-width="2.0" /><line x1="963.5" y1="1836.7" x2="963.5" y2="1842.2" stroke="#000" stroke-width="2.0" /><line x1="977.2" y1="1836.7" x2="977.2" y2="1842.2" stroke="#000" stroke-width="2.0" /><line x1="1069.9" y1="1836.7" x2="1069.9" y2="1842.2" stroke="#000" stroke-width="2.0" /><line x1="1116.9" y1="1836.7" x2="1116.9" y2="1842.2" stroke="#000" stroke-width="2.0" /><line x1="1150.3" y1="1836.7" x2="1150.3" y2="1842.2" stroke="#000" stroke-width="2.0" /><line x1="1176.2" y1="1836.7" x2="1176.2" y2="1842.2" stroke="#000" stroke-width="2.0" /><line x1="1197.4" y1="1836.7" x2="1197.4" y2="1842.2" stroke="#000" stroke-width="2.0" /><line x1="1215.3" y1="1836.7" x2="1215.3" y2="1842.2" stroke="#000" stroke-width="2.0" /><line x1="1230.8" y1="1836.7" x2="1230.8" y2="1842.2" stroke="#000" stroke-width="2.0" /><line x1="1244.5" y1="1836.7" x2="1244.5" y2="1842.2" stroke="#000" stroke-width="2.0" /><text x="966.2" y="1874.8" font-size="27.7" font-family='"Liberation Sans", sans-serif' fill="#000" stroke="#000" stroke-width="0.5" textLength="32.5" lengthAdjust="spacingAndGlyphs" >10</text><text x="998.7" y="1865.5" font-size="20.3" font-family='"Liberation Sans", sans-serif' fill="#000" stroke="#000" stroke-width="0.5" >1</text><text x="1233.5" y="1874.8" font-size="27.7" font-family='"Liberation Sans", sans-serif' fill="#000" stroke="#000" stroke-width="0.5" textLength="32.5" lengthAdjust="spacingAndGlyphs" >10</text><text x="1266" y="1865.5" font-size="20.3" font-family='"Liberation Sans", sans-serif' fill="#000" stroke="#000" stroke-width="0.5" >2</text><text x="1012" y="1906" font-size="32" font-family='"Liberation Sans", sans-serif' fill="#000" stroke="#000" stroke-width="0.5" text-anchor="middle" font-style="italic" >p</text><g transform="translate(689 1620) rotate(-90)"><text x="0" y="0" font-size="31" font-family='"Liberation Sans", sans-serif' font-style="italic" textLength="17" lengthAdjust="spacingAndGlyphs" stroke="#000" stroke-width="0.5">g</text><text x="18" y="4.5" font-size="21" font-family='"Liberation Sans", sans-serif' font-style="italic" textLength="10" lengthAdjust="spacingAndGlyphs" stroke="#000" stroke-width="0.5">c</text></g><g transform="translate(689 1620) rotate(-90)"><text x="2" y="-17" font-size="22" font-family='"Liberation Sans", sans-serif' textLength="12" lengthAdjust="spacingAndGlyphs" stroke="#000" stroke-width="0.5">~</text></g><defs><path id="dm" d="M0 -15L14 0L0 15L-14 0Z"/></defs><line x1="145.3" y1="2023.3" x2="1257.7" y2="2023.3" stroke="#e6e6e6" stroke-width="4.8" /><g clip-path="url(#clipE)"><path d="M173.3 2227.8 L326 2265.6 L476 2230.7 L626.2 2230.6 L776.3 2224.2 L926.4 2234.9 L1076.5 2241.8 L1226.6 2244 L1226.6 2269.1 L1076.5 2273.4 L926.4 2275.8 L776.3 2300.3 L626.2 2330.4 L476 2349.8 L326 2408.2 L173.3 2445.9Z" fill="#476a98" fill-opacity="0.33"/><path d="M173.3 2158.9 L326 2169 L476 2171.1 L626.2 2174 L776.3 2184.8 L926.4 2179 L1076.5 2184.8 L1226.6 2187.9 L1226.6 2209.5 L1076.5 2215.6 L926.4 2212 L776.3 2227.8 L626.2 2235.7 L476 2261.5 L326 2292.4 L173.3 2345.5Z" fill="#7a9a45" fill-opacity="0.33"/><path d="M173.3 2108.7 L326 2120.9 L476 2102.3 L626.2 2131.1 L776.3 2141 L926.4 2137.3 L1076.5 2141.7 L1226.6 2146 L1226.6 2165.4 L1076.5 2169 L926.4 2168.2 L776.3 2185.5 L626.2 2185.6 L476 2178.4 L326 2214.2 L173.3 2283.8Z" fill="#963a3b" fill-opacity="0.33"/><path d="M173.3 2065 L326 2108.7 L476 2097.2 L626.2 2104.8 L776.3 2096.9 L926.4 2107.3 L1076.5 2107.3 L1226.6 2109.8 L1226.6 2129.2 L1076.5 2131.7 L926.4 2136 L776.3 2132.8 L626.2 2133.5 L476 2137.4 L326 2166.1 L173.3 2221.4Z" fill="#838383" fill-opacity="0.33"/><path d="M173.3 2041.3 L326 2054.2 L476 2063.7 L626.2 2070.9 L776.3 2078.2 L926.4 2088.6 L1076.5 2087.9 L1226.6 2090.8 L1226.6 2103.7 L1076.5 2105.1 L926.4 2110.2 L776.3 2114.1 L626.2 2121.1 L476 2126.8 L326 2136 L173.3 2156.1Z" fill="#d4591c" fill-opacity="0.33"/><path d="M173.3 2031.2 L326 2041.3 L476 2049.7 L626.2 2053.2 L776.3 2064.4 L926.4 2067.8 L1076.5 2067.8 L1226.6 2074.3 L1226.6 2087.2 L1076.5 2089.3 L926.4 2093.7 L776.3 2100.3 L626.2 2096.2 L476 2101.3 L326 2108.7 L173.3 2127.4Z" fill="#661371" fill-opacity="0.33"/><line x1="145.3" y1="2255.9" x2="1226.6" y2="2255.9" stroke="#476a98" stroke-width="4.8" stroke-dasharray="4.8 7.2"/><line x1="145.3" y1="2200.3" x2="1226.6" y2="2200.3" stroke="#7a9a45" stroke-width="4.8" stroke-dasharray="4.8 7.2"/><line x1="145.3" y1="2154.8" x2="1226.6" y2="2154.8" stroke="#963a3b" stroke-width="4.8" stroke-dasharray="4.8 7.2"/><line x1="145.3" y1="2119.5" x2="1226.6" y2="2119.5" stroke="#838383" stroke-width="4.8" stroke-dasharray="4.8 7.2"/><line x1="145.3" y1="2095.7" x2="1226.6" y2="2095.7" stroke="#d4591c" stroke-width="4.8" stroke-dasharray="4.8 7.2"/><line x1="145.3" y1="2081.1" x2="1226.6" y2="2081.1" stroke="#661371" stroke-width="4.8" stroke-dasharray="4.8 7.2"/><path d="M173.3 2336.9 L326 2336.9 L476 2290.2 L626.2 2280.5 L776.3 2262.3 L926.4 2255.3 L1076.5 2257.6 L1226.6 2256.5" fill="none" stroke="#476a98" stroke-width="5" stroke-linejoin="round"/><g fill="#476a98"><use href="#dm" x="173.3" y="2336.9"/><use href="#dm" x="326" y="2336.9"/><use href="#dm" x="476" y="2290.2"/><use href="#dm" x="626.2" y="2280.5"/><use href="#dm" x="776.3" y="2262.3"/><use href="#dm" x="926.4" y="2255.3"/><use href="#dm" x="1076.5" y="2257.6"/><use href="#dm" x="1226.6" y="2256.5"/></g><path d="M173.3 2252.2 L326 2230.7 L476 2216.3 L626.2 2204.9 L776.3 2206.3 L926.4 2195.5 L1076.5 2200.2 L1226.6 2198.7" fill="none" stroke="#7a9a45" stroke-width="5" stroke-linejoin="round"/><g fill="#7a9a45"><use href="#dm" x="173.3" y="2252.2"/><use href="#dm" x="326" y="2230.7"/><use href="#dm" x="476" y="2216.3"/><use href="#dm" x="626.2" y="2204.9"/><use href="#dm" x="776.3" y="2206.3"/><use href="#dm" x="926.4" y="2195.5"/><use href="#dm" x="1076.5" y="2200.2"/><use href="#dm" x="1226.6" y="2198.7"/></g><path d="M173.3 2196.3 L326 2167.6 L476 2140.4 L626.2 2158.4 L776.3 2163.2 L926.4 2152.8 L1076.5 2155.4 L1226.6 2155.7" fill="none" stroke="#963a3b" stroke-width="5" stroke-linejoin="round"/><g fill="#963a3b"><use href="#dm" x="173.3" y="2196.3"/><use href="#dm" x="326" y="2167.6"/><use href="#dm" x="476" y="2140.4"/><use href="#dm" x="626.2" y="2158.4"/><use href="#dm" x="776.3" y="2163.2"/><use href="#dm" x="926.4" y="2152.8"/><use href="#dm" x="1076.5" y="2155.4"/><use href="#dm" x="1226.6" y="2155.7"/></g><path d="M173.3 2143.2 L326 2137.4 L476 2117.3 L626.2 2119.1 L776.3 2114.8 L926.4 2121.6 L1076.5 2119.5 L1226.6 2119.5" fill="none" stroke="#838383" stroke-width="5" stroke-linejoin="round"/><g fill="#838383"><use href="#dm" x="173.3" y="2143.2"/><use href="#dm" x="326" y="2137.4"/><use href="#dm" x="476" y="2117.3"/><use href="#dm" x="626.2" y="2119.1"/><use href="#dm" x="776.3" y="2114.8"/><use href="#dm" x="926.4" y="2121.6"/><use href="#dm" x="1076.5" y="2119.5"/><use href="#dm" x="1226.6" y="2119.5"/></g><path d="M173.3 2098.7 L326 2095.1 L476 2095.2 L626.2 2096 L776.3 2096.2 L926.4 2099.4 L1076.5 2096.5 L1226.6 2097.2" fill="none" stroke="#d4591c" stroke-width="5" stroke-linejoin="round"/><g fill="#d4591c"><use href="#dm" x="173.3" y="2098.7"/><use href="#dm" x="326" y="2095.1"/><use href="#dm" x="476" y="2095.2"/><use href="#dm" x="626.2" y="2096"/><use href="#dm" x="776.3" y="2096.2"/><use href="#dm" x="926.4" y="2099.4"/><use href="#dm" x="1076.5" y="2096.5"/><use href="#dm" x="1226.6" y="2097.2"/></g><path d="M173.3 2079.3 L326 2075 L476 2075.5 L626.2 2074.7 L776.3 2082.4 L926.4 2080.7 L1076.5 2078.6 L1226.6 2080.7" fill="none" stroke="#661371" stroke-width="5" stroke-linejoin="round"/><g fill="#661371"><use href="#dm" x="173.3" y="2079.3"/><use href="#dm" x="326" y="2075"/><use href="#dm" x="476" y="2075.5"/><use href="#dm" x="626.2" y="2074.7"/><use href="#dm" x="776.3" y="2082.4"/><use href="#dm" x="926.4" y="2080.7"/><use href="#dm" x="1076.5" y="2078.6"/><use href="#dm" x="1226.6" y="2080.7"/></g></g><rect x="145.3" y="1971.2" width="1112.4" height="481.8" fill="none" stroke="#000" stroke-width="2.6"/><line x1="134.3" y1="2452.4" x2="145.3" y2="2452.4" stroke="#000" stroke-width="2.6" /><text x="123" y="2464" font-size="33.5" font-family='"Liberation Sans", sans-serif' fill="#000" stroke="#000" stroke-width="0.5" text-anchor="end" textLength="47.5" lengthAdjust="spacingAndGlyphs" >0.4</text><line x1="134.3" y1="2380.7" x2="145.3" y2="2380.7" stroke="#000" stroke-width="2.6" /><text x="123" y="2392.2" font-size="33.5" font-family='"Liberation Sans", sans-serif' fill="#000" stroke="#000" stroke-width="0.5" text-anchor="end" textLength="47.5" lengthAdjust="spacingAndGlyphs" >0.5</text><line x1="134.3" y1="2308.9" x2="145.3" y2="2308.9" stroke="#000" stroke-width="2.6" /><text x="123" y="2320.5" font-size="33.5" font-family='"Liberation Sans", sans-serif' fill="#000" stroke="#000" stroke-width="0.5" text-anchor="end" textLength="47.5" lengthAdjust="spacingAndGlyphs" >0.6</text><line x1="134.3" y1="2237.2" x2="145.3" y2="2237.2" stroke="#000" stroke-width="2.6" /><text x="123" y="2248.8" font-size="33.5" font-family='"Liberation Sans", sans-serif' fill="#000" stroke="#000" stroke-width="0.5" text-anchor="end" textLength="47.5" lengthAdjust="spacingAndGlyphs" >0.7</text><line x1="134.3" y1="2165.4" x2="145.3" y2="2165.4" stroke="#000" stroke-width="2.6" /><text x="123" y="2177" font-size="33.5" font-family='"Liberation Sans", sans-serif' fill="#000" stroke="#000" stroke-width="0.5" text-anchor="end" textLength="47.5" lengthAdjust="spacingAndGlyphs" >0.8</text><line x1="134.3" y1="2093.7" x2="145.3" y2="2093.7" stroke="#000" stroke-width="2.6" /><text x="123" y="2105.2" font-size="33.5" font-family='"Liberation Sans", sans-serif' fill="#000" stroke="#000" stroke-width="0.5" text-anchor="end" textLength="47.5" lengthAdjust="spacingAndGlyphs" >0.9</text><line x1="134.3" y1="2021.9" x2="145.3" y2="2021.9" stroke="#000" stroke-width="2.6" /><text x="123" y="2033.5" font-size="33.5" font-family='"Liberation Sans", sans-serif' fill="#000" stroke="#000" stroke-width="0.5" text-anchor="end" textLength="47.5" lengthAdjust="spacingAndGlyphs" >1.0</text><line x1="326" y1="2453" x2="326" y2="2463.3" stroke="#000" stroke-width="2.6" /><text x="336" y="2498.3" font-size="31.8" font-family='"Liberation Sans", sans-serif' fill="#000" stroke="#000" stroke-width="0.5" text-anchor="end" textLength="35.5" lengthAdjust="spacingAndGlyphs" >10</text><text x="338.3" y="2486.6" font-size="22.6" font-family='"Liberation Sans", sans-serif' fill="#000" stroke="#000" stroke-width="0.5" >2</text><line x1="626.2" y1="2453" x2="626.2" y2="2463.3" stroke="#000" stroke-width="2.6" /><text x="636.2" y="2498.3" font-size="31.8" font-family='"Liberation Sans", sans-serif' fill="#000" stroke="#000" stroke-width="0.5" text-anchor="end" textLength="35.5" lengthAdjust="spacingAndGlyphs" >10</text><text x="638.5" y="2486.6" font-size="22.6" font-family='"Liberation Sans", sans-serif' fill="#000" stroke="#000" stroke-width="0.5" >3</text><line x1="926.4" y1="2453" x2="926.4" y2="2463.3" stroke="#000" stroke-width="2.6" /><text x="936.4" y="2498.3" font-size="31.8" font-family='"Liberation Sans", sans-serif' fill="#000" stroke="#000" stroke-width="0.5" text-anchor="end" textLength="35.5" lengthAdjust="spacingAndGlyphs" >10</text><text x="938.7" y="2486.6" font-size="22.6" font-family='"Liberation Sans", sans-serif' fill="#000" stroke="#000" stroke-width="0.5" >4</text><line x1="1226.6" y1="2453" x2="1226.6" y2="2463.3" stroke="#000" stroke-width="2.6" /><text x="1236.6" y="2498.3" font-size="31.8" font-family='"Liberation Sans", sans-serif' fill="#000" stroke="#000" stroke-width="0.5" text-anchor="end" textLength="35.5" lengthAdjust="spacingAndGlyphs" >10</text><text x="1238.9" y="2486.6" font-size="22.6" font-family='"Liberation Sans", sans-serif' fill="#000" stroke="#000" stroke-width="0.5" >5</text><line x1="169" y1="2453" x2="169" y2="2459" stroke="#000" stroke-width="2.0" /><line x1="206.5" y1="2453" x2="206.5" y2="2459" stroke="#000" stroke-width="2.0" /><line x1="235.6" y1="2453" x2="235.6" y2="2459" stroke="#000" stroke-width="2.0" /><line x1="259.4" y1="2453" x2="259.4" y2="2459" stroke="#000" stroke-width="2.0" /><line x1="279.5" y1="2453" x2="279.5" y2="2459" stroke="#000" stroke-width="2.0" /><line x1="296.9" y1="2453" x2="296.9" y2="2459" stroke="#000" stroke-width="2.0" /><line x1="312.3" y1="2453" x2="312.3" y2="2459" stroke="#000" stroke-width="2.0" /><line x1="416.4" y1="2453" x2="416.4" y2="2459" stroke="#000" stroke-width="2.0" /><line x1="469.2" y1="2453" x2="469.2" y2="2459" stroke="#000" stroke-width="2.0" /><line x1="506.7" y1="2453" x2="506.7" y2="2459" stroke="#000" stroke-width="2.0" /><line x1="535.8" y1="2453" x2="535.8" y2="2459" stroke="#000" stroke-width="2.0" /><line x1="559.6" y1="2453" x2="559.6" y2="2459" stroke="#000" stroke-width="2.0" /><line x1="579.7" y1="2453" x2="579.7" y2="2459" stroke="#000" stroke-width="2.0" /><line x1="597.1" y1="2453" x2="597.1" y2="2459" stroke="#000" stroke-width="2.0" /><line x1="612.5" y1="2453" x2="612.5" y2="2459" stroke="#000" stroke-width="2.0" /><line x1="716.6" y1="2453" x2="716.6" y2="2459" stroke="#000" stroke-width="2.0" /><line x1="769.4" y1="2453" x2="769.4" y2="2459" stroke="#000" stroke-width="2.0" /><line x1="806.9" y1="2453" x2="806.9" y2="2459" stroke="#000" stroke-width="2.0" /><line x1="836" y1="2453" x2="836" y2="2459" stroke="#000" stroke-width="2.0" /><line x1="859.8" y1="2453" x2="859.8" y2="2459" stroke="#000" stroke-width="2.0" /><line x1="879.9" y1="2453" x2="879.9" y2="2459" stroke="#000" stroke-width="2.0" /><line x1="897.3" y1="2453" x2="897.3" y2="2459" stroke="#000" stroke-width="2.0" /><line x1="912.7" y1="2453" x2="912.7" y2="2459" stroke="#000" stroke-width="2.0" /><line x1="1016.8" y1="2453" x2="1016.8" y2="2459" stroke="#000" stroke-width="2.0" /><line x1="1069.6" y1="2453" x2="1069.6" y2="2459" stroke="#000" stroke-width="2.0" /><line x1="1107.1" y1="2453" x2="1107.1" y2="2459" stroke="#000" stroke-width="2.0" /><line x1="1136.2" y1="2453" x2="1136.2" y2="2459" stroke="#000" stroke-width="2.0" /><line x1="1160" y1="2453" x2="1160" y2="2459" stroke="#000" stroke-width="2.0" /><line x1="1180.1" y1="2453" x2="1180.1" y2="2459" stroke="#000" stroke-width="2.0" /><line x1="1197.5" y1="2453" x2="1197.5" y2="2459" stroke="#000" stroke-width="2.0" /><line x1="1212.9" y1="2453" x2="1212.9" y2="2459" stroke="#000" stroke-width="2.0" /><text x="702.5" y="2542" font-size="31" font-family='"Liberation Sans", sans-serif' fill="#000" stroke="#000" stroke-width="0.5" text-anchor="middle" textLength="300" lengthAdjust="spacingAndGlyphs" >measurement shots</text><g transform="translate(52.6 2228.5) rotate(-90)"><text x="0" y="0" font-size="31" font-family='"Liberation Sans", sans-serif' font-style="italic" textLength="17" lengthAdjust="spacingAndGlyphs" stroke="#000" stroke-width="0.5">g</text><text x="18" y="4.5" font-size="21" font-family='"Liberation Sans", sans-serif' font-style="italic" textLength="10" lengthAdjust="spacingAndGlyphs" stroke="#000" stroke-width="0.5">c</text></g><g transform="translate(52.6 2228.5) rotate(-90)"><text x="2" y="-17" font-size="22" font-family='"Liberation Sans", sans-serif' textLength="12" lengthAdjust="spacingAndGlyphs" stroke="#000" stroke-width="0.5">~</text></g><text x="5.9" y="43.6" font-size="54" font-family='"Liberation Serif", serif' fill="#505050" >a</text><text x="29.7" y="43.6" font-size="54" font-family='"Liberation Serif", serif' fill="#505050" >)</text><text x="5.6" y="705.7" font-size="54" font-family='"Liberation Serif", serif' fill="#505050" >b</text><text x="31.8" y="705.7" font-size="54" font-family='"Liberation Serif", serif' fill="#505050" >)</text><text x="13.4" y="1367.9" font-size="54" font-family='"Liberation Serif", serif' fill="#505050" >c</text><text x="36.2" y="1367.9" font-size="54" font-family='"Liberation Serif", serif' fill="#505050" >)</text><text x="674.1" y="1368.2" font-size="54" font-family='"Liberation Serif", serif' fill="#505050" >d</text><text x="700.8" y="1368.2" font-size="54" font-family='"Liberation Serif", serif' fill="#505050" >)</text><text x="13.4" y="1976.1" font-size="54" font-family='"Liberation Serif", serif' fill="#505050" >e</text><text x="38.1" y="1976.1" font-size="54" font-family='"Liberation Serif", serif' fill="#505050" >)</text></svg></body></html>
